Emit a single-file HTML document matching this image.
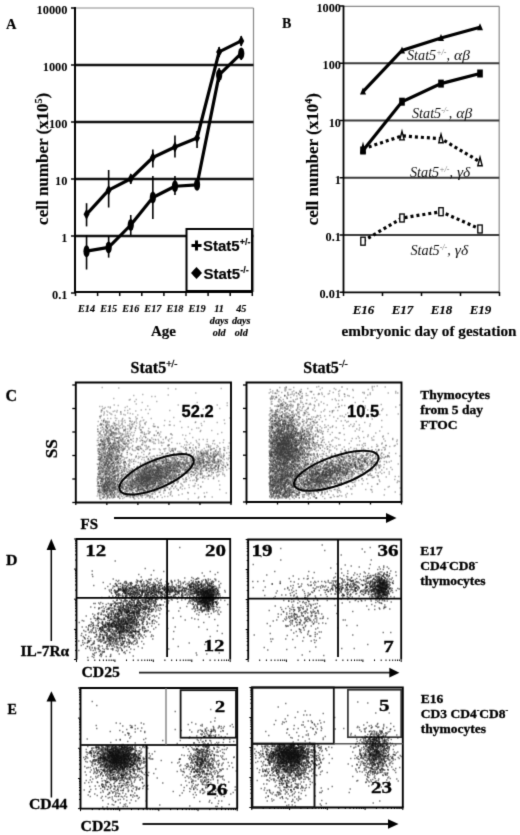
<!DOCTYPE html>
<html><head><meta charset="utf-8"><style>
html,body{margin:0;padding:0;background:#fff;width:520px;height:835px;overflow:hidden}
svg{display:block}
</style></head><body>
<svg width="520" height="835" viewBox="0 0 520 835">
<defs><filter id="soft" filterUnits="userSpaceOnUse" x="0" y="0" width="520" height="835" color-interpolation-filters="sRGB"><feConvolveMatrix order="3" kernelMatrix="1 6 1 6 36 6 1 6 1" divisor="64" edgeMode="duplicate"/></filter></defs>
<g filter="url(#soft)">
<rect width="520" height="835" fill="#fff"/>
<text x="6" y="29" font-family="Liberation Serif" font-size="14.5" font-weight="bold" font-style="normal" text-anchor="start" fill="#000" stroke="#000" stroke-width="0.15" >A</text>
<line x1="75" y1="8" x2="253.5" y2="8" stroke="#888" stroke-width="1.2" />
<line x1="253.5" y1="8" x2="253.5" y2="292" stroke="#888" stroke-width="1.2" />
<line x1="75" y1="65.0" x2="253.5" y2="65.0" stroke="#111" stroke-width="2.3" />
<line x1="75" y1="122.0" x2="253.5" y2="122.0" stroke="#111" stroke-width="2.3" />
<line x1="75" y1="179.0" x2="253.5" y2="179.0" stroke="#111" stroke-width="2.3" />
<line x1="75" y1="236.0" x2="253.5" y2="236.0" stroke="#111" stroke-width="2.3" />
<line x1="75" y1="7" x2="75" y2="293" stroke="#000" stroke-width="2" />
<line x1="71" y1="8.0" x2="75" y2="8.0" stroke="#000" stroke-width="1.5" />
<line x1="71" y1="65.0" x2="75" y2="65.0" stroke="#000" stroke-width="1.5" />
<line x1="71" y1="122.0" x2="75" y2="122.0" stroke="#000" stroke-width="1.5" />
<line x1="71" y1="179.0" x2="75" y2="179.0" stroke="#000" stroke-width="1.5" />
<line x1="71" y1="236.0" x2="75" y2="236.0" stroke="#000" stroke-width="1.5" />
<line x1="71" y1="293.0" x2="75" y2="293.0" stroke="#000" stroke-width="1.5" />
<text transform="translate(67.5,13.6) scale(1,1.05)" font-family="Liberation Serif" font-size="12.4" font-weight="bold" text-anchor="end">10000</text>
<text transform="translate(67.5,70.6) scale(1,1.05)" font-family="Liberation Serif" font-size="12.4" font-weight="bold" text-anchor="end">1000</text>
<text transform="translate(67.5,127.6) scale(1,1.05)" font-family="Liberation Serif" font-size="12.4" font-weight="bold" text-anchor="end">100</text>
<text transform="translate(67.5,184.6) scale(1,1.05)" font-family="Liberation Serif" font-size="12.4" font-weight="bold" text-anchor="end">10</text>
<text transform="translate(67.5,241.6) scale(1,1.05)" font-family="Liberation Serif" font-size="12.4" font-weight="bold" text-anchor="end">1</text>
<text transform="translate(67.5,298.6) scale(1,1.05)" font-family="Liberation Serif" font-size="12.4" font-weight="bold" text-anchor="end">0.1</text>
<line x1="74" y1="292" x2="253" y2="292" stroke="#000" stroke-width="2.2" />
<line x1="75.5" y1="292" x2="75.5" y2="296" stroke="#000" stroke-width="1.5" />
<line x1="97.6" y1="292" x2="97.6" y2="296" stroke="#000" stroke-width="1.5" />
<line x1="119.7" y1="292" x2="119.7" y2="296" stroke="#000" stroke-width="1.5" />
<line x1="141.8" y1="292" x2="141.8" y2="296" stroke="#000" stroke-width="1.5" />
<line x1="163.9" y1="292" x2="163.9" y2="296" stroke="#000" stroke-width="1.5" />
<line x1="186.0" y1="292" x2="186.0" y2="296" stroke="#000" stroke-width="1.5" />
<line x1="208.10000000000002" y1="292" x2="208.10000000000002" y2="296" stroke="#000" stroke-width="1.5" />
<line x1="230.20000000000002" y1="292" x2="230.20000000000002" y2="296" stroke="#000" stroke-width="1.5" />
<line x1="252.3" y1="292" x2="252.3" y2="296" stroke="#000" stroke-width="1.5" />
<text x="86.55" y="312" font-family="Liberation Serif" font-size="10.2" font-weight="bold" font-style="italic" text-anchor="middle" fill="#000" stroke="#000" stroke-width="0.15" >E14</text>
<text x="108.65" y="312" font-family="Liberation Serif" font-size="10.2" font-weight="bold" font-style="italic" text-anchor="middle" fill="#000" stroke="#000" stroke-width="0.15" >E15</text>
<text x="130.75" y="312" font-family="Liberation Serif" font-size="10.2" font-weight="bold" font-style="italic" text-anchor="middle" fill="#000" stroke="#000" stroke-width="0.15" >E16</text>
<text x="152.85000000000002" y="312" font-family="Liberation Serif" font-size="10.2" font-weight="bold" font-style="italic" text-anchor="middle" fill="#000" stroke="#000" stroke-width="0.15" >E17</text>
<text x="174.95" y="312" font-family="Liberation Serif" font-size="10.2" font-weight="bold" font-style="italic" text-anchor="middle" fill="#000" stroke="#000" stroke-width="0.15" >E18</text>
<text x="197.05" y="312" font-family="Liberation Serif" font-size="10.2" font-weight="bold" font-style="italic" text-anchor="middle" fill="#000" stroke="#000" stroke-width="0.15" >E19</text>
<text x="219.15" y="312" font-family="Liberation Serif" font-size="10.2" font-weight="bold" font-style="italic" text-anchor="middle" fill="#000" stroke="#000" stroke-width="0.15" >11</text>
<text x="219.15" y="323.5" font-family="Liberation Serif" font-size="10.2" font-weight="bold" font-style="italic" text-anchor="middle" fill="#000" stroke="#000" stroke-width="0.15" >days</text>
<text x="219.15" y="335.8" font-family="Liberation Serif" font-size="10.2" font-weight="bold" font-style="italic" text-anchor="middle" fill="#000" stroke="#000" stroke-width="0.15" >old</text>
<text x="241.25" y="312" font-family="Liberation Serif" font-size="10.2" font-weight="bold" font-style="italic" text-anchor="middle" fill="#000" stroke="#000" stroke-width="0.15" >45</text>
<text x="241.25" y="323.5" font-family="Liberation Serif" font-size="10.2" font-weight="bold" font-style="italic" text-anchor="middle" fill="#000" stroke="#000" stroke-width="0.15" >days</text>
<text x="241.25" y="335.8" font-family="Liberation Serif" font-size="10.2" font-weight="bold" font-style="italic" text-anchor="middle" fill="#000" stroke="#000" stroke-width="0.15" >old</text>
<text x="163.4" y="336" font-family="Liberation Serif" font-size="15" font-weight="bold" font-style="normal" text-anchor="middle" fill="#000" stroke="#000" stroke-width="0.15" >Age</text>
<text transform="translate(48.2,158.8) rotate(-90)" font-family="Liberation Serif" font-size="17" font-weight="bold" text-anchor="middle" stroke="#000" stroke-width="0.15">cell number (x10<tspan dy="-6" font-size="10">5</tspan><tspan dy="6">)</tspan></text>
<line x1="86.55" y1="203.2" x2="86.55" y2="226.4" stroke="#000" stroke-width="1.6" />
<line x1="108.65" y1="170" x2="108.65" y2="207.5" stroke="#000" stroke-width="1.6" />
<line x1="130.75" y1="174" x2="130.75" y2="184" stroke="#000" stroke-width="1.6" />
<line x1="152.85000000000002" y1="149.5" x2="152.85000000000002" y2="167.5" stroke="#000" stroke-width="1.6" />
<line x1="174.95" y1="135.5" x2="174.95" y2="157.5" stroke="#000" stroke-width="1.6" />
<line x1="197.05" y1="131" x2="197.05" y2="148" stroke="#000" stroke-width="1.6" />
<line x1="219.15" y1="47" x2="219.15" y2="57" stroke="#000" stroke-width="1.6" />
<line x1="241.25" y1="36" x2="241.25" y2="46" stroke="#000" stroke-width="1.6" />
<line x1="86.55" y1="235" x2="86.55" y2="269.5" stroke="#000" stroke-width="1.6" />
<line x1="108.65" y1="236" x2="108.65" y2="257.6" stroke="#000" stroke-width="1.6" />
<line x1="130.75" y1="215" x2="130.75" y2="235" stroke="#000" stroke-width="1.6" />
<line x1="152.85000000000002" y1="176" x2="152.85000000000002" y2="219" stroke="#000" stroke-width="1.6" />
<line x1="174.95" y1="176" x2="174.95" y2="195" stroke="#000" stroke-width="1.6" />
<line x1="197.05" y1="181" x2="197.05" y2="189" stroke="#000" stroke-width="1.6" />
<line x1="219.15" y1="68" x2="219.15" y2="82" stroke="#000" stroke-width="1.6" />
<line x1="241.25" y1="48" x2="241.25" y2="60" stroke="#000" stroke-width="1.6" />
<polyline points="86.55,214.3 108.65,190.2 130.75,178.75 152.85000000000002,157.5 174.95,147 197.05,138 219.15,51.9 241.25,40.9" fill="none" stroke="#000" stroke-width="3.2" stroke-linejoin="round"/>
<polyline points="86.55,251.2 108.65,247.4 130.75,225 152.85000000000002,197.5 174.95,186.25 197.05,184.8 219.15,74.9 241.25,53.4" fill="none" stroke="#000" stroke-width="3.2" stroke-linejoin="round"/>
<path d="M86.55 208.8 L89.55 214.3 L86.55 219.8 L83.55 214.3Z" fill="#000"/>
<path d="M108.65 184.7 L111.65 190.2 L108.65 195.7 L105.65 190.2Z" fill="#000"/>
<path d="M130.75 173.25 L133.75 178.75 L130.75 184.25 L127.75 178.75Z" fill="#000"/>
<path d="M152.85000000000002 152.0 L155.85000000000002 157.5 L152.85000000000002 163.0 L149.85000000000002 157.5Z" fill="#000"/>
<path d="M174.95 141.5 L177.95 147 L174.95 152.5 L171.95 147Z" fill="#000"/>
<path d="M197.05 132.5 L200.05 138 L197.05 143.5 L194.05 138Z" fill="#000"/>
<path d="M219.15 46.4 L222.15 51.9 L219.15 57.4 L216.15 51.9Z" fill="#000"/>
<path d="M241.25 35.4 L244.25 40.9 L241.25 46.4 L238.25 40.9Z" fill="#000"/>
<ellipse cx="86.55" cy="251.2" rx="3.1" ry="6" fill="#000"/>
<ellipse cx="108.65" cy="247.4" rx="3.1" ry="6" fill="#000"/>
<ellipse cx="130.75" cy="225" rx="3.1" ry="6" fill="#000"/>
<ellipse cx="152.85000000000002" cy="197.5" rx="3.1" ry="6" fill="#000"/>
<ellipse cx="174.95" cy="186.25" rx="3.1" ry="6" fill="#000"/>
<ellipse cx="197.05" cy="184.8" rx="3.1" ry="6" fill="#000"/>
<ellipse cx="219.15" cy="74.9" rx="3.1" ry="6" fill="#000"/>
<ellipse cx="241.25" cy="53.4" rx="3.1" ry="6" fill="#000"/>
<rect x="186.5" y="229" width="65.5" height="62" fill="#fff" stroke="#000" stroke-width="2"/>
<path d="M191.5 245.5H201.5M196.5 240.5V250.5" stroke="#000" stroke-width="3"/>
<path d="M196.5 267L202.0 273L196.5 279L191.0 273Z" fill="#000"/>
<ellipse cx="196.5" cy="273" rx="3.5" ry="4" fill="#000"/>
<text x="203" y="250.8" font-family="Liberation Sans" font-size="15" font-weight="bold" font-style="normal" text-anchor="start" fill="#000" stroke="#000" stroke-width="0.15" >Stat5<tspan dy="-6" font-size="9">+/-</tspan></text>
<text x="203.5" y="278.6" font-family="Liberation Sans" font-size="15" font-weight="bold" font-style="normal" text-anchor="start" fill="#000" stroke="#000" stroke-width="0.15" >Stat5<tspan dy="-6" font-size="9">-/-</tspan></text>
<text x="282" y="28" font-family="Liberation Serif" font-size="14" font-weight="bold" font-style="normal" text-anchor="start" fill="#000" stroke="#000" stroke-width="0.15" >B</text>
<line x1="343.5" y1="6.3" x2="499.2" y2="6.3" stroke="#888" stroke-width="1.2" />
<line x1="499.2" y1="6.3" x2="499.2" y2="292" stroke="#888" stroke-width="1.2" />
<line x1="343.5" y1="63.25" x2="499.2" y2="63.25" stroke="#3a3a3a" stroke-width="2" />
<line x1="343.5" y1="120.5" x2="499.2" y2="120.5" stroke="#3a3a3a" stroke-width="2" />
<line x1="343.5" y1="177.75" x2="499.2" y2="177.75" stroke="#3a3a3a" stroke-width="2" />
<line x1="343.5" y1="235.0" x2="499.2" y2="235.0" stroke="#3a3a3a" stroke-width="2" />
<line x1="343.5" y1="5.5" x2="343.5" y2="293" stroke="#000" stroke-width="1.8" />
<line x1="339.5" y1="6.0" x2="343.5" y2="6.0" stroke="#000" stroke-width="1.5" />
<text transform="translate(341,12.0) scale(1,1.05)" font-family="Liberation Serif" font-size="12.3" font-weight="bold" text-anchor="end">1000</text>
<line x1="339.5" y1="63.25" x2="343.5" y2="63.25" stroke="#000" stroke-width="1.5" />
<text transform="translate(341,69.2) scale(1,1.05)" font-family="Liberation Serif" font-size="12.3" font-weight="bold" text-anchor="end">100</text>
<line x1="339.5" y1="120.5" x2="343.5" y2="120.5" stroke="#000" stroke-width="1.5" />
<text transform="translate(341,126.5) scale(1,1.05)" font-family="Liberation Serif" font-size="12.3" font-weight="bold" text-anchor="end">10</text>
<line x1="339.5" y1="177.75" x2="343.5" y2="177.75" stroke="#000" stroke-width="1.5" />
<text transform="translate(341,183.8) scale(1,1.05)" font-family="Liberation Serif" font-size="12.3" font-weight="bold" text-anchor="end">1</text>
<line x1="339.5" y1="235.0" x2="343.5" y2="235.0" stroke="#000" stroke-width="1.5" />
<text transform="translate(341,241.0) scale(1,1.05)" font-family="Liberation Serif" font-size="12.3" font-weight="bold" text-anchor="end">0.1</text>
<line x1="339.5" y1="292.25" x2="343.5" y2="292.25" stroke="#000" stroke-width="1.5" />
<text transform="translate(341,298.2) scale(1,1.05)" font-family="Liberation Serif" font-size="12.3" font-weight="bold" text-anchor="end">0.01</text>
<line x1="342.5" y1="292.4" x2="499.2" y2="292.4" stroke="#000" stroke-width="1.8" />
<line x1="343.5" y1="292" x2="343.5" y2="296" stroke="#000" stroke-width="1.5" />
<line x1="382.5" y1="292" x2="382.5" y2="296" stroke="#000" stroke-width="1.5" />
<line x1="421.5" y1="292" x2="421.5" y2="296" stroke="#000" stroke-width="1.5" />
<line x1="460.5" y1="292" x2="460.5" y2="296" stroke="#000" stroke-width="1.5" />
<line x1="499.5" y1="292" x2="499.5" y2="296" stroke="#000" stroke-width="1.5" />
<text x="363.5" y="313.5" font-family="Liberation Serif" font-size="13" font-weight="bold" font-style="italic" text-anchor="middle" fill="#000" stroke="#000" stroke-width="0.15" >E16</text>
<text x="402.5" y="313.5" font-family="Liberation Serif" font-size="13" font-weight="bold" font-style="italic" text-anchor="middle" fill="#000" stroke="#000" stroke-width="0.15" >E17</text>
<text x="441.5" y="313.5" font-family="Liberation Serif" font-size="13" font-weight="bold" font-style="italic" text-anchor="middle" fill="#000" stroke="#000" stroke-width="0.15" >E18</text>
<text x="480.5" y="313.5" font-family="Liberation Serif" font-size="13" font-weight="bold" font-style="italic" text-anchor="middle" fill="#000" stroke="#000" stroke-width="0.15" >E19</text>
<text x="429" y="336.3" font-family="Liberation Serif" font-size="15.2" font-weight="bold" font-style="normal" text-anchor="middle" fill="#000" stroke="#000" stroke-width="0.15" textLength="175" lengthAdjust="spacingAndGlyphs">embryonic day of gestation</text>
<text transform="translate(318,159.2) rotate(-90)" font-family="Liberation Serif" font-size="17" font-weight="bold" text-anchor="middle" stroke="#000" stroke-width="0.15">cell number (x10<tspan dy="-6" font-size="10">4</tspan><tspan dy="6">)</tspan></text>
<polyline points="363.0,91.6 402.0,50.4 441.0,38 480.0,27.3" fill="none" stroke="#000" stroke-width="3.2"/>
<polyline points="363.0,150.5 402.0,101.7 441.0,83.6 480.0,73.5" fill="none" stroke="#000" stroke-width="3.2"/>
<polyline points="363.0,148.8 402.0,135.9 441.0,138.75 480.0,161.8" fill="none" stroke="#000" stroke-width="3.2" stroke-dasharray="3,3"/>
<polyline points="363.0,241.2 402.0,218 441.0,211.7 480.0,229" fill="none" stroke="#000" stroke-width="3.2" stroke-dasharray="3,3"/>
<path d="M363.0 144.3L365.2 152.8L360.8 152.8Z" fill="#fff" stroke="#000" stroke-width="1.4"/>
<path d="M402.0 131.4L404.2 139.9L399.8 139.9Z" fill="#fff" stroke="#000" stroke-width="1.4"/>
<path d="M441.0 134.25L443.2 142.75L438.8 142.75Z" fill="#fff" stroke="#000" stroke-width="1.4"/>
<path d="M480.0 157.3L482.2 165.8L477.8 165.8Z" fill="#fff" stroke="#000" stroke-width="1.4"/>
<path d="M363.0 87.6L366.0 94.6L360.0 94.6Z" fill="#000"/>
<path d="M402.0 46.4L405.0 53.4L399.0 53.4Z" fill="#000"/>
<path d="M441.0 34L444.0 41L438.0 41Z" fill="#000"/>
<path d="M480.0 23.3L483.0 30.3L477.0 30.3Z" fill="#000"/>
<rect x="360.2" y="146.5" width="5.6" height="8" fill="#000"/>
<rect x="399.2" y="97.7" width="5.6" height="8" fill="#000"/>
<rect x="438.2" y="79.6" width="5.6" height="8" fill="#000"/>
<rect x="477.2" y="69.5" width="5.6" height="8" fill="#000"/>
<rect x="360.8" y="237.2" width="4.4" height="8" fill="#fff" stroke="#000" stroke-width="1.3"/>
<rect x="399.8" y="214" width="4.4" height="8" fill="#fff" stroke="#000" stroke-width="1.3"/>
<rect x="438.8" y="207.7" width="4.4" height="8" fill="#fff" stroke="#000" stroke-width="1.3"/>
<rect x="477.8" y="225" width="4.4" height="8" fill="#fff" stroke="#000" stroke-width="1.3"/>
<text x="407" y="60" font-family="Liberation Serif" font-size="14.2" font-weight="normal" font-style="italic" text-anchor="start" fill="#111" >Stat5<tspan dy="-5" font-size="8" fill="#777">+/-</tspan><tspan dy="5">,</tspan><tspan dx="4" font-size="15.5">αβ</tspan></text>
<text x="412" y="117.5" font-family="Liberation Serif" font-size="14.2" font-weight="normal" font-style="italic" text-anchor="start" fill="#111" >Stat5<tspan dy="-5" font-size="8" fill="#777">-/-</tspan><tspan dy="5">,</tspan><tspan dx="4" font-size="15.5">αβ</tspan></text>
<text x="410" y="176.5" font-family="Liberation Serif" font-size="14.2" font-weight="normal" font-style="italic" text-anchor="start" fill="#111" >Stat5<tspan dy="-5" font-size="8" fill="#777">+/-</tspan><tspan dy="5">,</tspan><tspan dx="4" font-size="15.5">γδ</tspan></text>
<text x="410.5" y="255" font-family="Liberation Serif" font-size="14.2" font-weight="normal" font-style="italic" text-anchor="start" fill="#111" >Stat5<tspan dy="-5" font-size="8" fill="#777">-/-</tspan><tspan dy="5">,</tspan><tspan dx="4" font-size="15.5">γδ</tspan></text>
<text x="5.5" y="401.3" font-family="Liberation Serif" font-size="16" font-weight="bold" font-style="normal" text-anchor="start" fill="#000" stroke="#000" stroke-width="0.3" >C</text>
<text x="154" y="372.5" font-family="Liberation Serif" font-size="16" font-weight="bold" font-style="normal" text-anchor="middle" fill="#000" stroke="#000" stroke-width="0.3" >Stat5<tspan dy="-6" font-size="9.5">+/-</tspan></text>
<text x="325.5" y="372.5" font-family="Liberation Serif" font-size="16" font-weight="bold" font-style="normal" text-anchor="middle" fill="#000" stroke="#000" stroke-width="0.3" >Stat5<tspan dy="-6" font-size="9.5">-/-</tspan></text>
<path d="M75.8 502.5V382.5H231V502.5" fill="none" stroke="#000" stroke-width="1.9"/>
<line x1="75.0" y1="502.5" x2="231.8" y2="502.5" stroke="#000" stroke-width="1.9" />
<line x1="72.3" y1="385.0" x2="75.8" y2="385.0" stroke="#000" stroke-width="1.3" />
<line x1="72.3" y1="408.5" x2="75.8" y2="408.5" stroke="#000" stroke-width="1.3" />
<line x1="72.3" y1="432.0" x2="75.8" y2="432.0" stroke="#000" stroke-width="1.3" />
<line x1="72.3" y1="455.5" x2="75.8" y2="455.5" stroke="#000" stroke-width="1.3" />
<line x1="72.3" y1="479.0" x2="75.8" y2="479.0" stroke="#000" stroke-width="1.3" />
<line x1="72.3" y1="502.5" x2="75.8" y2="502.5" stroke="#000" stroke-width="1.3" />
<line x1="75.8" y1="502.5" x2="75.8" y2="505.0" stroke="#000" stroke-width="1.3" />
<line x1="106.84" y1="502.5" x2="106.84" y2="505.0" stroke="#000" stroke-width="1.3" />
<line x1="137.88" y1="502.5" x2="137.88" y2="505.0" stroke="#000" stroke-width="1.3" />
<line x1="168.92" y1="502.5" x2="168.92" y2="505.0" stroke="#000" stroke-width="1.3" />
<line x1="199.95999999999998" y1="502.5" x2="199.95999999999998" y2="505.0" stroke="#000" stroke-width="1.3" />
<line x1="231.0" y1="502.5" x2="231.0" y2="505.0" stroke="#000" stroke-width="1.3" />
<path d="M246.5 502V382.5H401.5V502" fill="none" stroke="#000" stroke-width="1.9"/>
<line x1="245.7" y1="502" x2="402.3" y2="502" stroke="#000" stroke-width="1.9" />
<line x1="243.0" y1="385.0" x2="246.5" y2="385.0" stroke="#000" stroke-width="1.3" />
<line x1="243.0" y1="408.4" x2="246.5" y2="408.4" stroke="#000" stroke-width="1.3" />
<line x1="243.0" y1="431.8" x2="246.5" y2="431.8" stroke="#000" stroke-width="1.3" />
<line x1="243.0" y1="455.2" x2="246.5" y2="455.2" stroke="#000" stroke-width="1.3" />
<line x1="243.0" y1="478.6" x2="246.5" y2="478.6" stroke="#000" stroke-width="1.3" />
<line x1="243.0" y1="502.0" x2="246.5" y2="502.0" stroke="#000" stroke-width="1.3" />
<line x1="246.5" y1="502" x2="246.5" y2="504.5" stroke="#000" stroke-width="1.3" />
<line x1="277.5" y1="502" x2="277.5" y2="504.5" stroke="#000" stroke-width="1.3" />
<line x1="308.5" y1="502" x2="308.5" y2="504.5" stroke="#000" stroke-width="1.3" />
<line x1="339.5" y1="502" x2="339.5" y2="504.5" stroke="#000" stroke-width="1.3" />
<line x1="370.5" y1="502" x2="370.5" y2="504.5" stroke="#000" stroke-width="1.3" />
<line x1="401.5" y1="502" x2="401.5" y2="504.5" stroke="#000" stroke-width="1.3" />
<text transform="translate(56.5,448.7) rotate(-90)" font-family="Liberation Serif" font-size="17" font-weight="bold" text-anchor="middle" stroke="#000" stroke-width="0.3">SS</text>
<text x="80.5" y="528.7" font-family="Liberation Serif" font-size="15" font-weight="bold" font-style="normal" text-anchor="start" fill="#000" stroke="#000" stroke-width="0.3" >FS</text>
<line x1="114" y1="518" x2="388" y2="518" stroke="#000" stroke-width="2" />
<path d="M386 513L396.5 518L386 523Z" fill="#000"/>
<text x="181.5" y="417" font-family="Liberation Sans" font-size="16.5" font-weight="bold" font-style="normal" text-anchor="start" fill="#000" stroke="#000" stroke-width="0.3" >52.2</text>
<text x="347" y="416.5" font-family="Liberation Sans" font-size="16.5" font-weight="bold" font-style="normal" text-anchor="start" fill="#000" stroke="#000" stroke-width="0.3" >10.5</text>
<text x="420.2" y="398.7" font-family="Liberation Serif" font-size="13.5" font-weight="bold" font-style="normal" text-anchor="start" fill="#000" stroke="#000" stroke-width="0.3" >Thymocytes</text>
<text x="420.2" y="413.9" font-family="Liberation Serif" font-size="13.5" font-weight="bold" font-style="normal" text-anchor="start" fill="#000" stroke="#000" stroke-width="0.3" >from 5 day</text>
<text x="420.2" y="429.09999999999997" font-family="Liberation Serif" font-size="13.5" font-weight="bold" font-style="normal" text-anchor="start" fill="#000" stroke="#000" stroke-width="0.3" >FTOC</text>
<text x="6" y="565" font-family="Liberation Serif" font-size="15.5" font-weight="bold" font-style="normal" text-anchor="start" fill="#000" stroke="#000" stroke-width="0.3" textLength="11.5" lengthAdjust="spacingAndGlyphs">D</text>
<line x1="51.3" y1="548" x2="51.3" y2="641" stroke="#000" stroke-width="1.5" />
<path d="M51.3 538.7L56 550L46.6 550Z" fill="#000"/>
<text x="20.5" y="655.6" font-family="Liberation Serif" font-size="15" font-weight="bold" font-style="normal" text-anchor="start" fill="#000" stroke="#000" stroke-width="0.3" textLength="48.7" lengthAdjust="spacingAndGlyphs">IL-7Rα</text>
<text x="81.5" y="676.8" font-family="Liberation Serif" font-size="15" font-weight="bold" font-style="normal" text-anchor="start" fill="#000" stroke="#000" stroke-width="0.3" textLength="38.5" lengthAdjust="spacingAndGlyphs">CD25</text>
<line x1="139" y1="672.7" x2="391" y2="672.7" stroke="#222" stroke-width="1.8" />
<path d="M389.3 667.8L399.4 672.7L389.3 677.6Z" fill="#000"/>
<path d="M76.5 659.5V539H230.2V659.5" fill="none" stroke="#000" stroke-width="1.8"/>
<path d="M74.0 539.0H76.5M76.5 659.5V662.0M75.0 560.1H76.5M88.1 659.5V661.0M75.0 554.8H76.5M94.8 659.5V661.0M75.0 551.0H76.5M99.6 659.5V661.0M75.0 548.1H76.5M103.4 659.5V661.0M75.0 545.7H76.5M106.4 659.5V661.0M75.0 543.7H76.5M109.0 659.5V661.0M75.0 541.9H76.5M111.2 659.5V661.0M75.0 540.4H76.5M113.2 659.5V661.0M74.0 569.1H76.5M114.9 659.5V662.0M75.0 590.2H76.5M126.5 659.5V661.0M75.0 584.9H76.5M133.3 659.5V661.0M75.0 581.1H76.5M138.1 659.5V661.0M75.0 578.2H76.5M141.8 659.5V661.0M75.0 575.8H76.5M144.8 659.5V661.0M75.0 573.8H76.5M147.4 659.5V661.0M75.0 572.0H76.5M149.6 659.5V661.0M75.0 570.5H76.5M151.6 659.5V661.0M74.0 599.2H76.5M153.3 659.5V662.0M75.0 620.3H76.5M164.9 659.5V661.0M75.0 615.0H76.5M171.7 659.5V661.0M75.0 611.2H76.5M176.5 659.5V661.0M75.0 608.3H76.5M180.2 659.5V661.0M75.0 605.9H76.5M183.3 659.5V661.0M75.0 603.9H76.5M185.8 659.5V661.0M75.0 602.2H76.5M188.1 659.5V661.0M75.0 600.6H76.5M190.0 659.5V661.0M74.0 629.4H76.5M191.8 659.5V662.0M75.0 650.4H76.5M203.3 659.5V661.0M75.0 645.1H76.5M210.1 659.5V661.0M75.0 641.4H76.5M214.9 659.5V661.0M75.0 638.4H76.5M218.6 659.5V661.0M75.0 636.1H76.5M221.7 659.5V661.0M75.0 634.0H76.5M224.2 659.5V661.0M75.0 632.3H76.5M226.5 659.5V661.0M75.0 630.8H76.5M228.4 659.5V661.0M74.0 659.5H76.5M230.2 659.5V662.0" stroke="#000" stroke-width="1" fill="none"/>
<path d="M248.2 659.5V539.5H401.2V659.5" fill="none" stroke="#000" stroke-width="1.8"/>
<path d="M245.7 539.5H248.2M248.2 659.5V662.0M246.7 560.5H248.2M259.7 659.5V661.0M246.7 555.2H248.2M266.4 659.5V661.0M246.7 551.4H248.2M271.2 659.5V661.0M246.7 548.5H248.2M274.9 659.5V661.0M246.7 546.2H248.2M278.0 659.5V661.0M246.7 544.1H248.2M280.5 659.5V661.0M246.7 542.4H248.2M282.7 659.5V661.0M246.7 540.9H248.2M284.7 659.5V661.0M245.7 569.5H248.2M286.4 659.5V662.0M246.7 590.5H248.2M298.0 659.5V661.0M246.7 585.2H248.2M304.7 659.5V661.0M246.7 581.4H248.2M309.5 659.5V661.0M246.7 578.5H248.2M313.2 659.5V661.0M246.7 576.2H248.2M316.2 659.5V661.0M246.7 574.1H248.2M318.8 659.5V661.0M246.7 572.4H248.2M321.0 659.5V661.0M246.7 570.9H248.2M322.9 659.5V661.0M245.7 599.5H248.2M324.7 659.5V662.0M246.7 620.5H248.2M336.2 659.5V661.0M246.7 615.2H248.2M342.9 659.5V661.0M246.7 611.4H248.2M347.7 659.5V661.0M246.7 608.5H248.2M351.4 659.5V661.0M246.7 606.2H248.2M354.5 659.5V661.0M246.7 604.1H248.2M357.0 659.5V661.0M246.7 602.4H248.2M359.2 659.5V661.0M246.7 600.9H248.2M361.2 659.5V661.0M245.7 629.5H248.2M362.9 659.5V662.0M246.7 650.5H248.2M374.5 659.5V661.0M246.7 645.2H248.2M381.2 659.5V661.0M246.7 641.4H248.2M386.0 659.5V661.0M246.7 638.5H248.2M389.7 659.5V661.0M246.7 636.2H248.2M392.7 659.5V661.0M246.7 634.1H248.2M395.3 659.5V661.0M246.7 632.4H248.2M397.5 659.5V661.0M246.7 630.9H248.2M399.4 659.5V661.0M245.7 659.5H248.2M401.2 659.5V662.0" stroke="#000" stroke-width="1" fill="none"/>
<line x1="167.1" y1="539" x2="167.1" y2="657" stroke="#000" stroke-width="1.8" />
<line x1="76.5" y1="597.8" x2="230.2" y2="597.8" stroke="#000" stroke-width="1.8" />
<line x1="338" y1="539.5" x2="338" y2="657" stroke="#000" stroke-width="1.8" />
<line x1="248.2" y1="598.6" x2="401.2" y2="598.6" stroke="#000" stroke-width="1.8" />
<text transform="translate(85.2,555.6) scale(1.2,1)" font-family="Liberation Serif" font-size="17.5" font-weight="bold" stroke="#000" stroke-width="0.3">12</text>
<text transform="translate(205.1,555.6) scale(1.2,1)" font-family="Liberation Serif" font-size="17.5" font-weight="bold" stroke="#000" stroke-width="0.3">20</text>
<text transform="translate(203.6,651.2) scale(1.2,1)" font-family="Liberation Serif" font-size="17.5" font-weight="bold" stroke="#000" stroke-width="0.3">12</text>
<text transform="translate(251.4,556) scale(1.2,1)" font-family="Liberation Serif" font-size="17.5" font-weight="bold" stroke="#000" stroke-width="0.3">19</text>
<text transform="translate(377.4,556) scale(1.2,1)" font-family="Liberation Serif" font-size="17.5" font-weight="bold" stroke="#000" stroke-width="0.3">36</text>
<text transform="translate(383.2,651.6) scale(1.2,1)" font-family="Liberation Serif" font-size="17.5" font-weight="bold" stroke="#000" stroke-width="0.3">7</text>
<text x="420.2" y="554.6" font-family="Liberation Serif" font-size="13.5" font-weight="bold" font-style="normal" text-anchor="start" fill="#000" stroke="#000" stroke-width="0.3" >E17</text>
<text x="420.2" y="570" font-family="Liberation Serif" font-size="13.5" font-weight="bold" font-style="normal" text-anchor="start" fill="#000" stroke="#000" stroke-width="0.3" >CD4<tspan dy="-5" font-size="8">-</tspan><tspan dy="5">CD8</tspan><tspan dy="-5" font-size="8">-</tspan></text>
<text x="420.2" y="585" font-family="Liberation Serif" font-size="13.5" font-weight="bold" font-style="normal" text-anchor="start" fill="#000" stroke="#000" stroke-width="0.3" >thymocytes</text>
<text x="7.5" y="713.7" font-family="Liberation Serif" font-size="14" font-weight="bold" font-style="normal" text-anchor="start" fill="#000" stroke="#000" stroke-width="0.3" >E</text>
<line x1="51.4" y1="700" x2="51.4" y2="797.5" stroke="#000" stroke-width="1.5" />
<path d="M51.4 691.2L56.3 701.6L46.5 701.6Z" fill="#000"/>
<text x="29" y="809.2" font-family="Liberation Serif" font-size="15" font-weight="bold" font-style="normal" text-anchor="start" fill="#000" stroke="#000" stroke-width="0.3" textLength="38.5" lengthAdjust="spacingAndGlyphs">CD44</text>
<text x="80.6" y="830.8" font-family="Liberation Serif" font-size="15" font-weight="bold" font-style="normal" text-anchor="start" fill="#000" stroke="#000" stroke-width="0.3" textLength="38.5" lengthAdjust="spacingAndGlyphs">CD25</text>
<line x1="142.5" y1="824" x2="390" y2="824" stroke="#1a1a1a" stroke-width="1.9" />
<path d="M388 819.2L398.5 824L388 828.8Z" fill="#000"/>
<path d="M80.5 808.6V688H237.2V808.6" fill="none" stroke="#000" stroke-width="1.9"/>
<line x1="79.7" y1="808.6" x2="238.0" y2="808.6" stroke="#000" stroke-width="1.9" />
<path d="M78.0 688.0H80.5M80.5 808.6V811.1M79.0 709.1H80.5M92.3 808.6V810.1M79.0 703.8H80.5M99.2 808.6V810.1M79.0 700.0H80.5M104.1 808.6V810.1M79.0 697.1H80.5M107.9 808.6V810.1M79.0 694.7H80.5M111.0 808.6V810.1M79.0 692.7H80.5M113.6 808.6V810.1M79.0 690.9H80.5M115.9 808.6V810.1M79.0 689.4H80.5M117.9 808.6V810.1M78.0 718.1H80.5M119.7 808.6V811.1M79.0 739.2H80.5M131.5 808.6V810.1M79.0 733.9H80.5M138.4 808.6V810.1M79.0 730.1H80.5M143.3 808.6V810.1M79.0 727.2H80.5M147.1 808.6V810.1M79.0 724.8H80.5M150.2 808.6V810.1M79.0 722.8H80.5M152.8 808.6V810.1M79.0 721.1H80.5M155.1 808.6V810.1M79.0 719.5H80.5M157.1 808.6V810.1M78.0 748.3H80.5M158.8 808.6V811.1M79.0 769.4H80.5M170.6 808.6V810.1M79.0 764.1H80.5M177.5 808.6V810.1M79.0 760.3H80.5M182.4 808.6V810.1M79.0 757.4H80.5M186.2 808.6V810.1M79.0 755.0H80.5M189.3 808.6V810.1M79.0 753.0H80.5M192.0 808.6V810.1M79.0 751.2H80.5M194.2 808.6V810.1M79.0 749.7H80.5M196.2 808.6V810.1M78.0 778.5H80.5M198.0 808.6V811.1M79.0 799.5H80.5M209.8 808.6V810.1M79.0 794.2H80.5M216.7 808.6V810.1M79.0 790.4H80.5M221.6 808.6V810.1M79.0 787.5H80.5M225.4 808.6V810.1M79.0 785.1H80.5M228.5 808.6V810.1M79.0 783.1H80.5M231.1 808.6V810.1M79.0 781.4H80.5M233.4 808.6V810.1M79.0 779.8H80.5M235.4 808.6V810.1M78.0 808.6H80.5M237.2 808.6V811.1" stroke="#000" stroke-width="1" fill="none"/>
<path d="M251.8 807.5V687.5H402.8V807.5" fill="none" stroke="#000" stroke-width="1.9"/>
<line x1="251.0" y1="807.5" x2="403.6" y2="807.5" stroke="#000" stroke-width="1.9" />
<path d="M249.3 687.5H251.8M251.8 807.5V810.0M250.3 708.5H251.8M263.2 807.5V809.0M250.3 703.2H251.8M269.8 807.5V809.0M250.3 699.4H251.8M274.5 807.5V809.0M250.3 696.5H251.8M278.2 807.5V809.0M250.3 694.2H251.8M281.2 807.5V809.0M250.3 692.1H251.8M283.7 807.5V809.0M250.3 690.4H251.8M285.9 807.5V809.0M250.3 688.9H251.8M287.8 807.5V809.0M249.3 717.5H251.8M289.6 807.5V810.0M250.3 738.5H251.8M300.9 807.5V809.0M250.3 733.2H251.8M307.6 807.5V809.0M250.3 729.4H251.8M312.3 807.5V809.0M250.3 726.5H251.8M315.9 807.5V809.0M250.3 724.2H251.8M318.9 807.5V809.0M250.3 722.1H251.8M321.5 807.5V809.0M250.3 720.4H251.8M323.6 807.5V809.0M250.3 718.9H251.8M325.6 807.5V809.0M249.3 747.5H251.8M327.3 807.5V810.0M250.3 768.5H251.8M338.7 807.5V809.0M250.3 763.2H251.8M345.3 807.5V809.0M250.3 759.4H251.8M350.0 807.5V809.0M250.3 756.5H251.8M353.7 807.5V809.0M250.3 754.2H251.8M356.7 807.5V809.0M250.3 752.1H251.8M359.2 807.5V809.0M250.3 750.4H251.8M361.4 807.5V809.0M250.3 748.9H251.8M363.3 807.5V809.0M249.3 777.5H251.8M365.1 807.5V810.0M250.3 798.5H251.8M376.4 807.5V809.0M250.3 793.2H251.8M383.1 807.5V809.0M250.3 789.4H251.8M387.8 807.5V809.0M250.3 786.5H251.8M391.4 807.5V809.0M250.3 784.2H251.8M394.4 807.5V809.0M250.3 782.1H251.8M397.0 807.5V809.0M250.3 780.4H251.8M399.1 807.5V809.0M250.3 778.9H251.8M401.1 807.5V809.0M249.3 807.5H251.8M402.8 807.5V810.0" stroke="#000" stroke-width="1" fill="none"/>
<line x1="81" y1="745" x2="237.2" y2="745" stroke="#222" stroke-width="1.8" />
<line x1="166" y1="688" x2="166" y2="745" stroke="#777" stroke-width="1.3" />
<rect x="180.6" y="690.2" width="55.4" height="47.5" fill="none" stroke="#111" stroke-width="1.8"/>
<line x1="146.6" y1="745" x2="146.6" y2="808.6" stroke="#000" stroke-width="1.9" />
<rect x="252.4" y="687.5" width="81.4" height="56.2" fill="none" stroke="#111" stroke-width="1.8"/>
<rect x="252.4" y="743.7" width="62.1" height="63.8" fill="none" stroke="#111" stroke-width="1.9"/>
<rect x="347.9" y="689.8" width="53.3" height="47.4" fill="none" stroke="#333" stroke-width="1.7"/>
<line x1="333.8" y1="743.7" x2="402.8" y2="743.7" stroke="#555" stroke-width="1.6" />
<text transform="translate(214.70000000000002,712) scale(1.2,1)" font-family="Liberation Serif" font-size="17.5" font-weight="bold" stroke="#000" stroke-width="0.3">2</text>
<text transform="translate(206.6,794.5) scale(1.2,1)" font-family="Liberation Serif" font-size="17.5" font-weight="bold" stroke="#000" stroke-width="0.3">26</text>
<text transform="translate(379.0,711) scale(1.2,1)" font-family="Liberation Serif" font-size="17.5" font-weight="bold" stroke="#000" stroke-width="0.3">5</text>
<text transform="translate(371.09999999999997,793) scale(1.2,1)" font-family="Liberation Serif" font-size="17.5" font-weight="bold" stroke="#000" stroke-width="0.3">23</text>
<text x="420.8" y="703" font-family="Liberation Serif" font-size="13.5" font-weight="bold" font-style="normal" text-anchor="start" fill="#000" stroke="#000" stroke-width="0.3" >E16</text>
<text x="420.8" y="718" font-family="Liberation Serif" font-size="13.5" font-weight="bold" font-style="normal" text-anchor="start" fill="#000" stroke="#000" stroke-width="0.3" >CD3 CD4<tspan dy="-5" font-size="8">-</tspan><tspan dy="5">CD8</tspan><tspan dy="-5" font-size="8">-</tspan></text>
<text x="420.8" y="733.3" font-family="Liberation Serif" font-size="13.5" font-weight="bold" font-style="normal" text-anchor="start" fill="#000" stroke="#000" stroke-width="0.3" >thymocytes</text>
<g><g transform="scale(0.5)">
<path d="M279 968h3M333 933h3M234 884h3M307 967h3M241 971h3M285 972h3M281 897h3M339 952h3M226 981h3M271 983h3M292 958h3M253 905h3M313 934h3M246 894h3M275 974h3M335 962h3M286 948h3M324 976h3M215 903h3M222 960h3M243 969h3M297 968h3M232 962h3M218 950h3M430 931h3M328 938h3M284 951h3M324 946h3M203 969h3M214 967h3M209 939h3M390 786h3M390 926h3M340 957h3M343 956h3M368 964h3M297 958h3M209 982h3M205 988h3M309 947h3M414 907h3M242 950h3M320 979h3M204 962h3M294 974h3M428 922h3M242 962h3M291 968h3M291 974h3M228 880h3M248 943h3M282 961h3M352 909h3M427 918h3M239 877h3M419 895h3M369 913h3M407 906h3M332 949h3M326 952h3M229 952h3M428 919h3M297 955h3M303 964h3M312 922h3M280 964h3M266 977h3M294 972h3M217 939h3M271 961h3M293 964h3M209 932h3M352 942h3M316 944h3M290 963h3M317 940h3M301 955h3M271 966h3M239 919h3M211 943h3M377 932h3M283 876h3M321 948h3M304 968h3M337 931h3M227 894h3M330 943h3M310 973h3M420 908h3M248 956h3M275 958h3M243 876h3M359 924h3M210 943h3M218 960h3M290 875h3M240 982h3M229 973h3M223 972h3M349 922h3M315 971h3M324 927h3M290 954h3M271 912h3M227 984h3M241 992h3M386 916h3M279 975h3M401 847h3M338 952h3M237 905h3M288 952h3M211 949h3M364 941h3M234 978h3M285 950h3M295 939h3M297 948h3M294 930h3M297 970h3M295 954h3M296 937h3M316 953h3M282 978h3M299 946h3M289 960h3M220 868h3M424 924h3M307 957h3M326 951h3M227 952h3M445 885h3M248 821h3M213 997h3M229 836h3M274 956h3M224 905h3M305 978h3M345 902h3M360 935h3M198 949h3M232 903h3M334 964h3M344 939h3M355 907h3M207 994h3M289 928h3M372 922h3M275 981h3M219 916h3M231 876h3M231 887h3M343 945h3M288 947h3M249 845h3M236 881h3M412 906h3M325 945h3M355 912h3M299 953h3M393 924h3M254 890h3M284 956h3M193 992h3M283 855h3M314 955h3M328 966h3M291 961h3M294 948h3M276 980h3M355 951h3M297 959h3M340 933h3M301 928h3M288 968h3M365 925h3M318 947h3M201 947h3M301 978h3M446 930h3M284 978h3M276 961h3M348 942h3M208 914h3M257 976h3M254 975h3M294 980h3M239 985h3M318 928h3M347 957h3M213 936h3M208 982h3M404 955h3M225 925h3M222 966h3M215 994h3M227 931h3M198 892h3M202 943h3M291 963h3M346 919h3M356 924h3M431 931h3M335 957h3M221 940h3M358 938h3M279 896h3M226 845h3M300 943h3M336 946h3M354 910h3M413 924h3M296 958h3M213 965h3M256 953h3M347 955h3M196 981h3M262 880h3M311 961h3M298 944h3M262 944h3M280 934h3M394 932h3M309 959h3M325 975h3M210 956h3M218 954h3M219 886h3M209 949h3M264 872h3M215 917h3M385 899h3M325 923h3M224 941h3M242 941h3M454 929h3M371 940h3M288 970h3M236 964h3M321 933h3M219 903h3M408 957h3M318 944h3M334 967h3M273 898h3M221 906h3M336 933h3M263 988h3M382 922h3M243 971h3M210 893h3M312 974h3M389 928h3M204 931h3M303 950h3M206 957h3M304 938h3M213 922h3M213 895h3M249 940h3M242 969h3M333 957h3M217 965h3M338 953h3M278 966h3M293 955h3M257 966h3M413 883h3M211 912h3M354 926h3M269 975h3M222 929h3M316 938h3M309 922h3M257 980h3M401 927h3M293 972h3M300 967h3M394 912h3M367 940h3M201 922h3M377 928h3M449 933h3M354 933h3M300 946h3M285 953h3M338 941h3M228 967h3M285 967h3M210 987h3M297 970h3M362 906h3M438 979h3M202 979h3M200 899h3M273 982h3M225 868h3M298 996h3M264 973h3M281 970h3M409 923h3M331 949h3M338 966h3M258 977h3M319 932h3M198 957h3M270 965h3M325 936h3M217 970h3M354 929h3M316 933h3M290 954h3M419 925h3M316 950h3M290 995h3M235 850h3M308 976h3M234 969h3M195 972h3M210 974h3M298 950h3M221 911h3M356 959h3M251 954h3M348 930h3M346 907h3M295 945h3M309 921h3M236 993h3M212 866h3M318 941h3M250 973h3M222 970h3M282 974h3M199 928h3M259 858h3M310 957h3M371 946h3M209 986h3M372 959h3M288 962h3M215 891h3M311 933h3M244 973h3M210 960h3M306 963h3M332 952h3M206 906h3M232 951h3M244 966h3M220 828h3M308 951h3M213 940h3M280 963h3M336 882h3M332 912h3M404 909h3M399 913h3M377 929h3M437 949h3M296 951h3M303 924h3M294 961h3M272 937h3M336 936h3M288 939h3M224 996h3M198 917h3M225 823h3M211 921h3M276 940h3M263 963h3M367 939h3M259 964h3M195 907h3M316 950h3M209 859h3M330 940h3M243 960h3M225 954h3M334 930h3M312 973h3M226 946h3M205 844h3M402 929h3M310 940h3M338 948h3M215 935h3M327 946h3M238 979h3M234 876h3M328 951h3M295 956h3M392 902h3M289 885h3M272 965h3M212 937h3M318 960h3M306 938h3M215 884h3M284 979h3M317 966h3M211 909h3M322 891h3M310 941h3M291 961h3M334 939h3M276 955h3M320 931h3M206 972h3M227 894h3M300 947h3M381 926h3M435 937h3M424 887h3M312 975h3M266 923h3M252 977h3M296 938h3M305 944h3M256 969h3M401 907h3M213 970h3M447 840h3M211 855h3M242 975h3M304 956h3M214 929h3M396 887h3M282 889h3M407 935h3M326 924h3M297 947h3M208 971h3M273 935h3M299 957h3M280 944h3M297 958h3M212 977h3M392 936h3M297 955h3M218 935h3M297 945h3M209 927h3M392 905h3M213 972h3M317 936h3M430 901h3M343 917h3M400 947h3M215 944h3M269 950h3M226 797h3M323 946h3M331 964h3M226 968h3M345 934h3M209 815h3M268 992h3M204 995h3M431 910h3M295 917h3M315 931h3M317 943h3M224 927h3M320 990h3M195 934h3M320 962h3M227 965h3M365 927h3M283 966h3M284 990h3M232 849h3M239 851h3M338 933h3M375 986h3M266 973h3M221 907h3M261 972h3M222 829h3M326 982h3M206 850h3M316 958h3M257 886h3M223 969h3M324 938h3M370 957h3M208 886h3M203 889h3M319 966h3M343 972h3M361 968h3M316 956h3M276 973h3M280 947h3M379 936h3M211 978h3M331 926h3M360 913h3M349 934h3M306 960h3M226 896h3M419 941h3M280 957h3M234 900h3M237 934h3M357 957h3M360 934h3M316 943h3M227 898h3M291 942h3M260 879h3M298 959h3M216 963h3M372 941h3M422 830h3M301 941h3M425 904h3M254 950h3M400 973h3M366 915h3M287 987h3M445 914h3M280 949h3M201 960h3M344 942h3M304 920h3M248 983h3M267 919h3M307 938h3M212 898h3M238 911h3M280 952h3M435 893h3M222 918h3M225 847h3M262 955h3M297 957h3M290 948h3M257 800h3M289 962h3M343 940h3M301 934h3M289 942h3M219 969h3M264 986h3M404 925h3M197 913h3M347 951h3M452 926h3M282 956h3M278 955h3M198 953h3M381 901h3M203 944h3M420 939h3M209 909h3M208 930h3M341 941h3M414 953h3M324 917h3M283 958h3M244 892h3M209 945h3M255 971h3M300 932h3M312 939h3M310 931h3M310 916h3M226 937h3M216 967h3M247 979h3M265 988h3M299 970h3M263 848h3M236 888h3M322 953h3M411 937h3M287 944h3M271 808h3M276 991h3M199 905h3M371 927h3M261 970h3M224 966h3M244 882h3M238 895h3M339 926h3M281 968h3M222 921h3M207 990h3M246 859h3M423 994h3M224 996h3M357 949h3M365 929h3M331 942h3M397 917h3M349 928h3M348 919h3M213 909h3M195 954h3M283 961h3M281 973h3M417 943h3M321 923h3M407 932h3M289 925h3M426 926h3M290 899h3M208 875h3M258 963h3M285 981h3M330 947h3M338 908h3M285 955h3M372 898h3M250 864h3M311 960h3M216 950h3M279 963h3M424 922h3M280 988h3M305 964h3M288 958h3M280 962h3M285 978h3M294 878h3M431 900h3M281 952h3M225 864h3M292 962h3M225 887h3M221 932h3M297 952h3M199 967h3M252 942h3M211 871h3M229 957h3M336 964h3M228 890h3M211 939h3M262 987h3M396 895h3M370 943h3M205 860h3M273 985h3M218 871h3M203 939h3M298 900h3M201 972h3M292 972h3M347 923h3M266 961h3M376 970h3M322 957h3M440 943h3M276 913h3M232 980h3M394 932h3M227 975h3M220 974h3M283 939h3M278 973h3M307 913h3M205 910h3M258 980h3M311 939h3M247 930h3M217 897h3M259 944h3M276 971h3M332 942h3M452 940h3M249 924h3M274 994h3M292 975h3M343 954h3M353 942h3M266 994h3M316 939h3M320 923h3M227 893h3M413 905h3M264 973h3M282 944h3M219 941h3M312 954h3M222 959h3M215 916h3M221 971h3M333 933h3M272 943h3M312 948h3M344 897h3M213 875h3M275 978h3M219 980h3M264 965h3M208 874h3M195 919h3M215 976h3M236 879h3M231 978h3M204 921h3M201 824h3M300 939h3M239 866h3M206 942h3M331 964h3M346 933h3M398 929h3M351 934h3M410 903h3M340 930h3M269 957h3M309 952h3M416 942h3M394 945h3M273 971h3M322 968h3M219 924h3M371 921h3M386 945h3M313 956h3M352 961h3M424 922h3M194 966h3M232 988h3M234 923h3M434 939h3M400 945h3M249 830h3M204 960h3M318 958h3M324 923h3M416 891h3M199 888h3M319 950h3M324 954h3M381 926h3M235 942h3M223 985h3M285 987h3M213 965h3M335 959h3M328 956h3M319 934h3M435 923h3M231 936h3M345 956h3M239 927h3M296 960h3M301 928h3M230 890h3M392 944h3M200 913h3M211 955h3M203 883h3M313 916h3M216 845h3M291 957h3M298 974h3M313 943h3M236 892h3M252 975h3M363 946h3M258 818h3M316 941h3M319 967h3M308 958h3M283 941h3M214 886h3M223 970h3M205 922h3M239 936h3M286 967h3M285 958h3M200 880h3M380 925h3M228 896h3M441 922h3M237 865h3M273 949h3M325 918h3M212 915h3M414 937h3M234 992h3M208 930h3M235 925h3M219 956h3M276 952h3M405 932h3M350 897h3M366 910h3M246 882h3M412 923h3M267 949h3M210 854h3M378 895h3M291 942h3M306 940h3M315 937h3M273 938h3M242 972h3M314 950h3M219 990h3M287 955h3M223 932h3M279 943h3M315 972h3M194 969h3M286 951h3M238 987h3M428 914h3M201 929h3M231 978h3M305 975h3M295 962h3M216 971h3M287 941h3M342 901h3M334 942h3M350 952h3M324 907h3M221 828h3M330 935h3M313 962h3M291 954h3M412 939h3M402 946h3M196 950h3M314 924h3M218 942h3M207 974h3M226 886h3M345 925h3M389 926h3M205 925h3M307 948h3M309 966h3M315 922h3M334 940h3M198 850h3M426 915h3M259 895h3M331 920h3M373 885h3M346 956h3M279 953h3M420 901h3M235 956h3M349 921h3M210 879h3M205 975h3M274 936h3M245 887h3M298 965h3M202 887h3M365 931h3M249 896h3M215 959h3M252 886h3M273 984h3M265 960h3M297 946h3M308 977h3M202 940h3M270 989h3M216 975h3M210 884h3M383 938h3M268 969h3M331 932h3M351 935h3M348 925h3M384 925h3M312 956h3M316 947h3M356 928h3M341 939h3M194 988h3M201 911h3M293 947h3M350 916h3M228 883h3M439 938h3M370 936h3M213 981h3M322 922h3M405 879h3M314 929h3M222 897h3M284 932h3M265 947h3M360 941h3M325 969h3M257 971h3M323 937h3M416 952h3M267 969h3M236 942h3M401 938h3M320 956h3M326 946h3M287 970h3M260 968h3M337 978h3M363 988h3M303 939h3M409 906h3M292 938h3M308 984h3M228 885h3M346 966h3M235 973h3M315 930h3M307 939h3M276 962h3M214 936h3M335 933h3M227 994h3M233 888h3M387 960h3M198 919h3M275 975h3M325 951h3M342 966h3M375 926h3M242 981h3M198 924h3M220 990h3M328 947h3M399 946h3M304 942h3M301 964h3M214 974h3M283 976h3M264 939h3M328 938h3M241 968h3M205 920h3M331 972h3M302 979h3M284 959h3M434 944h3M269 975h3M293 966h3M201 958h3M311 949h3M214 917h3M235 901h3M430 907h3M371 935h3M457 886h3M284 945h3M436 910h3M298 942h3M277 986h3M208 967h3M226 867h3M201 963h3M199 932h3M219 936h3M385 913h3M330 916h3M240 972h3M343 947h3M265 981h3M305 941h3M286 982h3M213 873h3M212 877h3M216 950h3M256 989h3M431 926h3M271 982h3M199 889h3M409 935h3M233 915h3M291 970h3M265 949h3M329 939h3M317 937h3M359 915h3M211 922h3M309 972h3M380 922h3M207 979h3M405 935h3M296 951h3M308 956h3M228 866h3M319 933h3M313 919h3M294 972h3M292 957h3M312 959h3M398 926h3M210 926h3M248 963h3M209 950h3M339 951h3M298 947h3M280 980h3M246 862h3M347 936h3M316 973h3M282 971h3M292 938h3M298 950h3M360 974h3M296 934h3M266 944h3M320 932h3M356 949h3M413 935h3M392 935h3M272 959h3M328 968h3M435 904h3M295 977h3M220 951h3M315 928h3M402 936h3M218 826h3M212 921h3M320 958h3M416 917h3M289 981h3M211 956h3M221 982h3M339 928h3M274 968h3M329 939h3M231 988h3M256 874h3M216 875h3M275 954h3M229 852h3M340 929h3M217 887h3M289 951h3M224 891h3M293 958h3M203 976h3M233 857h3M270 967h3M348 944h3M207 984h3M201 862h3M276 975h3M259 827h3M328 980h3M249 880h3M362 911h3M339 935h3M212 909h3M288 960h3M292 950h3M229 951h3M328 953h3M310 952h3M314 945h3M208 928h3M457 905h3M245 926h3M239 917h3M228 970h3M321 884h3M207 827h3M314 918h3M426 908h3M209 889h3M312 935h3M219 909h3M216 877h3M194 863h3M219 814h3M367 909h3M353 951h3M271 955h3M295 964h3M228 942h3M291 935h3M285 953h3M290 945h3M438 817h3M317 941h3M416 952h3M201 910h3M343 930h3M268 998h3M278 980h3M311 954h3M396 939h3M279 851h3M397 923h3M428 915h3M274 970h3M225 961h3M218 947h3M203 989h3M286 955h3M304 955h3M234 916h3M304 943h3M323 926h3M404 910h3M333 944h3M311 976h3M311 952h3M369 930h3M347 950h3M210 958h3M211 912h3M218 925h3M447 949h3M335 892h3M227 986h3M455 919h3M371 907h3M291 975h3M230 925h3M198 926h3M195 914h3M404 919h3M198 971h3M286 942h3M293 935h3M293 923h3M376 935h3M318 952h3M280 938h3M300 963h3M304 933h3M259 945h3M327 964h3M285 964h3M197 942h3M289 967h3M305 982h3M304 969h3M406 906h3M310 945h3M262 979h3M319 980h3M367 934h3M397 889h3M295 952h3M217 957h3M227 909h3M345 937h3M312 923h3M254 882h3M354 918h3M213 917h3M201 888h3M225 856h3M199 866h3M211 978h3M206 950h3M214 902h3M282 898h3M351 933h3M219 904h3M360 967h3M349 932h3M260 991h3M210 963h3M379 923h3M430 933h3M196 937h3M219 907h3M283 961h3M301 953h3M290 968h3M298 958h3M399 863h3M307 940h3M203 921h3M224 971h3M236 891h3M300 928h3M307 871h3M361 919h3M410 903h3M256 871h3M371 935h3M291 955h3M289 968h3M321 976h3M370 896h3M388 920h3M252 968h3M257 836h3M384 961h3M294 970h3M251 928h3M288 950h3M299 975h3M195 967h3M342 955h3M357 931h3M310 941h3M341 929h3M337 896h3M308 967h3M226 943h3M254 961h3M370 900h3M198 909h3M256 851h3M227 993h3M232 944h3M232 919h3M312 942h3M336 920h3M397 906h3M357 939h3M262 941h3M298 948h3M215 907h3M384 875h3M206 841h3M312 944h3M332 950h3M295 970h3M342 953h3M220 871h3M286 971h3M330 877h3M218 959h3M221 892h3M292 969h3M216 932h3M314 956h3M194 859h3M287 964h3M347 917h3M203 859h3M335 918h3M306 949h3M258 965h3M315 855h3M272 943h3M321 952h3M211 909h3M224 942h3M426 913h3M286 936h3M265 954h3M262 953h3M292 978h3M333 936h3M227 892h3M360 949h3M321 947h3M314 941h3M214 958h3M289 949h3M212 950h3M203 942h3M277 971h3M346 977h3M217 936h3M313 956h3M219 967h3M395 887h3M447 900h3M294 971h3M403 933h3M229 962h3M213 935h3M274 972h3M216 909h3M295 957h3M217 995h3M232 987h3M217 843h3M432 950h3M230 966h3M288 957h3M197 890h3M249 888h3M273 949h3M200 850h3M249 935h3M253 889h3M284 888h3M280 986h3M234 952h3M274 893h3M312 940h3M245 949h3M296 948h3M308 981h3M242 950h3M209 881h3M212 948h3M283 881h3M204 855h3M275 978h3M279 971h3M425 882h3M309 945h3M287 971h3M205 902h3M243 856h3M370 944h3M300 942h3M241 933h3M283 966h3M300 881h3M216 926h3M207 932h3M275 894h3M287 868h3M320 937h3M211 851h3M382 933h3M206 974h3M287 926h3M276 900h3M252 983h3M249 935h3M391 926h3M421 936h3M265 989h3M294 975h3M211 983h3M398 926h3M441 777h3M333 944h3M230 841h3M259 995h3M278 939h3M245 900h3M208 894h3M401 911h3M242 908h3M214 992h3M390 844h3M252 943h3M214 992h3M220 989h3M282 864h3M410 907h3M254 894h3M224 965h3M282 952h3M397 927h3M346 954h3M274 957h3M339 942h3M217 950h3M275 973h3M300 971h3M251 977h3M334 925h3M259 979h3M217 931h3M234 916h3M448 901h3M235 973h3M384 904h3M220 857h3M393 924h3M292 898h3M280 930h3M406 928h3M274 957h3M400 904h3M317 950h3M301 965h3M224 977h3M268 942h3M246 899h3M206 857h3M277 949h3M429 913h3M202 944h3M254 851h3M306 928h3M413 924h3M225 938h3M220 965h3M319 937h3M459 923h3M279 952h3M222 920h3M247 969h3M308 954h3M381 925h3M204 903h3M241 891h3M305 960h3M297 920h3M321 964h3M291 955h3M217 845h3M320 949h3M283 955h3M390 931h3M200 925h3M355 980h3M312 920h3M299 914h3M314 866h3M301 969h3M228 896h3M211 998h3M289 976h3M201 821h3M209 969h3M345 918h3M209 860h3M220 892h3M382 942h3M302 938h3M342 920h3M413 946h3M284 952h3M300 956h3M292 945h3M224 975h3M357 903h3M310 946h3M216 909h3M203 937h3M350 924h3M305 961h3M364 926h3M227 973h3M293 949h3M326 952h3M302 951h3M311 955h3M357 930h3M290 961h3M427 897h3M319 935h3M207 924h3M209 902h3M242 976h3M436 931h3M336 922h3M295 943h3M321 947h3M220 862h3M286 944h3M392 951h3M275 960h3M306 924h3M311 945h3M195 903h3M286 958h3M212 970h3M314 952h3M278 971h3M214 967h3M387 924h3M420 892h3M232 990h3M309 963h3M351 920h3M297 945h3M221 867h3M304 929h3M201 957h3M330 897h3M215 930h3M208 979h3M314 975h3M376 926h3M301 976h3M202 821h3M222 940h3M296 942h3M207 890h3M411 924h3M311 975h3M220 960h3M208 972h3M249 978h3M280 958h3M251 927h3M307 972h3M266 963h3M299 955h3M208 931h3M312 938h3M203 922h3M347 851h3M341 922h3M380 912h3M400 940h3M229 976h3M213 994h3M235 950h3M288 969h3M212 892h3M291 932h3M207 909h3M218 934h3M370 913h3M340 958h3M228 890h3M278 955h3M232 899h3M213 933h3M390 913h3M322 937h3M261 967h3M214 919h3M230 919h3M198 893h3M285 964h3M238 874h3M392 918h3M279 959h3M285 945h3M324 939h3M308 957h3M229 977h3M292 936h3M265 968h3M214 874h3M395 903h3" stroke="#000" stroke-opacity="0.28" stroke-width="3" fill="none"/>
<path d="M283 805h3M399 928h3M318 961h3M201 972h3M201 985h3M349 941h3M315 958h3M363 907h3M239 977h3M339 947h3M352 961h3M284 881h3M311 951h3M270 963h3M350 920h3M389 967h3M232 924h3M207 981h3M412 926h3M347 926h3M216 898h3M202 975h3M297 963h3M285 956h3M296 949h3M222 944h3M234 913h3M228 962h3M304 973h3M366 936h3M352 941h3M198 972h3M318 941h3M213 980h3M244 837h3M304 959h3M209 941h3M284 943h3M311 957h3M196 985h3M228 944h3M412 985h3M256 950h3M208 980h3M263 956h3M220 918h3M288 956h3M360 912h3M281 953h3M315 865h3M280 927h3M233 918h3M307 941h3M392 856h3M213 954h3M228 898h3M201 929h3M313 934h3M223 968h3M326 898h3M223 931h3M334 947h3M271 969h3M277 915h3M296 944h3M351 910h3M294 954h3M222 894h3M311 959h3M393 922h3M217 850h3M322 964h3M282 992h3M271 962h3M256 963h3M322 945h3M217 975h3M433 845h3M213 968h3M300 951h3M231 984h3M332 953h3M213 905h3M304 974h3M367 897h3M326 948h3M310 932h3M361 906h3M257 949h3M424 931h3M229 955h3M211 853h3M312 946h3M290 819h3M279 979h3M304 988h3M222 957h3M298 953h3M197 920h3M357 906h3M338 925h3M238 982h3M223 954h3M339 942h3M232 933h3M213 943h3M318 954h3M217 927h3M271 895h3M399 917h3M281 993h3M345 926h3M318 971h3M448 896h3M278 876h3M329 929h3M330 962h3M220 893h3M358 943h3M239 880h3M201 919h3M351 913h3M304 940h3M293 968h3M210 898h3M238 983h3M290 955h3M335 945h3M238 961h3M385 890h3M298 957h3M234 969h3M448 896h3M290 965h3M274 960h3M229 859h3M355 934h3M213 947h3M358 934h3M251 954h3M426 920h3M207 897h3M277 989h3M351 925h3M261 972h3M221 910h3M225 955h3M241 925h3M263 953h3M346 954h3M247 979h3M403 915h3M268 975h3M215 989h3M377 956h3M397 916h3M401 906h3M297 941h3M233 951h3M401 919h3M318 921h3M381 915h3M238 868h3M330 936h3M335 890h3M261 947h3M289 962h3M322 918h3M331 926h3M361 950h3M204 907h3M371 927h3M196 946h3M211 978h3M366 928h3M205 974h3M294 962h3M365 928h3M200 967h3M257 971h3M331 957h3M292 881h3M321 956h3M226 935h3M292 935h3M320 953h3M258 976h3M442 935h3M306 955h3M221 921h3M219 816h3M419 936h3M298 961h3M316 973h3M261 975h3M337 932h3M213 990h3M250 968h3M359 943h3M216 883h3M285 980h3M211 987h3M351 938h3M212 931h3M204 982h3M229 943h3M221 860h3M421 942h3M319 945h3M214 991h3M287 986h3M284 936h3M255 956h3M399 934h3M271 947h3M395 970h3M412 924h3M280 978h3M322 949h3M290 936h3M278 989h3M214 893h3M236 949h3M217 964h3M254 970h3M400 974h3M400 926h3M331 932h3M208 966h3M272 967h3M237 901h3M235 974h3M330 918h3M291 883h3M206 935h3M268 975h3M224 944h3M400 904h3M397 925h3M197 972h3M240 917h3M258 923h3M267 977h3M338 958h3M282 976h3M301 974h3M276 975h3M242 954h3M332 944h3M217 982h3M229 902h3M218 900h3M263 843h3M200 955h3M218 853h3M250 858h3M308 961h3M248 888h3M221 878h3M400 904h3M253 963h3M217 963h3M322 971h3M361 936h3M276 955h3M388 917h3M433 908h3M335 925h3M303 965h3M318 969h3M378 933h3M271 838h3M237 917h3M282 951h3M319 942h3M252 993h3M390 928h3M314 954h3M295 958h3M206 864h3M302 949h3M254 944h3M352 927h3M266 963h3M373 934h3M296 936h3M313 933h3M287 939h3M332 959h3M236 858h3M250 988h3M287 967h3M207 838h3M292 953h3M197 929h3M306 950h3M390 895h3M332 933h3M310 952h3M204 817h3M284 954h3M221 913h3M373 942h3M339 933h3M411 924h3M309 918h3M338 934h3M282 944h3M381 924h3M425 923h3M314 937h3M333 924h3M276 959h3M321 886h3M213 830h3M313 940h3M196 938h3M316 964h3M336 939h3M309 963h3M282 992h3M236 990h3M209 982h3M377 946h3M251 868h3M215 866h3M300 942h3M227 927h3M278 844h3M439 924h3M409 912h3M343 870h3M216 956h3M252 937h3M294 950h3M236 885h3M226 916h3M206 974h3M208 956h3M219 889h3M249 984h3M403 919h3M334 936h3M356 926h3M285 959h3M270 982h3M263 939h3M214 878h3M276 941h3M303 947h3M198 891h3M237 990h3M292 968h3M214 975h3M351 915h3M314 938h3M346 953h3M294 961h3M346 942h3M322 937h3M223 945h3M337 890h3M234 913h3M210 925h3M292 931h3M252 978h3M269 946h3M282 960h3M433 927h3M266 961h3M211 868h3M387 949h3M222 927h3M274 977h3M200 848h3M285 855h3M373 927h3M269 944h3M283 987h3M318 955h3M230 857h3M390 937h3M359 934h3M240 932h3M311 963h3M345 957h3M281 987h3M195 919h3M285 956h3M219 967h3M391 881h3M217 917h3M208 890h3M342 941h3M375 998h3M287 944h3M390 947h3M360 913h3M330 951h3M268 968h3M289 947h3M301 940h3M277 963h3M285 963h3M233 938h3M372 945h3M316 967h3M306 955h3M266 870h3M300 934h3M434 924h3M207 914h3M237 876h3M331 921h3M347 917h3M274 991h3M406 904h3M297 933h3M427 935h3M323 957h3M342 942h3M389 935h3M293 967h3M303 944h3M398 922h3M245 975h3M293 975h3M263 945h3M349 920h3M294 971h3M297 949h3M309 879h3M263 990h3M292 962h3M254 982h3M202 915h3M227 912h3M249 884h3M317 967h3M385 920h3M276 958h3M304 954h3M353 937h3M327 956h3M245 897h3M203 870h3M371 926h3M348 897h3M345 932h3M212 954h3M228 960h3M267 965h3M338 925h3M326 945h3M246 925h3M240 972h3M306 941h3M336 986h3M277 969h3M259 799h3M422 932h3M306 947h3M326 986h3M252 872h3M305 950h3M341 913h3M334 940h3M289 987h3M378 867h3M289 948h3M268 950h3M302 947h3M198 942h3M298 975h3M259 907h3M274 947h3M319 961h3M250 965h3M242 950h3M307 932h3M212 981h3M315 943h3M303 937h3M225 874h3M239 970h3M234 948h3M365 959h3M371 919h3M244 968h3M286 979h3M311 958h3M295 934h3M287 946h3M307 971h3M216 901h3M319 945h3M291 966h3M253 966h3M424 937h3M310 946h3M349 931h3M415 919h3M320 930h3M304 956h3M294 950h3M205 953h3M407 931h3M236 994h3M401 938h3M394 938h3M404 920h3M254 954h3M425 908h3M316 934h3M250 950h3M208 907h3M311 931h3M335 950h3M347 941h3M288 962h3M290 952h3M288 955h3M393 915h3M264 952h3M220 944h3M277 948h3M246 965h3M447 900h3M217 922h3M297 982h3M309 968h3M193 962h3M428 925h3M227 934h3M314 969h3M401 942h3M240 963h3M220 929h3M278 957h3M347 911h3M349 900h3M220 887h3M296 961h3M321 946h3M375 937h3M283 958h3M302 944h3M337 946h3M285 940h3M341 931h3M230 867h3M218 859h3M284 915h3M309 969h3M290 963h3M312 953h3M323 933h3M295 990h3M372 890h3M308 948h3M197 926h3M376 926h3M282 958h3M371 906h3M280 953h3M364 937h3M238 946h3M240 957h3M309 793h3M340 936h3M233 927h3M199 938h3M455 893h3M249 870h3M224 915h3M373 947h3M316 936h3M230 974h3M432 904h3M412 917h3M408 994h3M202 921h3M327 977h3M405 921h3M299 925h3M343 992h3M291 973h3M268 946h3M238 996h3M195 881h3M362 927h3M245 988h3M334 948h3M239 963h3M412 941h3M348 923h3M206 925h3M274 963h3M212 969h3M455 897h3M308 917h3M294 982h3M340 958h3M355 924h3M282 954h3M223 985h3M201 998h3M350 928h3M299 949h3M419 934h3M201 957h3M442 865h3M202 931h3M202 883h3M208 899h3M297 955h3M224 989h3M232 824h3M439 927h3M401 909h3M423 929h3M222 949h3M207 985h3M342 963h3M218 933h3M458 836h3M265 994h3M269 861h3M251 962h3M335 880h3M342 941h3M219 984h3M367 920h3M294 945h3M428 913h3M334 993h3M331 923h3M415 919h3M350 932h3M223 951h3M305 939h3M198 813h3M275 974h3M260 854h3M194 955h3M320 943h3M308 948h3M301 960h3M341 960h3M204 957h3M316 957h3M416 931h3M204 945h3M222 986h3M235 975h3M318 964h3M198 996h3M362 947h3M225 981h3M216 971h3M227 946h3M302 793h3M406 935h3M321 965h3M228 952h3M254 978h3M327 935h3M211 943h3M342 885h3M370 939h3M218 883h3M351 961h3M315 963h3M202 904h3M291 970h3M246 940h3M297 978h3M232 895h3M210 942h3M226 990h3M333 907h3M223 980h3M306 853h3M207 984h3M263 974h3M426 897h3M241 867h3M225 891h3M296 963h3M222 865h3M330 941h3M205 918h3M199 921h3M236 846h3M196 890h3M302 962h3M263 960h3M260 971h3M270 971h3M203 963h3M207 923h3M300 961h3M268 990h3M344 945h3M214 960h3M242 880h3M357 933h3M215 949h3M324 971h3M439 914h3M203 922h3M213 921h3M235 982h3M198 933h3M291 947h3M216 936h3M323 970h3M240 912h3M328 902h3M356 990h3M197 947h3M395 918h3M206 842h3M232 962h3M244 962h3M200 916h3M405 903h3M302 918h3M413 908h3M305 959h3M297 939h3M307 997h3M268 966h3M304 949h3M287 971h3M296 956h3M259 954h3M243 971h3M333 939h3M264 900h3M326 923h3M279 974h3M368 947h3M227 916h3M287 962h3M381 928h3M205 927h3M356 945h3M230 911h3M329 920h3M214 984h3M262 967h3M245 958h3M196 936h3M366 964h3M402 911h3M311 933h3M350 910h3M221 990h3M216 970h3M261 937h3M257 931h3M332 955h3M253 901h3M197 930h3M209 902h3M312 975h3M283 835h3M225 978h3M448 847h3M235 898h3M204 897h3M273 940h3M302 936h3M230 917h3M430 910h3M353 936h3M363 928h3M268 963h3M244 997h3M271 972h3M196 982h3M207 978h3M384 944h3M257 898h3M195 863h3M248 955h3M338 956h3M239 957h3M295 954h3M211 876h3M222 965h3M383 913h3M306 924h3M235 925h3M219 862h3M199 888h3M349 953h3M243 846h3M256 899h3M324 944h3M362 927h3M297 967h3M203 892h3M261 844h3M293 987h3M219 933h3M296 928h3M284 885h3M430 932h3M223 939h3M290 953h3M297 971h3M310 921h3M229 887h3M330 946h3M352 935h3M290 934h3M301 958h3M341 983h3M271 799h3M400 925h3M347 950h3M318 955h3M296 972h3M278 848h3M356 932h3M269 973h3M317 946h3M274 952h3M355 963h3M320 969h3M284 789h3M272 954h3M388 928h3M444 949h3M225 865h3M334 891h3M422 921h3M263 893h3M367 921h3M330 908h3M439 904h3M324 954h3M305 948h3M293 958h3M305 941h3M410 931h3M226 916h3M214 955h3M229 956h3M225 967h3M243 850h3M349 912h3M234 960h3M319 943h3M226 954h3M207 907h3M321 951h3M206 938h3M244 951h3M241 989h3M322 947h3M199 937h3M206 889h3M198 955h3M417 943h3M364 870h3M296 945h3M430 924h3M213 972h3M343 934h3M220 870h3M288 891h3M270 956h3M314 911h3M292 955h3M223 984h3M228 919h3M265 961h3M320 949h3M219 987h3M351 941h3M325 927h3M197 935h3M204 949h3M208 973h3M272 958h3M391 897h3M283 960h3M391 956h3M400 904h3M325 879h3M284 945h3M299 991h3M361 927h3M214 837h3M212 924h3M217 977h3M339 933h3M214 988h3M219 944h3M214 932h3M328 841h3M260 965h3M244 842h3M282 967h3M400 861h3M239 982h3M239 968h3M339 922h3M243 976h3M428 908h3M239 968h3M218 877h3M413 930h3M217 963h3M344 928h3M221 929h3M220 968h3M315 967h3M409 932h3M198 948h3M291 938h3M199 833h3M348 943h3M320 953h3M298 951h3M286 965h3M308 984h3M246 979h3M397 891h3M197 889h3M393 932h3M286 967h3M441 921h3M249 979h3M446 880h3M223 946h3M287 981h3M308 949h3M264 991h3M283 970h3M222 905h3M236 970h3M220 989h3M204 899h3M295 919h3M417 922h3M244 879h3M265 877h3M268 957h3M227 976h3M411 936h3M307 929h3M337 955h3M262 975h3M236 883h3M306 954h3M236 864h3M277 945h3M373 914h3M311 961h3M339 942h3M382 932h3M212 977h3M407 920h3M236 952h3M396 903h3M381 943h3M320 937h3M235 882h3M315 879h3M344 924h3M331 918h3M277 967h3M208 918h3M259 948h3M296 956h3M348 949h3M196 908h3M291 931h3M244 920h3M198 983h3M290 982h3M219 887h3M254 991h3M301 950h3M224 951h3M367 937h3M199 882h3M324 939h3M248 989h3M284 944h3M226 936h3M221 986h3M249 861h3M264 950h3M207 868h3M299 954h3M229 921h3M223 911h3M251 916h3M296 966h3M235 964h3M216 935h3M319 916h3M201 944h3M254 978h3M384 920h3M216 941h3M252 975h3M196 985h3M404 918h3M435 951h3M223 993h3M296 952h3M393 959h3M223 968h3M278 854h3M388 920h3M225 964h3M297 943h3M224 992h3M298 935h3M250 993h3M213 880h3M365 949h3M434 943h3M223 964h3M287 956h3M370 924h3M273 982h3M326 914h3M339 850h3M233 950h3M392 962h3M197 897h3M347 913h3M240 966h3M304 967h3M327 964h3M314 945h3M350 959h3M347 967h3M343 928h3M380 886h3M224 943h3M300 944h3M258 848h3M403 948h3M427 881h3M199 978h3M235 916h3M217 960h3M266 901h3M283 963h3M312 934h3M276 979h3M208 969h3M325 950h3M206 969h3M228 985h3M233 979h3M360 910h3M303 936h3M232 905h3M292 952h3M235 891h3M299 931h3M247 861h3M228 940h3M281 980h3M378 939h3M201 936h3M324 886h3M330 950h3M421 937h3M313 980h3M198 985h3M314 956h3M304 945h3M386 929h3M346 911h3M319 900h3M244 843h3M326 932h3M312 945h3M256 944h3M261 974h3M249 965h3M287 973h3M286 985h3M342 972h3M306 884h3M320 949h3M420 906h3M243 938h3M324 962h3M219 923h3M263 963h3M320 950h3M295 961h3M275 941h3M218 971h3M406 904h3M262 951h3M446 907h3M259 975h3M209 965h3M396 994h3M229 989h3M277 856h3M251 974h3M290 956h3M209 967h3M452 906h3M224 933h3M223 977h3M252 980h3M303 967h3M419 913h3M351 952h3M209 948h3M278 960h3M415 924h3M223 898h3M302 976h3M272 949h3M259 969h3M276 990h3M345 910h3M240 951h3M293 985h3M275 937h3M301 956h3M258 852h3M311 958h3M198 867h3M332 951h3M362 927h3M290 955h3M328 947h3M370 871h3M234 994h3M339 964h3M306 947h3M441 915h3M350 933h3M301 955h3M260 967h3M259 989h3M195 897h3M381 935h3M305 852h3M406 932h3M269 856h3M208 931h3M330 957h3M293 959h3M225 994h3M385 936h3M224 939h3M216 982h3M218 976h3M363 952h3M312 918h3M261 910h3M375 901h3M328 949h3M365 928h3M194 947h3M242 907h3M206 900h3M296 971h3M197 954h3M350 923h3M280 958h3M297 962h3M283 979h3M265 976h3M282 941h3M203 883h3M340 932h3M291 868h3M275 960h3M325 932h3M381 902h3M298 880h3M198 982h3M375 948h3M249 889h3M253 984h3M412 928h3M387 917h3M302 876h3M268 951h3M225 907h3M434 868h3M205 979h3M281 950h3M343 915h3M369 926h3M313 929h3M275 972h3M353 966h3M236 929h3M317 968h3M359 919h3M428 932h3M224 976h3M215 929h3M293 937h3M226 895h3M223 922h3M286 980h3M433 953h3M282 955h3M412 894h3M274 989h3M316 965h3M260 975h3M421 899h3M284 953h3M201 879h3M426 936h3M220 854h3M208 976h3M365 914h3M306 983h3M208 929h3M201 850h3M432 923h3M217 923h3M271 993h3M360 913h3M265 951h3M215 940h3M312 946h3M302 951h3M220 970h3M405 917h3M297 950h3M435 935h3M284 885h3M294 967h3M336 945h3M286 933h3M297 953h3M205 927h3M353 943h3M197 904h3M300 981h3M298 942h3M231 891h3M200 891h3M315 948h3M216 912h3M347 923h3M217 953h3M215 849h3M322 948h3M212 987h3M302 959h3M217 879h3M429 924h3M213 856h3M262 977h3M238 933h3M329 936h3M205 890h3M264 969h3M318 929h3M313 952h3M294 958h3M273 981h3M207 981h3M238 882h3M218 917h3M288 938h3M440 926h3M306 934h3M238 932h3M317 939h3M430 939h3M280 946h3M243 944h3M207 946h3M334 929h3M314 954h3M272 958h3M317 952h3M220 936h3M202 841h3M435 932h3M234 934h3M243 869h3M296 945h3M274 953h3M377 931h3M247 919h3M372 946h3M258 991h3M310 941h3M195 964h3M229 968h3M272 846h3M312 961h3M207 892h3M337 936h3M294 958h3M431 928h3M289 956h3M285 948h3M272 937h3M252 963h3M211 962h3M224 890h3M273 894h3M217 908h3M219 945h3M299 976h3M233 953h3M383 928h3M401 921h3M335 777h3M228 874h3M261 969h3M319 920h3M309 950h3M380 949h3M318 951h3M235 957h3M269 949h3M378 941h3M410 923h3M325 945h3M334 945h3M323 940h3M261 965h3M213 943h3M358 943h3M305 934h3M295 939h3M337 900h3M227 810h3M297 956h3M353 932h3M296 936h3M210 971h3M266 922h3M318 868h3M424 929h3M405 914h3M314 945h3M244 900h3M290 949h3M310 982h3M453 811h3M249 957h3M350 929h3M301 958h3M310 962h3M351 923h3M338 932h3M257 958h3M250 948h3M244 977h3M279 893h3M376 946h3M291 958h3M307 922h3M303 951h3M221 968h3M211 927h3M237 970h3M195 983h3M278 946h3M389 941h3M217 899h3M394 927h3M327 955h3M271 913h3M244 975h3M225 965h3M225 926h3M292 976h3M255 965h3M438 912h3M315 942h3M211 843h3M209 905h3M214 920h3M298 941h3M219 867h3M436 923h3M306 949h3M331 950h3M251 976h3M330 920h3M354 945h3M205 970h3M249 868h3M269 974h3M315 958h3M205 899h3M414 908h3M336 935h3M274 963h3M227 934h3M247 938h3M291 926h3M298 944h3M274 989h3M212 918h3M306 967h3M226 914h3M322 944h3M369 834h3M400 932h3M217 866h3M298 958h3M282 919h3M326 885h3M276 893h3M270 957h3M285 967h3M237 876h3M351 931h3M231 941h3M264 974h3M412 902h3M295 926h3M417 926h3M337 934h3M382 859h3M341 925h3M331 941h3M288 869h3M215 965h3M424 923h3M330 949h3M248 841h3M350 954h3M269 949h3M306 954h3M217 973h3M310 924h3M233 883h3M259 837h3M311 961h3M230 900h3M280 967h3M223 871h3M328 927h3M321 968h3M265 970h3M363 935h3M256 955h3M205 994h3M372 922h3M296 893h3M210 965h3M382 949h3M323 923h3M202 884h3M263 948h3M253 905h3M299 955h3M284 928h3M340 910h3M396 931h3M314 963h3M225 890h3M218 878h3M319 955h3M447 911h3M343 901h3M227 887h3M350 778h3M195 870h3M228 847h3M210 922h3M254 963h3M406 924h3M213 950h3M392 925h3M197 938h3M344 958h3M264 985h3M229 978h3M309 965h3M206 944h3M216 854h3M346 936h3M403 907h3M355 925h3M213 911h3M263 956h3M218 878h3M209 979h3M364 924h3M457 937h3M289 883h3M205 934h3M329 955h3M235 950h3M194 977h3M293 973h3M226 890h3M256 963h3M325 967h3M343 923h3M248 898h3M269 945h3M311 961h3M343 936h3M418 918h3M306 963h3M270 834h3M329 981h3M364 957h3M329 954h3M281 964h3M199 954h3M294 976h3M292 963h3M267 934h3" stroke="#000" stroke-opacity="0.28" stroke-width="3" fill="none"/>
<path d="M299 969h3M361 925h3M211 849h3M428 924h3M296 944h3M383 935h3M212 925h3M382 934h3M267 991h3M301 969h3M286 964h3M246 943h3M201 832h3M196 899h3M303 943h3M420 929h3M253 988h3M321 956h3M356 929h3M296 931h3M340 951h3M252 992h3M309 966h3M339 968h3M378 933h3M319 969h3M222 975h3M392 884h3M210 979h3M210 954h3M304 978h3M242 882h3M355 810h3M209 980h3M285 961h3M334 975h3M290 954h3M358 942h3M200 923h3M218 964h3M255 972h3M323 952h3M425 957h3M313 951h3M315 950h3M406 908h3M255 930h3M261 975h3M312 950h3M292 960h3M208 919h3M309 930h3M308 950h3M286 959h3M235 911h3M399 942h3M309 961h3M233 917h3M393 805h3M420 934h3M232 969h3M195 900h3M247 950h3M321 937h3M203 883h3M294 970h3M216 925h3M298 960h3M271 842h3M257 945h3M345 915h3M279 882h3M290 958h3M205 982h3M351 955h3M425 925h3M193 972h3M229 949h3M323 966h3M248 923h3M333 919h3M241 895h3M373 942h3M414 925h3M323 929h3M198 945h3M324 968h3M306 929h3M245 914h3M337 929h3M193 891h3M292 944h3M333 957h3M288 990h3M422 914h3M308 968h3M232 912h3M290 972h3M258 842h3M339 965h3M302 947h3M409 914h3M248 934h3M277 959h3M213 946h3M399 955h3M219 978h3M242 975h3M286 954h3M298 965h3M304 959h3M280 931h3M215 973h3M201 916h3M201 933h3M231 896h3M385 921h3M215 871h3M214 979h3M202 924h3M216 926h3M229 831h3M292 967h3M368 932h3M224 942h3M203 936h3M204 957h3M211 966h3M228 878h3M352 955h3M256 952h3M208 927h3M336 968h3M291 961h3M400 947h3M338 821h3M194 858h3M319 941h3M407 932h3M336 890h3M216 979h3M198 991h3M222 864h3M275 978h3M256 974h3M327 935h3M211 927h3M215 935h3M300 961h3M294 970h3M285 946h3M262 972h3M207 930h3M339 945h3M274 968h3M196 979h3M255 949h3M419 899h3M346 908h3M427 935h3M385 944h3M213 961h3M218 905h3M315 941h3M380 918h3M216 969h3M292 950h3M235 950h3M281 880h3M405 923h3M442 929h3M262 855h3M269 980h3M205 930h3M429 935h3M325 951h3M431 945h3M254 881h3M200 934h3M400 925h3M285 981h3M304 971h3M275 954h3M269 964h3M415 914h3M363 915h3M446 926h3M322 937h3M383 920h3M331 923h3M363 950h3M272 956h3M314 934h3M236 862h3M205 966h3M335 941h3M299 899h3M206 983h3M287 940h3M416 893h3M313 951h3M266 848h3M329 938h3M297 942h3M217 936h3M280 953h3M313 930h3M409 901h3M232 894h3M263 959h3M340 903h3M345 903h3M294 943h3M342 963h3M202 960h3M249 873h3M315 955h3M330 932h3M204 898h3M324 947h3M232 928h3M232 921h3M319 944h3M285 958h3M314 951h3M306 952h3M340 942h3M291 891h3M205 888h3M309 928h3M425 919h3M319 965h3M300 965h3M411 940h3M219 981h3M373 925h3M324 947h3M282 950h3M209 935h3M306 912h3M459 916h3M312 934h3M323 967h3M336 941h3M225 943h3M337 952h3M396 910h3M279 941h3M317 871h3M315 948h3M301 950h3M300 931h3M340 868h3M222 852h3M290 939h3M389 919h3M196 966h3M233 942h3M202 899h3M322 947h3M291 952h3M379 944h3M368 935h3M249 948h3M315 954h3M236 902h3M302 961h3M249 948h3M227 970h3M357 942h3M292 976h3M320 955h3M362 915h3M294 993h3M260 965h3M365 938h3M275 964h3M344 916h3M219 886h3M351 942h3M356 957h3M205 911h3M287 865h3M353 964h3M204 970h3M299 994h3M206 986h3M293 963h3M220 983h3M247 943h3M353 955h3M307 971h3M439 921h3M447 919h3M211 852h3M312 924h3M223 987h3M240 923h3M293 937h3M356 924h3M212 960h3M429 903h3M195 982h3M217 959h3M250 981h3M259 950h3M291 966h3M354 939h3M283 966h3M371 959h3M225 948h3M295 959h3M213 855h3M418 912h3M279 936h3M354 917h3M263 979h3M307 941h3M282 905h3M314 938h3M276 972h3M340 985h3M210 926h3M305 932h3M219 988h3M400 928h3M305 940h3M349 920h3M295 956h3M269 959h3M427 920h3M325 925h3M213 915h3M220 927h3M294 941h3M242 956h3M215 872h3M234 968h3M317 932h3M270 964h3M275 972h3M252 976h3M345 941h3M425 918h3M305 944h3M222 894h3M433 910h3M242 958h3M361 936h3M229 897h3M303 964h3M365 918h3M401 913h3M347 963h3M397 909h3M234 927h3M217 982h3M389 936h3M216 875h3M392 936h3M325 921h3M323 941h3M402 851h3M229 946h3M404 952h3M200 990h3M255 953h3M296 960h3M415 910h3M217 975h3M216 914h3M324 934h3M296 945h3M217 908h3M280 948h3M288 958h3M220 920h3M334 943h3M423 939h3M272 950h3M219 895h3M229 980h3M337 850h3M208 914h3M204 974h3M228 977h3M288 962h3M315 936h3M320 864h3M263 994h3M302 962h3M232 971h3M383 944h3M210 967h3M211 937h3M268 946h3M230 870h3M287 883h3M350 958h3M356 950h3M387 927h3M316 961h3M216 879h3M289 964h3M259 973h3M222 957h3M299 864h3M382 906h3M251 982h3M325 949h3M257 946h3M217 916h3M289 938h3M293 978h3M315 964h3M233 957h3M303 964h3M229 969h3M336 953h3M295 952h3M213 878h3M235 943h3M227 882h3M200 873h3M246 988h3M283 966h3M232 934h3M357 909h3M432 910h3M369 960h3M311 957h3M236 982h3M226 988h3M204 965h3M206 977h3M229 936h3M315 958h3M282 956h3M238 971h3M330 933h3M221 917h3M216 976h3M250 893h3M235 945h3M424 919h3M454 930h3M392 922h3M288 982h3M285 952h3M290 972h3M209 958h3M252 873h3M232 907h3M275 946h3M364 925h3M208 942h3M323 937h3M287 963h3M347 929h3M301 954h3M318 911h3M437 943h3M199 899h3M218 970h3M438 897h3M304 967h3M260 971h3M305 933h3M326 931h3M318 926h3M218 935h3M413 913h3M273 957h3M203 854h3M207 976h3M347 946h3M400 933h3M347 944h3M214 858h3M315 938h3M338 957h3M296 944h3M243 913h3M274 951h3M199 899h3M292 914h3M424 940h3M217 903h3M407 911h3M356 945h3M244 934h3M315 928h3M212 896h3M196 949h3M240 911h3M400 921h3M282 967h3M281 951h3M196 972h3M311 950h3M292 967h3M240 973h3M318 969h3M298 906h3M317 922h3M403 922h3M221 904h3M375 952h3M277 949h3M221 992h3M344 909h3M436 932h3M267 958h3M375 939h3M251 956h3M372 917h3M195 984h3M327 937h3M401 907h3M446 910h3M298 957h3M298 819h3M230 919h3M357 949h3M309 939h3M413 923h3M288 958h3M441 912h3M236 920h3M235 861h3M209 914h3M198 909h3M324 928h3M331 874h3M255 922h3M280 965h3M320 938h3M207 976h3M315 930h3M249 973h3M203 910h3M263 958h3M279 968h3M339 956h3M272 964h3M200 963h3M212 978h3M339 925h3M331 919h3M328 943h3M205 934h3M435 923h3M277 945h3M356 932h3M278 978h3M198 993h3M330 937h3M337 934h3M425 912h3M346 940h3M203 981h3M219 973h3M357 913h3M326 920h3M348 958h3M263 960h3M229 950h3M231 865h3M323 943h3M289 954h3M436 922h3M331 938h3M315 971h3M392 959h3M379 961h3M313 994h3M283 970h3M331 931h3M381 930h3M381 949h3M207 952h3M205 989h3M327 941h3M220 899h3M274 976h3M213 960h3M228 947h3M303 913h3M216 979h3M205 879h3M275 936h3M294 954h3M415 921h3M298 935h3M294 960h3M254 863h3M303 965h3M417 917h3M309 928h3M279 987h3M211 860h3M289 933h3M203 958h3M203 911h3M234 911h3M257 950h3M430 932h3M230 876h3M209 963h3M346 835h3M338 938h3M267 965h3M293 961h3M211 979h3M271 949h3M418 919h3M313 961h3M207 896h3M287 951h3M209 916h3M291 914h3M301 837h3M334 965h3M222 981h3M236 971h3M199 916h3M299 934h3M341 959h3M212 956h3M282 950h3M339 956h3M299 964h3M310 952h3M299 924h3M414 904h3M197 949h3M331 947h3M199 985h3M297 981h3M230 973h3M212 979h3M286 976h3M322 921h3M292 933h3M304 973h3M379 938h3M240 871h3M202 895h3M304 965h3M345 902h3M208 989h3M312 937h3M230 967h3M226 936h3M212 930h3M279 971h3M220 961h3M310 920h3M334 945h3M301 959h3M260 858h3M233 913h3M207 926h3M362 950h3M314 944h3M262 865h3M217 896h3M422 945h3M339 940h3M310 956h3M288 944h3M328 993h3M210 950h3M278 979h3M370 895h3M225 902h3M292 937h3M206 830h3M281 979h3M305 948h3M309 965h3M272 959h3M231 936h3M406 932h3M247 954h3M199 950h3M299 941h3M218 906h3M264 967h3M227 930h3M257 942h3M312 956h3M270 915h3M194 929h3M224 942h3M201 950h3M305 940h3M342 966h3M288 937h3M279 967h3M394 949h3M204 945h3M220 930h3M236 886h3M289 957h3M320 937h3M249 965h3M298 944h3M311 956h3M298 955h3M253 945h3M214 906h3M258 855h3M220 910h3M263 950h3M329 947h3M396 921h3M275 958h3M226 959h3M229 957h3M275 953h3M250 986h3M224 909h3M414 889h3M325 945h3M332 930h3M227 964h3M229 926h3M417 925h3M232 910h3M225 897h3M254 990h3M216 882h3M194 901h3M317 967h3M298 983h3M353 944h3M261 971h3M216 948h3M224 898h3M263 973h3M328 920h3M316 953h3M211 964h3M329 947h3M303 884h3M200 900h3M297 968h3M268 803h3M349 899h3M224 970h3M234 898h3M213 929h3M309 957h3M342 939h3M262 924h3M221 960h3M331 950h3M328 898h3M227 871h3M314 963h3M221 978h3M411 889h3M270 923h3M316 882h3M317 960h3M280 913h3M206 995h3M341 916h3M318 948h3M339 915h3M286 956h3M366 920h3M388 931h3M361 928h3M232 907h3M291 940h3M307 926h3M434 907h3M236 954h3M240 959h3M272 936h3M287 974h3M435 940h3M204 956h3M249 925h3M357 932h3M308 941h3M235 868h3M212 971h3M274 975h3M293 974h3M299 951h3M320 945h3M285 901h3M371 963h3M284 973h3M267 990h3M408 907h3M280 842h3M435 920h3M283 995h3M318 949h3M240 966h3M333 951h3M327 961h3M254 957h3M211 988h3M410 929h3M444 924h3M355 926h3M283 947h3M200 856h3M303 959h3M221 951h3M298 964h3M209 889h3M406 910h3M340 953h3M297 983h3M290 941h3M217 899h3M288 971h3M206 882h3M320 944h3M257 978h3M276 965h3M271 974h3M299 966h3M280 949h3M272 962h3M419 916h3M344 898h3M203 928h3M263 898h3M277 983h3M284 967h3M214 932h3M258 966h3M387 935h3M231 929h3M279 955h3M234 977h3M355 980h3M282 948h3M327 962h3M285 966h3M259 962h3M428 888h3M215 964h3M223 901h3M386 927h3M349 939h3M388 930h3M238 997h3M210 955h3M352 924h3M258 993h3M287 946h3M218 989h3M375 930h3M298 943h3M228 913h3M220 967h3M331 939h3M288 966h3M280 968h3M404 925h3M314 951h3M349 941h3M304 945h3M227 931h3M331 945h3M317 898h3M329 942h3M308 959h3M281 963h3M293 957h3M381 953h3M387 933h3M218 894h3M419 916h3M413 879h3M223 879h3M245 953h3M211 863h3M261 981h3M403 900h3M304 970h3M351 943h3M211 961h3M265 970h3M295 952h3M217 887h3M341 950h3M207 892h3M400 932h3M423 941h3M215 956h3M298 947h3M292 961h3M231 858h3M220 980h3M207 889h3M194 959h3M282 962h3M236 914h3M206 880h3M227 980h3M216 969h3M217 890h3M431 932h3M307 961h3M299 883h3M202 821h3M314 957h3M198 988h3M409 907h3M387 950h3M330 931h3M365 894h3M289 940h3M389 924h3M320 936h3M286 873h3M405 922h3M325 960h3M248 916h3M260 941h3M278 960h3M332 944h3M272 963h3M295 943h3M335 790h3M238 980h3M320 933h3M414 927h3M338 878h3M383 921h3M322 952h3M344 950h3M205 986h3M208 883h3M269 961h3M298 949h3M223 914h3M236 926h3M220 909h3M249 859h3M207 934h3M215 923h3M243 878h3M321 957h3M210 948h3M290 949h3M341 939h3M331 956h3M306 944h3M208 930h3M227 991h3M302 966h3M258 931h3M214 912h3M281 953h3M243 974h3M255 882h3M225 904h3M328 974h3M356 955h3M321 972h3M299 958h3M201 831h3M396 917h3M306 948h3M199 863h3M302 958h3M273 899h3M225 918h3M398 918h3M267 963h3M200 923h3M330 917h3M412 909h3M299 962h3M227 968h3M427 914h3M300 957h3M260 979h3M319 956h3M285 971h3M222 922h3M205 988h3M221 914h3M366 925h3M214 862h3M218 909h3M416 937h3M321 951h3M235 886h3M320 954h3M244 973h3M347 932h3M416 930h3M332 933h3M282 984h3M289 961h3M350 948h3M329 953h3M258 862h3M390 954h3M368 890h3M345 928h3M203 912h3M246 829h3M407 986h3M222 868h3M201 962h3M207 824h3M218 881h3M275 925h3M252 950h3M200 847h3M221 963h3M442 911h3M317 951h3M360 937h3M371 955h3M290 977h3M262 949h3M279 949h3M235 985h3M300 956h3M293 951h3M269 964h3M233 917h3M206 941h3M303 950h3M242 985h3M262 975h3M248 860h3M300 936h3M337 944h3M213 981h3M371 883h3M326 956h3M318 953h3M312 941h3M234 884h3M199 836h3M281 950h3M327 973h3M443 935h3M218 972h3M222 896h3M290 976h3M401 925h3M230 949h3M425 946h3M353 923h3M392 952h3M328 955h3M219 900h3M212 865h3M214 947h3M197 973h3M314 954h3M301 967h3M214 993h3M408 909h3M238 978h3M287 961h3M457 911h3M405 926h3M212 947h3M311 920h3M389 915h3M306 848h3M276 964h3M225 921h3M207 920h3M281 948h3M214 959h3M299 975h3M433 810h3M353 887h3M223 920h3M407 925h3M327 950h3M253 909h3M205 960h3M282 974h3M347 907h3M438 919h3M289 948h3M224 927h3M239 947h3M305 954h3M214 880h3M210 973h3M220 958h3M219 982h3M246 852h3M228 968h3M292 928h3M318 918h3M195 967h3M244 958h3M307 971h3M206 986h3M202 820h3M321 960h3M233 958h3M203 882h3M349 960h3M307 971h3M212 984h3M420 913h3M212 968h3M235 896h3M315 972h3M212 979h3M212 855h3M395 919h3M412 923h3M235 972h3M197 980h3M332 933h3M407 927h3M396 924h3M307 955h3M208 870h3M355 964h3M335 951h3M228 822h3M242 941h3M325 952h3M369 939h3M374 934h3M254 868h3M225 854h3M212 982h3M226 886h3M227 869h3M342 956h3M274 980h3M297 922h3M289 846h3M206 895h3M329 963h3M254 893h3M199 919h3M309 959h3M295 969h3M235 994h3M237 984h3M302 947h3M264 985h3M205 939h3M230 882h3M216 943h3M333 933h3M258 987h3M282 960h3M234 978h3M313 944h3M209 979h3M324 942h3M295 959h3M202 901h3M321 942h3M332 951h3M386 925h3M338 953h3M330 938h3M305 971h3M324 943h3M310 944h3M341 924h3M293 971h3M349 936h3M301 987h3M333 907h3M279 963h3M269 901h3M217 985h3M280 860h3M260 921h3M286 969h3M255 933h3M221 967h3M204 873h3M316 953h3M314 867h3M207 973h3M302 959h3M295 981h3M206 965h3M339 937h3M212 971h3M287 915h3M310 946h3M249 974h3M330 965h3M404 964h3M320 936h3M339 990h3M341 898h3M346 936h3M377 889h3M250 990h3M441 914h3M323 944h3M366 950h3M310 945h3M259 993h3M326 972h3M345 969h3M232 941h3M448 952h3M336 921h3M321 952h3M370 932h3M214 978h3M283 973h3M302 957h3M203 914h3M207 970h3M354 929h3M257 977h3M209 944h3M226 924h3M199 918h3M354 922h3M201 899h3M290 970h3M307 980h3M350 972h3M208 976h3M238 906h3M225 885h3M212 972h3M272 877h3M205 983h3M273 933h3M219 917h3M205 895h3M287 956h3M240 824h3M311 862h3M304 969h3M277 944h3M205 931h3M345 935h3M292 944h3M293 957h3M267 963h3M195 980h3M206 882h3M368 878h3M201 875h3M226 974h3M444 917h3M298 955h3M307 957h3M231 961h3M264 853h3M328 980h3M350 948h3M309 853h3M267 845h3M405 910h3M295 867h3M201 849h3M286 950h3M271 884h3M206 912h3M432 895h3M306 958h3M273 952h3M284 978h3M277 963h3M236 973h3M345 900h3M286 963h3M204 979h3M366 926h3M290 968h3M202 972h3M200 992h3M334 920h3M196 935h3M205 884h3M217 912h3M332 931h3M228 860h3M238 978h3M287 954h3M220 982h3M209 908h3M287 980h3M229 943h3M247 936h3M234 938h3M400 949h3M291 967h3M298 956h3M253 915h3M317 960h3M388 987h3M225 887h3M275 948h3M342 959h3M435 936h3M304 968h3M201 973h3M352 931h3M206 989h3M280 946h3M415 902h3M423 898h3M229 952h3M314 945h3M393 936h3M316 951h3M264 959h3M395 977h3M220 918h3M291 955h3M235 903h3M272 983h3M203 978h3M244 885h3M324 967h3M308 943h3M213 882h3M209 845h3M290 942h3M210 945h3M338 938h3M204 937h3M197 901h3M229 918h3M382 921h3M207 885h3M197 904h3M437 930h3M283 974h3M249 936h3M278 934h3M262 919h3M276 936h3M256 882h3M306 970h3M320 911h3M220 944h3M198 833h3M245 977h3M346 927h3M311 871h3M316 886h3M254 868h3M240 880h3M241 842h3M226 933h3M390 915h3M202 908h3M290 968h3M323 995h3M367 915h3M289 959h3M238 927h3M259 956h3M217 963h3M303 995h3M403 906h3M233 884h3M238 894h3M210 930h3M270 952h3M205 996h3M321 946h3M368 942h3M336 935h3M325 953h3M275 953h3M316 939h3M318 935h3M235 901h3M241 941h3M229 914h3M201 941h3M196 981h3M346 929h3M345 927h3M337 948h3M332 950h3M228 942h3M248 932h3M296 969h3M199 947h3M241 945h3M283 938h3M311 948h3M195 877h3M233 876h3M231 920h3M303 957h3M206 982h3M249 854h3M302 989h3M356 940h3M323 947h3M279 930h3M336 926h3M204 987h3M276 950h3M387 901h3M210 898h3M317 985h3M368 935h3M315 962h3M388 941h3M416 950h3M383 929h3M233 867h3M211 888h3M316 948h3M242 966h3M333 925h3M307 931h3M246 940h3M223 938h3M329 935h3M255 974h3M347 945h3M204 944h3M456 916h3M286 947h3M368 929h3M219 932h3M258 962h3M295 929h3M228 954h3M213 965h3M285 943h3M217 978h3M241 959h3M310 954h3M294 960h3M318 961h3M296 956h3M367 931h3M359 976h3M305 940h3M210 937h3M234 893h3M209 981h3M293 954h3M295 941h3M338 927h3M322 951h3M212 917h3M208 980h3M378 896h3M345 965h3M355 939h3M362 919h3M284 970h3M343 952h3M216 942h3M374 915h3M224 962h3M310 880h3M260 965h3M293 936h3M363 927h3M335 915h3M232 977h3M422 949h3M288 975h3M305 965h3M305 981h3M224 857h3M227 975h3M405 818h3M240 971h3M303 950h3M398 930h3M353 941h3M375 854h3M335 946h3M281 820h3M326 953h3M231 978h3M334 961h3M230 894h3M199 875h3M263 946h3M247 888h3M213 845h3M214 957h3M353 909h3M407 952h3M300 961h3M403 937h3M321 941h3M332 943h3M283 954h3M322 908h3M420 898h3M367 917h3M336 955h3M204 914h3M276 899h3M395 914h3M231 915h3M341 940h3M218 953h3M258 920h3M373 938h3M247 970h3M297 986h3M401 901h3M199 917h3M196 973h3M280 991h3M252 939h3M345 945h3" stroke="#000" stroke-opacity="0.28" stroke-width="3" fill="none"/>
<path d="M301 918h3M329 912h3M357 940h3M229 901h3M280 932h3M405 942h3M207 895h3M314 854h3M219 945h3M389 946h3M225 977h3M236 776h3M335 949h3M339 903h3M330 938h3M228 975h3M382 936h3M225 981h3M331 974h3M308 938h3M385 951h3M217 889h3M371 915h3M287 957h3M212 991h3M321 945h3M280 931h3M322 945h3M229 994h3M392 908h3M331 929h3M453 806h3M219 956h3M283 960h3M290 962h3M296 955h3M308 959h3M247 884h3M233 899h3M266 791h3M223 977h3M255 988h3M210 948h3M211 941h3M225 965h3M261 982h3M228 929h3M226 959h3M267 967h3M289 953h3M333 935h3M318 941h3M240 983h3M295 979h3M301 964h3M216 923h3M283 969h3M298 927h3M317 971h3M230 850h3M387 908h3M264 961h3M256 970h3M359 843h3M218 915h3M195 949h3M226 902h3M357 949h3M203 959h3M255 872h3M211 920h3M283 890h3M292 960h3M212 918h3M327 934h3M219 919h3M297 907h3M211 965h3M231 868h3M270 822h3M374 921h3M210 861h3M243 839h3M216 913h3M293 982h3M407 843h3M328 943h3M274 933h3M279 948h3M234 931h3M307 941h3M217 902h3M278 957h3M305 962h3M396 920h3M332 929h3M315 972h3M296 894h3M289 989h3M317 944h3M224 957h3M315 947h3M407 919h3M249 989h3M419 930h3M319 952h3M291 941h3M257 954h3M335 966h3M345 941h3M289 873h3M285 953h3M245 976h3M404 941h3M225 989h3M242 914h3M219 949h3M260 962h3M337 929h3M320 941h3M449 933h3M201 907h3M206 841h3M416 894h3M291 973h3M288 958h3M287 939h3M405 925h3M211 924h3M205 890h3M213 878h3M386 910h3M361 953h3M307 962h3M322 952h3M295 862h3M349 937h3M215 977h3M235 948h3M354 961h3M260 958h3M193 928h3M292 957h3M315 958h3M286 954h3M422 915h3M339 953h3M393 927h3M280 979h3M198 985h3M315 935h3M280 865h3M308 960h3M261 857h3M298 880h3M243 897h3M283 951h3M280 872h3M281 960h3M202 970h3M310 956h3M330 924h3M307 953h3M246 972h3M246 948h3M359 925h3M276 981h3M244 968h3M195 964h3M371 939h3M310 923h3M426 957h3M204 942h3M338 930h3M242 848h3M283 864h3M241 874h3M390 894h3M438 901h3M418 921h3M318 961h3M201 896h3M280 978h3M214 913h3M209 871h3M298 958h3M282 948h3M208 948h3M281 962h3M327 926h3M247 929h3M258 979h3M225 866h3M347 942h3M332 920h3M329 960h3M386 925h3M283 952h3M387 937h3M352 940h3M232 974h3M319 932h3M210 913h3M294 958h3M357 931h3M327 921h3M374 938h3M357 924h3M250 978h3M215 923h3M321 959h3M320 937h3M307 967h3M317 984h3M337 935h3M258 950h3M369 943h3M214 974h3M221 909h3M280 897h3M303 968h3M292 913h3M434 929h3M374 985h3M317 973h3M312 974h3M302 944h3M199 946h3M355 952h3M224 891h3M313 943h3M197 957h3M410 932h3M400 949h3M237 903h3M380 937h3M312 981h3M307 853h3M292 894h3M214 985h3M214 964h3M357 933h3M334 962h3M429 902h3M242 951h3M240 972h3M260 879h3M195 938h3M364 939h3M430 939h3M272 881h3M218 951h3M305 973h3M247 926h3M214 910h3M281 952h3M230 913h3M314 967h3M313 977h3M278 951h3M220 987h3M317 942h3M394 926h3M329 956h3M284 957h3M329 970h3M219 886h3M252 964h3M233 918h3M387 926h3M276 966h3M201 914h3M284 965h3M397 928h3M210 975h3M212 940h3M327 953h3M224 953h3M340 963h3M270 961h3M270 975h3M195 958h3M286 952h3M329 927h3M278 984h3M319 972h3M224 935h3M236 904h3M298 960h3M216 927h3M280 972h3M296 909h3M361 893h3M263 958h3M194 852h3M301 967h3M208 915h3M307 950h3M398 924h3M322 934h3M263 963h3M287 981h3M203 918h3M262 943h3M310 946h3M394 929h3M396 936h3M223 949h3M223 902h3M315 949h3M223 867h3M393 917h3M283 866h3M256 882h3M214 928h3M338 979h3M234 982h3M207 991h3M343 951h3M280 948h3M368 921h3M273 837h3M253 961h3M295 959h3M332 975h3M222 871h3M328 916h3M299 951h3M420 922h3M291 977h3M294 962h3M341 941h3M308 967h3M337 957h3M224 879h3M369 941h3M301 942h3M347 952h3M288 945h3M220 963h3M212 863h3M344 920h3M225 937h3M348 930h3M197 973h3M234 963h3M222 981h3M227 867h3M434 918h3M258 926h3M330 938h3M298 943h3M359 931h3M298 954h3M310 950h3M303 955h3M321 963h3M366 908h3M294 965h3M220 894h3M307 953h3M411 930h3M203 848h3M315 944h3M311 924h3M210 953h3M196 918h3M206 882h3M402 917h3M231 894h3M202 982h3M322 951h3M292 943h3M325 935h3M214 824h3M212 822h3M267 986h3M232 934h3M385 920h3M428 914h3M195 843h3M291 965h3M297 960h3M298 943h3M209 894h3M235 964h3M347 952h3M411 940h3M304 926h3M195 885h3M452 917h3M328 955h3M305 949h3M338 952h3M397 936h3M221 995h3M303 924h3M405 955h3M236 885h3M330 875h3M218 969h3M315 949h3M281 985h3M309 978h3M283 958h3M285 950h3M390 938h3M286 963h3M258 958h3M318 955h3M393 910h3M339 937h3M225 976h3M427 911h3M333 945h3M294 974h3M331 923h3M338 926h3M305 961h3M214 882h3M237 963h3M305 955h3M201 880h3M308 898h3M219 872h3M213 955h3M297 950h3M196 889h3M431 912h3M231 893h3M316 937h3M364 912h3M234 961h3M386 912h3M290 953h3M329 939h3M329 939h3M287 903h3M437 908h3M438 970h3M311 950h3M208 981h3M256 896h3M199 998h3M290 941h3M211 943h3M321 937h3M204 963h3M308 977h3M232 876h3M232 894h3M217 915h3M203 955h3M197 914h3M230 906h3M331 959h3M362 855h3M288 948h3M275 975h3M242 900h3M350 950h3M337 941h3M277 963h3M285 984h3M298 962h3M297 882h3M193 881h3M318 957h3M243 980h3M310 947h3M429 912h3M318 951h3M415 915h3M201 935h3M351 954h3M223 964h3M280 984h3M371 915h3M330 926h3M328 958h3M229 960h3M416 930h3M312 932h3M373 946h3M304 933h3M284 977h3M303 932h3M304 951h3M323 963h3M291 986h3M206 978h3M323 950h3M361 932h3M331 947h3M219 860h3M279 859h3M338 843h3M224 982h3M224 907h3M312 947h3M280 956h3M249 815h3M230 918h3M221 914h3M216 897h3M379 895h3M202 959h3M297 864h3M273 878h3M215 814h3M262 946h3M380 931h3M307 957h3M225 874h3M229 908h3M292 955h3M420 952h3M213 905h3M381 935h3M252 972h3M301 940h3M317 940h3M205 977h3M205 885h3M214 963h3M435 935h3M256 939h3M199 918h3M207 974h3M216 891h3M204 959h3M271 976h3M325 966h3M227 923h3M264 973h3M290 875h3M284 966h3M352 931h3M273 940h3M221 994h3M396 926h3M383 921h3M332 938h3M428 926h3M255 993h3M304 986h3M309 943h3M369 919h3M341 928h3M332 969h3M226 888h3M353 938h3M392 933h3M310 965h3M335 925h3M358 910h3M294 972h3M208 935h3M426 954h3M222 935h3M263 966h3M319 984h3M323 927h3M300 936h3M199 955h3M213 995h3M307 962h3M275 898h3M254 969h3M244 867h3M342 937h3M297 951h3M252 956h3M446 895h3M252 992h3M384 896h3M286 936h3M284 958h3M293 953h3M275 948h3M313 967h3M315 961h3M230 934h3M203 775h3M332 952h3M265 883h3M210 973h3M339 945h3M337 954h3M303 993h3M225 926h3M247 972h3M330 938h3M307 923h3M391 939h3M242 975h3M278 971h3M226 971h3M342 950h3M210 868h3M245 878h3M233 913h3M237 875h3M206 899h3M225 948h3M206 905h3M354 937h3M257 875h3M292 930h3M278 957h3M257 956h3M394 918h3M211 928h3M217 956h3M256 928h3M282 959h3M207 983h3M267 963h3M307 926h3M298 978h3M310 943h3M239 856h3M316 967h3M298 939h3M357 952h3M208 880h3M323 962h3M268 844h3M266 986h3M241 828h3M286 909h3M404 910h3M295 827h3M294 950h3M301 938h3M265 961h3M313 966h3M299 942h3M334 938h3M335 906h3M259 842h3M371 905h3M294 936h3M217 980h3M300 959h3M220 870h3M212 936h3M294 897h3M222 918h3M338 929h3M403 956h3M333 929h3M360 954h3M261 886h3M207 817h3M377 975h3M346 960h3M207 978h3M209 993h3M360 934h3M295 969h3M363 970h3M202 882h3M366 946h3M324 959h3M419 930h3M397 922h3M225 895h3M272 969h3M252 965h3M335 964h3M337 930h3M206 978h3M234 958h3M356 944h3M221 945h3M197 977h3M260 870h3M242 896h3M327 941h3M217 910h3M362 929h3M313 934h3M313 934h3M311 923h3M226 894h3M198 904h3M207 878h3M210 965h3M329 939h3M201 966h3M297 961h3M282 947h3M349 974h3M198 890h3M277 943h3M204 937h3M226 953h3M200 881h3M290 934h3M236 842h3M226 960h3M254 866h3M368 977h3M266 990h3M302 917h3M296 969h3M253 981h3M285 951h3M348 939h3M226 856h3M367 931h3M284 991h3M229 886h3M285 950h3M241 901h3M283 949h3M227 973h3M209 982h3M239 985h3M355 927h3M356 909h3M305 879h3M382 928h3M299 939h3M258 984h3M408 993h3M347 938h3M201 881h3M204 918h3M301 932h3M222 957h3M208 879h3M214 980h3M234 981h3M439 898h3M340 988h3M296 857h3M286 840h3M273 956h3M412 905h3M240 937h3M232 939h3M218 911h3M230 914h3M324 923h3M450 935h3M289 969h3M363 939h3M436 904h3M269 970h3M444 931h3M396 856h3M291 937h3M289 849h3M318 942h3M351 926h3M360 903h3M294 991h3M374 927h3M294 812h3M405 915h3M253 813h3M209 960h3M221 912h3M229 898h3M332 945h3M215 886h3M287 931h3M270 857h3M218 911h3M255 880h3M305 945h3M369 932h3M290 945h3M214 850h3M295 945h3M264 938h3M266 997h3M364 972h3M246 923h3M401 907h3M287 953h3M291 964h3M205 953h3M264 891h3M236 912h3M406 908h3M222 974h3M377 925h3M331 973h3M296 964h3M270 966h3M385 972h3M353 938h3M316 935h3M207 971h3M241 974h3M304 928h3M233 932h3M198 979h3M300 956h3M349 959h3M310 938h3M228 893h3M298 953h3M296 958h3M416 951h3M344 937h3M380 917h3M289 984h3M262 960h3M225 975h3M228 970h3M372 924h3M213 944h3M288 963h3M292 961h3M214 851h3M361 931h3M245 869h3M322 954h3M255 959h3M284 954h3M325 938h3M323 966h3M205 896h3M207 899h3M216 881h3M209 930h3M225 981h3M259 953h3M234 924h3M347 915h3M296 991h3M196 943h3M389 932h3M331 953h3M288 847h3M363 933h3M246 875h3M435 920h3M422 923h3M212 923h3M351 950h3M263 982h3M451 986h3M296 979h3M216 861h3M312 803h3M222 933h3M421 931h3M218 983h3M238 958h3M233 965h3M370 940h3M273 950h3M209 958h3M321 953h3M407 897h3M305 933h3M364 933h3M358 887h3M394 924h3M199 942h3M226 966h3M328 959h3M292 992h3M287 960h3M254 826h3M220 989h3M236 921h3M206 980h3M338 942h3M373 918h3M338 954h3M228 986h3M240 899h3M405 923h3M341 955h3M294 948h3M445 936h3M271 852h3M353 917h3M212 942h3M312 955h3M246 887h3M423 929h3M379 931h3M315 961h3M228 893h3M305 955h3M309 939h3M352 928h3M343 931h3M323 941h3M213 971h3M363 978h3M240 973h3M317 962h3M301 954h3M352 945h3M336 967h3M276 940h3M411 931h3M330 965h3M206 970h3M242 974h3M309 887h3M306 887h3M281 967h3M235 858h3M302 946h3M367 929h3M277 955h3M306 937h3M248 988h3M388 971h3M373 928h3M233 903h3M259 941h3M276 954h3M337 944h3M220 892h3M320 969h3M314 961h3M423 937h3M389 845h3M392 956h3M227 876h3M213 957h3M446 913h3M327 851h3M296 960h3M397 879h3M337 952h3M247 995h3M243 953h3M327 938h3M232 876h3M280 991h3M217 896h3M246 899h3M194 953h3M227 850h3M217 924h3M226 906h3M216 991h3M219 983h3M193 958h3M340 976h3M292 945h3M272 960h3M435 908h3M214 843h3M216 940h3M238 889h3M395 958h3M378 930h3M293 942h3M198 920h3M222 959h3M220 897h3M334 941h3M238 961h3M251 892h3M235 910h3M320 874h3M345 964h3M285 960h3M322 942h3M214 937h3M261 973h3M229 940h3M209 967h3M360 930h3M353 933h3M233 910h3M332 913h3M254 821h3M346 947h3M351 910h3M313 959h3M208 969h3M310 946h3M420 923h3M222 918h3M412 908h3M308 936h3M276 970h3M303 942h3M436 927h3M425 945h3M291 966h3M214 955h3M317 944h3M375 944h3M216 968h3M298 950h3M333 975h3M322 955h3M298 962h3M392 942h3M346 929h3M257 935h3M222 863h3M309 933h3M233 940h3M285 953h3M264 828h3M322 940h3M316 953h3M216 956h3M289 971h3M366 929h3M306 968h3M201 870h3M213 857h3M295 971h3M282 965h3M206 959h3M311 976h3M222 899h3M200 956h3M218 978h3M243 944h3M199 869h3M210 913h3M334 958h3M311 943h3M380 908h3M426 917h3M228 847h3M337 957h3M321 962h3M198 918h3M195 898h3M275 964h3M307 949h3M195 966h3M255 968h3M319 933h3M227 953h3M316 919h3M415 926h3M316 940h3M272 991h3M288 948h3M314 993h3M244 903h3M197 874h3M310 970h3M279 957h3M275 979h3M215 964h3M348 938h3M275 965h3M323 907h3M332 924h3M315 980h3M199 937h3M303 978h3M253 963h3M203 957h3M264 973h3M275 961h3M331 945h3M212 966h3M233 971h3M321 964h3M283 951h3M433 891h3M213 847h3M415 900h3M443 939h3M263 850h3M242 946h3M236 938h3M268 965h3M297 938h3M306 946h3M197 866h3M400 943h3M267 865h3M270 969h3M195 983h3M386 936h3M214 976h3M354 903h3M310 979h3M223 946h3M284 966h3M285 841h3M221 919h3M226 995h3M262 979h3M227 956h3M260 978h3M208 880h3M234 936h3M247 897h3M292 928h3M297 949h3M280 967h3M266 928h3M223 965h3M254 858h3M320 945h3M202 915h3M237 893h3M375 927h3M341 868h3M298 979h3M428 941h3M325 954h3M244 854h3M237 897h3M246 960h3M422 861h3M327 961h3M387 938h3M241 910h3M369 930h3M298 936h3M295 961h3M357 955h3M453 930h3M228 979h3M237 940h3M281 964h3M351 945h3M412 915h3M223 896h3M288 955h3M359 927h3M216 964h3M311 957h3M235 876h3M304 950h3M204 973h3M274 957h3M262 909h3M411 939h3M247 968h3M199 962h3M205 876h3M350 944h3M440 908h3M206 864h3M395 927h3M231 855h3M298 993h3M211 968h3M411 953h3M319 945h3M356 940h3M290 934h3M304 946h3M224 897h3M421 923h3M271 957h3M287 949h3M241 883h3M293 895h3M219 980h3M324 935h3M285 941h3M289 930h3M312 941h3M208 948h3M217 947h3M314 938h3M274 907h3M198 974h3M262 971h3M369 927h3M329 976h3M201 956h3M271 967h3M272 972h3M249 931h3M302 946h3M405 920h3M252 877h3M234 941h3M211 969h3M274 830h3M211 984h3M370 922h3M358 927h3M196 914h3M397 914h3M326 934h3M243 893h3M309 948h3M344 932h3M272 955h3M310 967h3M226 947h3M215 939h3M240 824h3M211 947h3M248 874h3M396 934h3M244 902h3M222 959h3M217 861h3M283 934h3M268 971h3M225 912h3M311 975h3M308 936h3M427 921h3M223 973h3M287 920h3M264 991h3M291 894h3M212 989h3M228 992h3M322 959h3M268 976h3M339 934h3M281 860h3M444 939h3M302 939h3M306 945h3M283 942h3M302 955h3M342 948h3M291 949h3M237 853h3M391 962h3M249 988h3M261 952h3M275 959h3M309 988h3M204 967h3M350 948h3M289 958h3M387 973h3M233 821h3M435 925h3M275 917h3M399 949h3M325 911h3M344 930h3M232 856h3M303 963h3M314 941h3M336 930h3M271 896h3M341 963h3M388 921h3M342 876h3M409 941h3M255 982h3M396 947h3M262 849h3M204 849h3M231 952h3M290 944h3M236 924h3M227 942h3M251 967h3M223 914h3M309 922h3M379 916h3M297 867h3M229 967h3M321 931h3M210 920h3M230 975h3M258 957h3M272 971h3M217 861h3M210 845h3M362 908h3M272 975h3M311 954h3M274 968h3M387 925h3M343 973h3M235 811h3M295 973h3M311 962h3M240 828h3M316 960h3M301 946h3M357 953h3M289 936h3M274 944h3M305 968h3M338 913h3M295 945h3M350 928h3M324 962h3M307 870h3M292 945h3M358 921h3M282 955h3M371 900h3M289 923h3M312 950h3M445 931h3M212 964h3M239 977h3M436 962h3M282 969h3M218 906h3M216 965h3M267 942h3M405 926h3M247 935h3M210 986h3M322 952h3M295 918h3M444 946h3M227 880h3M224 973h3M303 935h3M325 941h3M222 888h3M312 911h3M390 941h3M223 953h3M352 977h3M219 981h3M218 996h3M292 951h3M279 926h3M313 943h3M299 969h3M445 941h3M331 934h3M246 991h3M395 996h3M226 982h3M314 946h3M328 931h3M303 968h3M232 837h3M276 997h3M288 942h3M304 961h3M273 959h3M313 946h3M359 945h3M351 929h3M332 948h3M270 966h3M215 965h3M427 937h3M241 921h3M216 948h3M293 947h3M346 957h3M293 955h3M240 889h3M438 900h3M231 860h3M310 950h3M362 915h3M418 911h3M242 871h3M222 890h3M344 932h3M303 963h3M404 912h3M209 906h3M224 953h3M262 945h3M210 986h3M203 813h3M320 956h3M217 869h3M317 936h3M255 888h3M241 962h3M300 938h3M280 959h3M359 905h3M249 924h3M307 938h3M375 925h3M280 961h3M306 972h3M319 905h3M424 911h3M263 974h3M259 867h3M221 983h3M378 917h3M220 963h3M425 909h3M413 912h3M326 940h3M210 842h3M202 963h3M420 906h3M305 964h3M220 837h3M270 971h3M427 905h3M241 898h3M223 852h3M274 974h3M286 953h3M199 909h3M339 931h3M213 986h3M194 939h3M226 944h3M309 949h3M401 917h3M346 948h3M292 989h3M213 933h3M297 925h3M331 949h3M425 916h3M265 977h3M239 933h3M197 928h3M234 985h3M285 972h3M212 911h3M257 919h3M393 938h3M210 913h3M294 970h3M222 927h3M300 917h3M272 978h3M356 928h3M306 946h3M214 919h3M377 908h3M323 967h3M287 954h3M222 984h3M350 955h3M199 888h3M320 945h3M216 876h3M269 953h3M304 974h3M202 911h3M210 981h3M291 844h3M293 955h3M303 974h3M239 988h3M242 913h3M241 956h3M305 898h3M416 937h3M343 949h3M313 952h3M229 979h3M375 945h3M291 944h3M203 888h3M438 886h3M208 912h3M263 958h3M298 946h3M309 949h3M223 875h3M314 935h3M219 899h3M314 947h3M352 926h3M243 993h3M347 931h3M212 906h3M264 970h3M357 954h3M237 890h3M341 932h3M288 956h3M233 924h3M218 938h3M327 959h3M266 944h3M313 943h3M259 978h3M260 970h3M294 959h3M202 953h3M202 986h3M306 930h3M213 967h3M333 927h3M269 967h3M315 940h3M289 958h3M291 940h3M376 912h3M288 962h3M271 957h3M317 943h3M308 954h3M266 995h3M251 887h3M207 887h3M273 942h3M297 932h3M415 958h3M421 912h3M200 967h3M297 953h3M379 920h3M322 954h3M199 982h3M383 918h3M436 933h3M215 864h3M214 980h3M282 940h3M312 972h3M225 976h3M228 865h3M372 935h3M220 897h3M388 929h3M197 991h3M418 951h3M217 963h3" stroke="#000" stroke-opacity="0.28" stroke-width="3" fill="none"/>
</g></g>
<g><g transform="scale(0.5)">
<path d="M657 943h3M537 786h3M592 890h3M601 877h3M625 843h3M554 965h3M671 929h3M561 905h3M637 970h3M593 988h3M555 890h3M616 964h3M561 817h3M670 960h3M567 886h3M611 939h3M584 915h3M555 889h3M599 785h3M575 881h3M594 910h3M699 941h3M725 825h3M701 933h3M722 896h3M711 911h3M750 913h3M629 971h3M610 923h3M635 962h3M540 989h3M645 874h3M556 869h3M564 996h3M569 867h3M563 940h3M590 882h3M566 911h3M559 934h3M537 945h3M669 930h3M596 881h3M584 814h3M719 939h3M654 898h3M668 943h3M569 854h3M543 875h3M717 952h3M598 917h3M681 956h3M594 910h3M568 939h3M587 874h3M599 977h3M676 814h3M673 993h3M591 892h3M718 933h3M568 885h3M545 905h3M561 868h3M647 966h3M539 838h3M539 797h3M624 891h3M619 971h3M563 939h3M597 929h3M569 870h3M578 919h3M671 940h3M712 908h3M600 805h3M613 958h3M620 986h3M552 874h3M691 948h3M539 858h3M585 840h3M617 855h3M668 953h3M599 976h3M559 973h3M563 958h3M584 984h3M563 830h3M597 914h3M562 833h3M597 884h3M541 968h3M566 936h3M608 982h3M663 921h3M576 965h3M551 927h3M632 983h3M624 949h3M603 863h3M727 919h3M587 915h3M544 924h3M600 869h3M566 951h3M569 934h3M569 966h3M574 859h3M655 966h3M621 950h3M757 918h3M679 934h3M714 936h3M728 925h3M568 822h3M566 985h3M625 963h3M550 969h3M597 986h3M603 843h3M572 919h3M563 870h3M545 857h3M612 833h3M585 924h3M611 897h3M563 961h3M627 956h3M567 889h3M617 987h3M567 986h3M560 889h3M554 892h3M552 903h3M611 846h3M613 961h3M733 926h3M552 958h3M555 852h3M622 932h3M551 882h3M742 951h3M677 938h3M577 885h3M591 994h3M584 861h3M576 856h3M646 943h3M586 967h3M583 875h3M689 932h3M724 863h3M594 901h3M636 961h3M719 937h3M598 953h3M553 955h3M669 957h3M606 978h3M571 892h3M564 949h3M581 893h3M687 788h3M542 848h3M572 960h3M556 959h3M610 914h3M607 861h3M560 970h3M620 928h3M544 943h3M550 953h3M543 855h3M600 908h3M659 952h3M586 775h3M559 961h3M685 952h3M669 953h3M556 871h3M549 859h3M624 962h3M556 825h3M793 888h3M557 941h3M587 832h3M575 904h3M646 946h3M629 972h3M556 953h3M581 913h3M559 811h3M538 855h3M556 949h3M612 842h3M555 973h3M588 953h3M554 900h3M659 960h3M618 934h3M562 944h3M553 976h3M707 924h3M566 852h3M604 878h3M549 955h3M678 917h3M625 918h3M569 877h3M613 865h3M565 897h3M613 970h3M717 906h3M701 957h3M560 881h3M612 939h3M676 981h3M554 912h3M719 918h3M654 922h3M677 928h3M611 823h3M612 964h3M607 978h3M561 920h3M582 986h3M576 861h3M601 980h3M672 941h3M614 964h3M700 977h3M607 916h3M538 894h3M614 943h3M555 974h3M546 868h3M639 896h3M557 979h3M614 910h3M619 958h3M561 924h3M590 971h3M580 875h3M641 981h3M582 824h3M567 858h3M541 919h3M674 952h3M622 948h3M562 906h3M557 925h3M603 916h3M568 910h3M546 988h3M556 895h3M564 918h3M588 933h3M580 947h3M609 931h3M757 936h3M649 970h3M571 900h3M709 933h3M618 940h3M653 964h3M559 923h3M683 929h3M561 952h3M592 982h3M553 905h3M615 867h3M640 981h3M557 875h3M607 826h3M573 951h3M564 898h3M616 943h3M612 800h3M586 966h3M556 895h3M560 881h3M683 929h3M762 947h3M552 906h3M731 910h3M539 976h3M574 969h3M572 912h3M663 912h3M635 972h3M596 901h3M585 935h3M672 966h3M557 873h3M577 975h3M645 923h3M605 965h3M590 872h3M588 900h3M552 887h3M580 970h3M585 933h3M560 896h3M796 953h3M592 920h3M571 923h3M662 926h3M610 949h3M731 924h3M662 955h3M676 946h3M569 847h3M543 871h3M709 907h3M693 987h3M564 912h3M567 896h3M646 968h3M635 985h3M655 935h3M609 941h3M669 875h3M578 885h3M578 909h3M622 962h3M563 888h3M742 911h3M583 890h3M652 948h3M542 897h3M578 888h3M677 927h3M544 782h3M681 842h3M580 871h3M681 924h3M584 842h3M596 905h3M569 850h3M683 953h3M731 910h3M547 971h3M615 883h3M558 963h3M576 976h3M570 876h3M564 898h3M743 939h3M697 943h3M602 885h3M638 909h3M621 949h3M634 934h3M663 954h3M621 959h3M650 964h3M568 931h3M674 837h3M611 931h3M552 847h3M624 960h3M627 971h3M659 949h3M573 907h3M646 955h3M618 959h3M573 926h3M538 969h3M720 937h3M559 891h3M601 858h3M618 976h3M552 973h3M713 954h3M584 950h3M571 826h3M541 908h3M672 937h3M574 901h3M599 938h3M727 917h3M579 848h3M728 916h3M546 968h3M556 812h3M559 925h3M548 996h3M591 892h3M673 928h3M616 970h3M648 953h3M679 925h3M695 937h3M654 951h3M596 907h3M586 911h3M613 971h3M709 930h3M563 929h3M587 897h3M621 981h3M698 917h3M548 963h3M706 913h3M549 962h3M568 814h3M676 947h3M586 846h3M577 955h3M548 867h3M620 809h3M572 896h3M710 910h3M556 899h3M550 862h3M546 862h3M647 903h3M601 909h3M734 941h3M629 974h3M671 892h3M562 870h3M547 901h3M572 882h3M539 910h3M557 873h3M612 863h3M618 875h3M634 945h3M545 937h3M573 869h3M553 858h3M652 931h3M627 954h3M567 934h3M686 946h3M549 908h3M637 964h3M602 793h3M546 930h3M580 906h3M644 868h3M622 944h3M561 876h3M565 985h3M543 843h3M624 876h3M564 904h3M582 810h3M571 891h3M570 921h3M614 825h3M583 824h3M573 949h3M556 852h3M601 855h3M543 910h3M550 895h3M585 884h3M579 916h3M600 821h3M542 792h3M580 936h3M586 879h3M602 982h3M553 895h3M541 851h3M550 877h3M568 887h3M671 971h3M709 925h3M569 989h3M659 943h3M572 869h3M557 961h3M618 965h3M575 911h3M722 827h3M663 927h3M576 992h3M735 897h3M616 908h3M554 924h3M641 965h3M608 916h3M563 910h3M569 898h3M549 876h3M741 903h3M625 879h3M549 872h3M539 958h3M591 897h3M547 939h3M569 930h3M547 987h3M655 965h3M565 889h3M614 946h3M644 936h3M540 854h3M670 923h3M565 912h3M658 968h3M743 880h3M623 962h3M592 921h3M607 956h3M695 948h3M597 916h3M588 945h3M764 915h3M587 894h3M650 965h3M586 889h3M583 951h3M707 930h3M571 891h3M726 887h3M699 930h3M696 938h3M591 886h3M556 900h3M568 993h3M551 864h3M583 904h3M576 851h3M649 948h3M616 967h3M611 987h3M680 943h3M553 880h3M578 837h3M543 904h3M701 919h3M670 779h3M647 931h3M561 870h3M567 982h3M568 946h3M579 879h3M659 952h3M576 897h3M568 814h3M559 928h3M568 988h3M552 906h3M613 956h3M552 977h3M596 911h3M562 978h3M598 910h3M686 935h3M652 923h3M583 896h3M547 916h3M629 976h3M619 966h3M544 974h3M601 879h3M573 872h3M562 949h3M564 899h3M554 962h3M576 860h3M578 991h3M634 881h3M644 944h3M567 915h3M577 967h3M619 973h3M566 906h3M631 978h3M654 962h3M576 929h3M571 843h3M691 907h3M671 948h3M589 901h3M562 808h3M661 962h3M665 935h3M571 933h3M598 877h3M564 854h3M555 897h3M652 948h3M593 980h3M555 862h3M653 962h3M566 916h3M593 932h3M563 948h3M595 987h3M561 810h3M564 885h3M581 839h3M618 957h3M567 972h3M584 947h3M642 950h3M762 900h3M606 895h3M571 929h3M543 973h3M660 930h3M627 937h3M673 937h3M573 833h3M629 991h3M565 875h3M642 972h3M672 914h3M567 947h3M625 928h3M736 940h3M604 983h3M542 886h3M560 982h3M558 889h3M615 862h3M543 965h3M577 886h3M566 890h3M554 863h3M551 964h3M602 950h3M587 950h3M621 973h3M544 847h3M539 884h3M559 958h3M600 965h3M627 957h3M551 929h3M565 852h3M584 914h3M673 943h3M699 921h3M601 871h3M548 880h3M549 984h3M551 903h3M669 954h3M550 975h3M551 847h3M553 890h3M584 857h3M566 940h3M590 951h3M584 896h3M569 970h3M598 937h3M676 932h3M573 992h3M550 862h3M568 918h3M570 914h3M619 939h3M659 945h3M565 930h3M591 886h3M549 864h3M568 871h3M677 968h3M564 848h3M555 993h3M711 918h3M545 933h3M563 892h3M794 786h3M647 948h3M629 965h3M627 974h3M556 972h3M682 944h3M643 950h3M588 985h3M723 945h3M607 868h3M608 969h3M743 922h3M694 945h3M616 838h3M653 930h3M715 918h3M590 899h3M597 976h3M572 959h3M577 913h3M564 846h3M583 813h3M595 881h3M611 858h3M612 980h3M584 967h3M545 906h3M676 939h3M652 953h3M568 967h3M550 987h3M572 992h3M641 948h3M598 883h3M663 865h3M594 900h3M569 926h3M578 989h3M547 944h3M556 994h3M548 892h3M598 985h3M664 893h3M558 897h3M597 879h3M689 951h3M597 910h3M568 836h3M624 934h3M590 902h3M592 956h3M683 953h3M594 911h3M554 861h3M639 954h3M651 950h3M603 966h3M615 957h3M584 893h3M636 941h3M640 890h3M603 896h3M625 884h3M569 914h3M751 917h3M586 853h3M674 944h3M543 830h3M541 912h3M677 792h3M567 883h3M590 927h3M707 922h3M617 856h3M546 922h3M742 927h3M665 944h3M591 820h3M568 984h3M549 900h3M569 993h3M594 917h3M557 871h3M546 985h3M641 861h3M660 964h3M616 878h3M619 947h3M719 933h3M567 847h3M663 937h3M561 935h3M553 957h3M558 984h3M542 878h3M798 912h3M611 969h3M662 908h3M575 841h3M542 821h3M574 960h3M568 872h3M544 980h3M701 953h3M739 920h3M577 978h3M595 907h3M598 927h3M548 798h3M543 956h3M565 908h3M643 947h3M559 904h3M557 969h3M562 874h3M571 892h3M553 947h3M579 867h3M734 949h3M548 988h3M638 962h3M696 898h3M542 897h3M572 872h3M580 789h3M570 906h3M573 955h3M750 899h3M610 921h3M642 973h3M551 957h3M574 920h3M622 897h3M589 948h3M573 874h3M671 936h3M569 881h3M547 890h3M574 907h3M549 961h3M764 818h3M646 807h3M723 915h3M606 948h3M568 935h3M568 918h3M552 846h3M631 933h3M580 897h3M674 939h3M664 822h3M629 948h3M624 924h3M578 919h3M588 970h3M549 836h3M562 873h3M647 952h3M553 925h3M574 950h3M554 924h3M578 932h3M556 873h3M596 950h3M574 917h3M561 965h3M619 971h3M554 859h3M690 917h3M606 926h3M577 967h3M721 950h3M599 979h3M543 887h3M573 857h3M568 906h3M617 829h3M629 945h3M543 857h3M707 918h3M593 975h3M586 981h3M562 927h3M729 901h3M558 984h3M708 923h3M581 803h3M575 877h3M553 914h3M649 951h3M559 880h3M577 845h3M578 937h3M585 847h3M560 927h3M725 893h3M586 913h3M690 941h3M623 963h3M564 841h3M561 941h3M571 882h3M565 881h3M618 895h3M599 835h3M583 894h3M575 931h3M568 792h3M641 940h3M602 902h3M577 975h3M576 895h3M539 995h3M633 859h3M570 833h3M569 969h3M716 943h3M571 913h3M560 920h3M617 850h3M659 940h3M679 940h3M556 892h3M603 902h3M685 920h3M539 961h3M558 911h3M658 927h3M566 913h3M639 953h3M637 957h3M669 956h3M567 890h3M539 837h3M580 852h3M549 828h3M658 980h3M606 979h3M600 946h3M598 946h3M555 866h3M676 926h3M653 963h3M538 948h3M668 960h3M563 922h3M652 954h3M570 906h3M563 893h3M705 926h3M572 892h3M569 947h3M574 867h3M604 839h3M642 970h3M695 961h3M538 853h3M549 962h3M557 836h3M646 935h3M554 841h3M542 872h3M608 874h3M584 941h3M589 878h3M572 818h3M563 887h3M622 974h3M557 798h3M619 854h3M541 903h3M616 968h3M579 904h3M539 980h3M569 910h3M548 947h3M595 975h3M594 918h3M568 876h3M739 942h3M539 961h3M570 889h3M540 891h3M545 923h3M633 885h3M700 929h3M607 877h3M692 948h3M537 894h3M576 866h3M553 890h3M640 939h3M579 840h3M575 827h3M590 952h3M630 855h3M676 971h3M681 905h3M576 861h3M574 961h3M651 953h3M572 936h3M557 848h3M580 895h3M693 936h3M554 952h3M559 966h3M545 937h3M648 937h3M567 878h3M578 967h3M598 790h3M567 850h3M577 898h3M561 974h3M599 848h3M664 957h3M568 954h3M619 873h3M662 943h3M619 945h3M576 884h3M575 893h3M580 880h3M564 845h3M634 872h3M575 845h3M569 952h3M633 964h3M565 972h3M567 929h3M670 953h3M568 898h3M644 875h3M573 899h3M582 911h3M649 969h3M648 850h3M658 952h3M549 909h3M552 829h3M710 936h3M567 904h3M559 862h3M575 889h3M679 832h3M625 951h3M571 775h3M549 889h3M580 899h3M726 912h3M625 958h3M538 936h3M582 864h3M558 985h3M581 927h3M581 901h3M545 934h3M568 979h3M548 866h3M587 871h3M790 786h3M650 961h3M636 962h3M622 783h3M593 952h3M602 958h3M597 946h3M561 849h3M621 953h3M616 977h3M559 910h3M545 959h3M570 989h3M682 945h3M583 836h3M585 935h3M618 941h3M588 937h3M574 947h3M568 969h3M661 930h3M643 959h3M669 912h3M537 954h3M580 979h3M583 939h3M571 971h3M615 873h3M565 957h3M695 932h3M557 987h3M613 843h3M568 965h3M566 937h3M634 948h3M670 912h3M547 945h3M585 932h3M571 870h3M580 933h3M576 995h3M561 886h3M674 931h3M594 899h3M673 945h3M549 900h3M553 905h3M622 953h3M762 913h3M587 847h3M575 930h3M589 850h3M571 921h3M660 890h3M611 955h3M570 977h3M597 959h3M582 955h3M578 886h3M621 967h3M650 945h3M559 852h3M562 883h3M560 943h3M602 947h3M564 954h3M640 920h3M542 904h3M578 915h3M545 876h3M703 811h3M691 906h3M553 925h3M541 996h3M669 933h3M552 915h3M653 984h3M562 785h3M540 971h3M574 952h3M571 918h3M649 968h3M690 939h3M629 978h3M656 941h3M565 862h3M554 959h3M568 884h3M553 895h3M544 965h3M662 949h3M553 937h3M658 975h3M546 942h3M573 918h3M642 971h3M558 893h3M597 887h3M560 905h3M606 914h3M578 928h3M550 967h3M715 952h3M546 972h3M581 967h3M713 890h3M747 929h3M563 968h3M618 876h3M684 939h3M590 921h3M755 930h3M561 865h3M676 915h3M583 943h3M567 958h3M640 933h3M668 896h3M686 962h3M666 933h3M592 892h3M733 904h3M613 962h3M619 939h3M703 946h3M559 931h3M552 843h3M568 842h3M605 906h3M567 888h3M612 931h3M599 868h3M558 848h3M558 926h3M656 933h3M587 918h3M562 861h3M588 927h3M588 954h3M650 948h3M569 916h3M602 961h3M616 889h3M556 886h3M565 846h3M623 796h3M626 960h3M644 937h3M581 891h3M723 968h3M617 893h3M647 954h3M558 886h3M574 912h3M587 885h3M643 937h3M602 864h3M560 939h3M670 815h3M604 865h3M595 924h3M566 877h3M552 863h3M627 951h3M590 959h3M635 955h3M696 925h3M750 945h3M672 876h3M669 936h3M598 936h3M567 913h3M540 875h3M685 941h3M659 954h3M550 970h3M539 857h3M584 858h3M689 926h3M616 934h3M775 786h3M585 800h3M602 910h3M724 943h3M554 915h3M680 960h3M582 970h3M567 814h3M581 891h3M605 869h3M615 817h3M562 910h3M589 895h3M609 888h3M574 880h3M633 956h3M549 885h3M625 946h3M550 993h3M560 943h3M630 965h3M650 928h3M594 845h3M702 978h3M601 957h3M611 955h3M569 904h3M558 961h3M589 957h3M570 891h3M671 966h3M548 969h3M637 973h3M592 975h3M628 926h3M581 851h3M617 965h3M561 947h3M700 978h3M559 875h3M666 923h3M592 906h3M706 941h3M637 951h3M582 885h3M645 960h3M685 919h3M572 954h3M663 799h3M573 935h3M559 941h3M615 975h3M568 975h3M552 831h3M647 950h3M546 793h3M695 938h3M587 939h3M680 930h3M572 884h3M560 901h3M567 874h3M584 900h3M562 953h3M568 881h3M789 953h3M580 845h3M556 888h3M675 936h3M577 908h3M638 928h3M545 882h3M592 927h3M586 898h3M564 959h3M633 958h3M579 891h3M567 886h3M676 938h3M573 797h3M588 945h3M581 867h3M570 952h3M595 979h3M569 943h3M595 991h3M683 929h3M612 819h3M630 942h3M599 796h3M735 870h3M572 871h3M592 951h3M577 894h3M602 873h3M586 896h3M558 910h3M777 914h3M684 926h3M564 963h3M637 947h3M589 953h3M590 958h3M585 803h3M538 873h3M658 782h3M552 927h3M571 934h3M608 942h3M584 972h3M581 869h3M574 989h3M572 898h3M544 960h3M704 951h3M579 853h3M573 876h3M725 933h3M545 866h3M633 831h3M677 950h3M549 877h3M564 956h3M752 889h3M750 909h3M635 934h3M773 914h3M566 897h3M739 907h3M571 961h3M569 921h3M548 895h3M667 940h3M564 991h3M562 858h3M664 955h3M550 919h3M595 921h3M577 981h3M727 922h3M577 862h3M548 909h3M576 856h3M623 959h3M646 947h3M554 970h3M730 916h3M540 974h3M577 982h3M595 868h3M656 989h3M584 879h3M591 988h3M651 943h3M622 962h3M741 833h3M566 960h3M561 899h3M575 874h3M570 864h3M540 965h3M560 900h3M611 982h3M580 950h3M640 945h3M582 990h3M565 988h3M762 821h3M688 925h3M621 927h3M548 985h3M574 925h3M548 919h3M545 991h3M583 925h3M564 881h3M743 776h3M557 910h3M603 796h3M672 954h3M579 984h3M557 907h3M613 900h3M646 966h3M729 891h3M552 928h3M633 909h3M665 958h3M574 818h3M544 837h3M550 878h3M625 867h3M564 870h3M579 890h3M645 926h3M680 929h3M545 876h3M556 949h3M559 818h3M628 943h3M565 852h3M600 980h3M601 893h3M580 927h3M548 856h3M695 925h3M579 836h3M724 785h3M635 940h3M554 917h3M625 939h3M585 974h3M549 907h3M562 902h3M557 911h3M636 890h3M665 947h3M623 876h3M573 949h3M559 879h3M664 962h3M543 971h3M547 832h3M565 927h3M613 928h3M575 933h3M631 964h3M620 970h3M697 924h3M671 962h3M579 870h3M551 927h3M624 978h3M551 964h3M552 936h3M631 949h3M579 879h3M579 912h3M589 915h3M545 961h3M552 912h3M739 920h3M583 925h3M550 864h3M557 917h3M652 894h3M682 950h3M584 958h3M583 930h3M563 909h3M631 955h3M561 996h3M770 913h3M560 868h3M696 912h3M696 925h3M564 912h3M543 981h3M552 864h3M557 804h3M584 954h3M568 899h3M629 946h3M602 981h3M552 866h3M595 880h3M612 909h3M632 967h3M600 966h3M676 957h3M565 945h3M634 965h3M597 972h3M644 950h3M560 874h3M678 781h3M647 793h3M613 852h3M693 947h3M552 982h3M562 889h3M577 954h3M554 900h3M799 989h3M592 926h3M580 905h3M568 935h3M628 917h3M554 892h3M585 847h3M553 973h3M541 863h3M621 953h3M563 961h3M570 844h3M657 905h3M566 924h3M589 893h3M594 930h3M646 879h3M590 857h3M562 863h3M570 826h3M580 851h3M552 860h3M619 950h3M554 829h3M589 891h3M547 969h3M544 884h3M680 936h3M565 899h3M560 977h3M563 849h3M577 947h3M550 915h3M585 869h3M647 947h3M645 946h3M589 902h3M547 842h3M704 920h3M564 886h3M569 992h3M577 948h3M570 881h3M569 972h3M576 855h3M575 887h3M667 945h3M554 941h3M561 979h3M548 986h3M687 948h3M572 879h3M565 893h3M690 924h3M596 915h3M692 927h3M652 943h3M555 972h3M788 959h3M682 958h3M550 875h3M774 911h3M561 862h3M734 931h3M588 886h3M692 944h3M670 956h3M554 978h3M566 903h3M688 955h3M692 928h3M692 947h3M550 910h3M600 864h3M565 895h3M555 861h3M613 840h3M734 820h3M682 911h3M582 823h3M554 819h3M557 902h3M543 992h3M568 855h3M582 838h3M538 913h3M594 919h3M554 952h3M682 943h3M579 952h3M567 828h3M626 961h3M570 778h3M570 934h3M734 916h3M571 913h3M742 894h3M605 982h3M567 928h3M675 921h3M572 883h3M647 946h3M566 958h3M673 945h3M565 842h3M580 929h3M600 974h3M620 936h3M616 984h3M580 968h3M581 945h3M552 945h3M610 963h3M569 854h3M547 832h3M634 961h3M570 920h3M597 878h3M541 944h3M575 906h3M725 933h3M571 889h3M594 881h3M626 964h3M620 936h3M563 899h3M583 929h3M578 877h3M631 978h3M750 915h3M551 932h3M661 942h3M617 943h3M566 905h3M629 840h3M707 930h3M657 787h3M576 868h3M566 943h3M618 879h3M538 841h3M557 937h3M588 912h3M544 896h3M688 930h3M542 852h3M538 951h3M648 966h3M540 944h3M566 965h3M585 857h3M585 940h3M553 897h3M567 852h3M581 856h3M565 971h3M615 946h3M561 956h3M542 803h3M588 885h3M572 830h3M557 877h3M560 962h3M590 911h3M556 963h3M550 821h3M583 948h3M770 891h3M585 940h3M596 852h3M713 926h3M595 866h3M560 904h3M544 903h3M573 870h3M681 920h3M595 919h3M558 851h3M593 964h3M644 993h3M542 980h3M618 908h3M602 876h3M543 912h3M653 926h3M547 850h3M559 889h3M551 886h3M607 842h3M645 975h3M664 957h3M553 986h3M557 966h3M631 996h3M547 841h3M753 927h3M567 914h3M572 931h3M603 938h3M690 923h3M581 914h3M556 874h3M593 923h3M563 894h3M593 948h3M590 906h3M576 859h3M583 913h3M664 852h3M602 915h3M769 898h3M645 954h3M587 920h3M741 923h3M571 812h3M738 852h3M686 942h3M582 891h3M566 908h3M658 933h3M597 948h3M584 949h3M595 902h3M704 924h3M577 987h3M545 922h3M597 828h3M661 966h3M583 892h3M549 925h3M548 880h3M577 908h3M595 787h3M562 960h3M625 941h3M657 931h3M586 916h3M733 931h3M539 960h3M736 904h3M607 918h3M648 956h3M567 988h3M580 966h3M722 931h3M546 874h3M564 928h3M651 937h3M565 893h3M573 880h3M646 942h3M669 933h3M578 886h3M582 895h3M575 870h3M641 968h3M568 950h3M551 938h3M680 943h3M548 913h3M621 911h3M600 867h3M688 916h3M748 905h3M574 790h3M541 804h3M610 924h3M575 965h3M654 946h3M787 892h3M584 963h3M631 902h3M581 895h3M666 821h3M638 968h3M558 979h3M567 905h3M571 912h3M557 877h3M577 872h3M597 908h3M602 821h3M543 931h3M570 983h3M722 898h3M722 939h3M663 956h3M663 825h3M545 934h3M604 862h3M560 949h3M563 815h3M587 959h3M637 970h3M642 984h3M600 894h3M570 914h3M649 957h3M607 933h3M630 945h3M580 905h3M636 959h3M592 876h3M569 887h3M571 894h3M614 928h3M554 972h3M641 920h3M588 842h3M582 860h3M571 870h3M592 929h3M590 968h3M646 954h3M592 918h3M585 929h3M610 976h3M591 785h3M566 849h3M592 909h3M548 864h3M752 905h3M669 908h3M583 929h3M739 911h3M540 911h3M689 902h3M588 912h3M633 957h3M617 886h3M579 908h3M671 951h3M699 942h3M621 968h3M552 849h3M665 931h3M662 882h3M545 856h3M654 974h3M629 958h3M556 823h3M583 937h3M568 871h3M658 949h3M560 985h3M581 889h3M560 881h3M746 832h3M586 903h3M700 895h3M701 931h3M562 966h3M559 904h3M647 932h3M718 856h3M552 971h3M550 863h3M632 959h3M629 973h3M545 922h3M578 942h3M611 938h3M559 913h3M654 958h3M577 902h3M634 943h3M576 813h3M672 913h3M669 950h3M621 940h3M682 914h3M567 978h3M542 991h3M549 978h3M561 931h3M605 895h3M563 915h3M552 885h3M595 889h3M598 937h3M702 949h3M575 899h3M567 978h3M592 926h3M593 900h3M695 843h3M629 803h3M595 914h3M561 907h3M582 844h3M574 884h3M665 929h3M664 880h3M559 808h3M655 788h3M576 895h3M612 968h3M609 874h3M722 930h3M644 965h3M541 905h3M715 918h3M643 985h3M640 990h3M574 886h3M689 931h3M554 868h3M576 951h3M576 974h3M615 873h3M639 928h3M649 918h3M569 969h3M636 894h3M668 950h3M590 887h3M539 902h3M561 904h3M663 946h3M748 925h3M632 845h3M580 896h3M592 958h3M538 955h3M585 914h3M583 910h3M555 928h3M542 871h3M681 921h3M634 948h3M625 942h3M630 962h3M567 888h3M550 847h3M543 901h3M611 878h3M635 864h3M651 949h3M570 806h3M577 886h3M679 912h3M547 897h3M693 941h3M596 982h3M684 946h3M619 996h3M618 979h3M592 973h3M668 967h3M552 914h3M629 956h3M574 887h3M594 901h3M673 938h3M749 918h3M584 856h3M732 907h3M657 947h3M563 895h3M601 977h3M549 902h3M560 892h3M663 940h3M558 837h3M575 910h3M574 837h3M575 915h3M555 893h3M714 924h3M568 907h3M644 917h3M593 963h3M585 921h3M714 921h3M559 886h3M709 972h3M572 963h3M568 896h3M602 959h3M644 880h3M589 867h3M613 885h3M570 867h3M676 783h3M566 878h3M553 960h3M543 993h3M597 960h3M585 949h3M664 931h3M571 886h3M593 865h3M650 934h3M542 851h3M553 948h3M565 909h3M718 907h3M540 975h3M585 984h3M658 949h3M543 936h3M571 996h3" stroke="#000" stroke-opacity="0.3" stroke-width="3" fill="none"/>
<path d="M566 965h3M629 822h3M627 932h3M537 966h3M585 882h3M583 784h3M561 832h3M539 967h3M572 932h3M577 986h3M682 939h3M556 860h3M757 960h3M582 969h3M554 928h3M568 911h3M622 909h3M654 945h3M653 963h3M556 982h3M540 887h3M597 896h3M564 835h3M626 981h3M549 921h3M708 964h3M627 958h3M575 858h3M693 945h3M572 950h3M551 871h3M711 843h3M567 895h3M728 930h3M543 854h3M684 935h3M547 938h3M739 947h3M614 977h3M725 938h3M606 847h3M569 938h3M691 945h3M568 976h3M571 961h3M575 907h3M597 903h3M597 809h3M559 919h3M566 885h3M580 900h3M591 941h3M571 897h3M571 883h3M631 932h3M595 897h3M549 944h3M591 865h3M655 926h3M574 875h3M541 868h3M548 929h3M542 913h3M561 950h3M691 948h3M623 971h3M767 929h3M636 964h3M551 985h3M683 934h3M593 933h3M584 908h3M561 897h3M561 920h3M590 902h3M587 958h3M602 870h3M666 958h3M671 801h3M584 959h3M567 870h3M567 902h3M657 942h3M673 957h3M582 961h3M548 946h3M574 852h3M657 941h3M607 929h3M555 939h3M713 903h3M563 906h3M555 913h3M587 935h3M619 838h3M592 903h3M573 956h3M662 928h3M566 846h3M630 963h3M573 906h3M628 796h3M650 949h3M620 979h3M670 943h3M558 940h3M556 885h3M587 839h3M631 941h3M606 960h3M586 902h3M565 969h3M559 879h3M557 939h3M569 874h3M573 927h3M573 964h3M579 868h3M576 852h3M669 798h3M563 920h3M704 973h3M589 981h3M559 890h3M546 982h3M571 873h3M562 911h3M552 956h3M541 985h3M578 892h3M706 920h3M562 880h3M627 910h3M628 873h3M546 953h3M651 934h3M547 960h3M663 946h3M641 970h3M551 935h3M550 985h3M653 961h3M585 865h3M701 964h3M565 870h3M716 961h3M581 914h3M545 959h3M611 896h3M560 988h3M610 914h3M710 923h3M585 895h3M552 862h3M620 960h3M621 957h3M674 919h3M681 965h3M548 881h3M589 930h3M575 866h3M648 936h3M758 916h3M622 986h3M648 920h3M685 915h3M612 903h3M691 912h3M555 974h3M588 914h3M592 961h3M715 938h3M539 911h3M544 944h3M571 913h3M556 837h3M547 887h3M630 952h3M580 938h3M710 956h3M588 863h3M643 923h3M762 888h3M554 974h3M670 915h3M583 829h3M565 887h3M654 963h3M683 943h3M612 907h3M632 774h3M560 881h3M570 894h3M585 959h3M653 936h3M588 853h3M635 932h3M586 932h3M581 892h3M601 925h3M557 890h3M575 884h3M573 921h3M550 978h3M617 968h3M537 902h3M588 961h3M573 916h3M600 868h3M571 886h3M565 869h3M570 848h3M580 905h3M575 895h3M569 896h3M729 903h3M560 915h3M550 910h3M648 967h3M573 981h3M538 920h3M601 909h3M626 985h3M664 946h3M571 903h3M683 944h3M599 882h3M553 933h3M622 974h3M574 959h3M549 964h3M680 939h3M637 940h3M568 842h3M566 977h3M697 887h3M651 953h3M609 887h3M566 911h3M554 919h3M556 845h3M537 830h3M592 881h3M728 940h3M542 824h3M552 854h3M661 967h3M554 905h3M655 962h3M563 938h3M574 882h3M563 810h3M580 937h3M702 944h3M552 960h3M695 933h3M632 972h3M570 896h3M614 954h3M557 926h3M551 893h3M566 884h3M586 873h3M628 948h3M630 915h3M735 951h3M768 979h3M554 918h3M585 896h3M589 938h3M593 969h3M634 850h3M582 926h3M549 832h3M690 938h3M581 911h3M553 884h3M633 963h3M669 933h3M592 949h3M623 934h3M698 916h3M742 973h3M566 809h3M623 879h3M551 827h3M574 876h3M539 928h3M639 956h3M620 849h3M645 959h3M724 944h3M559 905h3M557 858h3M710 958h3M622 987h3M565 926h3M567 916h3M695 943h3M658 945h3M554 997h3M613 882h3M637 956h3M552 969h3M578 820h3M720 951h3M564 895h3M668 940h3M575 893h3M538 907h3M558 846h3M559 826h3M613 981h3M588 918h3M565 848h3M551 917h3M564 902h3M615 866h3M576 893h3M589 884h3M603 896h3M676 977h3M686 935h3M540 895h3M564 896h3M586 984h3M562 883h3M570 845h3M607 968h3M559 911h3M594 811h3M550 966h3M543 969h3M543 832h3M557 935h3M590 961h3M561 950h3M559 910h3M750 924h3M584 924h3M651 938h3M668 935h3M543 891h3M558 915h3M654 950h3M550 909h3M587 914h3M590 930h3M565 913h3M538 936h3M556 927h3M603 817h3M592 831h3M602 904h3M539 930h3M589 869h3M661 966h3M568 791h3M630 935h3M764 874h3M632 933h3M624 981h3M608 908h3M546 903h3M578 875h3M573 825h3M562 922h3M639 962h3M614 975h3M685 948h3M553 886h3M704 945h3M665 926h3M543 879h3M552 985h3M569 949h3M558 870h3M581 914h3M554 942h3M678 938h3M668 928h3M557 906h3M546 884h3M598 914h3M565 869h3M563 902h3M645 907h3M641 956h3M673 967h3M566 928h3M586 833h3M562 893h3M629 887h3M537 905h3M615 829h3M703 928h3M676 976h3M669 934h3M578 932h3M624 970h3M574 903h3M635 947h3M625 968h3M573 898h3M685 932h3M567 842h3M557 924h3M555 887h3M667 777h3M587 872h3M614 915h3M622 971h3M562 807h3M560 953h3M565 948h3M593 901h3M547 829h3M651 854h3M587 933h3M584 994h3M558 953h3M591 882h3M549 933h3M645 944h3M789 984h3M630 965h3M614 978h3M550 967h3M557 856h3M558 972h3M710 929h3M542 885h3M618 968h3M583 875h3M548 887h3M568 941h3M728 920h3M629 891h3M710 936h3M573 934h3M648 928h3M588 953h3M562 897h3M572 938h3M572 897h3M638 860h3M553 891h3M594 917h3M549 949h3M603 971h3M687 894h3M705 929h3M554 909h3M594 988h3M551 965h3M576 898h3M559 884h3M560 902h3M635 954h3M688 880h3M636 890h3M560 916h3M543 930h3M548 981h3M595 865h3M540 837h3M633 977h3M583 834h3M557 872h3M565 873h3M567 976h3M659 952h3M567 874h3M594 890h3M645 941h3M573 864h3M696 957h3M563 896h3M677 968h3M691 932h3M642 936h3M571 912h3M700 849h3M566 883h3M578 837h3M640 953h3M579 927h3M574 913h3M567 941h3M540 916h3M686 918h3M564 875h3M561 836h3M723 913h3M605 980h3M597 934h3M550 946h3M583 971h3M556 889h3M598 846h3M554 901h3M647 969h3M570 923h3M724 932h3M542 923h3M546 864h3M586 940h3M601 877h3M566 893h3M626 885h3M722 929h3M592 899h3M564 910h3M548 953h3M633 912h3M566 969h3M632 944h3M653 962h3M634 956h3M574 945h3M750 925h3M573 809h3M652 949h3M583 993h3M632 958h3M647 952h3M549 903h3M547 871h3M735 907h3M579 902h3M760 910h3M624 875h3M628 939h3M681 912h3M662 912h3M594 880h3M563 921h3M578 946h3M569 963h3M562 965h3M578 914h3M685 956h3M658 937h3M652 961h3M549 905h3M650 839h3M556 896h3M677 924h3M607 934h3M568 933h3M556 937h3M643 881h3M727 785h3M551 986h3M549 936h3M673 982h3M568 993h3M692 926h3M575 896h3M642 921h3M586 935h3M566 914h3M617 946h3M606 851h3M634 977h3M674 914h3M558 948h3M581 896h3M590 866h3M654 955h3M620 920h3M616 903h3M602 882h3M661 982h3M561 957h3M553 830h3M552 932h3M565 879h3M567 885h3M586 854h3M569 883h3M569 928h3M646 939h3M628 937h3M541 884h3M626 957h3M578 872h3M561 887h3M709 956h3M586 992h3M746 928h3M710 902h3M558 967h3M547 848h3M559 866h3M631 949h3M550 885h3M572 878h3M666 834h3M596 985h3M568 988h3M543 798h3M554 983h3M711 897h3M606 938h3M588 957h3M642 964h3M633 943h3M696 927h3M576 940h3M614 927h3M582 916h3M610 882h3M571 950h3M600 896h3M603 893h3M564 943h3M602 938h3M645 967h3M572 875h3M743 984h3M555 993h3M633 934h3M631 949h3M635 873h3M549 994h3M573 833h3M575 965h3M564 828h3M626 977h3M582 833h3M556 854h3M580 901h3M627 949h3M578 929h3M601 878h3M590 946h3M612 943h3M559 904h3M617 988h3M587 933h3M551 835h3M551 958h3M622 945h3M572 899h3M605 901h3M612 886h3M570 987h3M539 956h3M601 876h3M569 926h3M684 946h3M611 960h3M738 927h3M573 960h3M759 944h3M581 947h3M562 906h3M629 952h3M572 834h3M715 873h3M634 969h3M717 915h3M593 891h3M607 920h3M594 868h3M633 947h3M559 900h3M591 884h3M714 955h3M561 860h3M631 970h3M543 857h3M567 890h3M564 875h3M629 951h3M574 898h3M545 942h3M586 791h3M558 899h3M570 982h3M544 920h3M585 926h3M579 976h3M657 934h3M655 932h3M570 962h3M545 893h3M664 937h3M652 929h3M700 930h3M649 953h3M563 824h3M569 905h3M628 969h3M538 969h3M545 916h3M548 869h3M777 973h3M622 936h3M658 894h3M614 950h3M580 908h3M561 879h3M577 917h3M559 947h3M585 835h3M588 867h3M578 906h3M608 906h3M626 846h3M591 892h3M579 963h3M560 875h3M661 947h3M579 863h3M556 800h3M624 874h3M708 969h3M565 924h3M626 950h3M745 926h3M573 864h3M658 823h3M678 926h3M576 903h3M664 936h3M701 928h3M548 934h3M579 881h3M574 931h3M617 956h3M598 873h3M636 811h3M544 980h3M570 939h3M566 941h3M613 950h3M575 865h3M570 915h3M548 893h3M573 880h3M566 898h3M718 926h3M585 919h3M685 929h3M607 963h3M627 810h3M543 988h3M673 934h3M619 978h3M587 955h3M636 972h3M643 901h3M792 883h3M662 968h3M537 862h3M582 955h3M601 934h3M591 862h3M545 942h3M552 915h3M550 841h3M552 903h3M567 883h3M575 863h3M731 910h3M651 951h3M552 847h3M662 923h3M566 911h3M694 941h3M550 950h3M668 928h3M683 920h3M574 898h3M735 916h3M581 835h3M582 923h3M552 970h3M671 962h3M622 971h3M538 928h3M702 943h3M603 895h3M614 950h3M564 893h3M626 964h3M571 867h3M731 919h3M628 960h3M624 937h3M559 960h3M545 871h3M557 925h3M539 840h3M611 791h3M578 875h3M566 849h3M578 911h3M640 937h3M552 898h3M590 969h3M578 893h3M651 947h3M580 877h3M560 964h3M549 852h3M556 910h3M585 917h3M644 936h3M576 909h3M553 886h3M580 938h3M571 950h3M677 940h3M555 972h3M703 932h3M615 964h3M550 946h3M657 942h3M693 943h3M540 940h3M751 931h3M570 950h3M585 925h3M561 971h3M571 908h3M560 888h3M613 908h3M568 900h3M757 931h3M574 886h3M559 910h3M558 903h3M558 985h3M554 928h3M639 959h3M590 858h3M590 878h3M555 894h3M552 795h3M566 895h3M583 852h3M572 920h3M644 972h3M573 857h3M659 917h3M639 963h3M604 870h3M589 954h3M560 959h3M572 794h3M565 870h3M552 874h3M590 936h3M766 935h3M677 956h3M583 860h3M549 825h3M578 841h3M618 949h3M550 945h3M548 982h3M625 952h3M666 936h3M586 956h3M616 877h3M677 955h3M562 953h3M570 914h3M699 916h3M590 884h3M642 945h3M587 854h3M619 869h3M678 924h3M560 948h3M564 877h3M552 894h3M561 824h3M620 878h3M583 990h3M556 992h3M648 832h3M565 882h3M560 902h3M623 934h3M672 965h3M565 931h3M561 920h3M625 915h3M582 889h3M577 839h3M654 940h3M599 976h3M559 841h3M547 865h3M549 958h3M720 911h3M620 898h3M760 916h3M653 924h3M594 850h3M594 889h3M540 962h3M648 973h3M566 992h3M608 970h3M609 961h3M568 891h3M641 961h3M597 968h3M547 959h3M551 882h3M547 897h3M620 847h3M560 901h3M671 842h3M636 941h3M542 907h3M580 894h3M588 981h3M642 864h3M618 956h3M604 923h3M559 888h3M578 877h3M575 850h3M676 801h3M632 894h3M651 943h3M551 876h3M581 848h3M582 956h3M546 848h3M574 866h3M685 851h3M546 923h3M598 979h3M761 907h3M659 951h3M581 898h3M729 922h3M557 886h3M718 926h3M567 881h3M559 893h3M564 959h3M701 946h3M573 941h3M619 951h3M558 865h3M577 779h3M552 895h3M611 845h3M551 874h3M596 934h3M616 883h3M578 851h3M542 952h3M543 947h3M571 926h3M771 954h3M539 942h3M563 894h3M576 883h3M562 979h3M601 872h3M541 963h3M637 944h3M566 950h3M553 993h3M640 963h3M555 924h3M574 956h3M553 881h3M656 962h3M634 982h3M683 940h3M546 974h3M659 927h3M590 935h3M556 926h3M548 963h3M612 873h3M651 965h3M561 921h3M565 887h3M593 818h3M588 959h3M573 938h3M594 890h3M739 910h3M613 979h3M590 929h3M568 916h3M681 926h3M570 977h3M555 981h3M568 954h3M600 911h3M659 943h3M741 931h3M640 936h3M538 909h3M572 865h3M670 940h3M565 929h3M564 908h3M674 942h3M587 923h3M579 906h3M542 993h3M540 988h3M559 932h3M694 942h3M576 919h3M555 957h3M673 957h3M634 874h3M647 976h3M726 918h3M545 917h3M604 917h3M566 877h3M558 900h3M570 845h3M589 907h3M727 931h3M547 921h3M546 946h3M598 929h3M676 958h3M548 992h3M587 960h3M627 929h3M600 961h3M558 976h3M551 948h3M570 913h3M608 952h3M752 893h3M616 906h3M540 953h3M587 880h3M586 897h3M548 938h3M643 917h3M610 936h3M543 948h3M584 952h3M665 927h3M678 939h3M601 891h3M604 914h3M554 907h3M552 955h3M549 786h3M585 868h3M592 904h3M586 882h3M544 861h3M722 940h3M616 955h3M775 974h3M564 906h3M768 900h3M603 952h3M657 956h3M561 897h3M555 973h3M660 901h3M584 879h3M653 944h3M559 921h3M648 958h3M574 785h3M581 884h3M566 949h3M557 833h3M573 943h3M623 927h3M607 911h3M610 928h3M552 908h3M537 884h3M567 864h3M568 957h3M584 929h3M563 903h3M611 985h3M542 841h3M593 923h3M583 975h3M604 977h3M554 963h3M553 957h3M566 951h3M579 980h3M591 944h3M541 822h3M564 928h3M549 883h3M781 922h3M584 973h3M743 922h3M551 962h3M568 840h3M572 994h3M573 892h3M569 859h3M629 948h3M634 889h3M734 922h3M661 952h3M617 956h3M575 892h3M626 834h3M590 886h3M626 954h3M564 870h3M594 932h3M559 844h3M635 947h3M566 827h3M537 880h3M632 834h3M614 952h3M550 944h3M568 941h3M618 976h3M625 923h3M578 904h3M562 857h3M603 805h3M588 890h3M628 895h3M554 903h3M547 948h3M561 915h3M723 938h3M677 957h3M703 965h3M542 911h3M541 795h3M682 811h3M608 904h3M565 881h3M676 933h3M571 973h3M569 871h3M600 900h3M595 888h3M550 795h3M582 891h3M575 912h3M564 818h3M567 929h3M594 885h3M589 897h3M553 907h3M679 866h3M617 937h3M559 969h3M638 972h3M570 963h3M632 886h3M583 895h3M604 870h3M617 878h3M569 928h3M643 948h3M561 863h3M627 911h3M539 876h3M632 958h3M545 905h3M656 884h3M544 840h3M583 911h3M755 954h3M564 843h3M777 944h3M638 952h3M548 930h3M710 927h3M620 858h3M562 977h3M570 983h3M563 962h3M578 901h3M553 858h3M564 876h3M598 953h3M766 909h3M622 955h3M728 845h3M629 970h3M570 890h3M539 907h3M563 908h3M659 951h3M567 913h3M641 955h3M755 946h3M539 963h3M574 844h3M709 862h3M584 952h3M588 868h3M560 813h3M549 898h3M688 913h3M553 933h3M619 976h3M569 903h3M654 893h3M587 901h3M651 911h3M603 989h3M566 890h3M571 939h3M538 828h3M597 899h3M540 844h3M638 931h3M569 876h3M553 903h3M641 920h3M697 852h3M680 984h3M642 953h3M639 973h3M561 898h3M553 929h3M581 867h3M609 962h3M609 874h3M587 972h3M540 882h3M595 811h3M594 884h3M561 960h3M558 994h3M549 866h3M545 927h3M566 891h3M574 985h3M622 961h3M587 942h3M557 966h3M650 936h3M544 897h3M565 897h3M619 916h3M565 868h3M573 982h3M638 965h3M542 904h3M615 858h3M597 922h3M556 884h3M558 928h3M673 941h3M583 870h3M574 949h3M557 966h3M572 912h3M554 985h3M589 911h3M630 968h3M550 904h3M652 926h3M677 955h3M599 919h3M559 908h3M676 929h3M664 945h3M677 922h3M635 940h3M632 960h3M725 930h3M545 879h3M546 893h3M685 916h3M642 786h3M649 922h3M583 897h3M657 902h3M567 921h3M571 985h3M588 907h3M571 960h3M582 970h3M629 963h3M576 887h3M596 980h3M583 850h3M584 837h3M539 779h3M708 930h3M658 889h3M641 959h3M747 906h3M543 970h3M646 932h3M647 963h3M602 897h3M575 889h3M571 945h3M633 924h3M719 911h3M727 787h3M575 856h3M578 919h3M547 907h3M556 919h3M642 955h3M555 962h3M769 882h3M566 839h3M572 852h3M573 833h3M653 982h3M658 955h3M569 986h3M549 976h3M558 890h3M637 976h3M555 863h3M604 943h3M649 938h3M612 873h3M566 956h3M602 887h3M565 895h3M579 939h3M578 918h3M555 957h3M600 892h3M565 989h3M555 938h3M582 876h3M696 973h3M579 821h3M604 893h3M589 925h3M558 965h3M718 931h3M579 811h3M565 922h3M586 852h3M560 975h3M769 914h3M622 878h3M573 860h3M670 941h3M689 944h3M666 959h3M543 929h3M610 894h3M675 969h3M565 976h3M574 936h3M602 873h3M563 902h3M630 958h3M559 901h3M580 908h3M572 855h3M537 840h3M562 918h3M559 972h3M732 908h3M722 958h3M668 932h3M582 899h3M721 934h3M567 924h3M678 939h3M540 984h3M604 942h3M565 970h3M552 872h3M635 954h3M574 917h3M570 895h3M660 941h3M547 880h3M560 895h3M589 923h3M564 953h3M678 942h3M557 860h3M619 858h3M654 955h3M612 920h3M585 930h3M636 773h3M620 981h3M565 940h3M597 937h3M595 808h3M567 859h3M597 824h3M563 889h3M608 829h3M718 919h3M577 977h3M587 831h3M666 962h3M593 948h3M576 961h3M604 908h3M624 851h3M685 948h3M689 930h3M718 936h3M567 887h3M564 870h3M650 971h3M550 901h3M557 937h3M564 915h3M626 943h3M567 898h3M664 957h3M595 871h3M580 945h3M559 976h3M574 874h3M746 929h3M683 933h3M697 933h3M614 887h3M572 859h3M547 898h3M563 916h3M620 910h3M593 885h3M715 947h3M613 929h3M554 890h3M565 907h3M659 970h3M553 834h3M553 844h3M673 947h3M575 953h3M568 905h3M568 874h3M744 918h3M560 948h3M659 938h3M703 912h3M561 834h3M597 833h3M607 990h3M637 945h3M594 905h3M574 879h3M601 944h3M561 902h3M551 949h3M680 943h3M552 926h3M579 955h3M633 944h3M563 908h3M548 869h3M543 888h3M562 905h3M578 853h3M672 899h3M605 947h3M564 898h3M623 965h3M618 953h3M577 907h3M678 916h3M574 902h3M682 774h3M615 975h3M608 827h3M582 895h3M577 933h3M638 964h3M537 939h3M559 909h3M733 928h3M716 939h3M572 931h3M626 873h3M578 898h3M550 958h3M626 789h3M580 949h3M692 945h3M614 791h3M554 952h3M612 860h3M585 822h3M566 895h3M574 897h3M675 993h3M607 903h3M676 936h3M682 992h3M616 973h3M626 942h3M550 923h3M643 908h3M637 947h3M555 892h3M544 914h3M689 947h3M653 959h3M631 957h3M690 930h3M752 903h3M555 943h3M633 929h3M539 931h3M606 964h3M588 932h3M622 943h3M596 870h3M576 892h3M632 964h3M688 928h3M543 977h3M553 850h3M702 936h3M544 825h3M540 923h3M579 920h3M586 920h3M547 964h3M604 863h3M584 881h3M602 893h3M545 927h3M539 822h3M560 852h3M578 961h3M547 905h3M645 964h3M680 920h3M606 973h3M554 852h3M549 994h3M646 960h3M554 903h3M564 939h3M598 898h3M660 974h3M573 977h3M562 812h3M572 917h3M633 963h3M560 900h3M625 951h3M574 832h3M648 997h3M564 889h3M699 938h3M564 885h3M642 856h3M548 921h3M583 937h3M567 899h3M643 956h3M659 945h3M614 953h3M596 970h3M541 860h3M581 863h3M756 900h3M553 942h3M589 937h3M593 860h3M567 926h3M548 894h3M679 949h3M659 946h3M561 917h3M665 935h3M575 968h3M666 968h3M577 986h3M698 913h3M581 928h3M541 905h3M569 979h3M561 911h3M570 975h3M638 957h3M552 944h3M593 878h3M639 967h3M623 955h3M591 929h3M651 948h3M561 888h3M607 978h3M676 930h3M683 832h3M654 945h3M590 883h3M552 924h3M554 879h3M630 979h3M541 893h3M575 965h3M565 876h3M582 887h3M681 961h3M734 873h3M596 952h3M550 823h3M564 901h3M617 895h3M566 895h3M707 917h3M617 809h3M580 980h3M543 983h3M587 914h3M565 838h3M554 886h3M559 869h3M627 993h3M549 848h3M586 957h3M590 892h3M585 961h3M668 944h3M654 966h3M659 956h3M574 906h3M602 969h3M709 932h3M575 896h3M562 898h3M735 779h3M576 955h3M570 889h3M568 896h3M600 913h3M547 992h3M644 951h3M560 816h3M549 911h3M546 986h3M575 870h3M684 958h3M573 796h3M594 899h3M652 943h3M568 866h3M601 898h3M570 887h3M559 898h3M566 972h3M658 930h3M559 920h3M553 928h3M754 968h3M622 976h3M715 923h3M685 951h3M554 958h3M575 898h3M556 843h3M624 951h3M636 808h3M572 954h3M641 972h3M635 901h3M680 935h3M582 993h3M739 848h3M602 977h3M684 932h3M537 954h3M586 905h3M547 972h3M676 878h3M554 992h3M546 879h3M577 921h3M643 951h3M553 924h3M583 985h3M580 901h3M600 907h3M541 870h3M598 963h3M539 868h3M585 876h3M570 928h3M585 858h3M543 943h3M563 888h3M680 934h3M622 908h3M573 889h3M668 956h3M632 946h3M609 962h3M577 881h3M562 963h3M594 932h3M574 938h3M651 971h3M565 897h3M560 953h3M727 919h3M578 938h3M629 971h3M548 901h3M556 866h3M590 951h3M592 988h3M652 934h3M547 887h3M562 853h3M579 892h3M542 941h3M647 950h3M591 865h3M689 950h3M577 904h3M558 879h3M561 885h3M665 990h3M559 856h3M613 962h3M564 876h3M622 864h3M637 963h3M620 949h3M543 808h3M552 956h3M545 961h3M685 933h3M612 920h3M609 880h3M565 920h3M537 853h3M571 877h3M556 791h3M564 964h3M612 959h3M548 967h3M593 871h3M562 899h3M655 964h3M591 990h3M557 926h3M537 891h3M674 946h3M673 948h3M665 933h3M544 881h3M657 963h3M567 888h3M548 957h3M567 969h3M578 883h3M585 899h3M574 882h3M548 900h3M578 991h3M568 830h3M644 894h3M688 901h3M583 883h3M585 903h3M671 963h3M584 875h3M575 952h3M582 914h3M603 792h3M750 912h3M646 957h3M675 933h3M672 898h3M757 900h3M550 964h3M613 965h3M594 939h3M575 887h3M564 903h3M565 846h3M667 913h3M547 911h3M562 869h3M679 932h3M775 867h3M562 901h3M647 938h3M601 783h3M673 973h3M582 933h3M562 980h3M553 952h3M636 977h3M654 955h3M544 822h3M581 839h3M594 943h3M568 896h3M611 958h3M671 946h3M563 956h3M548 841h3M605 850h3M610 906h3M568 867h3M566 971h3M642 971h3M547 889h3M657 940h3M569 951h3M588 880h3M580 974h3M578 904h3M543 955h3M582 942h3M622 965h3M581 958h3M541 873h3M561 891h3M615 998h3M572 851h3M710 934h3M678 951h3M646 966h3M552 870h3M596 904h3M565 902h3M567 895h3M649 944h3M552 878h3M686 947h3M629 870h3M552 924h3M560 972h3M721 916h3M628 965h3M681 967h3M586 906h3M608 973h3M623 972h3M638 963h3M736 923h3M583 964h3M662 942h3M625 968h3M552 934h3M585 940h3M632 996h3M611 889h3M551 967h3M610 968h3M552 884h3M592 952h3M698 939h3M573 859h3M540 875h3M589 899h3M569 935h3M568 912h3M601 779h3M691 937h3M542 961h3M582 873h3M567 885h3M555 813h3M623 941h3M610 955h3M608 862h3M613 898h3M639 958h3M644 962h3M562 840h3M701 926h3M551 883h3M622 948h3M543 960h3M569 880h3M602 895h3M571 962h3M671 965h3M569 964h3M578 916h3M685 936h3M594 885h3M595 913h3M549 959h3M588 933h3M566 865h3M598 948h3M609 935h3M717 927h3M702 908h3M581 849h3M599 937h3M579 906h3M677 914h3M615 977h3M561 936h3M591 915h3M649 962h3M634 921h3M565 827h3M622 935h3M544 891h3M568 962h3M593 880h3M659 944h3M538 936h3M552 875h3M564 894h3M682 921h3M628 895h3M604 992h3M589 885h3M681 957h3M570 966h3M725 939h3M599 904h3M612 899h3M557 978h3M586 864h3M557 895h3M567 889h3M606 946h3M683 774h3M580 907h3M563 882h3M784 879h3M676 943h3M609 821h3M548 949h3M552 961h3M670 944h3M567 852h3M717 937h3M547 961h3M551 848h3M716 918h3M579 952h3M658 900h3M578 965h3M582 902h3M623 959h3M657 950h3M659 924h3M548 956h3M578 956h3M564 951h3M613 951h3M557 877h3M570 907h3M570 869h3M606 878h3M584 917h3M545 970h3M701 882h3M742 980h3M558 970h3M550 933h3M704 911h3M668 968h3M594 888h3M625 947h3M552 983h3M639 966h3M553 780h3M565 874h3M566 927h3M556 903h3M707 948h3M708 928h3M570 907h3M709 943h3M600 891h3M574 878h3M632 947h3M560 909h3M543 962h3M561 951h3" stroke="#000" stroke-opacity="0.3" stroke-width="3" fill="none"/>
<path d="M700 916h3M737 930h3M583 904h3M700 935h3M554 887h3M693 927h3M578 858h3M618 878h3M574 835h3M561 957h3M565 935h3M545 899h3M573 919h3M551 795h3M641 951h3M555 914h3M653 972h3M612 868h3M576 904h3M579 883h3M736 913h3M561 943h3M633 861h3M539 909h3M598 909h3M678 954h3M652 965h3M559 962h3M581 939h3M605 843h3M561 967h3M558 867h3M567 894h3M602 952h3M576 888h3M586 891h3M658 939h3M579 882h3M561 957h3M621 958h3M678 944h3M590 944h3M547 936h3M659 944h3M661 915h3M590 799h3M588 862h3M580 943h3M590 944h3M552 864h3M567 986h3M584 902h3M567 897h3M620 942h3M724 922h3M614 967h3M579 876h3M597 870h3M551 897h3M542 940h3M678 941h3M572 983h3M543 885h3M659 956h3M546 884h3M586 972h3M550 902h3M606 964h3M688 944h3M623 952h3M651 907h3M569 955h3M571 916h3M639 865h3M549 973h3M730 979h3M609 907h3M583 935h3M698 944h3M585 962h3M590 968h3M634 945h3M565 992h3M594 809h3M710 936h3M734 967h3M619 962h3M616 989h3M643 960h3M550 923h3M552 875h3M548 983h3M585 872h3M587 968h3M650 936h3M702 813h3M561 936h3M575 993h3M553 917h3M574 881h3M586 875h3M573 903h3M583 874h3M589 951h3M577 909h3M578 966h3M637 788h3M582 945h3M556 855h3M553 834h3M561 959h3M551 900h3M572 859h3M565 935h3M590 861h3M545 918h3M643 960h3M565 983h3M577 991h3M712 933h3M610 941h3M575 848h3M590 963h3M679 936h3M571 879h3M582 972h3M574 873h3M573 926h3M557 886h3M552 904h3M580 868h3M557 886h3M695 917h3M626 935h3M594 867h3M680 944h3M622 977h3M584 916h3M596 881h3M600 946h3M604 898h3M558 961h3M644 954h3M542 886h3M676 959h3M604 860h3M565 983h3M568 882h3M557 876h3M768 895h3M628 892h3M693 928h3M610 826h3M550 973h3M541 924h3M598 782h3M710 915h3M730 925h3M577 973h3M588 885h3M540 969h3M544 848h3M729 947h3M734 934h3M597 996h3M573 945h3M646 909h3M692 925h3M761 809h3M546 879h3M640 979h3M746 880h3M641 824h3M614 978h3M655 940h3M618 939h3M577 890h3M612 932h3M557 877h3M577 880h3M538 847h3M552 908h3M611 970h3M573 966h3M607 971h3M562 831h3M588 953h3M567 855h3M655 962h3M555 899h3M726 875h3M546 876h3M603 906h3M567 857h3M666 943h3M540 885h3M577 851h3M626 960h3M567 966h3M561 985h3M582 969h3M627 935h3M567 878h3M560 870h3M628 886h3M588 848h3M554 890h3M668 967h3M598 893h3M573 870h3M606 878h3M632 944h3M544 971h3M704 779h3M555 851h3M572 876h3M690 923h3M583 880h3M599 910h3M686 948h3M584 995h3M763 906h3M556 960h3M569 938h3M581 917h3M571 899h3M565 888h3M570 947h3M626 955h3M554 874h3M571 919h3M590 910h3M567 873h3M610 914h3M610 886h3M544 832h3M710 929h3M653 951h3M570 954h3M574 876h3M582 923h3M553 936h3M575 894h3M745 955h3M584 919h3M575 960h3M551 939h3M564 892h3M784 877h3M722 933h3M638 935h3M714 917h3M576 969h3M570 882h3M565 799h3M630 943h3M572 893h3M557 937h3M587 892h3M559 800h3M663 936h3M542 931h3M591 856h3M555 975h3M574 887h3M667 993h3M731 936h3M586 904h3M590 912h3M695 952h3M624 959h3M669 936h3M659 925h3M681 951h3M553 983h3M666 918h3M545 889h3M634 936h3M737 902h3M593 941h3M588 965h3M576 895h3M563 862h3M727 922h3M597 953h3M592 965h3M570 873h3M617 966h3M667 942h3M578 982h3M538 966h3M711 915h3M612 986h3M606 969h3M555 836h3M602 977h3M598 923h3M647 951h3M658 917h3M620 920h3M673 949h3M629 940h3M558 918h3M592 858h3M538 965h3M540 975h3M569 983h3M626 936h3M663 941h3M598 949h3M541 808h3M553 948h3M588 958h3M560 886h3M564 974h3M767 916h3M636 947h3M556 891h3M556 964h3M573 902h3M642 929h3M548 960h3M583 788h3M598 907h3M654 863h3M687 959h3M582 945h3M689 930h3M575 985h3M650 952h3M572 923h3M615 957h3M545 914h3M617 871h3M554 850h3M558 925h3M623 890h3M674 940h3M610 984h3M594 827h3M582 873h3M642 988h3M721 933h3M645 933h3M585 840h3M691 957h3M607 867h3M541 928h3M634 961h3M724 938h3M585 855h3M604 931h3M576 832h3M636 953h3M659 916h3M555 898h3M604 916h3M606 894h3M541 985h3M575 895h3M583 920h3M591 858h3M611 921h3M615 919h3M559 900h3M563 854h3M654 938h3M585 974h3M568 898h3M584 896h3M568 780h3M689 841h3M648 961h3M569 901h3M697 927h3M580 890h3M621 784h3M639 779h3M553 967h3M655 951h3M607 949h3M763 886h3M586 974h3M588 903h3M555 903h3M541 961h3M582 974h3M576 907h3M722 938h3M709 943h3M609 881h3M553 874h3M576 916h3M619 942h3M609 944h3M638 973h3M591 786h3M559 960h3M599 898h3M630 845h3M613 946h3M653 916h3M546 893h3M550 934h3M550 945h3M797 963h3M581 946h3M664 948h3M538 907h3M580 953h3M584 983h3M597 922h3M590 979h3M624 935h3M563 939h3M565 959h3M573 942h3M589 898h3M547 935h3M551 927h3M546 949h3M560 957h3M666 964h3M538 847h3M657 948h3M581 897h3M545 975h3M762 906h3M628 899h3M609 897h3M633 964h3M662 955h3M589 918h3M544 942h3M624 953h3M585 826h3M656 951h3M574 915h3M541 921h3M549 950h3M729 923h3M569 912h3M589 877h3M629 921h3M663 942h3M659 952h3M596 935h3M670 945h3M608 861h3M656 940h3M587 857h3M571 879h3M704 922h3M721 926h3M560 917h3M552 879h3M743 900h3M543 931h3M558 821h3M561 802h3M609 945h3M596 788h3M664 949h3M543 979h3M569 981h3M576 852h3M565 918h3M564 869h3M644 964h3M543 970h3M581 932h3M599 947h3M577 850h3M603 944h3M590 860h3M606 989h3M657 957h3M636 961h3M659 995h3M662 920h3M577 880h3M584 861h3M577 925h3M553 871h3M640 949h3M588 929h3M584 889h3M556 970h3M545 876h3M614 908h3M586 887h3M543 886h3M572 983h3M638 952h3M668 939h3M651 948h3M669 937h3M741 923h3M594 901h3M541 908h3M566 989h3M725 961h3M560 988h3M554 921h3M550 880h3M572 892h3M578 894h3M631 868h3M684 943h3M609 906h3M565 864h3M538 869h3M580 887h3M565 886h3M539 922h3M566 917h3M552 877h3M569 894h3M598 887h3M573 980h3M660 947h3M665 959h3M581 897h3M556 982h3M556 812h3M540 905h3M665 935h3M632 974h3M618 949h3M621 962h3M586 897h3M577 821h3M739 786h3M646 948h3M663 941h3M552 973h3M738 949h3M709 932h3M577 884h3M632 923h3M541 973h3M691 915h3M574 855h3M553 909h3M537 928h3M616 928h3M550 980h3M694 911h3M599 873h3M575 980h3M558 854h3M652 957h3M577 890h3M551 812h3M598 867h3M584 867h3M567 866h3M607 910h3M599 874h3M559 916h3M538 866h3M648 949h3M562 907h3M575 952h3M753 968h3M583 938h3M624 963h3M650 973h3M538 857h3M550 947h3M663 822h3M557 842h3M612 863h3M564 895h3M589 946h3M641 971h3M582 909h3M641 951h3M565 870h3M541 854h3M635 950h3M610 945h3M687 919h3M571 985h3M636 951h3M575 883h3M567 960h3M580 830h3M679 939h3M614 882h3M565 843h3M572 813h3M582 945h3M603 882h3M559 958h3M560 862h3M636 967h3M570 900h3M603 856h3M591 904h3M729 919h3M570 884h3M543 969h3M755 901h3M594 913h3M711 877h3M632 800h3M754 917h3M576 875h3M621 960h3M573 934h3M556 941h3M550 907h3M682 966h3M578 888h3M581 937h3M594 814h3M752 930h3M610 928h3M602 936h3M556 944h3M752 926h3M604 886h3M653 945h3M720 942h3M550 905h3M602 963h3M584 835h3M565 941h3M640 960h3M574 941h3M540 907h3M737 950h3M564 867h3M568 907h3M611 881h3M603 938h3M576 976h3M559 853h3M540 899h3M601 908h3M692 844h3M546 935h3M576 918h3M606 899h3M593 939h3M548 873h3M624 870h3M559 879h3M613 863h3M586 883h3M539 833h3M706 960h3M592 851h3M561 863h3M658 963h3M570 974h3M661 924h3M559 884h3M580 812h3M674 985h3M637 969h3M567 870h3M710 905h3M569 879h3M573 926h3M546 987h3M563 887h3M691 904h3M646 822h3M625 876h3M565 859h3M574 959h3M762 841h3M591 910h3M767 945h3M657 947h3M570 903h3M579 803h3M557 941h3M566 937h3M554 907h3M582 871h3M664 932h3M562 889h3M605 935h3M689 942h3M551 990h3M616 838h3M630 996h3M547 972h3M599 880h3M545 951h3M556 890h3M581 870h3M626 981h3M608 989h3M541 872h3M577 803h3M579 896h3M591 889h3M584 861h3M562 938h3M614 919h3M725 905h3M549 953h3M553 870h3M543 918h3M540 977h3M715 903h3M542 898h3M687 937h3M560 911h3M643 964h3M601 965h3M596 968h3M556 889h3M570 915h3M743 913h3M680 951h3M581 917h3M618 868h3M555 897h3M639 897h3M702 943h3M710 919h3M627 964h3M549 963h3M559 945h3M615 911h3M549 927h3M569 894h3M645 957h3M695 938h3M562 927h3M543 961h3M587 944h3M605 883h3M553 877h3M591 893h3M546 983h3M551 927h3M632 930h3M544 920h3M656 976h3M539 899h3M619 807h3M615 977h3M575 921h3M538 984h3M564 888h3M582 969h3M592 917h3M714 935h3M643 946h3M576 962h3M572 853h3M550 837h3M705 781h3M580 981h3M722 917h3M687 834h3M574 817h3M567 973h3M554 862h3M540 887h3M615 971h3M636 962h3M612 891h3M680 919h3M560 980h3M671 947h3M649 945h3M598 835h3M561 930h3M596 950h3M581 903h3M585 860h3M549 901h3M588 885h3M627 949h3M604 947h3M582 892h3M594 945h3M686 935h3M604 898h3M579 869h3M590 994h3M549 853h3M591 938h3M628 976h3M685 945h3M545 877h3M572 890h3M608 873h3M627 850h3M567 955h3M582 865h3M634 939h3M538 976h3M588 881h3M568 874h3M579 908h3M588 891h3M597 939h3M575 881h3M600 953h3M604 859h3M545 968h3M560 863h3M630 936h3M555 976h3M657 938h3M557 991h3M558 979h3M691 974h3M574 870h3M593 929h3M696 957h3M609 968h3M699 930h3M570 904h3M564 848h3M568 857h3M633 966h3M555 984h3M724 911h3M542 971h3M582 847h3M574 953h3M581 881h3M538 881h3M645 942h3M548 829h3M568 995h3M672 960h3M552 897h3M583 907h3M539 952h3M553 932h3M548 981h3M623 978h3M583 888h3M730 901h3M560 954h3M543 954h3M694 945h3M636 969h3M577 865h3M645 949h3M594 920h3M674 942h3M573 918h3M610 926h3M624 966h3M638 982h3M674 956h3M592 867h3M569 968h3M702 927h3M701 949h3M578 903h3M575 977h3M586 869h3M553 781h3M575 945h3M569 848h3M650 949h3M576 960h3M634 946h3M543 875h3M580 940h3M568 852h3M583 887h3M685 930h3M539 965h3M544 898h3M626 879h3M576 832h3M545 995h3M550 831h3M549 970h3M589 899h3M640 877h3M572 910h3M625 893h3M683 928h3M562 904h3M636 952h3M539 816h3M610 921h3M547 871h3M545 898h3M571 938h3M572 862h3M549 965h3M565 969h3M597 924h3M564 897h3M548 900h3M551 895h3M556 841h3M620 932h3M573 868h3M603 959h3M541 952h3M574 925h3M704 949h3M561 976h3M655 945h3M572 962h3M629 953h3M554 886h3M670 944h3M649 936h3M557 839h3M552 887h3M591 958h3M569 901h3M590 881h3M546 940h3M563 976h3M603 922h3M552 919h3M607 902h3M574 871h3M661 931h3M613 961h3M566 868h3M573 884h3M548 915h3M555 997h3M553 823h3M585 841h3M625 945h3M600 907h3M613 907h3M579 883h3M563 870h3M688 951h3M596 929h3M605 933h3M585 980h3M569 970h3M604 864h3M568 914h3M578 850h3M634 980h3M541 954h3M566 928h3M589 921h3M547 905h3M587 950h3M571 947h3M554 892h3M543 974h3M595 868h3M648 930h3M550 841h3M559 841h3M549 922h3M618 975h3M564 894h3M660 946h3M647 945h3M561 921h3M565 878h3M602 967h3M630 869h3M552 987h3M609 897h3M666 945h3M626 907h3M668 938h3M547 915h3M670 910h3M729 939h3M601 879h3M570 912h3M601 965h3M605 995h3M585 851h3M618 967h3M582 936h3M638 975h3M585 909h3M669 960h3M557 988h3M577 899h3M568 966h3M555 897h3M658 972h3M637 934h3M701 941h3M597 900h3M688 811h3M568 791h3M564 898h3M596 945h3M619 960h3M577 919h3M697 912h3M661 911h3M565 909h3M693 778h3M549 904h3M643 941h3M540 981h3M561 913h3M666 933h3M564 835h3M590 904h3M565 864h3M567 956h3M609 949h3M545 969h3M575 923h3M582 894h3M591 962h3M592 965h3M566 922h3M563 944h3M629 971h3M573 946h3M609 975h3M604 844h3M559 930h3M754 916h3M593 898h3M594 990h3M684 914h3M593 896h3M747 773h3M697 792h3M600 894h3M671 923h3M563 972h3M567 882h3M585 975h3M547 899h3M571 919h3M580 842h3M559 889h3M540 936h3M551 932h3M636 954h3M604 863h3M634 959h3M608 944h3M621 972h3M579 983h3M732 942h3M583 870h3M573 899h3M553 963h3M678 941h3M754 892h3M562 950h3M629 949h3M560 944h3M558 927h3M707 928h3M546 910h3M688 793h3M583 852h3M711 932h3M676 788h3M562 943h3M579 963h3M645 941h3M560 850h3M634 948h3M720 921h3M749 938h3M630 962h3M637 939h3M655 929h3M567 913h3M697 950h3M570 927h3M578 950h3M677 866h3M587 897h3M693 911h3M567 886h3M734 908h3M710 934h3M564 811h3M662 950h3M765 872h3M556 956h3M556 906h3M617 942h3M558 865h3M638 940h3M640 926h3M588 968h3M586 923h3M648 942h3M695 932h3M625 974h3M555 857h3M617 865h3M733 927h3M694 931h3M672 940h3M553 939h3M576 983h3M717 860h3M597 958h3M559 864h3M790 814h3M555 940h3M543 793h3M651 954h3M715 919h3M543 972h3M559 944h3M556 929h3M550 956h3M570 966h3M638 932h3M543 958h3M604 890h3M584 898h3M566 897h3M680 950h3M554 942h3M617 949h3M563 929h3M706 852h3M574 894h3M739 789h3M646 976h3M642 951h3M565 930h3M577 987h3M549 923h3M570 911h3M661 955h3M561 865h3M711 939h3M571 884h3M592 891h3M550 910h3M667 946h3M570 943h3M557 907h3M578 912h3M658 932h3M540 957h3M544 909h3M590 882h3M753 929h3M576 881h3M557 899h3M553 819h3M586 867h3M584 908h3M650 948h3M683 800h3M728 940h3M593 872h3M552 932h3M560 908h3M607 971h3M639 939h3M633 964h3M618 881h3M695 918h3M629 938h3M630 958h3M723 890h3M577 876h3M640 959h3M656 956h3M559 963h3M556 892h3M651 973h3M752 905h3M579 887h3M565 990h3M570 901h3M559 917h3M556 990h3M641 885h3M549 843h3M571 902h3M554 910h3M625 961h3M557 994h3M574 908h3M581 912h3M703 935h3M562 839h3M604 814h3M678 925h3M578 872h3M592 860h3M543 842h3M695 972h3M556 965h3M624 936h3M558 982h3M614 880h3M553 783h3M562 856h3M565 941h3M629 928h3M608 866h3M539 865h3M632 950h3M702 951h3M662 967h3M581 877h3M578 936h3M595 967h3M562 912h3M635 958h3M644 944h3M591 863h3M566 879h3M559 908h3M599 934h3M542 836h3M633 863h3M576 878h3M560 889h3M720 913h3M661 931h3M542 979h3M628 845h3M743 838h3M679 940h3M589 867h3M732 958h3M587 909h3M705 932h3M539 987h3M734 790h3M564 909h3M551 985h3M630 846h3M698 949h3M585 913h3M565 900h3M717 948h3M671 855h3M556 783h3M549 954h3M542 905h3M568 843h3M598 924h3M702 988h3M599 878h3M596 834h3M607 869h3M570 781h3M660 914h3M560 859h3M557 859h3M654 971h3M712 858h3M660 947h3M725 833h3M650 941h3M579 969h3M716 923h3M594 858h3M587 934h3M539 942h3M547 881h3M707 848h3M580 907h3M576 900h3M541 986h3M574 920h3M749 823h3M563 888h3M633 962h3M641 950h3M564 994h3M545 969h3M600 942h3M751 932h3M546 933h3M686 943h3M681 939h3M649 939h3M568 878h3M597 957h3M570 873h3M641 804h3M747 907h3M558 868h3M607 982h3M562 882h3M722 933h3M567 926h3M579 876h3M600 885h3M541 903h3M577 953h3M573 971h3M571 897h3M542 994h3M616 992h3M541 936h3M776 912h3M602 888h3M619 845h3M551 877h3M569 963h3M562 937h3M542 953h3M647 885h3M581 930h3M627 994h3M565 902h3M553 970h3M542 954h3M551 895h3M623 950h3M587 857h3M651 937h3M546 919h3M584 912h3M558 892h3M566 940h3M627 977h3M639 950h3M723 957h3M546 927h3M592 899h3M554 847h3M550 830h3M567 907h3M661 963h3M563 898h3M714 934h3M572 986h3M587 876h3M648 855h3M677 931h3M576 958h3M565 891h3M595 932h3M723 931h3M734 930h3M616 913h3M794 962h3M673 937h3M575 890h3M547 921h3M565 906h3M729 812h3M575 946h3M598 985h3M565 854h3M542 981h3M572 992h3M717 901h3M538 931h3M564 950h3M632 965h3M582 952h3M567 979h3M570 880h3M614 953h3M604 903h3M580 896h3M590 939h3M590 891h3M560 896h3M564 953h3M588 869h3M554 873h3M581 898h3M668 939h3M634 961h3M556 860h3M671 936h3M662 949h3M600 950h3M552 966h3M609 886h3M723 923h3M559 885h3M564 988h3M688 927h3M584 919h3M543 930h3M582 892h3M573 850h3M652 967h3M621 954h3M701 942h3M602 943h3M550 838h3M559 910h3M570 894h3M573 887h3M657 958h3M662 926h3M582 864h3M697 950h3M555 966h3M614 968h3M637 966h3M618 897h3M569 920h3M558 925h3M590 860h3M552 787h3M741 941h3M639 938h3M633 972h3M610 980h3M704 853h3M560 985h3M544 971h3M619 983h3M607 972h3M560 906h3M590 863h3M620 942h3M570 873h3M560 886h3M611 960h3M559 904h3M569 964h3M634 955h3M565 891h3M553 915h3M705 965h3M552 900h3M630 873h3M562 860h3M634 956h3M567 875h3M563 958h3M563 875h3M599 881h3M587 952h3M795 828h3M670 946h3M548 928h3M565 926h3M562 991h3M556 911h3M549 870h3M606 876h3M625 993h3M583 851h3M625 959h3M593 844h3M597 903h3M551 849h3M647 965h3M581 899h3M568 976h3M650 930h3M667 979h3M691 994h3M582 845h3M643 951h3M550 943h3M545 830h3M692 947h3M597 941h3M563 977h3M566 961h3M569 926h3M546 959h3M587 959h3M561 875h3M633 909h3M604 909h3M723 924h3M725 928h3M680 968h3M583 885h3M584 877h3M567 860h3M537 947h3M599 971h3M546 877h3M547 901h3M569 816h3M568 969h3M561 867h3M619 958h3M544 957h3M552 951h3M660 920h3M568 919h3M545 964h3M717 926h3M654 959h3M561 981h3M560 926h3M598 947h3M569 892h3M721 939h3M599 931h3M588 919h3M560 895h3M564 942h3M578 895h3M569 986h3M619 987h3M544 875h3M569 899h3M585 868h3M680 960h3M668 907h3M643 776h3M573 944h3M717 850h3M597 956h3M657 928h3M605 888h3M556 973h3M626 987h3M576 938h3M623 950h3M581 908h3M705 918h3M701 930h3M673 949h3M629 941h3M601 874h3M558 874h3M570 887h3M704 914h3M692 948h3M667 943h3M614 926h3M544 958h3M562 977h3M601 874h3M590 901h3M704 832h3M561 885h3M607 894h3M581 886h3M610 928h3M582 947h3M755 952h3M542 924h3M694 826h3M598 905h3M595 825h3M568 946h3M612 915h3M612 838h3M554 867h3M546 942h3M575 911h3M611 975h3M708 926h3M702 915h3M638 941h3M559 908h3M584 882h3M554 877h3M708 931h3M629 946h3M632 949h3M552 877h3M574 900h3M614 965h3M700 915h3M576 881h3M606 939h3M551 917h3M576 987h3M734 929h3M651 943h3M563 966h3M771 923h3M564 861h3M565 930h3M681 961h3M605 949h3M578 882h3M561 911h3M565 949h3M654 971h3M578 960h3M556 910h3M572 907h3M652 952h3M597 934h3M561 901h3M593 914h3M613 857h3M558 885h3M746 873h3M630 835h3M539 917h3M643 975h3M550 980h3M601 898h3M685 949h3M637 948h3M614 896h3M563 943h3M633 964h3M571 966h3M550 863h3M596 921h3M637 959h3M661 951h3M672 963h3M591 881h3M633 856h3M543 865h3M692 914h3M594 849h3M573 950h3M585 911h3M562 939h3M558 919h3M607 941h3M673 951h3M578 892h3M655 935h3M662 951h3M543 894h3M612 926h3M577 887h3M574 888h3M695 921h3M576 937h3M671 934h3M543 854h3M594 839h3M575 900h3M569 949h3M553 986h3M670 928h3M675 947h3M660 948h3M569 782h3M558 911h3M542 938h3M593 872h3M604 871h3M570 951h3M541 913h3M635 980h3M706 940h3M557 919h3M553 856h3M571 993h3M584 886h3M576 880h3M635 961h3M643 963h3M548 847h3M540 922h3M558 875h3M571 878h3M552 881h3M551 981h3M576 893h3M596 936h3M633 955h3M538 974h3M705 795h3M568 845h3M571 991h3M604 994h3M570 888h3M551 991h3M622 952h3M633 964h3M634 979h3M593 914h3M604 887h3M578 998h3M576 835h3M601 942h3M564 941h3M666 942h3M585 931h3M620 965h3M717 932h3M599 940h3M595 922h3M544 925h3M577 895h3M632 966h3M562 941h3M539 940h3M569 889h3M544 936h3M544 893h3M653 912h3M615 929h3M568 901h3M703 954h3M590 953h3M592 897h3M590 882h3M573 988h3M608 918h3M569 957h3M540 954h3M642 954h3M569 831h3M557 863h3M588 911h3M560 883h3M689 900h3M597 915h3M550 929h3M634 951h3M711 934h3M608 872h3M628 913h3M548 882h3M650 956h3M584 830h3M568 905h3M671 947h3M577 884h3M544 979h3M551 976h3M591 884h3M635 963h3M613 981h3M551 962h3M589 987h3M725 911h3M618 949h3M589 949h3M608 884h3M566 887h3M555 846h3M562 853h3M633 962h3M537 970h3M562 916h3M644 949h3M577 909h3M617 891h3M564 874h3M608 934h3M574 876h3M603 787h3M563 882h3M553 857h3M568 832h3M556 856h3M607 900h3M559 915h3M632 948h3M580 919h3M549 967h3M574 922h3M538 977h3M564 882h3M718 937h3M685 922h3M576 965h3M717 919h3M557 914h3M652 938h3M559 881h3M664 937h3M569 932h3M568 932h3M581 987h3M613 915h3M538 894h3M742 876h3M538 943h3M635 985h3M680 953h3M574 918h3M579 874h3M631 947h3M585 860h3M574 905h3M577 857h3M553 872h3M553 981h3M585 882h3M673 913h3M582 984h3M627 974h3M546 905h3M552 907h3M558 979h3M592 855h3M576 935h3M701 949h3M542 852h3M572 897h3M740 926h3M593 947h3M641 970h3M559 959h3M605 884h3M698 951h3M563 970h3M676 931h3M585 977h3M623 855h3M548 865h3M578 884h3M611 888h3M557 963h3M606 968h3M565 907h3M607 975h3M582 875h3M566 909h3M540 862h3M706 901h3M558 863h3M561 912h3M566 859h3M571 896h3M554 810h3M572 852h3M569 905h3M598 887h3M552 904h3M633 970h3M638 948h3M596 948h3M609 931h3M601 941h3M565 880h3M595 905h3M537 917h3M618 983h3M769 774h3M574 944h3M629 974h3M626 886h3M698 962h3M594 921h3M611 959h3M543 856h3M578 984h3M570 807h3M549 889h3M555 880h3M569 916h3M567 972h3M616 898h3M707 957h3M584 851h3M696 934h3M675 942h3M635 959h3M626 898h3M714 929h3M606 981h3M663 962h3M583 924h3M626 931h3M665 945h3M551 972h3M550 906h3M559 921h3M693 944h3M566 890h3M575 863h3M592 868h3M577 889h3M673 951h3M744 910h3M562 834h3M733 911h3M592 896h3M611 877h3M584 861h3M558 932h3M617 963h3M630 897h3M597 886h3M571 889h3M554 850h3M541 910h3M603 912h3M540 962h3M567 886h3M562 899h3M598 865h3M544 863h3M677 924h3M645 863h3M539 935h3M567 934h3M572 981h3M582 877h3M720 932h3M561 968h3M610 807h3M543 831h3M700 916h3M681 921h3M561 989h3M630 940h3M632 960h3M555 905h3M573 941h3M639 963h3M630 958h3M659 956h3M632 968h3M538 992h3M577 880h3M606 880h3M662 967h3M591 880h3M552 892h3M595 928h3M650 962h3M617 974h3M693 927h3M574 873h3M571 883h3M544 980h3M553 983h3M587 905h3M696 921h3M598 896h3M617 924h3M557 948h3M543 885h3M730 922h3M563 868h3M620 917h3M565 948h3M583 946h3M565 856h3M622 887h3M639 966h3M558 989h3M674 947h3M624 956h3M577 828h3M636 937h3M605 934h3M573 869h3M573 942h3M561 939h3M595 972h3M571 864h3M572 891h3M564 876h3M580 988h3M682 947h3M593 969h3M741 932h3M559 896h3M577 990h3M584 951h3M685 937h3M619 953h3M584 896h3M575 959h3M678 950h3M633 959h3M651 949h3M584 975h3M642 950h3M600 908h3M556 891h3M581 865h3M555 917h3M692 940h3M658 831h3M567 841h3M759 922h3M563 912h3M631 889h3M722 939h3M555 964h3M651 955h3M690 829h3M656 958h3M592 938h3M581 887h3M554 912h3M577 904h3M545 956h3M538 982h3M602 877h3" stroke="#000" stroke-opacity="0.3" stroke-width="3" fill="none"/>
<path d="M554 904h3M589 968h3M563 953h3M552 906h3M622 834h3M580 990h3M539 936h3M560 953h3M552 990h3M622 966h3M644 923h3M618 896h3M547 932h3M713 939h3M594 891h3M543 960h3M607 928h3M550 888h3M562 876h3M562 979h3M554 888h3M605 830h3M681 970h3M583 979h3M659 942h3M554 907h3M576 861h3M659 950h3M649 949h3M648 937h3M550 921h3M545 833h3M558 864h3M554 983h3M544 964h3M657 963h3M598 962h3M602 921h3M567 913h3M571 961h3M615 949h3M633 927h3M576 918h3M559 889h3M664 941h3M605 957h3M563 914h3M718 927h3M604 858h3M662 936h3M549 898h3M573 903h3M581 869h3M612 887h3M560 904h3M573 928h3M664 922h3M595 974h3M623 857h3M577 868h3M554 893h3M580 952h3M573 889h3M592 974h3M587 985h3M578 916h3M757 934h3M750 936h3M560 928h3M780 935h3M568 904h3M679 936h3M571 902h3M548 981h3M612 807h3M648 955h3M538 879h3M643 957h3M715 920h3M579 884h3M608 924h3M583 932h3M553 974h3M579 989h3M555 929h3M612 949h3M571 892h3M621 938h3M564 848h3M557 890h3M593 888h3M688 789h3M571 967h3M542 911h3M569 980h3M561 934h3M573 959h3M565 878h3M575 936h3M632 963h3M681 965h3M589 864h3M562 913h3M554 894h3M634 861h3M556 908h3M697 928h3M544 933h3M542 860h3M618 884h3M557 958h3M576 926h3M712 900h3M793 880h3M742 928h3M713 956h3M540 937h3M579 863h3M674 936h3M547 851h3M575 897h3M567 957h3M604 976h3M654 952h3M590 946h3M574 925h3M587 902h3M573 978h3M655 974h3M554 991h3M606 884h3M591 885h3M621 971h3M587 926h3M571 847h3M625 943h3M565 902h3M541 970h3M614 959h3M556 918h3M593 983h3M668 945h3M570 828h3M574 920h3M553 813h3M623 843h3M558 876h3M593 886h3M568 927h3M592 933h3M644 891h3M583 888h3M648 984h3M587 933h3M573 877h3M646 960h3M793 965h3M603 884h3M573 908h3M556 914h3M730 796h3M566 921h3M559 860h3M584 973h3M640 962h3M558 983h3M599 958h3M790 907h3M669 957h3M576 933h3M583 852h3M568 992h3M591 894h3M635 948h3M555 959h3M668 938h3M574 908h3M627 889h3M742 901h3M578 891h3M677 813h3M652 963h3M576 893h3M552 824h3M651 942h3M623 942h3M636 946h3M597 866h3M556 861h3M540 942h3M559 880h3M545 966h3M630 939h3M626 947h3M599 896h3M590 976h3M615 909h3M595 885h3M550 829h3M569 914h3M556 907h3M573 947h3M586 879h3M677 934h3M553 979h3M589 960h3M663 854h3M559 940h3M560 907h3M559 880h3M578 831h3M561 939h3M576 886h3M621 966h3M555 849h3M568 902h3M678 935h3M584 864h3M691 938h3M566 967h3M595 873h3M577 887h3M679 947h3M651 956h3M581 888h3M574 920h3M547 874h3M558 909h3M678 939h3M539 945h3M539 888h3M567 892h3M575 920h3M652 937h3M572 913h3M696 913h3M561 939h3M590 966h3M626 909h3M587 894h3M642 884h3M752 926h3M673 924h3M662 942h3M542 927h3M538 979h3M538 907h3M647 953h3M726 898h3M588 890h3M564 877h3M565 943h3M582 913h3M630 933h3M598 875h3M591 898h3M724 924h3M695 954h3M695 955h3M707 913h3M595 918h3M541 835h3M567 944h3M569 820h3M591 829h3M798 810h3M557 898h3M551 910h3M573 869h3M559 901h3M541 979h3M538 921h3M669 956h3M795 928h3M591 952h3M555 881h3M634 953h3M627 816h3M635 832h3M563 959h3M572 904h3M622 990h3M542 895h3M607 915h3M655 930h3M643 984h3M563 901h3M649 956h3M572 934h3M604 877h3M568 776h3M565 914h3M557 877h3M594 816h3M607 825h3M542 949h3M563 875h3M638 967h3M562 934h3M704 907h3M574 990h3M586 877h3M644 980h3M559 950h3M672 924h3M676 956h3M639 975h3M656 945h3M601 866h3M550 853h3M625 910h3M549 971h3M640 967h3M548 932h3M590 866h3M579 910h3M555 931h3M548 970h3M618 871h3M539 960h3M540 784h3M581 904h3M643 979h3M554 914h3M758 924h3M694 791h3M568 922h3M578 950h3M606 971h3M552 910h3M674 821h3M633 940h3M588 804h3M570 874h3M570 905h3M656 964h3M647 949h3M584 922h3M639 962h3M587 975h3M639 956h3M670 937h3M569 873h3M565 893h3M552 982h3M698 934h3M574 859h3M578 873h3M645 943h3M556 895h3M603 853h3M543 854h3M582 914h3M625 975h3M690 954h3M636 967h3M673 979h3M653 935h3M694 940h3M573 870h3M580 887h3M541 990h3M628 979h3M693 957h3M593 912h3M687 869h3M545 976h3M610 961h3M582 874h3M556 877h3M549 850h3M606 880h3M541 882h3M573 872h3M573 931h3M631 954h3M611 787h3M594 824h3M620 863h3M640 964h3M622 853h3M566 850h3M548 841h3M646 963h3M585 811h3M656 958h3M551 958h3M557 981h3M624 977h3M583 939h3M689 939h3M540 952h3M665 913h3M718 928h3M550 922h3M546 963h3M550 903h3M650 920h3M745 924h3M581 953h3M543 938h3M644 946h3M697 921h3M691 946h3M550 938h3M622 947h3M568 883h3M602 901h3M597 910h3M580 862h3M567 914h3M590 942h3M660 925h3M583 877h3M597 995h3M622 955h3M580 912h3M585 970h3M606 886h3M540 871h3M733 918h3M678 956h3M671 930h3M580 985h3M581 897h3M680 923h3M630 949h3M662 928h3M665 785h3M606 961h3M713 945h3M580 795h3M633 907h3M570 842h3M563 857h3M740 979h3M595 943h3M583 870h3M569 972h3M655 851h3M593 951h3M668 935h3M577 912h3M684 945h3M649 949h3M623 951h3M555 882h3M604 962h3M571 964h3M571 836h3M568 968h3M575 912h3M616 909h3M663 941h3M605 970h3M551 943h3M573 888h3M607 938h3M619 966h3M548 891h3M549 946h3M552 882h3M604 967h3M547 904h3M582 895h3M709 931h3M568 896h3M676 890h3M597 987h3M570 966h3M648 962h3M581 867h3M672 937h3M580 955h3M554 895h3M572 907h3M579 920h3M642 986h3M630 970h3M549 787h3M574 814h3M579 914h3M544 910h3M669 956h3M562 901h3M660 946h3M649 986h3M687 915h3M640 933h3M591 898h3M548 997h3M708 925h3M662 952h3M619 909h3M573 876h3M602 974h3M561 905h3M570 921h3M692 929h3M619 965h3M567 858h3M548 920h3M542 972h3M637 971h3M658 956h3M583 956h3M633 960h3M758 963h3M575 944h3M570 889h3M589 893h3M577 979h3M565 886h3M544 796h3M597 963h3M659 950h3M543 904h3M620 885h3M600 797h3M553 906h3M687 921h3M658 917h3M571 866h3M587 829h3M626 843h3M564 935h3M558 775h3M593 798h3M608 867h3M572 888h3M635 915h3M599 864h3M600 877h3M611 968h3M748 917h3M610 945h3M581 858h3M579 912h3M544 975h3M633 958h3M723 935h3M664 932h3M567 918h3M583 835h3M541 871h3M579 971h3M576 790h3M589 928h3M572 887h3M799 976h3M549 882h3M658 958h3M580 883h3M686 931h3M606 963h3M643 843h3M600 974h3M572 958h3M551 952h3M743 929h3M699 934h3M573 834h3M563 985h3M572 983h3M562 946h3M560 879h3M568 875h3M563 948h3M579 980h3M570 925h3M593 916h3M566 924h3M584 924h3M546 957h3M589 873h3M570 866h3M753 951h3M553 899h3M731 915h3M718 920h3M583 890h3M610 942h3M540 951h3M589 857h3M564 878h3M542 926h3M598 876h3M631 950h3M587 913h3M544 893h3M560 865h3M615 986h3M565 910h3M592 914h3M562 877h3M556 921h3M605 809h3M588 922h3M539 910h3M546 868h3M641 962h3M650 889h3M655 951h3M544 931h3M629 949h3M547 967h3M590 992h3M567 897h3M542 989h3M561 960h3M556 885h3M595 975h3M540 914h3M553 903h3M545 951h3M589 895h3M559 986h3M710 932h3M554 964h3M582 911h3M594 891h3M594 930h3M580 779h3M591 984h3M568 920h3M558 904h3M647 954h3M585 908h3M556 893h3M745 920h3M589 890h3M597 851h3M696 936h3M572 938h3M581 978h3M561 941h3M551 880h3M568 848h3M692 931h3M724 915h3M614 873h3M599 784h3M591 884h3M671 952h3M564 945h3M540 820h3M670 940h3M595 904h3M561 994h3M710 933h3M688 947h3M729 887h3M655 859h3M576 872h3M578 884h3M591 901h3M570 876h3M641 958h3M545 854h3M592 950h3M636 787h3M565 970h3M554 950h3M758 935h3M555 967h3M571 932h3M560 949h3M741 935h3M578 904h3M777 948h3M592 885h3M590 923h3M570 945h3M551 976h3M683 935h3M617 969h3M645 944h3M581 910h3M642 928h3M540 799h3M563 862h3M680 928h3M624 947h3M553 891h3M666 956h3M585 958h3M677 933h3M591 904h3M760 932h3M600 966h3M560 909h3M543 977h3M573 946h3M719 933h3M707 897h3M676 941h3M618 963h3M590 976h3M566 937h3M590 868h3M627 989h3M547 966h3M554 851h3M558 891h3M614 777h3M591 840h3M767 923h3M582 888h3M772 830h3M560 892h3M576 862h3M604 926h3M728 925h3M577 907h3M550 871h3M560 976h3M574 950h3M620 970h3M593 934h3M563 915h3M713 945h3M555 972h3M678 964h3M581 855h3M610 929h3M653 973h3M582 850h3M587 872h3M691 907h3M571 957h3M573 912h3M567 882h3M635 964h3M578 903h3M623 900h3M744 780h3M614 817h3M608 895h3M579 985h3M705 908h3M548 909h3M567 988h3M643 984h3M739 915h3M549 946h3M584 925h3M556 923h3M567 899h3M576 903h3M571 951h3M590 839h3M592 990h3M591 871h3M566 913h3M566 953h3M561 968h3M554 864h3M545 796h3M577 983h3M609 966h3M730 944h3M570 943h3M574 950h3M581 976h3M616 886h3M573 893h3M586 906h3M561 840h3M766 878h3M597 984h3M569 980h3M548 972h3M616 963h3M662 958h3M568 905h3M599 885h3M745 910h3M537 883h3M546 905h3M574 980h3M726 946h3M587 916h3M679 890h3M577 875h3M568 888h3M590 885h3M623 854h3M675 808h3M551 932h3M676 941h3M572 960h3M552 954h3M574 976h3M580 910h3M563 948h3M555 951h3M675 920h3M706 934h3M567 885h3M620 960h3M574 882h3M559 935h3M573 872h3M575 941h3M558 996h3M600 896h3M549 842h3M564 992h3M576 834h3M580 946h3M570 841h3M576 933h3M541 899h3M654 951h3M561 891h3M544 971h3M693 940h3M554 984h3M641 962h3M582 870h3M611 872h3M601 933h3M571 899h3M601 889h3M601 943h3M652 929h3M600 881h3M624 934h3M708 913h3M538 906h3M552 910h3M558 851h3M727 923h3M594 866h3M624 981h3M576 936h3M591 921h3M551 992h3M616 889h3M611 879h3M688 945h3M589 900h3M584 904h3M666 940h3M614 850h3M576 869h3M666 954h3M562 959h3M569 841h3M563 904h3M566 897h3M583 913h3M579 885h3M570 880h3M564 883h3M573 889h3M672 917h3M668 935h3M555 934h3M562 957h3M627 970h3M592 942h3M555 919h3M622 990h3M585 900h3M578 908h3M581 964h3M570 902h3M710 904h3M761 917h3M709 955h3M592 821h3M661 951h3M620 861h3M609 974h3M546 866h3M560 795h3M655 940h3M615 966h3M560 969h3M587 966h3M576 941h3M645 972h3M553 890h3M592 948h3M750 908h3M651 942h3M546 868h3M567 990h3M615 896h3M561 890h3M577 875h3M547 929h3M593 797h3M584 872h3M576 883h3M589 948h3M694 942h3M613 972h3M636 863h3M548 882h3M591 908h3M559 958h3M604 908h3M607 956h3M568 835h3M587 862h3M729 916h3M592 842h3M559 954h3M550 937h3M582 825h3M581 948h3M579 831h3M643 913h3M588 919h3M592 897h3M621 958h3M557 861h3M604 975h3M596 916h3M772 938h3M686 942h3M590 919h3M557 872h3M656 960h3M591 845h3M665 941h3M584 905h3M674 958h3M553 870h3M684 913h3M588 928h3M563 899h3M575 880h3M572 995h3M541 844h3M583 876h3M675 917h3M626 908h3M696 902h3M557 867h3M758 829h3M587 915h3M544 865h3M678 946h3M551 898h3M604 890h3M662 951h3M566 933h3M541 930h3M675 960h3M574 902h3M562 876h3M553 884h3M588 917h3M563 909h3M620 952h3M552 944h3M729 923h3M545 895h3M678 981h3M616 864h3M602 969h3M578 906h3M564 889h3M583 908h3M592 864h3M588 991h3M573 918h3M664 922h3M580 860h3M665 942h3M543 885h3M648 939h3M645 963h3M711 914h3M621 929h3M595 915h3M597 819h3M712 944h3M552 860h3M572 856h3M723 922h3M553 885h3M548 964h3M646 918h3M560 919h3M643 957h3M648 962h3M555 962h3M564 926h3M659 869h3M562 903h3M565 937h3M669 960h3M560 966h3M541 941h3M568 872h3M721 835h3M564 898h3M569 817h3M562 924h3M566 894h3M565 876h3M572 899h3M540 955h3M664 943h3M564 976h3M590 908h3M661 939h3M633 844h3M634 967h3M582 918h3M586 886h3M617 903h3M609 884h3M758 862h3M750 866h3M556 838h3M552 981h3M660 965h3M699 928h3M620 901h3M554 980h3M606 923h3M562 909h3M544 955h3M559 850h3M704 935h3M563 961h3M604 922h3M628 899h3M545 992h3M586 859h3M553 873h3M604 955h3M588 855h3M676 931h3M617 909h3M623 970h3M577 849h3M572 906h3M574 888h3M616 851h3M590 930h3M562 950h3M576 952h3M583 951h3M589 914h3M738 919h3M554 904h3M625 820h3M577 920h3M576 899h3M543 990h3M564 875h3M674 960h3M587 997h3M678 923h3M583 893h3M606 813h3M555 874h3M578 912h3M712 934h3M777 906h3M627 908h3M557 906h3M578 897h3M742 925h3M554 928h3M583 961h3M575 923h3M581 977h3M700 930h3M658 967h3M563 852h3M556 867h3M563 824h3M571 867h3M643 789h3M671 921h3M552 899h3M568 805h3M547 905h3M695 909h3M577 899h3M556 885h3M545 928h3M756 899h3M566 933h3M576 949h3M749 907h3M644 918h3M565 888h3M695 937h3M559 966h3M620 951h3M584 842h3M594 913h3M580 929h3M573 892h3M571 960h3M581 898h3M548 834h3M540 911h3M561 928h3M557 952h3M639 955h3M567 855h3M553 879h3M591 908h3M570 836h3M622 957h3M596 963h3M653 924h3M722 909h3M666 952h3M571 945h3M581 840h3M580 935h3M631 945h3M548 953h3M650 963h3M545 923h3M553 995h3M641 890h3M547 914h3M606 899h3M614 939h3M635 953h3M562 935h3M614 952h3M602 896h3M631 951h3M584 863h3M648 966h3M645 943h3M656 949h3M581 929h3M713 938h3M578 941h3M623 931h3M674 930h3M624 923h3M553 906h3M648 897h3M558 841h3M637 839h3M783 939h3M569 951h3M582 893h3M586 908h3M559 975h3M598 953h3M634 913h3M568 972h3M564 868h3M582 857h3M543 971h3M556 926h3M636 892h3M604 906h3M664 951h3M744 937h3M585 932h3M548 929h3M558 888h3M620 839h3M537 871h3M564 978h3M569 929h3M539 980h3M559 832h3M595 833h3M662 957h3M564 976h3M638 963h3M605 960h3M699 930h3M661 995h3M546 882h3M694 937h3M581 945h3M714 944h3M561 882h3M559 848h3M663 929h3M557 868h3M555 893h3M594 910h3M581 866h3M607 994h3M570 856h3M596 969h3M614 986h3M756 914h3M558 863h3M653 942h3M575 851h3M543 889h3M718 882h3M660 962h3M584 985h3M607 967h3M580 921h3M560 954h3M570 924h3M622 942h3M580 816h3M568 898h3M650 948h3M545 845h3M561 867h3M599 814h3M664 949h3M554 922h3M589 891h3M582 876h3M574 959h3M621 860h3M616 890h3M589 900h3M598 953h3M566 879h3M569 897h3M624 948h3M575 949h3M609 925h3M619 938h3M647 954h3M548 812h3M585 861h3M661 932h3M556 980h3M557 919h3M551 986h3M557 867h3M634 956h3M568 822h3M543 882h3M567 816h3M584 852h3M596 881h3M580 869h3M643 867h3M672 948h3M675 967h3M640 835h3M555 940h3M547 984h3M693 941h3M562 940h3M599 891h3M598 960h3M562 889h3M566 868h3M669 942h3M563 895h3M552 889h3M608 968h3M618 910h3M570 957h3M568 913h3M563 873h3M690 990h3M569 961h3M560 878h3M543 936h3M549 981h3M586 782h3M544 943h3M554 845h3M564 931h3M631 917h3M585 914h3M581 948h3M562 880h3M609 869h3M588 945h3M572 913h3M678 966h3M660 952h3M642 963h3M573 907h3M709 805h3M570 966h3M651 929h3M653 930h3M557 947h3M625 920h3M557 907h3M607 950h3M600 918h3M555 838h3M589 888h3M576 980h3M592 881h3M629 965h3M538 912h3M631 944h3M710 915h3M635 977h3M596 957h3M543 891h3M595 908h3M635 912h3M607 947h3M635 964h3M747 924h3M594 889h3M622 951h3M628 960h3M640 913h3M540 963h3M576 898h3M574 856h3M618 941h3M549 883h3M548 959h3M551 821h3M553 980h3M602 877h3M555 907h3M543 857h3M570 996h3M586 974h3M644 952h3M595 955h3M557 890h3M591 906h3M619 783h3M554 896h3M606 962h3M606 870h3M640 963h3M560 920h3M588 900h3M674 941h3M554 897h3M649 930h3M632 968h3M580 871h3M571 957h3M550 895h3M684 930h3M562 933h3M547 986h3M582 951h3M661 956h3M569 896h3M541 854h3M710 961h3M555 947h3M545 989h3M577 937h3M587 938h3M588 885h3M537 861h3M638 958h3M629 862h3M728 922h3M772 925h3M616 888h3M563 941h3M573 810h3M613 971h3M680 903h3M658 939h3M635 955h3M551 936h3M567 912h3M630 937h3M643 951h3M747 916h3M565 913h3M571 916h3M580 889h3M558 953h3M565 989h3M650 969h3M577 904h3M599 907h3M596 921h3M571 985h3M691 903h3M756 918h3M697 928h3M551 931h3M615 968h3M569 902h3M682 913h3M651 945h3M579 880h3M544 850h3M581 971h3M554 944h3M614 922h3M704 811h3M550 925h3M561 894h3M570 925h3M582 979h3M692 949h3M653 939h3M652 969h3M564 915h3M555 857h3M729 816h3M591 829h3M543 940h3M582 844h3M560 973h3M633 926h3M578 883h3M575 883h3M555 898h3M633 953h3M567 974h3M675 946h3M560 912h3M570 887h3M657 969h3M542 836h3M586 907h3M690 934h3M590 838h3M565 880h3M600 948h3M556 890h3M627 961h3M608 931h3M548 890h3M587 927h3M587 848h3M540 971h3M550 933h3M565 990h3M575 835h3M640 962h3M556 913h3M707 947h3M572 949h3M548 942h3M663 914h3M602 927h3M604 907h3M555 898h3M741 928h3M643 927h3M612 968h3M591 909h3M651 929h3M648 819h3M563 903h3M585 949h3M651 955h3M722 911h3M575 853h3M555 941h3M559 906h3M578 904h3M672 950h3M687 936h3M571 865h3M555 803h3M653 898h3M570 897h3M618 891h3M569 840h3M577 934h3M553 974h3M548 905h3M637 940h3M617 869h3M575 940h3M566 862h3M577 883h3M777 924h3M615 970h3M578 863h3M572 894h3M583 871h3M559 916h3M774 912h3M607 903h3M563 959h3M566 897h3M580 864h3M699 912h3M605 966h3M561 902h3M548 914h3M658 975h3M555 920h3M602 897h3M579 875h3M767 990h3M617 948h3M597 890h3M648 951h3M704 918h3M646 958h3M635 976h3M662 936h3M601 952h3M635 932h3M571 962h3M612 953h3M586 875h3M555 941h3M619 930h3M560 962h3M570 891h3M574 879h3M584 966h3M559 900h3M633 946h3M565 944h3M559 847h3M571 953h3M614 893h3M578 872h3M751 940h3M601 872h3M569 904h3M551 793h3M690 951h3M655 943h3M560 960h3M561 952h3M762 854h3M631 960h3M659 855h3M564 934h3M545 914h3M551 837h3M573 944h3M574 787h3M565 974h3M592 988h3M581 915h3M588 880h3M556 987h3M778 893h3M543 880h3M547 886h3M652 944h3M658 947h3M569 955h3M555 905h3M553 981h3M580 854h3M559 887h3M584 916h3M662 950h3M652 952h3M637 953h3M623 882h3M541 848h3M732 919h3M639 831h3M583 902h3M551 870h3M644 948h3M575 870h3M684 924h3M618 950h3M656 913h3M544 967h3M569 985h3M540 901h3M565 927h3M609 945h3M560 894h3M547 938h3M572 940h3M577 810h3M703 911h3M743 928h3M548 929h3M658 937h3M583 848h3M662 936h3M557 891h3M667 939h3M566 973h3M653 954h3M720 948h3M567 910h3M613 947h3M612 947h3M689 936h3M599 861h3M601 871h3M691 962h3M563 887h3M580 808h3M639 940h3M556 848h3M556 881h3M596 839h3M624 887h3M574 969h3M549 825h3M620 863h3M584 944h3M544 843h3M544 988h3M562 970h3M574 905h3M550 937h3M574 912h3M573 850h3M565 957h3M599 900h3M614 987h3M564 899h3M625 960h3M741 923h3M593 942h3M547 966h3M679 955h3M566 803h3M574 889h3M589 934h3M636 961h3M565 909h3M606 878h3M740 951h3M705 946h3M568 880h3M566 923h3M667 964h3M548 843h3M558 863h3M550 947h3M557 955h3M586 885h3M611 870h3M619 968h3M582 877h3M556 866h3M599 922h3M561 940h3M651 941h3M576 924h3M642 967h3M598 916h3M558 918h3M558 895h3M582 982h3M570 908h3M647 977h3M577 907h3M552 878h3M556 917h3M698 938h3M634 945h3M586 972h3M542 819h3M578 884h3M575 903h3M569 983h3M552 909h3M582 872h3M560 988h3M615 929h3M574 888h3M674 942h3M553 912h3M556 886h3M622 857h3M618 902h3M624 950h3M709 930h3M609 855h3M580 844h3M575 845h3M688 921h3M591 941h3M578 889h3M555 901h3M581 891h3M651 977h3M549 866h3M734 925h3M585 853h3M576 847h3M572 986h3M548 954h3M654 953h3M540 827h3M666 922h3M556 945h3M574 963h3M625 962h3M570 939h3M607 971h3M601 959h3M538 866h3M545 942h3M551 884h3M561 942h3M569 887h3M565 898h3M625 884h3M648 988h3M673 973h3M621 896h3M765 895h3M677 943h3M630 969h3M568 926h3M621 936h3M724 813h3M669 967h3M564 861h3M542 888h3M560 926h3M541 955h3M608 910h3M711 954h3M556 950h3M618 966h3M624 819h3M607 901h3M542 909h3M597 838h3M566 921h3M586 925h3M572 871h3M631 960h3M614 870h3M570 884h3M649 979h3M575 870h3M538 957h3M610 962h3M663 947h3M572 923h3M575 892h3M561 897h3M551 979h3M558 937h3M567 911h3M554 979h3M590 930h3M653 950h3M625 947h3M553 924h3M704 943h3M678 947h3M560 809h3M641 949h3M579 886h3M568 930h3M623 838h3M545 880h3M578 948h3M578 844h3M601 935h3M555 946h3M747 954h3M634 958h3M553 966h3M659 943h3M590 908h3M567 906h3M627 932h3M743 941h3M537 967h3M699 923h3M602 874h3M551 872h3M576 982h3M578 981h3M756 933h3M571 774h3M632 946h3M538 993h3M745 918h3M549 847h3M553 940h3M613 981h3M563 882h3M789 891h3M605 906h3M547 875h3M552 918h3M540 934h3M692 936h3M544 786h3M587 788h3M571 840h3M569 902h3M539 935h3M612 955h3M610 885h3M686 857h3M614 896h3M615 815h3M644 956h3M598 910h3M568 942h3M683 898h3M726 936h3M713 907h3M558 930h3M552 874h3M607 972h3M575 877h3M581 874h3M631 996h3M584 940h3M571 849h3M571 874h3M564 861h3M545 933h3M686 909h3M597 990h3M715 907h3M570 992h3M716 925h3M613 990h3M639 950h3M546 916h3M578 849h3M641 953h3M538 873h3M639 956h3M743 955h3M556 843h3M538 973h3M639 853h3M630 951h3M554 917h3M759 930h3M564 954h3M543 952h3M635 975h3M593 872h3M541 895h3M572 819h3M557 887h3M575 902h3M587 907h3M564 806h3M613 912h3M540 938h3M668 935h3M570 817h3M551 846h3M743 773h3M577 992h3M590 828h3M573 853h3M571 913h3M557 924h3M717 890h3M541 876h3M546 971h3M646 963h3M545 970h3M602 860h3M558 939h3M561 832h3M549 877h3M703 877h3M790 783h3M563 952h3M564 811h3M615 963h3M717 876h3M560 908h3M753 772h3M575 943h3M578 841h3M566 967h3M537 912h3M658 943h3M575 907h3M545 888h3M633 959h3M678 991h3M691 930h3M544 912h3M595 990h3M555 875h3M569 947h3M575 897h3M558 985h3M687 915h3M653 950h3M771 891h3M542 989h3M548 963h3M580 967h3M558 831h3M595 903h3M606 831h3M552 924h3M698 954h3M590 957h3M564 945h3M543 888h3M538 981h3M554 869h3M651 939h3M592 891h3M574 910h3M663 950h3M638 949h3M586 888h3M634 940h3M593 899h3M669 979h3M554 900h3M552 902h3M721 930h3M587 803h3M554 875h3M630 946h3M570 962h3M599 901h3M692 967h3M653 810h3M693 906h3M566 888h3M560 933h3M597 887h3M577 935h3M595 915h3M622 944h3M583 924h3M596 937h3M574 995h3M573 875h3M565 848h3M613 970h3M645 937h3M551 901h3M572 865h3M552 981h3M600 802h3M583 917h3M640 959h3M575 881h3M621 869h3M561 968h3M570 966h3M592 792h3M572 908h3M673 951h3M538 903h3M569 900h3M556 991h3M561 964h3M628 812h3M574 981h3M612 960h3M540 925h3M571 908h3M720 922h3M542 797h3M576 967h3M553 884h3M568 880h3M629 932h3M568 918h3M567 897h3M606 871h3M540 922h3M725 803h3M649 950h3M762 940h3M732 927h3M553 822h3M548 963h3M644 972h3M615 928h3M680 934h3M562 884h3M621 977h3M584 973h3M568 918h3M622 951h3M689 962h3M560 988h3M552 850h3M596 848h3M635 789h3M544 983h3M589 965h3M595 949h3" stroke="#000" stroke-opacity="0.3" stroke-width="3" fill="none"/>
</g></g>
<g><g transform="scale(0.5)">
<path d="M430 1188h3M206 1255h3M382 1199h3M263 1210h3M185 1249h3M246 1216h3M413 1223h3M362 1200h3M410 1195h3M207 1304h3M217 1261h3M420 1189h3M390 1186h3M248 1257h3M261 1237h3M352 1182h3M342 1173h3M255 1183h3M206 1263h3M230 1254h3M224 1252h3M356 1180h3M309 1202h3M189 1237h3M395 1208h3M225 1264h3M292 1169h3M306 1141h3M292 1243h3M291 1170h3M418 1174h3M218 1241h3M412 1195h3M265 1242h3M308 1174h3M220 1259h3M434 1184h3M271 1193h3M258 1257h3M432 1193h3M217 1180h3M225 1195h3M385 1174h3M297 1209h3M241 1223h3M303 1244h3M386 1170h3M246 1222h3M273 1186h3M300 1219h3M168 1276h3M258 1227h3M410 1183h3M246 1229h3M240 1254h3M405 1208h3M312 1212h3M410 1179h3M265 1232h3M356 1186h3M395 1188h3M290 1195h3M273 1166h3M249 1249h3M238 1220h3M404 1200h3M411 1182h3M274 1246h3M215 1283h3M245 1243h3M221 1248h3M221 1256h3M237 1222h3M413 1186h3M425 1173h3M419 1177h3M254 1218h3M426 1179h3M420 1185h3M427 1189h3M265 1223h3M265 1244h3M209 1286h3M263 1286h3M391 1187h3M260 1220h3M381 1187h3M260 1263h3M401 1175h3M421 1194h3M247 1243h3M175 1259h3M300 1208h3M267 1186h3M407 1193h3M292 1216h3M270 1171h3M417 1200h3M288 1238h3M296 1179h3M436 1220h3M417 1188h3M195 1291h3M409 1203h3M352 1180h3M411 1195h3M400 1212h3M221 1196h3M271 1225h3M396 1157h3M236 1228h3M427 1183h3M194 1237h3M259 1226h3M220 1274h3M426 1187h3M239 1274h3M247 1185h3M342 1183h3M271 1210h3M268 1175h3M243 1276h3M223 1260h3M268 1217h3M284 1213h3M250 1243h3M420 1207h3M390 1197h3M322 1172h3M245 1269h3M238 1206h3M421 1199h3M391 1175h3M409 1182h3M294 1186h3M246 1236h3M408 1200h3M292 1174h3M352 1184h3M396 1163h3M261 1199h3M420 1186h3M211 1261h3M412 1204h3M407 1202h3M406 1189h3M292 1249h3M306 1240h3M405 1187h3M276 1217h3M416 1198h3M321 1183h3M414 1169h3M204 1269h3M298 1235h3M219 1279h3M304 1197h3M266 1239h3M262 1192h3M295 1178h3M333 1193h3M300 1193h3M385 1157h3M414 1184h3M248 1184h3M295 1181h3M396 1191h3M375 1171h3M224 1192h3M217 1286h3M401 1215h3M394 1221h3M229 1249h3M411 1181h3M351 1181h3M233 1240h3M409 1159h3M278 1163h3M426 1191h3M291 1204h3M398 1208h3M197 1245h3M268 1272h3M420 1181h3M186 1265h3M273 1208h3M234 1238h3M242 1247h3M393 1216h3M359 1216h3M183 1246h3M409 1179h3M219 1168h3M283 1183h3M409 1187h3M421 1173h3M223 1269h3M196 1218h3M247 1266h3M267 1188h3M405 1195h3M397 1225h3M401 1194h3M252 1209h3M240 1261h3M278 1202h3M198 1238h3M205 1261h3M260 1166h3M292 1212h3M276 1264h3M273 1247h3M420 1173h3M408 1196h3M425 1197h3M399 1192h3M306 1207h3M252 1286h3M238 1254h3M283 1200h3M288 1224h3M378 1199h3M283 1169h3M403 1201h3M258 1192h3M226 1239h3M286 1184h3M295 1173h3M176 1284h3M233 1185h3M412 1199h3M372 1186h3M229 1277h3M304 1241h3M303 1181h3M419 1182h3M398 1203h3M409 1187h3M284 1204h3M331 1184h3M233 1237h3M423 1204h3M308 1207h3M345 1236h3M235 1237h3M245 1182h3M226 1282h3M415 1201h3M170 1297h3M239 1252h3M217 1277h3M235 1193h3M425 1169h3M318 1183h3M247 1182h3M424 1186h3M389 1169h3M243 1277h3M247 1255h3M236 1177h3M432 1209h3M371 1177h3M425 1200h3M411 1193h3M404 1178h3M419 1193h3M405 1183h3M372 1178h3M241 1269h3M286 1215h3M368 1178h3M295 1176h3M302 1222h3M273 1165h3M285 1225h3M426 1224h3M341 1199h3M230 1183h3M307 1184h3M424 1198h3M416 1187h3M372 1179h3M207 1238h3M275 1207h3M285 1179h3M428 1196h3M183 1149h3M405 1212h3M412 1191h3M210 1250h3M359 1172h3M215 1230h3M246 1184h3M256 1180h3M322 1177h3M316 1211h3M297 1191h3M408 1289h3M427 1178h3M304 1191h3M257 1286h3M404 1189h3M220 1221h3M306 1173h3M318 1171h3M244 1261h3M221 1252h3M304 1194h3M252 1253h3M259 1190h3M388 1167h3M279 1195h3M203 1261h3M423 1199h3M264 1173h3M419 1197h3M195 1252h3M419 1143h3M387 1185h3M241 1202h3M434 1181h3M245 1220h3M285 1218h3M221 1228h3M241 1270h3M420 1180h3M340 1182h3M301 1189h3M208 1262h3M394 1184h3M214 1234h3M287 1264h3M223 1246h3M249 1241h3M278 1189h3M218 1276h3M206 1272h3M366 1176h3M397 1219h3M413 1189h3M322 1183h3M417 1197h3M419 1190h3M249 1293h3M213 1276h3M410 1190h3M408 1213h3M410 1185h3M415 1202h3M304 1193h3M424 1197h3M405 1186h3M238 1276h3M429 1187h3M319 1216h3M266 1289h3M246 1305h3M256 1282h3M221 1208h3M308 1172h3M202 1215h3M338 1181h3M245 1192h3M414 1180h3M424 1213h3M391 1182h3M213 1246h3M281 1154h3M249 1187h3M405 1205h3M394 1183h3M294 1163h3M426 1190h3M223 1238h3M415 1197h3M255 1230h3M183 1142h3M390 1179h3M171 1232h3M227 1277h3M349 1254h3M298 1199h3M244 1169h3M235 1181h3M252 1225h3M407 1200h3M405 1180h3M410 1198h3M394 1189h3M430 1173h3M261 1187h3M306 1258h3M406 1191h3M347 1180h3M265 1257h3M408 1210h3M230 1282h3M259 1184h3M259 1209h3M382 1169h3M401 1188h3M273 1209h3M308 1234h3M243 1224h3M394 1220h3M243 1224h3M396 1169h3M206 1286h3M299 1182h3M421 1207h3M402 1190h3M283 1221h3M402 1206h3M241 1202h3M214 1280h3M415 1218h3M205 1274h3M334 1195h3M323 1177h3M250 1185h3M414 1189h3M324 1188h3M410 1213h3M289 1181h3M392 1193h3M316 1249h3M317 1188h3M403 1223h3M414 1211h3M282 1217h3M379 1202h3M416 1195h3M414 1180h3M258 1177h3M341 1161h3M406 1196h3M268 1281h3M185 1256h3M319 1161h3M275 1199h3M257 1233h3M269 1264h3M303 1193h3M411 1201h3M411 1206h3M229 1229h3M424 1191h3M428 1192h3M425 1221h3M301 1183h3M408 1213h3M279 1232h3M253 1189h3M412 1218h3M373 1174h3M244 1180h3M204 1244h3M224 1176h3M256 1175h3M274 1209h3M422 1176h3M411 1163h3M399 1196h3M291 1190h3M402 1182h3M276 1196h3M222 1292h3M404 1195h3M260 1219h3M332 1185h3M308 1233h3M355 1172h3M267 1183h3M180 1300h3M236 1272h3M434 1215h3M248 1260h3M259 1203h3M198 1256h3M331 1163h3M244 1254h3M267 1232h3M174 1315h3M311 1220h3M406 1186h3M245 1180h3M423 1192h3M407 1195h3M339 1185h3M244 1187h3M329 1176h3M236 1229h3M396 1177h3M412 1204h3M189 1207h3M400 1204h3M213 1298h3M268 1211h3M260 1217h3M266 1224h3M255 1243h3M321 1191h3M225 1158h3M376 1190h3M433 1206h3M410 1194h3M211 1297h3M202 1195h3M336 1194h3M232 1278h3M285 1182h3M423 1201h3M252 1293h3M233 1267h3M248 1242h3M415 1170h3M264 1276h3M397 1199h3M234 1209h3M378 1185h3M251 1224h3M404 1195h3M383 1166h3M396 1254h3M206 1230h3M298 1247h3M268 1230h3M259 1232h3M251 1176h3M428 1185h3M402 1191h3M438 1175h3M424 1175h3M414 1173h3M284 1261h3M226 1243h3M358 1095h3M391 1166h3M266 1196h3M257 1261h3M296 1195h3M448 1201h3M331 1213h3M314 1192h3M419 1196h3M380 1196h3M422 1185h3M207 1261h3M404 1203h3M260 1253h3M246 1204h3M270 1225h3M250 1193h3M330 1184h3M233 1288h3M396 1171h3M289 1181h3M406 1186h3M260 1215h3M246 1211h3M251 1237h3M411 1173h3M288 1219h3M278 1180h3M227 1237h3M311 1204h3M213 1249h3M413 1166h3M405 1194h3M269 1224h3M279 1212h3M389 1218h3M297 1179h3M237 1265h3M249 1183h3M379 1175h3M258 1265h3M249 1260h3M389 1203h3M409 1206h3M213 1249h3M243 1288h3M420 1201h3M298 1207h3M423 1199h3M412 1198h3M315 1183h3M258 1202h3M246 1287h3M380 1168h3M418 1190h3M393 1168h3M261 1265h3M423 1208h3M286 1224h3M422 1206h3M231 1249h3M395 1183h3M335 1181h3M245 1259h3M355 1184h3M232 1247h3M195 1229h3M209 1283h3M310 1183h3M318 1172h3M259 1220h3M374 1178h3M316 1180h3M402 1201h3M284 1185h3M234 1163h3M348 1185h3M419 1189h3M394 1208h3M212 1293h3M413 1206h3M265 1284h3M234 1229h3M395 1195h3M334 1257h3M346 1173h3M274 1236h3M377 1172h3M310 1182h3M321 1187h3M430 1206h3M242 1228h3M425 1218h3M268 1200h3M409 1207h3M194 1250h3M231 1161h3M252 1251h3M286 1213h3M402 1193h3M424 1194h3M332 1173h3M224 1300h3M218 1272h3M245 1288h3M204 1254h3M368 1163h3M420 1194h3M403 1189h3M272 1241h3M319 1172h3M414 1196h3M240 1208h3M416 1222h3M250 1185h3M238 1265h3M266 1213h3M392 1200h3M219 1208h3M400 1168h3M414 1216h3M243 1222h3M392 1185h3M268 1232h3M222 1231h3M362 1189h3M332 1163h3M406 1179h3M292 1210h3M274 1184h3M311 1189h3M251 1236h3M431 1178h3M260 1174h3M417 1191h3M243 1231h3M232 1190h3M195 1246h3M300 1189h3M349 1189h3M417 1190h3M423 1185h3M405 1200h3M257 1294h3M412 1200h3M326 1143h3M247 1223h3M282 1186h3M430 1191h3M298 1185h3M296 1217h3M253 1255h3M426 1177h3M237 1250h3M277 1213h3M238 1188h3M232 1257h3M255 1214h3M302 1252h3M240 1167h3M268 1234h3M401 1193h3M275 1177h3M414 1199h3M356 1175h3M392 1158h3M238 1223h3M244 1248h3M235 1238h3M270 1288h3M306 1205h3M435 1187h3M408 1205h3M274 1249h3M412 1193h3M272 1247h3M406 1189h3M318 1175h3M224 1216h3M269 1182h3M247 1283h3M402 1191h3M270 1185h3M421 1187h3M387 1199h3M208 1270h3M435 1206h3M226 1224h3M287 1205h3M209 1177h3M413 1196h3M207 1277h3M288 1205h3M431 1204h3M239 1248h3M411 1181h3M440 1224h3M281 1168h3M209 1266h3M314 1179h3M207 1251h3M203 1280h3M221 1217h3M247 1196h3M272 1207h3M306 1179h3M301 1178h3M277 1220h3M408 1194h3M229 1236h3M419 1186h3M415 1201h3M242 1255h3M428 1178h3M212 1224h3M407 1191h3M268 1234h3M408 1208h3M265 1226h3M204 1221h3M431 1182h3M417 1199h3M419 1172h3M332 1164h3M394 1171h3M318 1221h3M221 1239h3M252 1252h3M275 1202h3M406 1205h3M317 1194h3M239 1268h3M242 1277h3M306 1182h3M260 1246h3M419 1201h3M228 1232h3M254 1209h3M255 1187h3M169 1263h3M257 1288h3M417 1190h3M228 1181h3M228 1286h3M367 1182h3M230 1194h3M418 1197h3M283 1246h3M288 1216h3M234 1255h3M259 1267h3M259 1209h3M241 1277h3M417 1175h3M269 1197h3M301 1194h3M291 1227h3M173 1286h3M256 1237h3M241 1242h3M373 1191h3M353 1184h3M261 1251h3M224 1275h3M230 1233h3M261 1239h3M243 1254h3M265 1273h3M244 1178h3M231 1259h3M403 1204h3M214 1258h3M418 1185h3M404 1205h3M262 1254h3M381 1175h3M278 1193h3M338 1182h3M244 1207h3M289 1186h3M250 1171h3M250 1178h3M253 1248h3M185 1256h3M196 1226h3M232 1261h3M364 1192h3M207 1277h3M218 1254h3M296 1197h3M273 1178h3M402 1191h3M251 1242h3M273 1210h3M235 1241h3M425 1184h3M254 1237h3M395 1182h3M448 1181h3M235 1187h3M428 1172h3M328 1197h3M243 1192h3M412 1182h3M414 1207h3M287 1270h3M247 1250h3M361 1182h3M404 1199h3M246 1264h3M268 1213h3M236 1223h3M176 1273h3M230 1252h3M329 1170h3M256 1279h3M277 1174h3M232 1233h3M236 1254h3M407 1183h3M416 1187h3M199 1269h3M401 1221h3M351 1176h3M277 1222h3M261 1246h3M289 1234h3M264 1251h3M224 1292h3M272 1182h3M404 1190h3M347 1189h3M218 1183h3M241 1244h3M264 1177h3M384 1168h3M394 1172h3M406 1187h3M417 1202h3M213 1289h3M318 1211h3M296 1159h3M241 1226h3M229 1268h3M258 1231h3M386 1214h3M406 1196h3M235 1244h3M252 1211h3M383 1208h3M355 1166h3M409 1191h3M253 1249h3M425 1183h3M265 1262h3M248 1174h3M239 1214h3M364 1182h3M199 1273h3M163 1241h3M253 1262h3M384 1187h3M230 1227h3M231 1301h3M295 1204h3M416 1193h3M205 1254h3M285 1179h3M385 1168h3M384 1173h3M289 1190h3M400 1185h3M246 1258h3M258 1208h3M237 1179h3M403 1184h3M404 1192h3M401 1180h3M239 1282h3M254 1257h3M306 1171h3M264 1177h3M425 1183h3M420 1171h3M426 1185h3M255 1224h3M161 1271h3M190 1256h3M412 1190h3M251 1242h3M389 1183h3M207 1251h3M231 1171h3M333 1187h3M420 1191h3M247 1235h3M410 1182h3M383 1218h3M249 1237h3M188 1215h3M331 1196h3M233 1236h3M290 1183h3M395 1185h3M294 1229h3M275 1224h3M418 1176h3M404 1200h3M430 1192h3M170 1263h3M394 1205h3M415 1214h3M316 1176h3M368 1164h3M246 1248h3M421 1181h3M431 1189h3M253 1262h3M409 1189h3M256 1222h3M433 1215h3M416 1179h3M419 1192h3M386 1188h3M251 1212h3M415 1214h3M265 1227h3M353 1184h3M236 1247h3M423 1185h3M252 1223h3M260 1174h3M280 1216h3M428 1185h3M258 1251h3M229 1230h3M267 1299h3M292 1185h3M423 1193h3M306 1165h3M290 1218h3M308 1183h3M227 1242h3M203 1222h3M251 1226h3M263 1224h3M403 1189h3M425 1183h3M180 1214h3M429 1198h3M253 1216h3M271 1247h3M388 1194h3M236 1277h3M253 1202h3M256 1210h3M184 1308h3M228 1180h3M259 1212h3M411 1218h3M303 1232h3M385 1209h3M432 1177h3M229 1243h3M411 1161h3M402 1204h3M398 1169h3M216 1247h3M265 1201h3M205 1251h3M225 1202h3M245 1258h3M216 1232h3M276 1149h3M410 1173h3M268 1224h3M407 1152h3M295 1220h3M185 1250h3M210 1270h3M411 1194h3M423 1188h3M217 1273h3M387 1182h3M410 1182h3M203 1281h3M278 1220h3M425 1206h3M269 1188h3M291 1203h3M328 1180h3M398 1170h3M415 1188h3M301 1176h3M276 1254h3M322 1199h3M228 1248h3M268 1192h3M370 1184h3M414 1181h3M414 1220h3M255 1206h3M407 1184h3M413 1177h3M221 1211h3M424 1181h3M232 1256h3M246 1271h3M344 1180h3M314 1199h3M226 1229h3M265 1246h3M387 1186h3M436 1192h3M273 1187h3M270 1175h3M367 1182h3M245 1214h3M223 1286h3M411 1177h3M282 1283h3M279 1206h3M411 1218h3" stroke="#000" stroke-opacity="0.5" stroke-width="3" fill="none"/>
<path d="M296 1205h3M230 1188h3M220 1239h3M418 1171h3M425 1198h3M198 1270h3M259 1271h3M392 1158h3M290 1187h3M274 1235h3M419 1212h3M264 1235h3M344 1194h3M412 1196h3M273 1190h3M302 1201h3M284 1257h3M330 1184h3M297 1214h3M222 1187h3M288 1199h3M181 1290h3M416 1180h3M262 1288h3M267 1205h3M238 1221h3M370 1181h3M270 1212h3M292 1263h3M404 1210h3M253 1192h3M301 1199h3M229 1230h3M287 1257h3M409 1214h3M210 1253h3M396 1189h3M341 1180h3M408 1199h3M269 1260h3M195 1237h3M249 1263h3M273 1225h3M391 1195h3M401 1186h3M204 1249h3M415 1195h3M168 1286h3M414 1170h3M183 1295h3M384 1202h3M417 1187h3M234 1245h3M215 1263h3M253 1238h3M416 1216h3M286 1200h3M284 1176h3M252 1220h3M245 1241h3M236 1212h3M252 1192h3M405 1194h3M185 1246h3M261 1256h3M318 1179h3M310 1170h3M434 1180h3M204 1297h3M295 1195h3M232 1278h3M238 1278h3M430 1194h3M261 1238h3M235 1257h3M275 1188h3M423 1190h3M401 1179h3M234 1303h3M300 1204h3M254 1230h3M398 1165h3M295 1229h3M196 1274h3M250 1243h3M274 1263h3M188 1295h3M434 1186h3M236 1220h3M382 1236h3M414 1192h3M386 1193h3M239 1262h3M245 1176h3M414 1188h3M399 1196h3M198 1280h3M351 1182h3M300 1210h3M223 1267h3M393 1180h3M241 1264h3M272 1196h3M257 1228h3M247 1248h3M413 1193h3M235 1255h3M312 1177h3M264 1241h3M391 1197h3M391 1192h3M267 1263h3M415 1216h3M199 1281h3M355 1293h3M295 1207h3M254 1247h3M247 1226h3M239 1167h3M333 1189h3M273 1214h3M209 1285h3M215 1298h3M173 1293h3M233 1189h3M417 1207h3M258 1226h3M393 1172h3M395 1170h3M206 1279h3M323 1171h3M252 1246h3M274 1189h3M210 1247h3M274 1221h3M281 1238h3M426 1192h3M385 1194h3M293 1164h3M215 1233h3M232 1184h3M261 1165h3M395 1164h3M257 1294h3M396 1178h3M280 1206h3M398 1190h3M413 1182h3M418 1201h3M209 1230h3M287 1254h3M194 1239h3M417 1234h3M327 1182h3M307 1178h3M287 1233h3M419 1197h3M233 1249h3M401 1202h3M316 1185h3M215 1277h3M252 1173h3M392 1204h3M398 1196h3M293 1179h3M289 1192h3M431 1198h3M291 1193h3M370 1176h3M264 1217h3M193 1279h3M279 1268h3M243 1176h3M255 1178h3M272 1212h3M422 1202h3M288 1193h3M221 1264h3M355 1160h3M328 1204h3M414 1170h3M262 1239h3M405 1199h3M322 1187h3M228 1220h3M251 1235h3M230 1194h3M291 1207h3M402 1162h3M244 1234h3M220 1288h3M265 1187h3M410 1183h3M233 1225h3M409 1194h3M286 1199h3M241 1178h3M399 1202h3M388 1201h3M306 1179h3M421 1167h3M420 1187h3M412 1196h3M236 1196h3M313 1193h3M419 1195h3M353 1189h3M430 1204h3M408 1170h3M296 1166h3M243 1196h3M411 1205h3M225 1172h3M183 1313h3M420 1196h3M251 1215h3M419 1212h3M380 1181h3M254 1239h3M242 1243h3M440 1167h3M393 1168h3M376 1167h3M419 1200h3M416 1192h3M258 1237h3M416 1191h3M410 1192h3M269 1198h3M276 1184h3M356 1163h3M288 1172h3M336 1298h3M203 1306h3M420 1208h3M251 1224h3M414 1204h3M403 1191h3M309 1171h3M237 1239h3M275 1222h3M382 1181h3M414 1167h3M400 1201h3M177 1108h3M261 1222h3M235 1234h3M231 1263h3M410 1186h3M266 1227h3M269 1186h3M274 1205h3M415 1199h3M336 1173h3M244 1250h3M293 1189h3M242 1246h3M190 1241h3M229 1252h3M266 1195h3M385 1179h3M236 1232h3M407 1189h3M230 1227h3M195 1298h3M237 1266h3M385 1209h3M296 1202h3M237 1243h3M253 1272h3M411 1199h3M249 1187h3M293 1197h3M224 1251h3M421 1202h3M287 1174h3M380 1173h3M404 1198h3M281 1200h3M396 1204h3M268 1233h3M283 1216h3M418 1191h3M240 1262h3M417 1186h3M213 1260h3M283 1232h3M214 1262h3M271 1252h3M332 1180h3M302 1169h3M184 1153h3M302 1220h3M183 1296h3M231 1234h3M250 1167h3M256 1270h3M407 1191h3M362 1185h3M403 1195h3M264 1221h3M289 1189h3M422 1191h3M295 1254h3M223 1242h3M245 1243h3M263 1270h3M256 1238h3M233 1277h3M199 1301h3M277 1249h3M203 1256h3M181 1244h3M234 1265h3M262 1177h3M271 1210h3M245 1216h3M233 1244h3M273 1184h3M217 1218h3M240 1180h3M411 1197h3M203 1248h3M308 1212h3M415 1182h3M257 1197h3M414 1191h3M392 1178h3M312 1232h3M234 1275h3M228 1243h3M233 1266h3M434 1198h3M419 1184h3M360 1169h3M280 1162h3M229 1212h3M280 1213h3M294 1217h3M308 1178h3M309 1242h3M291 1189h3M422 1200h3M241 1258h3M269 1195h3M425 1201h3M414 1192h3M228 1252h3M258 1216h3M416 1197h3M244 1249h3M405 1185h3M266 1253h3M225 1284h3M239 1177h3M236 1188h3M320 1210h3M280 1190h3M402 1172h3M240 1260h3M410 1194h3M303 1206h3M256 1182h3M409 1192h3M218 1258h3M250 1201h3M243 1253h3M304 1205h3M411 1197h3M238 1263h3M410 1208h3M412 1200h3M265 1312h3M435 1198h3M417 1194h3M290 1195h3M293 1245h3M349 1193h3M325 1210h3M250 1240h3M387 1177h3M233 1237h3M283 1172h3M275 1195h3M258 1246h3M402 1166h3M279 1240h3M412 1203h3M263 1265h3M243 1279h3M227 1249h3M335 1179h3M303 1184h3M397 1189h3M405 1206h3M317 1180h3M230 1245h3M219 1276h3M397 1194h3M413 1197h3M259 1247h3M411 1186h3M259 1241h3M242 1265h3M200 1263h3M216 1252h3M418 1189h3M231 1274h3M402 1197h3M414 1184h3M341 1163h3M408 1218h3M308 1193h3M411 1182h3M310 1176h3M257 1223h3M268 1244h3M418 1208h3M268 1220h3M410 1160h3M303 1201h3M406 1188h3M415 1191h3M240 1217h3M226 1278h3M259 1283h3M307 1247h3M281 1225h3M270 1218h3M423 1176h3M335 1195h3M403 1195h3M233 1251h3M248 1181h3M221 1252h3M221 1273h3M414 1187h3M395 1205h3M408 1185h3M200 1309h3M258 1266h3M264 1263h3M252 1186h3M265 1181h3M222 1229h3M426 1163h3M409 1210h3M234 1228h3M271 1243h3M226 1173h3M251 1217h3M267 1203h3M419 1188h3M298 1176h3M398 1184h3M326 1178h3M236 1161h3M296 1238h3M394 1185h3M236 1296h3M284 1256h3M281 1172h3M263 1243h3M262 1176h3M262 1272h3M215 1236h3M249 1191h3M279 1212h3M428 1189h3M235 1237h3M375 1179h3M305 1201h3M272 1229h3M272 1176h3M289 1192h3M399 1187h3M209 1248h3M335 1176h3M394 1185h3M409 1214h3M211 1265h3M285 1168h3M426 1204h3M306 1174h3M393 1212h3M258 1226h3M280 1180h3M202 1283h3M405 1176h3M248 1195h3M301 1158h3M415 1219h3M392 1182h3M411 1203h3M177 1283h3M242 1274h3M217 1193h3M301 1207h3M387 1187h3M295 1190h3M424 1205h3M298 1159h3M413 1174h3M273 1186h3M229 1261h3M263 1222h3M241 1227h3M395 1178h3M225 1288h3M243 1251h3M349 1175h3M273 1220h3M363 1186h3M390 1184h3M261 1182h3M244 1284h3M165 1273h3M321 1186h3M409 1170h3M396 1177h3M297 1199h3M410 1200h3M246 1257h3M250 1191h3M207 1221h3M272 1222h3M416 1208h3M305 1192h3M407 1221h3M403 1187h3M205 1304h3M243 1190h3M424 1205h3M277 1181h3M417 1184h3M258 1240h3M252 1222h3M301 1150h3M413 1202h3M275 1234h3M255 1222h3M220 1224h3M232 1293h3M249 1163h3M383 1178h3M247 1292h3M229 1234h3M262 1252h3M428 1158h3M279 1219h3M415 1183h3M249 1221h3M350 1187h3M284 1176h3M257 1281h3M218 1281h3M274 1222h3M421 1194h3M281 1240h3M431 1213h3M257 1203h3M405 1199h3M274 1254h3M224 1253h3M289 1204h3M378 1188h3M410 1191h3M286 1201h3M277 1264h3M418 1185h3M181 1249h3M242 1227h3M272 1250h3M393 1186h3M217 1252h3M338 1175h3M385 1173h3M406 1169h3M277 1230h3M274 1216h3M228 1185h3M360 1175h3M241 1251h3M397 1201h3M258 1242h3M416 1211h3M256 1187h3M417 1202h3M229 1274h3M403 1186h3M248 1195h3M416 1185h3M328 1174h3M189 1300h3M339 1180h3M235 1238h3M410 1190h3M265 1194h3M287 1224h3M396 1185h3M444 1195h3M334 1170h3M310 1255h3M217 1263h3M289 1196h3M234 1189h3M286 1164h3M268 1213h3M414 1193h3M309 1185h3M284 1184h3M426 1189h3M328 1192h3M422 1212h3M408 1212h3M186 1315h3M403 1172h3M355 1186h3M259 1254h3M313 1170h3M424 1194h3M411 1201h3M294 1164h3M418 1214h3M215 1257h3M417 1166h3M421 1186h3M398 1209h3M200 1229h3M294 1223h3M409 1203h3M423 1194h3M309 1159h3M248 1164h3M422 1195h3M267 1201h3M305 1195h3M222 1277h3M305 1179h3M284 1237h3M406 1203h3M418 1178h3M420 1192h3M200 1282h3M244 1276h3M404 1187h3M308 1167h3M391 1306h3M409 1205h3M301 1187h3M329 1189h3M281 1215h3M297 1216h3M289 1220h3M277 1193h3M410 1183h3M251 1254h3M292 1216h3M403 1192h3M274 1234h3M406 1194h3M418 1188h3M240 1206h3M229 1250h3M378 1170h3M408 1205h3M233 1197h3M308 1189h3M403 1187h3M409 1182h3M234 1257h3M301 1195h3M208 1254h3M248 1202h3M397 1206h3M311 1181h3M261 1193h3M261 1233h3M243 1270h3M410 1196h3M242 1215h3M180 1253h3M260 1231h3M254 1208h3M220 1239h3M275 1227h3M338 1187h3M417 1183h3M421 1227h3M404 1190h3M286 1218h3M262 1206h3M255 1219h3M407 1195h3M278 1195h3M267 1177h3M283 1200h3M231 1207h3M411 1218h3M443 1267h3M205 1277h3M273 1230h3M350 1188h3M422 1188h3M420 1173h3M369 1199h3M288 1177h3M234 1258h3M416 1190h3M386 1183h3M396 1170h3M221 1233h3M378 1173h3M410 1216h3M409 1197h3M250 1185h3M433 1196h3M272 1175h3M408 1193h3M312 1192h3M246 1253h3M315 1216h3M308 1179h3M262 1239h3M247 1270h3M249 1225h3M205 1213h3M238 1217h3M288 1179h3M244 1195h3M239 1249h3M305 1176h3M416 1197h3M251 1258h3M303 1203h3M231 1256h3M334 1206h3M292 1182h3M404 1182h3M404 1206h3M208 1264h3M290 1206h3M337 1196h3M292 1177h3M272 1239h3M298 1239h3M211 1209h3M306 1182h3M394 1216h3M318 1209h3M293 1186h3M396 1183h3M369 1240h3M258 1187h3M404 1190h3M267 1174h3M191 1269h3M255 1170h3M254 1242h3M262 1234h3M253 1192h3M251 1188h3M225 1270h3M410 1202h3M405 1203h3M211 1255h3M400 1183h3M403 1163h3M225 1247h3M242 1240h3M431 1185h3M411 1191h3M227 1206h3M434 1251h3M235 1174h3M281 1163h3M403 1175h3M297 1175h3M252 1262h3M424 1202h3M426 1209h3M223 1272h3M324 1176h3M273 1232h3M296 1197h3M248 1218h3M235 1182h3M248 1304h3M236 1290h3M296 1184h3M302 1213h3M257 1231h3M395 1192h3M417 1182h3M317 1166h3M264 1175h3M345 1174h3M206 1275h3M423 1194h3M388 1185h3M418 1183h3M227 1254h3M253 1225h3M424 1207h3M237 1263h3M310 1189h3M415 1210h3M378 1193h3M366 1175h3M304 1278h3M295 1201h3M383 1167h3M269 1233h3M239 1191h3M396 1189h3M272 1255h3M235 1300h3M348 1177h3M261 1239h3M198 1258h3M255 1221h3M412 1201h3M347 1183h3M260 1263h3M402 1164h3M166 1242h3M275 1272h3M285 1235h3M287 1234h3M252 1182h3M261 1221h3M414 1211h3M249 1186h3M386 1176h3M265 1185h3M415 1207h3M276 1218h3M438 1188h3M406 1188h3M290 1273h3M402 1196h3M236 1191h3M242 1290h3M261 1256h3M431 1176h3M252 1284h3M305 1186h3M335 1167h3M266 1189h3M413 1185h3M290 1213h3M258 1239h3M279 1231h3M319 1179h3M294 1246h3M273 1180h3M407 1184h3M411 1215h3M239 1266h3M403 1188h3M397 1197h3M405 1175h3M307 1167h3M263 1261h3M279 1259h3M251 1167h3M282 1241h3M239 1252h3M412 1211h3M300 1160h3M239 1262h3M422 1191h3M414 1169h3M256 1264h3M413 1198h3M415 1198h3M195 1247h3M377 1286h3M421 1183h3M249 1220h3M263 1185h3M416 1199h3M410 1161h3M261 1226h3M293 1163h3M408 1194h3M268 1175h3M244 1194h3M345 1183h3M245 1259h3M176 1281h3M262 1268h3M260 1241h3M409 1194h3M288 1264h3M262 1231h3M360 1166h3M424 1206h3M399 1204h3M440 1200h3M418 1192h3M302 1223h3M221 1250h3M392 1199h3M237 1265h3M203 1254h3M412 1187h3M185 1288h3M408 1198h3M294 1204h3M245 1241h3M237 1268h3M426 1204h3M234 1248h3M250 1246h3M321 1199h3M429 1177h3M409 1192h3M270 1262h3M413 1206h3M426 1184h3M269 1212h3M304 1186h3M331 1178h3M258 1170h3M429 1196h3M417 1206h3M322 1185h3M337 1177h3M241 1249h3M243 1276h3M414 1197h3M403 1201h3M406 1186h3M406 1200h3M190 1265h3M346 1174h3M212 1273h3M392 1191h3M391 1200h3M399 1201h3M409 1187h3M238 1252h3M315 1164h3M213 1258h3M240 1248h3M406 1197h3M239 1272h3M226 1246h3M327 1181h3M268 1239h3M324 1178h3M233 1172h3M250 1225h3M259 1255h3M425 1173h3M256 1241h3M396 1175h3M164 1281h3M258 1176h3M215 1263h3M419 1171h3M399 1220h3M237 1243h3M248 1183h3M400 1216h3M411 1207h3M284 1243h3M236 1180h3M239 1256h3M228 1294h3M197 1273h3M277 1226h3M411 1221h3M398 1202h3M414 1209h3M244 1195h3M293 1202h3M420 1181h3M221 1250h3M221 1211h3M163 1254h3M278 1176h3M251 1166h3M242 1217h3M310 1200h3M281 1209h3M391 1164h3M310 1223h3M220 1233h3M244 1264h3M291 1217h3M267 1192h3M405 1177h3M420 1192h3M268 1221h3M262 1178h3M264 1193h3M424 1301h3M191 1251h3M304 1186h3M405 1189h3M303 1169h3M187 1284h3M405 1190h3M425 1181h3M258 1251h3M203 1292h3M212 1223h3M412 1198h3M255 1246h3M273 1200h3M411 1195h3M315 1220h3M413 1208h3M219 1211h3M425 1210h3M414 1184h3M379 1206h3M235 1289h3M304 1220h3M200 1282h3M244 1214h3M410 1207h3M321 1168h3M417 1208h3M215 1249h3M256 1255h3M415 1180h3M269 1256h3M275 1171h3M284 1253h3M417 1170h3M304 1222h3M273 1171h3M245 1180h3M222 1229h3M282 1173h3M396 1197h3M218 1276h3M235 1233h3M338 1188h3M417 1195h3M246 1184h3M420 1194h3M411 1193h3M395 1198h3M292 1213h3M412 1188h3M402 1192h3M241 1200h3M252 1248h3M269 1236h3M217 1271h3M224 1208h3M343 1179h3M337 1188h3M381 1188h3" stroke="#000" stroke-opacity="0.5" stroke-width="3" fill="none"/>
<path d="M310 1216h3M246 1181h3M396 1172h3M202 1264h3M222 1226h3M252 1255h3M434 1145h3M277 1223h3M212 1219h3M434 1185h3M237 1233h3M241 1252h3M271 1216h3M300 1188h3M272 1230h3M236 1167h3M218 1249h3M409 1202h3M219 1270h3M357 1181h3M310 1203h3M216 1253h3M277 1185h3M421 1179h3M277 1261h3M424 1197h3M238 1228h3M219 1281h3M414 1203h3M221 1298h3M407 1190h3M263 1236h3M401 1204h3M232 1222h3M371 1188h3M232 1286h3M413 1184h3M422 1201h3M423 1176h3M411 1197h3M400 1216h3M270 1264h3M423 1209h3M409 1196h3M350 1184h3M431 1189h3M252 1247h3M242 1289h3M307 1186h3M295 1185h3M406 1188h3M407 1184h3M390 1171h3M346 1192h3M401 1185h3M289 1230h3M393 1187h3M264 1194h3M228 1232h3M229 1182h3M316 1236h3M268 1223h3M433 1209h3M406 1190h3M224 1297h3M429 1196h3M206 1281h3M397 1195h3M251 1191h3M320 1190h3M317 1183h3M236 1224h3M375 1184h3M238 1263h3M410 1193h3M329 1186h3M429 1195h3M397 1185h3M414 1185h3M271 1198h3M335 1174h3M279 1219h3M291 1190h3M431 1191h3M419 1191h3M218 1245h3M259 1185h3M312 1162h3M198 1275h3M236 1239h3M264 1225h3M271 1177h3M340 1179h3M415 1188h3M258 1166h3M412 1184h3M252 1166h3M418 1216h3M299 1264h3M294 1203h3M274 1191h3M437 1170h3M271 1279h3M217 1217h3M421 1191h3M437 1172h3M192 1238h3M407 1184h3M373 1167h3M404 1189h3M252 1230h3M228 1214h3M406 1172h3M274 1206h3M302 1199h3M425 1193h3M242 1241h3M333 1184h3M414 1188h3M203 1270h3M277 1175h3M415 1209h3M214 1173h3M405 1205h3M405 1182h3M405 1160h3M292 1182h3M300 1224h3M273 1233h3M251 1266h3M246 1248h3M240 1244h3M289 1203h3M339 1194h3M283 1181h3M225 1221h3M393 1200h3M388 1178h3M237 1249h3M262 1260h3M395 1183h3M396 1183h3M200 1279h3M242 1224h3M419 1189h3M336 1222h3M258 1272h3M278 1251h3M399 1202h3M282 1183h3M276 1222h3M277 1277h3M185 1301h3M298 1219h3M262 1253h3M171 1254h3M418 1195h3M364 1179h3M412 1176h3M186 1207h3M274 1162h3M410 1194h3M262 1230h3M329 1198h3M416 1199h3M208 1254h3M420 1190h3M253 1220h3M276 1211h3M211 1284h3M265 1244h3M261 1256h3M407 1194h3M266 1184h3M272 1278h3M416 1207h3M204 1260h3M255 1270h3M236 1179h3M391 1181h3M268 1282h3M249 1282h3M263 1188h3M278 1249h3M422 1213h3M288 1181h3M269 1179h3M250 1234h3M390 1209h3M242 1258h3M235 1252h3M377 1202h3M415 1190h3M356 1171h3M227 1268h3M342 1178h3M259 1256h3M211 1266h3M256 1245h3M398 1202h3M265 1212h3M273 1282h3M332 1181h3M332 1186h3M261 1177h3M414 1186h3M222 1279h3M213 1274h3M253 1246h3M186 1233h3M237 1247h3M420 1190h3M409 1213h3M419 1180h3M395 1163h3M336 1202h3M215 1236h3M270 1177h3M261 1216h3M423 1210h3M395 1189h3M405 1197h3M243 1256h3M234 1251h3M289 1228h3M340 1183h3M328 1191h3M312 1212h3M305 1272h3M264 1237h3M420 1199h3M404 1200h3M214 1241h3M416 1208h3M403 1201h3M422 1192h3M233 1251h3M233 1258h3M425 1205h3M417 1193h3M234 1285h3M400 1203h3M254 1172h3M275 1233h3M417 1213h3M243 1236h3M263 1232h3M272 1211h3M256 1220h3M277 1233h3M422 1180h3M296 1172h3M258 1220h3M265 1204h3M288 1184h3M394 1156h3M407 1186h3M243 1182h3M341 1176h3M287 1168h3M277 1249h3M425 1200h3M186 1309h3M265 1215h3M359 1163h3M424 1196h3M394 1203h3M251 1246h3M292 1261h3M188 1274h3M301 1184h3M367 1185h3M255 1262h3M373 1194h3M407 1200h3M275 1226h3M396 1184h3M265 1274h3M275 1245h3M245 1287h3M250 1265h3M300 1180h3M407 1194h3M202 1310h3M410 1187h3M221 1185h3M234 1182h3M260 1298h3M251 1259h3M414 1188h3M303 1186h3M281 1192h3M247 1239h3M357 1172h3M439 1192h3M268 1237h3M240 1211h3M400 1181h3M401 1168h3M187 1311h3M297 1213h3M412 1193h3M405 1196h3M227 1251h3M205 1224h3M268 1217h3M213 1253h3M421 1197h3M409 1197h3M262 1243h3M262 1246h3M382 1184h3M263 1200h3M406 1194h3M407 1213h3M413 1214h3M418 1200h3M270 1265h3M413 1186h3M398 1188h3M411 1164h3M423 1199h3M413 1182h3M268 1172h3M274 1203h3M230 1241h3M245 1250h3M261 1171h3M335 1184h3M425 1181h3M416 1204h3M295 1187h3M250 1270h3M412 1206h3M419 1195h3M261 1214h3M400 1188h3M295 1231h3M243 1249h3M274 1233h3M300 1198h3M174 1277h3M310 1189h3M421 1193h3M378 1175h3M255 1264h3M429 1181h3M239 1173h3M405 1199h3M355 1176h3M311 1186h3M275 1263h3M231 1258h3M237 1249h3M379 1182h3M239 1248h3M227 1182h3M237 1261h3M224 1247h3M233 1296h3M340 1176h3M297 1222h3M287 1215h3M300 1192h3M229 1122h3M404 1199h3M429 1222h3M385 1200h3M419 1192h3M240 1291h3M406 1245h3M406 1197h3M351 1169h3M242 1261h3M395 1177h3M404 1201h3M259 1252h3M310 1190h3M409 1186h3M424 1192h3M236 1264h3M340 1173h3M388 1223h3M246 1180h3M398 1183h3M277 1239h3M221 1251h3M356 1193h3M424 1199h3M210 1233h3M293 1214h3M395 1200h3M409 1214h3M238 1214h3M271 1263h3M202 1254h3M283 1273h3M370 1189h3M418 1202h3M196 1216h3M207 1303h3M243 1219h3M293 1232h3M246 1240h3M256 1188h3M410 1187h3M243 1291h3M394 1166h3M408 1194h3M204 1246h3M232 1236h3M207 1299h3M414 1209h3M252 1261h3M200 1279h3M388 1187h3M334 1178h3M418 1200h3M248 1200h3M380 1185h3M293 1248h3M220 1275h3M256 1240h3M346 1191h3M240 1255h3M186 1255h3M244 1256h3M420 1216h3M341 1193h3M344 1175h3M320 1193h3M287 1182h3M311 1198h3M407 1201h3M253 1211h3M416 1223h3M410 1208h3M188 1230h3M418 1208h3M174 1293h3M414 1193h3M336 1167h3M264 1272h3M249 1278h3M212 1270h3M354 1183h3M401 1208h3M298 1181h3M206 1251h3M237 1267h3M225 1225h3M208 1255h3M269 1212h3M412 1181h3M401 1173h3M282 1191h3M408 1193h3M231 1279h3M278 1210h3M414 1212h3M382 1181h3M329 1195h3M236 1283h3M361 1192h3M380 1189h3M260 1204h3M202 1261h3M161 1291h3M214 1272h3M309 1198h3M329 1181h3M427 1181h3M237 1237h3M420 1202h3M225 1249h3M283 1160h3M301 1187h3M226 1280h3M424 1184h3M312 1190h3M275 1269h3M425 1165h3M218 1236h3M306 1219h3M276 1224h3M290 1216h3M408 1206h3M275 1293h3M414 1204h3M258 1190h3M418 1296h3M417 1179h3M232 1285h3M231 1236h3M249 1182h3M415 1190h3M405 1213h3M261 1275h3M432 1221h3M261 1210h3M398 1194h3M302 1175h3M253 1187h3M411 1195h3M249 1181h3M314 1195h3M231 1282h3M231 1263h3M336 1180h3M253 1227h3M224 1234h3M239 1222h3M240 1286h3M243 1301h3M414 1164h3M236 1263h3M320 1191h3M215 1251h3M270 1276h3M424 1175h3M422 1189h3M414 1197h3M306 1231h3M280 1183h3M393 1200h3M397 1197h3M290 1218h3M409 1183h3M249 1244h3M205 1257h3M424 1179h3M254 1234h3M223 1253h3M410 1199h3M253 1187h3M285 1239h3M407 1186h3M270 1267h3M273 1213h3M289 1188h3M262 1232h3M401 1170h3M264 1213h3M213 1271h3M298 1176h3M239 1295h3M236 1250h3M258 1285h3M248 1171h3M321 1187h3M232 1251h3M360 1233h3M329 1179h3M327 1192h3M273 1192h3M224 1254h3M272 1204h3M230 1250h3M187 1282h3M334 1205h3M210 1254h3M264 1179h3M237 1242h3M194 1234h3M210 1245h3M438 1215h3M422 1195h3M175 1256h3M217 1279h3M381 1168h3M308 1193h3M271 1194h3M357 1175h3M379 1171h3M408 1206h3M279 1197h3M336 1178h3M415 1191h3M198 1303h3M254 1245h3M261 1168h3M221 1181h3M401 1219h3M376 1204h3M344 1182h3M279 1206h3M246 1241h3M214 1228h3M381 1161h3M308 1209h3M268 1190h3M308 1173h3M200 1284h3M263 1248h3M423 1162h3M270 1189h3M276 1224h3M414 1186h3M272 1285h3M416 1193h3M419 1217h3M277 1267h3M396 1190h3M409 1207h3M344 1177h3M207 1264h3M235 1244h3M299 1212h3M277 1224h3M345 1278h3M340 1184h3M257 1261h3M424 1199h3M251 1224h3M199 1257h3M212 1233h3M239 1258h3M217 1262h3M195 1282h3M354 1204h3M296 1225h3M375 1188h3M240 1287h3M246 1252h3M239 1241h3M322 1194h3M241 1180h3M245 1243h3M260 1257h3M430 1204h3M365 1167h3M278 1195h3M288 1210h3M203 1303h3M416 1192h3M286 1239h3M388 1203h3M183 1289h3M250 1182h3M420 1181h3M251 1163h3M410 1207h3M426 1199h3M278 1180h3M323 1193h3M408 1220h3M200 1205h3M229 1168h3M408 1176h3M386 1195h3M424 1193h3M237 1246h3M221 1267h3M280 1165h3M222 1248h3M282 1186h3M258 1177h3M228 1268h3M246 1171h3M217 1292h3M303 1181h3M217 1215h3M233 1230h3M252 1244h3M230 1185h3M402 1188h3M200 1269h3M398 1185h3M236 1226h3M245 1239h3M401 1200h3M278 1226h3M246 1212h3M247 1257h3M385 1206h3M369 1182h3M268 1251h3M292 1179h3M270 1250h3M250 1214h3M265 1270h3M205 1239h3M220 1312h3M257 1190h3M236 1216h3M357 1183h3M275 1221h3M244 1215h3M284 1218h3M425 1191h3M271 1247h3M257 1234h3M277 1204h3M337 1173h3M263 1218h3M407 1197h3M275 1243h3M292 1170h3M427 1180h3M263 1167h3M432 1188h3M244 1174h3M426 1213h3M235 1260h3M177 1282h3M413 1189h3M259 1255h3M380 1196h3M396 1230h3M322 1186h3M200 1262h3M174 1282h3M316 1183h3M415 1194h3M190 1260h3M292 1178h3M301 1273h3M398 1176h3M248 1247h3M295 1261h3M232 1169h3M230 1271h3M248 1223h3M397 1203h3M212 1266h3M204 1249h3M216 1237h3M411 1196h3M234 1242h3M408 1204h3M374 1188h3M302 1197h3M191 1263h3M328 1174h3M187 1287h3M188 1306h3M407 1204h3M259 1204h3M389 1175h3M416 1200h3M245 1172h3M252 1180h3M313 1157h3M419 1209h3M247 1276h3M194 1227h3M285 1172h3M250 1231h3M390 1173h3M215 1219h3M305 1177h3M235 1219h3M393 1190h3M240 1231h3M233 1282h3M252 1201h3M227 1233h3M425 1195h3M243 1282h3M245 1254h3M229 1219h3M238 1276h3M347 1191h3M253 1179h3M400 1194h3M210 1214h3M236 1216h3M228 1272h3M410 1193h3M348 1161h3M242 1251h3M312 1191h3M200 1256h3M345 1191h3M260 1214h3M236 1245h3M249 1187h3M249 1179h3M221 1238h3M267 1243h3M381 1174h3M236 1227h3M314 1170h3M313 1183h3M302 1178h3M293 1194h3M404 1197h3M361 1182h3M300 1212h3M255 1229h3M420 1191h3M262 1259h3M338 1184h3M263 1255h3M417 1196h3M340 1193h3M241 1297h3M419 1218h3M275 1180h3M232 1207h3M417 1182h3M200 1255h3M229 1242h3M398 1198h3M413 1192h3M260 1245h3M401 1186h3M228 1204h3M285 1276h3M254 1224h3M336 1201h3M202 1260h3M244 1261h3M312 1184h3M253 1184h3M271 1181h3M280 1220h3M228 1212h3M181 1260h3M421 1169h3M330 1185h3M385 1166h3M417 1172h3M241 1286h3M196 1278h3M283 1210h3M399 1203h3M416 1178h3M419 1273h3M218 1261h3M292 1190h3M374 1207h3M367 1182h3M215 1249h3M404 1179h3M257 1223h3M253 1213h3M333 1172h3M348 1162h3M346 1263h3M416 1191h3M309 1178h3M407 1197h3M256 1216h3M316 1185h3M252 1174h3M234 1226h3M284 1185h3M377 1197h3M396 1188h3M416 1184h3M243 1238h3M385 1164h3M324 1189h3M183 1261h3M231 1254h3M238 1259h3M387 1182h3M286 1242h3M342 1185h3M243 1263h3M391 1185h3M218 1290h3M297 1218h3M423 1174h3M252 1250h3M285 1249h3M262 1182h3M394 1208h3M414 1205h3M250 1195h3M229 1264h3M247 1262h3M254 1249h3M253 1228h3M272 1226h3M327 1188h3M412 1205h3M162 1267h3M318 1228h3M304 1172h3M213 1267h3M348 1178h3M297 1194h3M290 1204h3M405 1220h3M298 1179h3M393 1182h3M405 1187h3M281 1270h3M231 1235h3M194 1236h3M176 1251h3M390 1221h3M236 1206h3M394 1203h3M291 1161h3M232 1201h3M419 1189h3M408 1197h3M405 1201h3M404 1200h3M411 1201h3M337 1183h3M248 1219h3M407 1195h3M268 1228h3M304 1196h3M326 1180h3M249 1178h3M391 1187h3M281 1234h3M235 1234h3M411 1198h3M263 1188h3M289 1261h3M259 1238h3M282 1172h3M232 1258h3M350 1182h3M210 1254h3M413 1191h3M372 1213h3M348 1179h3M420 1202h3M216 1259h3M418 1181h3M261 1216h3M308 1208h3M424 1188h3M256 1189h3M425 1188h3M205 1258h3M231 1258h3M418 1192h3M407 1211h3M206 1275h3M239 1226h3M265 1262h3M230 1209h3M412 1198h3M245 1250h3M238 1198h3M287 1192h3M274 1224h3M373 1197h3M227 1181h3M283 1188h3M385 1179h3M424 1192h3M416 1201h3M416 1203h3M269 1259h3M210 1244h3M413 1259h3M319 1185h3M266 1216h3M267 1277h3M416 1215h3M310 1198h3M415 1207h3M238 1226h3M272 1160h3M403 1224h3M434 1189h3M415 1189h3M218 1262h3M290 1225h3M266 1230h3M297 1198h3M267 1209h3M277 1188h3M402 1205h3M405 1204h3M277 1259h3M215 1254h3M229 1284h3M262 1212h3M331 1192h3M216 1274h3M237 1232h3M393 1185h3M267 1225h3M410 1229h3M414 1197h3M298 1177h3M423 1210h3M415 1186h3M244 1260h3M404 1199h3M345 1181h3M416 1172h3M200 1257h3M292 1194h3M256 1260h3M314 1183h3M236 1194h3M245 1249h3M268 1263h3M414 1175h3M273 1264h3M238 1270h3M426 1181h3M317 1175h3M215 1217h3M268 1185h3M216 1232h3M229 1238h3M385 1162h3M283 1255h3M435 1196h3M253 1249h3M258 1211h3M290 1200h3M274 1192h3M342 1165h3M343 1200h3M260 1265h3M383 1183h3M236 1256h3M233 1214h3M258 1191h3M254 1264h3M197 1303h3M417 1204h3M409 1192h3M251 1259h3M261 1197h3M383 1165h3M267 1282h3M435 1176h3M247 1211h3M388 1238h3M209 1250h3M292 1197h3M403 1182h3M212 1253h3M267 1248h3M262 1226h3M327 1178h3M406 1191h3M423 1167h3M286 1219h3M277 1225h3M238 1220h3M379 1180h3M409 1209h3M272 1190h3M201 1259h3M223 1223h3M225 1245h3M421 1164h3M399 1178h3M186 1171h3M205 1165h3M261 1258h3M260 1188h3M231 1270h3" stroke="#000" stroke-opacity="0.5" stroke-width="3" fill="none"/>
<path d="M407 1192h3M420 1192h3M265 1275h3M398 1183h3M407 1192h3M284 1202h3M283 1187h3M404 1184h3M402 1180h3M182 1264h3M227 1247h3M187 1266h3M242 1228h3M277 1209h3M380 1177h3M379 1176h3M201 1246h3M410 1181h3M412 1194h3M393 1175h3M184 1258h3M425 1196h3M263 1225h3M276 1211h3M408 1180h3M260 1167h3M408 1204h3M409 1196h3M307 1202h3M335 1189h3M226 1261h3M426 1213h3M252 1177h3M327 1173h3M416 1181h3M232 1171h3M413 1192h3M243 1220h3M412 1187h3M282 1241h3M215 1217h3M197 1291h3M232 1219h3M257 1243h3M316 1196h3M219 1235h3M392 1310h3M255 1256h3M267 1245h3M258 1259h3M208 1239h3M228 1218h3M258 1239h3M227 1243h3M401 1198h3M381 1180h3M265 1240h3M283 1181h3M363 1181h3M365 1165h3M418 1200h3M324 1177h3M407 1189h3M368 1156h3M414 1186h3M266 1224h3M241 1255h3M250 1211h3M419 1181h3M415 1208h3M404 1184h3M252 1226h3M232 1249h3M407 1181h3M291 1181h3M261 1286h3M175 1260h3M333 1187h3M298 1229h3M410 1203h3M261 1235h3M414 1193h3M381 1202h3M395 1176h3M266 1270h3M232 1243h3M290 1199h3M332 1226h3M282 1210h3M410 1201h3M249 1260h3M414 1186h3M204 1260h3M409 1204h3M217 1280h3M413 1177h3M377 1180h3M423 1183h3M410 1186h3M401 1179h3M250 1176h3M401 1202h3M202 1259h3M248 1218h3M270 1172h3M391 1202h3M213 1294h3M407 1201h3M293 1235h3M251 1261h3M324 1184h3M424 1184h3M417 1202h3M236 1219h3M252 1301h3M425 1174h3M303 1199h3M323 1193h3M259 1177h3M242 1275h3M363 1173h3M384 1196h3M267 1227h3M247 1179h3M320 1210h3M420 1179h3M408 1169h3M243 1263h3M223 1283h3M213 1268h3M219 1313h3M414 1198h3M301 1187h3M225 1241h3M403 1190h3M254 1239h3M417 1187h3M395 1209h3M212 1282h3M221 1248h3M391 1171h3M226 1262h3M259 1210h3M436 1183h3M419 1159h3M411 1194h3M238 1263h3M409 1206h3M198 1208h3M279 1210h3M256 1223h3M272 1215h3M295 1185h3M312 1199h3M410 1184h3M222 1250h3M395 1174h3M244 1276h3M265 1258h3M245 1283h3M246 1240h3M371 1177h3M412 1185h3M262 1265h3M247 1295h3M276 1195h3M257 1207h3M220 1215h3M417 1188h3M219 1228h3M358 1176h3M400 1201h3M422 1192h3M405 1183h3M203 1256h3M389 1170h3M419 1184h3M416 1196h3M257 1274h3M404 1178h3M343 1168h3M237 1253h3M283 1190h3M238 1181h3M249 1199h3M407 1184h3M417 1181h3M414 1210h3M317 1178h3M245 1237h3M165 1289h3M244 1276h3M296 1207h3M357 1184h3M389 1172h3M235 1214h3M275 1200h3M227 1253h3M414 1213h3M423 1172h3M406 1221h3M422 1205h3M243 1301h3M267 1242h3M277 1228h3M238 1265h3M237 1276h3M262 1212h3M221 1250h3M416 1197h3M225 1262h3M308 1214h3M403 1221h3M296 1202h3M406 1180h3M418 1190h3M251 1226h3M418 1167h3M304 1191h3M386 1200h3M410 1177h3M244 1210h3M220 1289h3M307 1182h3M418 1191h3M247 1166h3M270 1219h3M254 1258h3M265 1189h3M320 1185h3M304 1187h3M397 1177h3M273 1180h3M256 1251h3M244 1245h3M386 1217h3M258 1181h3M306 1182h3M203 1245h3M241 1212h3M415 1180h3M250 1247h3M234 1259h3M318 1171h3M411 1197h3M250 1211h3M234 1206h3M201 1239h3M417 1206h3M423 1195h3M416 1217h3M415 1228h3M423 1184h3M235 1259h3M284 1245h3M281 1208h3M415 1180h3M398 1203h3M221 1275h3M246 1254h3M226 1246h3M220 1283h3M253 1236h3M240 1239h3M252 1265h3M289 1137h3M259 1189h3M198 1293h3M197 1299h3M359 1182h3M241 1263h3M406 1222h3M275 1215h3M305 1169h3M250 1219h3M364 1195h3M283 1258h3M383 1190h3M240 1245h3M196 1261h3M406 1212h3M431 1178h3M238 1231h3M245 1264h3M215 1246h3M211 1232h3M229 1272h3M309 1176h3M313 1210h3M228 1173h3M238 1220h3M281 1194h3M415 1210h3M245 1211h3M362 1192h3M364 1187h3M216 1255h3M343 1169h3M307 1180h3M296 1196h3M264 1227h3M247 1245h3M299 1165h3M232 1191h3M338 1189h3M250 1247h3M343 1164h3M370 1169h3M404 1182h3M250 1194h3M310 1173h3M390 1198h3M416 1198h3M385 1197h3M409 1175h3M414 1199h3M408 1209h3M269 1235h3M393 1216h3M414 1204h3M361 1180h3M237 1308h3M308 1214h3M247 1177h3M246 1284h3M272 1241h3M280 1191h3M255 1222h3M249 1307h3M412 1209h3M232 1262h3M271 1185h3M259 1178h3M397 1204h3M304 1186h3M307 1190h3M298 1183h3M261 1271h3M420 1210h3M271 1245h3M341 1194h3M419 1196h3M292 1171h3M263 1192h3M180 1238h3M157 1245h3M302 1270h3M283 1296h3M405 1198h3M413 1186h3M245 1202h3M222 1239h3M403 1210h3M433 1202h3M211 1271h3M276 1202h3M227 1270h3M286 1238h3M403 1169h3M413 1183h3M309 1169h3M305 1174h3M401 1198h3M257 1232h3M236 1214h3M321 1185h3M272 1250h3M184 1252h3M428 1203h3M268 1175h3M332 1167h3M421 1201h3M329 1177h3M215 1207h3M237 1263h3M294 1190h3M364 1192h3M245 1258h3M362 1189h3M230 1281h3M408 1202h3M253 1252h3M271 1238h3M219 1284h3M230 1167h3M404 1206h3M389 1177h3M224 1259h3M399 1183h3M262 1266h3M178 1297h3M405 1212h3M267 1247h3M217 1256h3M176 1252h3M177 1265h3M255 1217h3M252 1208h3M427 1218h3M399 1189h3M437 1306h3M400 1202h3M261 1206h3M235 1259h3M386 1169h3M245 1208h3M307 1174h3M408 1181h3M427 1199h3M309 1200h3M308 1173h3M314 1182h3M235 1229h3M424 1199h3M357 1188h3M246 1218h3M298 1201h3M225 1242h3M417 1171h3M417 1188h3M249 1186h3M190 1297h3M253 1248h3M430 1161h3M290 1200h3M259 1178h3M397 1180h3M418 1187h3M210 1253h3M281 1163h3M413 1203h3M348 1176h3M417 1186h3M427 1180h3M375 1170h3M233 1255h3M267 1207h3M413 1208h3M408 1175h3M415 1220h3M418 1196h3M245 1220h3M403 1206h3M230 1186h3M212 1278h3M277 1218h3M421 1177h3M293 1201h3M253 1262h3M271 1214h3M267 1217h3M201 1226h3M238 1240h3M411 1179h3M401 1208h3M194 1257h3M405 1181h3M196 1206h3M184 1228h3M247 1261h3M349 1182h3M233 1229h3M418 1219h3M403 1146h3M414 1191h3M396 1196h3M412 1193h3M213 1290h3M305 1218h3M230 1207h3M254 1260h3M246 1263h3M430 1159h3M277 1269h3M200 1308h3M409 1207h3M343 1182h3M196 1295h3M406 1183h3M388 1211h3M190 1274h3M399 1195h3M294 1167h3M227 1217h3M242 1220h3M179 1263h3M392 1179h3M227 1236h3M420 1167h3M334 1207h3M392 1200h3M203 1243h3M405 1185h3M416 1191h3M390 1178h3M398 1198h3M254 1290h3M186 1251h3M342 1181h3M267 1230h3M238 1272h3M230 1251h3M315 1187h3M231 1289h3M412 1195h3M390 1181h3M425 1195h3M284 1227h3M198 1311h3M256 1248h3M315 1173h3M393 1213h3M423 1164h3M387 1177h3M268 1239h3M180 1281h3M316 1167h3M437 1188h3M306 1204h3M422 1176h3M355 1184h3M164 1285h3M310 1196h3M403 1206h3M310 1206h3M215 1248h3M262 1205h3M414 1203h3M250 1203h3M434 1180h3M382 1155h3M426 1205h3M227 1269h3M237 1248h3M223 1255h3M257 1208h3M199 1256h3M312 1182h3M251 1206h3M377 1178h3M196 1236h3M265 1174h3M296 1218h3M271 1209h3M265 1248h3M422 1188h3M220 1309h3M254 1238h3M378 1192h3M259 1227h3M236 1258h3M214 1235h3M406 1213h3M417 1170h3M406 1182h3M412 1308h3M264 1188h3M263 1183h3M424 1179h3M321 1218h3M225 1276h3M244 1176h3M400 1207h3M303 1242h3M395 1239h3M216 1229h3M402 1214h3M285 1209h3M401 1174h3M412 1184h3M217 1260h3M258 1248h3M246 1219h3M404 1185h3M331 1193h3M275 1227h3M402 1172h3M333 1165h3M400 1208h3M233 1272h3M417 1196h3M333 1228h3M413 1211h3M250 1179h3M362 1196h3M425 1189h3M364 1190h3M419 1195h3M271 1225h3M283 1248h3M405 1172h3M195 1296h3M353 1198h3M421 1185h3M252 1180h3M255 1214h3M378 1179h3M413 1191h3M410 1207h3M269 1240h3M283 1203h3M454 1209h3M229 1288h3M211 1313h3M239 1178h3M229 1205h3M419 1206h3M391 1182h3M292 1193h3M431 1183h3M426 1183h3M253 1253h3M353 1196h3M240 1237h3M407 1169h3M329 1178h3M416 1193h3M431 1205h3M255 1253h3M406 1210h3M255 1231h3M256 1205h3M243 1174h3M266 1223h3M230 1253h3M248 1230h3M349 1179h3M400 1200h3M381 1171h3M320 1165h3M417 1215h3M308 1188h3M384 1187h3M319 1178h3M221 1234h3M411 1188h3M217 1251h3M188 1297h3M391 1172h3M418 1185h3M254 1234h3M328 1179h3M238 1280h3M285 1245h3M242 1299h3M416 1197h3M220 1264h3M415 1187h3M415 1197h3M240 1216h3M368 1190h3M343 1171h3M263 1188h3M265 1235h3M407 1183h3M428 1185h3M370 1197h3M247 1273h3M242 1230h3M261 1188h3M403 1201h3M275 1245h3M217 1226h3M245 1219h3M272 1211h3M309 1173h3M289 1173h3M262 1197h3M265 1222h3M180 1277h3M197 1282h3M400 1180h3M281 1182h3M429 1149h3M428 1239h3M258 1305h3M279 1214h3M285 1209h3M385 1173h3M299 1170h3M408 1182h3M217 1283h3M418 1183h3M427 1174h3M224 1278h3M410 1194h3M269 1212h3M419 1205h3M280 1272h3M246 1183h3M236 1258h3M389 1159h3M255 1285h3M262 1245h3M365 1177h3M412 1190h3M298 1167h3M242 1266h3M392 1203h3M260 1236h3M306 1212h3M409 1195h3M199 1259h3M409 1198h3M432 1209h3M289 1214h3M286 1236h3M215 1277h3M245 1196h3M169 1278h3M181 1265h3M421 1192h3M410 1184h3M241 1267h3M434 1224h3M294 1192h3M187 1236h3M283 1188h3M422 1200h3M228 1253h3M258 1244h3M410 1166h3M297 1238h3M425 1197h3M403 1186h3M236 1190h3M212 1270h3M217 1241h3M420 1203h3M424 1181h3M290 1211h3M214 1249h3M247 1181h3M224 1298h3M271 1169h3M415 1158h3M272 1222h3M185 1286h3M399 1203h3M232 1228h3M336 1194h3M276 1230h3M391 1171h3M239 1238h3M367 1177h3M411 1199h3M242 1205h3M436 1163h3M207 1217h3M337 1184h3M227 1266h3M340 1177h3M255 1225h3M245 1238h3M383 1191h3M270 1268h3M400 1174h3M418 1207h3M314 1184h3M350 1189h3M192 1269h3M408 1181h3M272 1251h3M403 1184h3M392 1212h3M297 1185h3M271 1186h3M309 1208h3M417 1189h3M156 1301h3M235 1251h3M346 1192h3M406 1204h3M396 1164h3M299 1196h3M404 1198h3M421 1167h3M286 1228h3M204 1274h3M274 1162h3M414 1203h3M420 1200h3M262 1226h3M276 1171h3M415 1161h3M254 1239h3M198 1266h3M368 1180h3M420 1182h3M156 1282h3M289 1215h3M385 1191h3M408 1177h3M260 1169h3M237 1240h3M420 1189h3M227 1212h3M288 1206h3M233 1200h3M335 1183h3M264 1209h3M222 1222h3M259 1242h3M428 1186h3M417 1180h3M300 1202h3M401 1201h3M449 1184h3M245 1180h3M226 1291h3M412 1205h3M417 1189h3M308 1210h3M414 1181h3M434 1181h3M407 1192h3M268 1248h3M406 1186h3M191 1305h3M205 1277h3M178 1294h3M279 1210h3M396 1184h3M408 1208h3M311 1184h3M222 1250h3M271 1221h3M321 1166h3M354 1186h3M174 1285h3M221 1179h3M408 1180h3M424 1208h3M404 1179h3M379 1174h3M255 1241h3M289 1201h3M352 1172h3M376 1183h3M349 1182h3M251 1181h3M414 1179h3M435 1228h3M255 1268h3M251 1255h3M275 1263h3M227 1272h3M202 1229h3M233 1295h3M413 1203h3M264 1200h3M251 1221h3M240 1222h3M391 1180h3M403 1195h3M419 1182h3M289 1201h3M296 1189h3M303 1247h3M334 1177h3M246 1232h3M218 1248h3M199 1256h3M428 1180h3M249 1248h3M167 1275h3M239 1238h3M261 1211h3M278 1222h3M262 1200h3M400 1206h3M406 1200h3M425 1179h3M248 1276h3M222 1247h3M249 1180h3M223 1221h3M207 1223h3M240 1220h3M267 1183h3M283 1178h3M384 1199h3M416 1214h3M241 1225h3M321 1159h3M401 1189h3M303 1174h3M297 1208h3M416 1206h3M409 1205h3M408 1201h3M232 1182h3M302 1218h3M286 1205h3M245 1182h3M224 1267h3M178 1250h3M418 1201h3M283 1183h3M405 1177h3M279 1193h3M414 1196h3M385 1175h3M296 1201h3M406 1192h3M424 1216h3M417 1197h3M410 1183h3M402 1180h3M325 1175h3M246 1232h3M390 1181h3M254 1248h3M216 1288h3M241 1253h3M273 1227h3M220 1253h3M243 1170h3M400 1183h3M389 1170h3M393 1190h3M416 1189h3M271 1227h3M273 1286h3M319 1195h3M422 1185h3M413 1193h3M277 1275h3M249 1253h3M414 1215h3M192 1272h3M387 1173h3M166 1261h3M204 1207h3M240 1244h3M392 1228h3M267 1206h3M408 1206h3M198 1216h3M250 1197h3M247 1238h3M259 1286h3M221 1239h3M334 1197h3M239 1252h3M201 1313h3M229 1280h3M286 1213h3M394 1189h3M283 1178h3M255 1168h3M226 1227h3M229 1255h3M219 1286h3M394 1179h3M218 1251h3M363 1178h3M335 1169h3M387 1214h3M424 1202h3M288 1172h3M221 1210h3M296 1223h3M336 1180h3M263 1247h3M289 1262h3M402 1193h3M195 1252h3M411 1183h3M271 1249h3M365 1177h3M419 1192h3M407 1168h3M411 1167h3M299 1215h3M256 1187h3M286 1288h3M417 1185h3M266 1256h3M315 1175h3M213 1246h3M390 1163h3M402 1202h3M377 1170h3M420 1198h3M207 1236h3M426 1183h3M369 1190h3M235 1178h3M418 1202h3M256 1215h3M412 1201h3M423 1218h3M401 1217h3M209 1251h3M286 1182h3M270 1262h3M254 1278h3M402 1203h3M242 1256h3M433 1262h3M289 1257h3M267 1263h3M252 1261h3M248 1220h3M311 1180h3M170 1270h3M414 1195h3M249 1239h3M237 1233h3M400 1169h3M356 1222h3M247 1283h3M270 1214h3M243 1237h3M250 1244h3M351 1195h3M396 1204h3M281 1194h3M411 1180h3M411 1209h3M402 1196h3M198 1258h3M410 1188h3M433 1187h3M231 1246h3M437 1229h3M274 1206h3M435 1190h3M221 1281h3M312 1244h3M195 1242h3M252 1247h3M231 1254h3M271 1164h3M294 1174h3M412 1197h3M363 1174h3M420 1193h3M218 1282h3M400 1184h3M334 1184h3M223 1246h3M228 1262h3M262 1239h3M409 1199h3M416 1213h3M278 1205h3M377 1164h3M381 1173h3M264 1235h3M395 1176h3M264 1273h3M217 1245h3M276 1188h3M239 1206h3M419 1190h3M331 1176h3" stroke="#000" stroke-opacity="0.5" stroke-width="3" fill="none"/>
</g></g>
<g><g transform="scale(0.5)">
<path d="M761 1175h3M606 1275h3M763 1164h3M746 1178h3M759 1194h3M773 1167h3M750 1176h3M768 1190h3M655 1164h3M741 1185h3M621 1212h3M754 1177h3M768 1215h3M692 1175h3M707 1174h3M681 1178h3M762 1183h3M764 1170h3M766 1166h3M618 1238h3M702 1163h3M628 1170h3M599 1220h3M707 1169h3M732 1175h3M746 1157h3M768 1160h3M570 1190h3M684 1188h3M594 1215h3M772 1190h3M726 1161h3M756 1165h3M620 1164h3M723 1098h3M761 1180h3M608 1239h3M770 1171h3M764 1189h3M750 1205h3M757 1184h3M580 1172h3M648 1174h3M666 1156h3M753 1195h3M744 1188h3M605 1218h3M772 1163h3M754 1174h3M599 1239h3M773 1202h3M751 1183h3M684 1164h3M670 1163h3M580 1241h3M761 1167h3M645 1172h3M667 1198h3M755 1195h3M596 1223h3M609 1191h3M670 1180h3M526 1162h3M756 1164h3M764 1184h3M614 1268h3M767 1180h3M772 1165h3M682 1176h3M759 1161h3M756 1183h3M620 1241h3M748 1167h3M761 1162h3M626 1240h3M766 1160h3M687 1160h3M700 1188h3M790 1144h3M767 1188h3M759 1169h3M736 1186h3M742 1182h3M674 1222h3M616 1171h3M591 1263h3M748 1171h3M628 1223h3M529 1174h3M756 1186h3M754 1203h3M534 1300h3M762 1158h3M764 1152h3M614 1269h3M753 1185h3M716 1197h3M773 1151h3M521 1113h3M586 1230h3M755 1170h3M647 1180h3M756 1184h3M600 1211h3M706 1172h3M754 1153h3M614 1191h3M756 1170h3M754 1176h3M781 1204h3M769 1181h3M652 1180h3M752 1180h3M762 1169h3M749 1164h3M750 1190h3M702 1172h3M758 1166h3M769 1165h3M769 1165h3M616 1190h3M729 1201h3M608 1236h3M766 1186h3M624 1185h3M771 1178h3M769 1172h3M738 1173h3M559 1166h3M765 1265h3M645 1233h3M767 1155h3M694 1169h3M766 1194h3M681 1138h3M761 1184h3M603 1250h3M772 1188h3M773 1186h3M769 1178h3M601 1265h3M717 1166h3M741 1191h3M762 1157h3M677 1177h3M763 1178h3M757 1163h3M669 1211h3M752 1154h3M561 1229h3M543 1168h3M775 1174h3M768 1170h3M614 1169h3M764 1175h3M623 1244h3M735 1183h3M762 1169h3M770 1175h3M749 1192h3M775 1154h3M634 1201h3M610 1239h3M760 1175h3M616 1143h3M756 1171h3M756 1162h3M756 1188h3M764 1167h3M748 1167h3M682 1172h3M754 1165h3M585 1152h3M595 1168h3M764 1175h3M625 1176h3M762 1171h3M769 1197h3M593 1249h3M732 1167h3M754 1183h3M555 1234h3M785 1162h3M756 1154h3M772 1176h3M729 1169h3M722 1181h3M755 1188h3M605 1214h3M568 1238h3M764 1183h3M708 1146h3M710 1176h3M750 1187h3M758 1171h3M768 1177h3M777 1170h3M686 1191h3M754 1185h3M744 1179h3M763 1172h3M683 1158h3M763 1163h3M752 1161h3M765 1165h3M616 1238h3M674 1180h3M689 1164h3M739 1155h3M747 1173h3M765 1170h3M779 1165h3M748 1172h3M614 1152h3M765 1185h3M770 1180h3M621 1233h3M743 1168h3M757 1168h3M745 1177h3M743 1181h3M572 1299h3M693 1189h3M721 1169h3M777 1167h3M639 1173h3M773 1195h3M757 1173h3M754 1177h3M611 1241h3M764 1167h3M753 1182h3M762 1176h3M670 1183h3M736 1219h3M775 1169h3M755 1179h3M769 1166h3M750 1200h3M768 1159h3M766 1193h3M686 1151h3M620 1223h3M681 1179h3M601 1225h3M709 1181h3M584 1241h3M755 1173h3M608 1223h3M794 1177h3M705 1180h3M761 1193h3M586 1215h3M586 1266h3M742 1174h3M717 1192h3M648 1101h3M763 1197h3M635 1226h3M756 1181h3M759 1180h3M560 1120h3M719 1159h3M762 1207h3M757 1192h3M582 1227h3M611 1224h3M730 1176h3M777 1173h3M765 1178h3M514 1163h3M689 1130h3M743 1193h3M763 1192h3M741 1174h3M570 1251h3M763 1170h3M594 1249h3M777 1151h3M551 1186h3M770 1157h3M766 1183h3M759 1166h3M740 1162h3M757 1155h3M709 1201h3M695 1186h3M670 1165h3M776 1137h3M752 1200h3M759 1177h3M636 1227h3M765 1186h3M772 1162h3M576 1202h3M553 1182h3M596 1158h3M715 1203h3M715 1174h3M740 1173h3M628 1285h3M772 1150h3M761 1168h3M640 1176h3M624 1224h3M780 1142h3M774 1192h3M626 1201h3M745 1181h3M692 1251h3M774 1169h3M775 1182h3M604 1205h3M603 1310h3M622 1227h3M753 1171h3M634 1221h3M763 1165h3M774 1187h3M632 1236h3M752 1187h3M582 1199h3M532 1096h3M766 1177h3M629 1231h3M698 1174h3M751 1163h3M734 1157h3M669 1154h3M572 1237h3M774 1182h3M614 1193h3M741 1202h3M749 1183h3M589 1239h3M757 1173h3M757 1171h3M596 1218h3M587 1237h3M735 1188h3M769 1178h3M602 1228h3M650 1172h3M719 1198h3M749 1165h3M727 1144h3M784 1166h3M681 1110h3M629 1233h3M771 1170h3M742 1209h3M771 1171h3M769 1165h3M748 1191h3M653 1193h3M763 1176h3M629 1269h3M677 1168h3M533 1247h3M578 1243h3M599 1263h3M692 1175h3M601 1172h3" stroke="#000" stroke-opacity="0.5" stroke-width="3" fill="none"/>
<path d="M758 1169h3M573 1252h3M699 1159h3M767 1191h3M620 1216h3M775 1174h3M777 1177h3M700 1189h3M711 1182h3M592 1245h3M731 1172h3M746 1167h3M757 1181h3M601 1215h3M767 1173h3M725 1189h3M755 1173h3M694 1199h3M683 1168h3M692 1186h3M613 1158h3M709 1176h3M598 1233h3M587 1252h3M771 1177h3M642 1163h3M758 1218h3M763 1167h3M628 1163h3M770 1172h3M749 1154h3M769 1182h3M764 1179h3M749 1179h3M645 1236h3M756 1170h3M633 1200h3M632 1240h3M609 1195h3M770 1173h3M744 1164h3M758 1169h3M769 1173h3M763 1185h3M768 1174h3M762 1181h3M754 1149h3M752 1185h3M761 1179h3M598 1249h3M667 1170h3M779 1170h3M570 1217h3M745 1178h3M766 1163h3M650 1165h3M766 1217h3M773 1176h3M757 1177h3M689 1240h3M732 1182h3M605 1232h3M692 1174h3M574 1175h3M762 1170h3M687 1191h3M504 1163h3M778 1176h3M625 1220h3M764 1176h3M689 1180h3M763 1198h3M610 1251h3M758 1185h3M655 1183h3M597 1245h3M729 1163h3M753 1185h3M747 1180h3M759 1164h3M755 1146h3M756 1188h3M767 1214h3M753 1173h3M767 1169h3M769 1189h3M697 1196h3M583 1241h3M762 1175h3M753 1159h3M728 1179h3M603 1226h3M627 1181h3M748 1168h3M747 1165h3M627 1280h3M578 1222h3M758 1166h3M765 1166h3M751 1185h3M763 1167h3M767 1172h3M781 1159h3M759 1165h3M696 1179h3M774 1182h3M761 1181h3M759 1173h3M766 1135h3M580 1191h3M701 1162h3M769 1186h3M756 1174h3M750 1148h3M710 1170h3M774 1179h3M739 1129h3M747 1189h3M757 1134h3M759 1175h3M767 1178h3M759 1181h3M684 1189h3M748 1219h3M698 1170h3M740 1180h3M665 1169h3M768 1210h3M616 1262h3M772 1179h3M722 1161h3M667 1162h3M755 1171h3M631 1226h3M763 1193h3M743 1179h3M745 1170h3M756 1175h3M757 1205h3M713 1149h3M766 1160h3M505 1175h3M634 1256h3M596 1174h3M682 1179h3M767 1189h3M584 1279h3M780 1193h3M783 1165h3M762 1158h3M769 1181h3M604 1180h3M576 1235h3M638 1276h3M757 1192h3M762 1176h3M755 1179h3M589 1229h3M649 1185h3M766 1149h3M768 1169h3M650 1247h3M755 1195h3M692 1181h3M610 1236h3M748 1168h3M591 1187h3M694 1160h3M700 1167h3M731 1160h3M764 1166h3M626 1166h3M691 1180h3M606 1157h3M773 1134h3M731 1171h3M769 1162h3M738 1180h3M736 1189h3M566 1224h3M683 1176h3M766 1132h3M761 1191h3M740 1172h3M607 1260h3M577 1157h3M731 1174h3M706 1183h3M753 1166h3M605 1255h3M704 1168h3M764 1175h3M769 1180h3M773 1144h3M598 1259h3M734 1180h3M673 1161h3M759 1186h3M560 1097h3M765 1160h3M629 1273h3M749 1177h3M767 1184h3M583 1185h3M671 1176h3M631 1281h3M566 1201h3M757 1171h3M715 1164h3M751 1170h3M629 1265h3M765 1166h3M773 1176h3M756 1169h3M740 1151h3M677 1179h3M671 1170h3M757 1149h3M731 1157h3M638 1212h3M760 1170h3M724 1171h3M763 1198h3M776 1162h3M757 1170h3M700 1180h3M752 1162h3M583 1248h3M596 1234h3M572 1226h3M587 1220h3M707 1297h3M717 1177h3M746 1172h3M614 1243h3M750 1186h3M756 1172h3M745 1189h3M759 1177h3M763 1161h3M765 1167h3M722 1188h3M740 1165h3M778 1218h3M578 1237h3M577 1180h3M708 1178h3M712 1172h3M750 1165h3M766 1160h3M704 1185h3M770 1174h3M629 1208h3M755 1183h3M757 1160h3M770 1191h3M581 1234h3M669 1173h3M755 1149h3M755 1182h3M763 1198h3M732 1163h3M620 1272h3M738 1183h3M595 1200h3M756 1187h3M758 1169h3M626 1224h3M659 1182h3M783 1181h3M754 1193h3M704 1270h3M695 1169h3M770 1164h3M591 1195h3M758 1168h3M767 1164h3M783 1156h3M761 1166h3M632 1174h3M772 1166h3M587 1164h3M704 1161h3M757 1181h3M771 1170h3M621 1225h3M713 1251h3M767 1175h3M579 1187h3M752 1170h3M616 1203h3M757 1185h3M767 1178h3M586 1183h3M746 1164h3M570 1278h3M710 1188h3M764 1181h3M773 1172h3M579 1233h3M761 1194h3M766 1166h3M659 1180h3M755 1180h3M607 1247h3M757 1183h3M725 1180h3M747 1177h3M791 1151h3M765 1174h3M632 1214h3M764 1179h3M698 1173h3M774 1163h3M571 1234h3M732 1164h3M726 1181h3M768 1184h3M759 1169h3M772 1184h3M686 1164h3M751 1173h3M576 1233h3M769 1177h3M752 1179h3M721 1201h3M613 1218h3M635 1223h3M770 1149h3M765 1192h3M684 1194h3M734 1157h3M776 1198h3M689 1178h3M740 1175h3M575 1213h3M717 1134h3M732 1183h3M755 1191h3M766 1189h3M746 1151h3M706 1150h3M760 1172h3M765 1185h3M738 1168h3M787 1194h3M760 1165h3M770 1188h3M761 1156h3M762 1183h3M755 1175h3M763 1170h3M702 1175h3M587 1234h3M634 1222h3M746 1177h3M664 1180h3M745 1183h3M730 1153h3M548 1143h3M666 1162h3M612 1196h3M642 1171h3" stroke="#000" stroke-opacity="0.5" stroke-width="3" fill="none"/>
<path d="M731 1173h3M758 1178h3M771 1170h3M742 1171h3M759 1165h3M759 1144h3M769 1179h3M711 1163h3M760 1175h3M740 1181h3M770 1192h3M763 1176h3M653 1201h3M761 1152h3M608 1187h3M747 1168h3M764 1180h3M758 1196h3M759 1184h3M539 1267h3M709 1178h3M762 1175h3M710 1183h3M776 1187h3M630 1195h3M733 1180h3M609 1198h3M747 1184h3M650 1181h3M761 1181h3M580 1246h3M738 1194h3M756 1163h3M764 1152h3M602 1168h3M748 1187h3M598 1216h3M752 1194h3M755 1158h3M755 1153h3M760 1182h3M760 1149h3M757 1147h3M750 1174h3M693 1169h3M742 1194h3M754 1171h3M590 1236h3M757 1157h3M549 1212h3M761 1173h3M661 1188h3M762 1169h3M630 1258h3M715 1174h3M719 1148h3M769 1168h3M714 1180h3M753 1173h3M620 1171h3M769 1188h3M747 1177h3M781 1180h3M746 1157h3M757 1216h3M663 1173h3M770 1177h3M626 1247h3M614 1226h3M584 1210h3M769 1168h3M668 1188h3M620 1209h3M555 1228h3M672 1227h3M578 1217h3M740 1199h3M711 1176h3M682 1191h3M717 1153h3M758 1173h3M751 1172h3M562 1219h3M735 1166h3M693 1179h3M757 1201h3M766 1149h3M765 1169h3M689 1170h3M765 1179h3M615 1264h3M680 1184h3M613 1199h3M732 1174h3M729 1146h3M771 1173h3M639 1237h3M630 1294h3M565 1242h3M762 1167h3M749 1161h3M559 1167h3M768 1177h3M749 1166h3M670 1147h3M771 1185h3M580 1163h3M744 1174h3M760 1185h3M637 1264h3M780 1265h3M740 1173h3M763 1179h3M720 1182h3M597 1221h3M765 1186h3M764 1177h3M717 1175h3M765 1172h3M778 1158h3M755 1180h3M739 1164h3M767 1173h3M751 1178h3M708 1180h3M774 1170h3M758 1187h3M620 1211h3M757 1183h3M741 1189h3M773 1188h3M767 1183h3M765 1173h3M571 1253h3M613 1220h3M587 1232h3M585 1171h3M682 1166h3M726 1153h3M739 1176h3M766 1173h3M767 1163h3M712 1157h3M767 1171h3M778 1177h3M764 1181h3M625 1209h3M791 1181h3M771 1190h3M765 1173h3M761 1181h3M746 1180h3M747 1187h3M670 1175h3M581 1219h3M593 1232h3M739 1176h3M653 1179h3M760 1159h3M643 1237h3M774 1174h3M773 1149h3M532 1150h3M764 1165h3M743 1182h3M709 1165h3M757 1174h3M608 1195h3M730 1186h3M761 1206h3M765 1180h3M709 1159h3M710 1175h3M605 1232h3M706 1171h3M771 1184h3M646 1311h3M768 1165h3M754 1155h3M767 1200h3M588 1220h3M765 1139h3M618 1189h3M677 1186h3M774 1175h3M759 1206h3M760 1162h3M768 1179h3M766 1187h3M678 1168h3M770 1214h3M775 1184h3M764 1189h3M762 1160h3M705 1167h3M736 1177h3M748 1170h3M755 1158h3M757 1160h3M743 1190h3M648 1163h3M761 1168h3M773 1198h3M701 1156h3M757 1190h3M734 1289h3M761 1195h3M568 1178h3M601 1241h3M762 1169h3M584 1176h3M719 1185h3M757 1162h3M747 1173h3M682 1179h3M778 1147h3M681 1185h3M651 1189h3M683 1206h3M655 1175h3M692 1153h3M742 1180h3M763 1183h3M671 1175h3M768 1184h3M753 1182h3M754 1187h3M660 1136h3M765 1163h3M771 1168h3M663 1171h3M755 1172h3M600 1242h3M757 1183h3M629 1237h3M663 1162h3M662 1177h3M630 1216h3M769 1170h3M679 1156h3M560 1215h3M771 1179h3M757 1156h3M766 1184h3M672 1184h3M549 1193h3M729 1176h3M759 1190h3M684 1191h3M587 1190h3M749 1194h3M673 1175h3M757 1181h3M757 1153h3M585 1219h3M773 1145h3M763 1172h3M507 1270h3M631 1232h3M759 1138h3M765 1166h3M661 1178h3M760 1184h3M606 1256h3M780 1183h3M694 1184h3M722 1202h3M627 1182h3M723 1183h3M767 1147h3M750 1175h3M762 1178h3M703 1179h3M761 1174h3M607 1183h3M589 1295h3M754 1161h3M771 1195h3M724 1170h3M797 1178h3M693 1167h3M734 1151h3M621 1252h3M665 1166h3M749 1160h3M703 1179h3M693 1158h3M607 1245h3M760 1191h3M767 1168h3M615 1212h3M544 1278h3M685 1176h3M766 1188h3M736 1163h3M714 1172h3M705 1161h3M682 1297h3M762 1144h3M674 1256h3M769 1172h3M611 1242h3M676 1171h3M742 1171h3M599 1246h3M694 1142h3M608 1206h3M736 1184h3M746 1181h3M743 1161h3M644 1174h3M757 1184h3M769 1177h3M598 1203h3M582 1204h3M764 1170h3M664 1176h3M641 1264h3M610 1222h3M593 1240h3M767 1176h3M769 1189h3M582 1231h3M767 1171h3M590 1229h3M597 1258h3M741 1154h3M636 1247h3M756 1174h3M609 1244h3M541 1283h3M696 1159h3M759 1175h3M753 1165h3M754 1169h3M624 1156h3M768 1162h3M763 1169h3M748 1212h3M632 1244h3M762 1176h3M773 1171h3M763 1165h3M765 1173h3M698 1204h3M565 1223h3M774 1158h3M768 1167h3M528 1191h3M761 1155h3M758 1199h3M757 1192h3M759 1181h3M670 1162h3M729 1182h3M698 1161h3M738 1168h3M711 1199h3M704 1223h3M588 1228h3M537 1221h3M586 1223h3" stroke="#000" stroke-opacity="0.5" stroke-width="3" fill="none"/>
<path d="M674 1152h3M709 1182h3M728 1104h3M606 1224h3M590 1244h3M684 1161h3M600 1260h3M543 1168h3M759 1168h3M637 1181h3M681 1198h3M761 1180h3M777 1164h3M618 1240h3M593 1193h3M545 1242h3M669 1172h3M673 1168h3M766 1175h3M752 1173h3M770 1184h3M630 1177h3M760 1166h3M618 1272h3M690 1171h3M749 1178h3M744 1159h3M644 1246h3M731 1180h3M594 1196h3M765 1181h3M612 1213h3M777 1188h3M766 1190h3M771 1176h3M729 1184h3M714 1178h3M678 1177h3M749 1159h3M758 1171h3M769 1189h3M763 1176h3M658 1166h3M673 1175h3M767 1167h3M770 1178h3M766 1153h3M693 1177h3M759 1173h3M739 1095h3M694 1147h3M712 1164h3M750 1187h3M757 1167h3M760 1179h3M654 1237h3M766 1188h3M753 1180h3M776 1182h3M763 1189h3M756 1188h3M754 1190h3M618 1241h3M623 1231h3M572 1229h3M750 1178h3M766 1168h3M747 1183h3M732 1212h3M670 1177h3M546 1196h3M768 1182h3M738 1170h3M772 1164h3M700 1170h3M755 1187h3M760 1159h3M763 1175h3M757 1177h3M778 1178h3M613 1239h3M748 1180h3M763 1201h3M594 1206h3M729 1186h3M628 1244h3M773 1192h3M702 1155h3M525 1181h3M762 1157h3M741 1163h3M757 1181h3M764 1181h3M677 1173h3M635 1174h3M772 1159h3M586 1203h3M785 1167h3M593 1234h3M694 1171h3M737 1137h3M680 1173h3M757 1167h3M771 1177h3M698 1183h3M559 1163h3M759 1179h3M763 1169h3M640 1190h3M755 1180h3M570 1240h3M758 1161h3M701 1132h3M592 1251h3M758 1181h3M720 1183h3M759 1171h3M749 1175h3M732 1175h3M679 1175h3M591 1181h3M759 1165h3M764 1181h3M712 1187h3M662 1177h3M752 1180h3M675 1166h3M759 1185h3M685 1240h3M772 1170h3M605 1203h3M591 1237h3M643 1090h3M734 1166h3M621 1231h3M767 1196h3M762 1181h3M777 1152h3M621 1282h3M760 1184h3M629 1192h3M749 1150h3M759 1179h3M698 1190h3M686 1190h3M766 1166h3M753 1183h3M611 1205h3M773 1190h3M711 1176h3M562 1190h3M616 1236h3M750 1186h3M602 1231h3M749 1181h3M747 1159h3M589 1238h3M757 1177h3M783 1177h3M752 1157h3M743 1171h3M587 1227h3M703 1194h3M743 1164h3M760 1176h3M768 1155h3M758 1158h3M759 1157h3M765 1186h3M771 1175h3M741 1120h3M598 1245h3M579 1250h3M757 1186h3M763 1166h3M767 1202h3M614 1201h3M734 1155h3M682 1158h3M758 1175h3M766 1182h3M763 1176h3M744 1168h3M583 1234h3M598 1174h3M728 1187h3M750 1152h3M754 1163h3M755 1183h3M678 1181h3M756 1164h3M581 1260h3M630 1165h3M749 1187h3M682 1146h3M586 1202h3M661 1166h3M673 1128h3M574 1177h3M694 1180h3M680 1182h3M767 1162h3M707 1167h3M766 1169h3M767 1185h3M742 1183h3M760 1185h3M744 1175h3M770 1183h3M750 1190h3M751 1153h3M708 1169h3M704 1174h3M753 1192h3M771 1197h3M635 1163h3M772 1152h3M604 1282h3M625 1248h3M622 1184h3M760 1191h3M726 1160h3M539 1252h3M772 1173h3M759 1174h3M613 1235h3M763 1157h3M764 1175h3M609 1253h3M724 1170h3M700 1162h3M729 1168h3M694 1189h3M505 1129h3M758 1198h3M765 1171h3M730 1182h3M583 1214h3M776 1185h3M764 1165h3M764 1169h3M684 1175h3M758 1174h3M767 1160h3M679 1182h3M767 1176h3M695 1195h3M771 1173h3M627 1145h3M705 1164h3M576 1202h3M777 1178h3M693 1193h3M592 1229h3M596 1215h3M762 1195h3M684 1171h3M734 1172h3M754 1171h3M766 1177h3M765 1185h3M764 1169h3M736 1147h3M755 1164h3M742 1173h3M765 1151h3M616 1203h3M618 1303h3M655 1161h3M628 1178h3M710 1169h3M737 1156h3M756 1158h3M758 1177h3M642 1228h3M752 1179h3M725 1184h3M765 1162h3M751 1194h3M756 1185h3M764 1183h3M666 1171h3M765 1163h3M749 1177h3M769 1156h3M628 1216h3M681 1182h3M583 1244h3M583 1234h3M760 1181h3M609 1227h3M759 1189h3M755 1172h3M764 1182h3M615 1157h3M770 1166h3M761 1187h3M768 1202h3M689 1183h3M655 1183h3M617 1208h3M747 1165h3M629 1227h3M772 1161h3M702 1162h3M691 1175h3M755 1193h3M765 1198h3M760 1174h3M756 1176h3M633 1268h3M586 1192h3M578 1227h3M757 1161h3M670 1188h3M603 1197h3M771 1178h3M573 1271h3M751 1173h3M692 1169h3M754 1194h3M738 1152h3M699 1174h3M673 1174h3M614 1233h3M527 1295h3M760 1160h3M773 1186h3M621 1170h3M784 1185h3M694 1154h3M540 1278h3M726 1190h3M757 1181h3M763 1185h3M774 1169h3M713 1165h3M619 1188h3M780 1176h3M754 1139h3M674 1170h3M744 1151h3M664 1179h3M582 1180h3M604 1217h3M767 1146h3M757 1161h3M610 1209h3M575 1252h3M701 1178h3M739 1166h3M713 1164h3M754 1197h3M552 1240h3M766 1175h3M633 1207h3M694 1165h3M593 1272h3M745 1194h3M615 1186h3M763 1182h3M699 1192h3" stroke="#000" stroke-opacity="0.5" stroke-width="3" fill="none"/>
</g></g>
<g><g transform="scale(0.5)">
<path d="M234 1498h3M429 1596h3M196 1535h3M208 1517h3M221 1509h3M402 1530h3M239 1550h3M239 1510h3M188 1529h3M273 1531h3M224 1586h3M197 1496h3M236 1558h3M246 1511h3M279 1517h3M252 1528h3M245 1508h3M418 1547h3M234 1524h3M198 1519h3M251 1546h3M290 1524h3M225 1492h3M205 1514h3M240 1514h3M222 1498h3M231 1503h3M229 1511h3M262 1566h3M223 1529h3M224 1507h3M237 1513h3M430 1583h3M258 1520h3M235 1507h3M232 1501h3M255 1531h3M218 1540h3M248 1504h3M253 1531h3M249 1508h3M445 1526h3M254 1513h3M400 1527h3M426 1460h3M423 1538h3M403 1524h3M286 1535h3M224 1511h3M399 1582h3M233 1535h3M215 1532h3M200 1518h3M214 1544h3M273 1538h3M389 1539h3M258 1510h3M243 1494h3M246 1598h3M261 1520h3M236 1504h3M231 1511h3M241 1502h3M447 1593h3M252 1496h3M220 1515h3M186 1502h3M420 1471h3M242 1520h3M245 1538h3M260 1503h3M217 1522h3M209 1506h3M208 1530h3M441 1457h3M229 1519h3M266 1508h3M223 1511h3M232 1526h3M234 1514h3M216 1509h3M215 1504h3M439 1554h3M386 1562h3M251 1575h3M408 1563h3M387 1545h3M281 1498h3M424 1585h3M220 1559h3M233 1525h3M244 1515h3M240 1508h3M397 1485h3M208 1515h3M250 1504h3M224 1520h3M387 1519h3M247 1536h3M216 1543h3M471 1542h3M374 1528h3M251 1510h3M228 1538h3M225 1535h3M244 1517h3M223 1537h3M208 1535h3M245 1551h3M234 1521h3M237 1527h3M231 1513h3M233 1514h3M245 1535h3M393 1545h3M457 1532h3M213 1513h3M230 1501h3M245 1543h3M227 1505h3M221 1513h3M207 1538h3M246 1519h3M199 1498h3M215 1608h3M244 1586h3M272 1533h3M212 1501h3M254 1466h3M229 1529h3M272 1574h3M395 1481h3M220 1510h3M212 1558h3M441 1453h3M178 1583h3M227 1518h3M219 1536h3M386 1538h3M238 1517h3M405 1535h3M221 1541h3M226 1522h3M259 1513h3M237 1527h3M235 1527h3M233 1498h3M207 1507h3M229 1522h3M231 1581h3M405 1488h3M202 1522h3M420 1585h3M263 1495h3M236 1511h3M226 1525h3M402 1519h3M434 1566h3M251 1565h3M260 1473h3M223 1510h3M222 1505h3M237 1513h3M214 1516h3M223 1509h3M269 1509h3M268 1512h3M228 1535h3M204 1574h3M234 1513h3M242 1561h3M228 1564h3M237 1511h3M252 1459h3M413 1537h3M284 1566h3M251 1532h3M410 1529h3M418 1530h3M400 1560h3M402 1521h3M242 1526h3M421 1545h3M186 1511h3M257 1494h3M249 1509h3M246 1497h3M239 1515h3M409 1514h3M401 1512h3M226 1540h3M389 1517h3M410 1563h3M222 1529h3M231 1515h3M227 1567h3M432 1485h3M214 1495h3M437 1452h3M409 1488h3M220 1509h3M211 1542h3M222 1510h3M242 1523h3M209 1533h3M390 1489h3M261 1539h3M422 1502h3M171 1504h3M252 1558h3M238 1519h3M250 1504h3M270 1501h3M381 1544h3M230 1521h3M222 1529h3M421 1527h3M233 1508h3M235 1550h3M224 1517h3M225 1508h3M241 1533h3M219 1507h3M227 1521h3M229 1530h3M248 1494h3M232 1526h3M226 1495h3M264 1539h3M421 1539h3M205 1518h3M261 1524h3M231 1558h3M236 1514h3M429 1471h3M225 1535h3M247 1533h3M209 1542h3M220 1545h3M408 1528h3M442 1531h3M235 1540h3M353 1487h3M400 1554h3M194 1541h3M217 1516h3M224 1515h3M386 1579h3M226 1530h3M264 1510h3M400 1528h3M242 1521h3M232 1504h3M238 1529h3M249 1512h3M239 1561h3M212 1536h3M221 1540h3M209 1499h3M466 1483h3M239 1532h3M276 1517h3M280 1558h3M221 1498h3M216 1574h3M265 1499h3M168 1519h3M245 1495h3M243 1525h3M225 1554h3M228 1538h3M395 1493h3M228 1518h3M232 1534h3M228 1502h3M417 1604h3M251 1498h3M258 1555h3M249 1571h3M242 1525h3M237 1514h3M232 1493h3M234 1578h3M269 1517h3M430 1470h3M434 1551h3M252 1503h3M215 1529h3M236 1503h3M230 1512h3M244 1518h3M390 1499h3M193 1494h3M425 1471h3M234 1516h3M228 1520h3M237 1507h3M438 1543h3M395 1521h3M250 1506h3M238 1505h3M236 1520h3M223 1531h3M259 1495h3M243 1512h3M227 1528h3M229 1519h3M403 1512h3M453 1496h3M179 1560h3M246 1505h3M242 1525h3M386 1486h3M255 1513h3M221 1519h3M225 1524h3M199 1497h3M241 1516h3M227 1513h3M223 1555h3M251 1514h3M232 1511h3M231 1526h3M246 1527h3M244 1535h3M191 1537h3M258 1548h3M247 1522h3M205 1512h3M268 1517h3M220 1508h3M212 1520h3M249 1526h3M245 1504h3M217 1504h3M269 1458h3M403 1578h3M242 1514h3M207 1539h3M249 1498h3M261 1520h3M258 1558h3M247 1523h3M237 1539h3M245 1515h3M402 1529h3M418 1499h3M250 1494h3M231 1498h3M241 1524h3M387 1543h3M378 1519h3M262 1455h3M181 1540h3M392 1507h3M225 1532h3M234 1554h3M230 1523h3M241 1525h3M222 1498h3M429 1488h3M229 1530h3M228 1520h3M201 1516h3M433 1592h3M402 1513h3M406 1474h3M221 1527h3M218 1508h3M420 1536h3M226 1523h3M406 1544h3M240 1499h3M392 1502h3M217 1503h3M252 1520h3M382 1464h3M225 1520h3M205 1523h3M235 1503h3M240 1511h3M391 1513h3M435 1530h3M246 1533h3M410 1481h3M233 1510h3M283 1536h3M414 1492h3M215 1530h3M269 1509h3M247 1540h3M183 1496h3M179 1506h3M239 1509h3M418 1503h3M229 1535h3M193 1493h3M205 1541h3M252 1526h3M277 1508h3M245 1555h3M441 1591h3M205 1515h3M226 1522h3M238 1534h3M196 1495h3M221 1513h3M239 1533h3M179 1593h3M409 1535h3M192 1495h3M447 1507h3M260 1591h3M259 1507h3M405 1523h3M387 1518h3M261 1600h3M265 1510h3M231 1529h3M225 1498h3M193 1564h3M258 1503h3M241 1556h3M426 1455h3M291 1513h3M231 1518h3M232 1515h3M270 1509h3M239 1535h3M250 1507h3M395 1514h3M267 1542h3M262 1521h3M234 1527h3M229 1496h3M245 1571h3M248 1592h3M408 1516h3M227 1531h3M257 1510h3M197 1520h3M403 1579h3M222 1533h3M410 1574h3M345 1583h3M241 1513h3M218 1513h3M321 1521h3M201 1492h3M241 1550h3M467 1514h3M236 1520h3M254 1495h3M262 1502h3M265 1510h3M226 1519h3M263 1518h3M451 1518h3M210 1565h3M241 1548h3M410 1527h3M199 1520h3M233 1518h3M242 1552h3M251 1529h3M171 1550h3M235 1544h3M204 1495h3M291 1550h3M228 1516h3M243 1571h3M200 1577h3M229 1507h3M273 1592h3M238 1493h3M412 1499h3M223 1546h3M238 1526h3M235 1593h3M222 1500h3M214 1513h3M384 1514h3M249 1507h3M227 1495h3M225 1505h3M261 1503h3M201 1596h3M400 1512h3M230 1539h3M269 1539h3M453 1468h3M216 1516h3M220 1530h3M415 1564h3M249 1516h3M232 1494h3M223 1534h3M236 1521h3M273 1513h3M264 1531h3M262 1529h3M208 1530h3M207 1542h3M252 1513h3M208 1498h3M239 1530h3M247 1529h3M399 1516h3M225 1510h3M246 1529h3M423 1582h3M239 1540h3M228 1578h3M213 1521h3M220 1556h3M390 1542h3M230 1526h3M247 1495h3M213 1565h3M256 1516h3M240 1526h3M269 1529h3M206 1570h3M222 1536h3M256 1508h3M413 1502h3M201 1522h3M435 1512h3M224 1512h3M200 1511h3M254 1547h3M225 1510h3M422 1550h3M395 1549h3M262 1523h3M210 1517h3M226 1523h3M395 1569h3M406 1494h3M263 1498h3M438 1539h3M232 1515h3M423 1507h3M366 1538h3M392 1529h3M229 1507h3M396 1538h3M239 1522h3M408 1505h3M267 1511h3M425 1544h3M242 1514h3M233 1506h3M215 1510h3M434 1554h3M226 1558h3M228 1526h3M241 1538h3M227 1512h3M425 1459h3M230 1517h3M228 1519h3M413 1547h3M214 1513h3M246 1527h3M260 1530h3M384 1539h3M443 1528h3M242 1500h3M180 1502h3M285 1526h3M217 1505h3M249 1521h3M236 1521h3M398 1545h3M268 1586h3M246 1520h3M204 1614h3M283 1537h3M235 1531h3M233 1586h3M410 1472h3M219 1504h3M229 1512h3M239 1515h3M222 1510h3M429 1536h3M252 1497h3M238 1501h3M443 1538h3M229 1509h3M423 1518h3M223 1499h3M212 1541h3M417 1490h3M241 1499h3M202 1499h3M287 1571h3M405 1544h3M279 1530h3M225 1502h3M199 1525h3M252 1518h3M228 1520h3M204 1502h3M239 1538h3M238 1495h3M239 1479h3M409 1517h3M256 1501h3M210 1570h3M264 1556h3M254 1527h3M238 1502h3M233 1524h3M204 1497h3M219 1534h3M286 1493h3M394 1520h3M274 1516h3M390 1493h3M235 1508h3M208 1538h3M276 1522h3M221 1514h3M259 1523h3M414 1559h3M189 1529h3M239 1504h3M256 1518h3M256 1504h3M242 1522h3M221 1505h3M208 1578h3M412 1566h3M245 1510h3M257 1467h3M408 1536h3M200 1532h3M214 1507h3M208 1514h3M204 1529h3M412 1560h3M228 1512h3M226 1511h3M228 1536h3M210 1517h3M407 1531h3M200 1498h3M303 1508h3M222 1533h3M440 1578h3M275 1538h3M222 1530h3M260 1499h3M221 1497h3M224 1524h3M246 1509h3M202 1523h3M404 1520h3M224 1493h3M249 1528h3M416 1531h3M197 1496h3M223 1501h3M382 1522h3M236 1508h3M389 1524h3M260 1533h3M192 1411h3M186 1522h3M234 1579h3M231 1519h3M247 1526h3M228 1523h3M391 1550h3M253 1493h3M412 1525h3M429 1462h3M211 1530h3M400 1519h3M245 1499h3M276 1535h3M266 1519h3M237 1526h3M382 1445h3M420 1566h3M245 1533h3M247 1532h3M197 1572h3M381 1517h3M252 1520h3M394 1540h3M245 1514h3M239 1533h3M238 1510h3M210 1549h3M199 1513h3M201 1534h3M226 1505h3M250 1524h3M266 1528h3M176 1506h3M243 1503h3M233 1533h3M429 1436h3M425 1526h3M243 1557h3M259 1508h3M268 1515h3M254 1483h3M376 1556h3M373 1534h3M422 1523h3M230 1493h3M421 1463h3M192 1540h3M226 1528h3M235 1538h3M235 1525h3M246 1514h3M207 1522h3M417 1522h3M225 1509h3M267 1564h3M274 1543h3M228 1592h3M231 1521h3M258 1516h3M238 1526h3M246 1550h3M396 1505h3M223 1559h3M244 1511h3M444 1558h3M213 1505h3M210 1514h3M228 1573h3M229 1495h3M220 1532h3M293 1550h3M204 1512h3M228 1523h3M424 1554h3M447 1492h3M416 1528h3M229 1527h3M244 1526h3M254 1507h3M393 1498h3M264 1537h3M253 1613h3M260 1528h3M265 1577h3M238 1514h3M359 1481h3M244 1512h3M414 1573h3M302 1518h3M249 1533h3M435 1607h3M251 1567h3M205 1512h3M179 1522h3M254 1501h3M240 1534h3M249 1518h3M404 1569h3M241 1493h3M255 1523h3M396 1549h3M237 1520h3M242 1517h3M233 1520h3M191 1547h3M262 1452h3M410 1512h3M231 1524h3M224 1513h3M247 1510h3M237 1542h3M287 1523h3M272 1502h3M393 1526h3M398 1491h3M396 1515h3M398 1536h3M252 1502h3M216 1513h3M276 1517h3M214 1528h3M235 1516h3M210 1505h3M394 1505h3M279 1531h3M257 1505h3M213 1514h3M250 1526h3M416 1529h3M241 1529h3M250 1529h3M225 1549h3M254 1496h3M246 1513h3M240 1517h3M393 1509h3M390 1512h3M261 1498h3M406 1569h3M214 1492h3M236 1500h3M230 1534h3M245 1526h3M216 1516h3M243 1510h3M268 1520h3M248 1534h3M382 1563h3M247 1517h3M436 1495h3M427 1516h3M227 1545h3M243 1556h3M242 1572h3M250 1504h3M219 1506h3M231 1524h3M218 1495h3M227 1517h3M243 1550h3M245 1510h3M225 1521h3M178 1504h3M256 1507h3M399 1502h3M231 1508h3M231 1540h3M410 1460h3M394 1464h3M221 1528h3M191 1497h3M224 1508h3M259 1518h3M179 1544h3M253 1565h3M221 1509h3M250 1522h3M218 1515h3M420 1467h3M250 1531h3M219 1523h3M288 1465h3M186 1547h3M266 1510h3M428 1442h3M273 1518h3M239 1504h3M248 1513h3M252 1509h3M390 1576h3M262 1511h3M225 1519h3M401 1517h3M399 1525h3M436 1485h3M406 1515h3M259 1543h3M240 1523h3M195 1505h3M261 1516h3M411 1558h3M225 1544h3M237 1536h3M447 1568h3M260 1535h3M203 1518h3M238 1588h3M234 1572h3M249 1519h3M230 1525h3M226 1567h3M421 1510h3M213 1527h3M213 1504h3M220 1544h3M265 1514h3M213 1520h3M215 1510h3M266 1524h3M271 1580h3M419 1469h3M222 1525h3M244 1538h3M237 1526h3M193 1499h3M239 1507h3M274 1553h3" stroke="#000" stroke-opacity="0.5" stroke-width="3" fill="none"/>
<path d="M248 1501h3M220 1499h3M263 1522h3M217 1515h3M222 1532h3M256 1497h3M442 1588h3M222 1519h3M250 1504h3M233 1515h3M244 1537h3M189 1527h3M253 1516h3M198 1543h3M226 1526h3M229 1506h3M424 1518h3M253 1528h3M222 1551h3M286 1523h3M463 1449h3M236 1505h3M465 1585h3M277 1507h3M247 1508h3M192 1457h3M195 1517h3M238 1502h3M257 1510h3M187 1507h3M202 1531h3M418 1508h3M221 1525h3M249 1553h3M265 1531h3M204 1552h3M219 1512h3M247 1537h3M196 1499h3M183 1525h3M257 1517h3M234 1528h3M265 1538h3M239 1521h3M214 1511h3M233 1515h3M225 1522h3M228 1518h3M230 1508h3M287 1549h3M252 1494h3M265 1590h3M391 1531h3M226 1524h3M222 1532h3M266 1526h3M197 1507h3M411 1463h3M230 1603h3M187 1540h3M255 1517h3M369 1555h3M415 1540h3M245 1542h3M459 1452h3M186 1505h3M364 1543h3M201 1500h3M222 1551h3M204 1601h3M254 1525h3M245 1489h3M252 1530h3M192 1520h3M445 1538h3M267 1512h3M434 1562h3M218 1525h3M226 1515h3M228 1583h3M243 1507h3M242 1518h3M398 1502h3M247 1520h3M245 1526h3M259 1546h3M188 1511h3M238 1526h3M442 1553h3M250 1509h3M220 1554h3M420 1482h3M360 1539h3M214 1524h3M244 1594h3M226 1497h3M252 1549h3M239 1447h3M228 1493h3M173 1478h3M263 1455h3M420 1511h3M399 1531h3M229 1525h3M216 1525h3M234 1514h3M263 1498h3M290 1545h3M387 1552h3M419 1475h3M220 1546h3M244 1534h3M218 1506h3M210 1507h3M393 1537h3M227 1532h3M221 1534h3M224 1502h3M248 1513h3M228 1521h3M205 1524h3M408 1522h3M436 1602h3M267 1510h3M381 1531h3M442 1602h3M190 1512h3M216 1508h3M239 1529h3M243 1489h3M270 1602h3M276 1526h3M223 1524h3M214 1579h3M440 1512h3M227 1518h3M230 1539h3M255 1517h3M226 1496h3M200 1515h3M271 1501h3M235 1542h3M395 1491h3M280 1512h3M226 1512h3M207 1516h3M252 1529h3M221 1505h3M414 1519h3M393 1579h3M219 1506h3M218 1559h3M260 1506h3M388 1512h3M226 1517h3M404 1513h3M227 1519h3M445 1485h3M218 1520h3M254 1576h3M218 1518h3M226 1528h3M395 1499h3M220 1545h3M247 1517h3M235 1517h3M219 1499h3M255 1518h3M277 1526h3M402 1564h3M212 1524h3M238 1514h3M247 1494h3M224 1538h3M412 1502h3M393 1532h3M230 1507h3M256 1504h3M261 1529h3M245 1508h3M358 1518h3M218 1542h3M362 1510h3M386 1513h3M223 1498h3M254 1564h3M243 1504h3M228 1529h3M226 1524h3M397 1550h3M406 1542h3M218 1535h3M227 1522h3M398 1506h3M189 1544h3M225 1513h3M221 1582h3M243 1512h3M383 1533h3M204 1573h3M287 1526h3M225 1503h3M227 1520h3M409 1548h3M213 1551h3M427 1497h3M257 1533h3M411 1494h3M252 1520h3M233 1525h3M196 1514h3M228 1514h3M233 1545h3M241 1575h3M243 1511h3M280 1506h3M408 1504h3M395 1549h3M243 1506h3M248 1526h3M254 1562h3M216 1508h3M223 1504h3M268 1554h3M228 1543h3M175 1590h3M409 1570h3M263 1494h3M265 1526h3M262 1528h3M224 1525h3M412 1505h3M228 1529h3M223 1507h3M232 1507h3M249 1501h3M215 1525h3M391 1512h3M416 1559h3M234 1523h3M416 1548h3M211 1527h3M286 1518h3M414 1503h3M230 1512h3M411 1570h3M249 1533h3M233 1519h3M236 1524h3M201 1529h3M413 1535h3M235 1514h3M237 1512h3M256 1541h3M217 1549h3M246 1521h3M269 1486h3M421 1464h3M385 1553h3M223 1541h3M233 1535h3M255 1521h3M414 1469h3M254 1504h3M223 1494h3M230 1523h3M294 1578h3M203 1568h3M254 1499h3M462 1526h3M426 1572h3M200 1548h3M249 1505h3M220 1522h3M251 1504h3M268 1524h3M224 1498h3M402 1500h3M394 1518h3M247 1609h3M252 1519h3M236 1526h3M226 1545h3M243 1505h3M247 1521h3M266 1528h3M254 1523h3M240 1581h3M186 1514h3M247 1524h3M251 1500h3M396 1507h3M238 1512h3M231 1480h3M258 1570h3M233 1499h3M426 1521h3M228 1514h3M247 1498h3M247 1541h3M232 1506h3M392 1531h3M219 1542h3M400 1539h3M227 1536h3M224 1531h3M217 1585h3M182 1564h3M412 1456h3M257 1495h3M393 1526h3M269 1513h3M407 1546h3M349 1459h3M243 1506h3M242 1552h3M241 1523h3M253 1539h3M372 1528h3M231 1513h3M417 1533h3M237 1517h3M408 1518h3M193 1530h3M242 1492h3M230 1520h3M217 1524h3M416 1510h3M241 1497h3M236 1517h3M354 1526h3M403 1510h3M236 1516h3M240 1536h3M213 1614h3M425 1462h3M233 1534h3M283 1565h3M226 1558h3M251 1523h3M221 1512h3M245 1580h3M241 1514h3M401 1533h3M258 1521h3M415 1531h3M213 1499h3M240 1533h3M238 1514h3M250 1506h3M223 1512h3M217 1501h3M267 1506h3M229 1551h3M230 1508h3M229 1531h3M294 1571h3M248 1520h3M267 1544h3M240 1523h3M229 1514h3M259 1499h3M222 1511h3M449 1474h3M270 1521h3M213 1530h3M263 1571h3M206 1519h3M255 1503h3M228 1525h3M386 1515h3M403 1546h3M439 1502h3M216 1539h3M210 1499h3M246 1528h3M342 1525h3M220 1561h3M412 1550h3M232 1524h3M402 1553h3M421 1459h3M193 1507h3M411 1505h3M245 1581h3M253 1501h3M202 1510h3M222 1573h3M431 1541h3M229 1498h3M248 1510h3M215 1557h3M256 1470h3M238 1505h3M388 1544h3M228 1516h3M228 1530h3M214 1502h3M428 1510h3M286 1448h3M242 1523h3M229 1497h3M217 1565h3M266 1528h3M282 1544h3M212 1548h3M425 1534h3M225 1556h3M254 1532h3M229 1523h3M397 1542h3M232 1527h3M247 1509h3M408 1468h3M253 1497h3M255 1510h3M227 1526h3M252 1533h3M236 1525h3M273 1532h3M232 1561h3M224 1510h3M242 1528h3M202 1548h3M244 1503h3M234 1551h3M207 1509h3M246 1522h3M234 1507h3M229 1504h3M437 1475h3M252 1507h3M243 1495h3M207 1518h3M240 1505h3M418 1588h3M393 1479h3M229 1510h3M222 1493h3M251 1508h3M211 1535h3M278 1521h3M261 1508h3M277 1539h3M244 1505h3M400 1530h3M424 1531h3M280 1462h3M252 1520h3M218 1546h3M235 1526h3M231 1518h3M218 1509h3M203 1562h3M218 1504h3M232 1534h3M269 1527h3M417 1509h3M260 1494h3M217 1532h3M221 1572h3M255 1556h3M248 1524h3M418 1549h3M260 1550h3M262 1524h3M190 1513h3M210 1515h3M245 1544h3M267 1507h3M249 1517h3M250 1541h3M210 1568h3M405 1535h3M256 1558h3M225 1503h3M196 1521h3M401 1476h3M271 1555h3M262 1581h3M213 1510h3M426 1534h3M227 1519h3M252 1510h3M204 1519h3M247 1506h3M263 1500h3M278 1543h3M262 1497h3M237 1553h3M257 1533h3M199 1517h3M265 1554h3M217 1503h3M175 1535h3M185 1504h3M241 1525h3M470 1474h3M223 1513h3M387 1498h3M433 1494h3M434 1488h3M251 1517h3M255 1532h3M211 1522h3M257 1559h3M254 1492h3M172 1536h3M250 1547h3M242 1515h3M403 1516h3M217 1520h3M189 1572h3M376 1533h3M231 1506h3M389 1524h3M244 1521h3M253 1513h3M280 1537h3M398 1534h3M166 1515h3M211 1492h3M227 1525h3M242 1532h3M231 1508h3M208 1518h3M250 1503h3M403 1463h3M220 1503h3M232 1530h3M223 1551h3M361 1461h3M392 1524h3M242 1517h3M202 1494h3M266 1554h3M414 1497h3M205 1517h3M255 1540h3M268 1507h3M406 1586h3M237 1514h3M253 1503h3M239 1499h3M394 1490h3M225 1498h3M403 1511h3M216 1517h3M278 1510h3M377 1503h3M252 1508h3M203 1492h3M220 1503h3M220 1512h3M258 1543h3M241 1534h3M176 1565h3M242 1495h3M258 1533h3M234 1509h3M258 1528h3M366 1581h3M259 1534h3M222 1520h3M234 1501h3M408 1584h3M273 1540h3M196 1516h3M232 1530h3M384 1498h3M246 1521h3M223 1510h3M260 1517h3M211 1523h3M262 1511h3M232 1533h3M231 1554h3M205 1513h3M232 1546h3M384 1536h3M241 1519h3M403 1508h3M238 1498h3M258 1606h3M225 1510h3M392 1498h3M250 1525h3M437 1454h3M231 1509h3M213 1521h3M226 1519h3M269 1500h3M222 1496h3M227 1521h3M229 1559h3M254 1501h3M255 1506h3M196 1493h3M231 1511h3M209 1518h3M290 1477h3M390 1551h3M226 1524h3M427 1537h3M190 1553h3M202 1545h3M379 1492h3M234 1510h3M208 1522h3M406 1526h3M215 1516h3M234 1513h3M417 1471h3M257 1554h3M226 1522h3M213 1497h3M288 1517h3M259 1451h3M423 1531h3M204 1581h3M405 1483h3M265 1540h3M246 1546h3M241 1518h3M240 1525h3M214 1513h3M399 1531h3M397 1501h3M209 1506h3M245 1513h3M241 1550h3M424 1552h3M225 1559h3M217 1513h3M234 1515h3M428 1460h3M211 1528h3M286 1479h3M245 1537h3M404 1518h3M205 1529h3M223 1515h3M223 1512h3M252 1533h3M219 1507h3M243 1514h3M394 1529h3M224 1506h3M273 1534h3M272 1554h3M253 1543h3M381 1558h3M170 1523h3M444 1461h3M167 1580h3M214 1563h3M436 1521h3M253 1513h3M223 1495h3M278 1516h3M235 1519h3M240 1516h3M277 1578h3M430 1613h3M247 1492h3M266 1497h3M244 1464h3M218 1545h3M417 1532h3M206 1496h3M210 1500h3M257 1534h3M392 1472h3M231 1534h3M268 1533h3M406 1541h3M191 1520h3M236 1522h3M395 1461h3M212 1520h3M200 1518h3M382 1565h3M388 1533h3M253 1511h3M404 1523h3M392 1543h3M433 1613h3M243 1533h3M225 1498h3M188 1519h3M250 1528h3M246 1510h3M231 1510h3M419 1527h3M249 1495h3M238 1505h3M394 1514h3M250 1522h3M262 1510h3M213 1553h3M276 1520h3M194 1507h3M401 1498h3M423 1517h3M268 1520h3M401 1527h3M229 1500h3M207 1532h3M242 1517h3M273 1520h3M258 1519h3M230 1517h3M235 1504h3M206 1510h3M403 1525h3M408 1549h3M276 1538h3M249 1523h3M242 1523h3M260 1517h3M220 1504h3M226 1526h3M236 1534h3M265 1516h3M189 1505h3M237 1547h3M417 1493h3M252 1529h3M407 1473h3M398 1524h3M216 1512h3M396 1533h3M244 1504h3M415 1513h3M235 1516h3M208 1508h3M262 1522h3M223 1533h3M220 1518h3M220 1485h3M249 1508h3M233 1512h3M217 1557h3M222 1523h3M426 1458h3M242 1525h3M408 1561h3M378 1514h3M224 1528h3M397 1539h3M217 1506h3M400 1451h3M284 1493h3M380 1507h3M213 1534h3M391 1590h3M219 1577h3M419 1474h3M369 1531h3M242 1528h3M246 1540h3M240 1566h3M191 1536h3M226 1520h3M243 1511h3M216 1588h3M383 1562h3M270 1511h3M229 1512h3M182 1508h3M233 1505h3M234 1520h3M244 1507h3M232 1504h3M218 1521h3M197 1503h3M186 1496h3M239 1497h3M419 1531h3M232 1523h3M237 1567h3M233 1521h3M397 1491h3M231 1520h3M271 1513h3M379 1535h3M264 1516h3M205 1584h3M227 1523h3M249 1528h3M226 1538h3M427 1580h3M423 1490h3M221 1503h3M216 1514h3M204 1517h3M241 1593h3M232 1519h3M247 1509h3M239 1575h3M260 1508h3M388 1573h3M275 1516h3M253 1518h3M209 1519h3M234 1532h3M262 1531h3M211 1534h3M213 1540h3M406 1563h3M237 1501h3M184 1558h3M228 1493h3M393 1544h3M464 1535h3M274 1536h3M260 1519h3M406 1500h3M262 1522h3M213 1508h3M204 1541h3M259 1526h3M249 1506h3M236 1503h3M394 1513h3M414 1587h3M254 1513h3M202 1557h3M230 1530h3M179 1504h3M226 1578h3M214 1536h3M223 1598h3M220 1501h3M273 1529h3M224 1544h3M192 1540h3M256 1522h3M232 1532h3M388 1532h3M195 1514h3M170 1513h3M276 1502h3M419 1518h3M398 1520h3M222 1524h3M239 1505h3M217 1504h3M415 1496h3M190 1494h3M215 1516h3M272 1523h3M202 1504h3M214 1493h3M268 1523h3M282 1504h3M428 1587h3M384 1560h3M179 1535h3M269 1508h3M358 1532h3M225 1514h3M409 1533h3M241 1522h3M428 1548h3M244 1539h3M206 1526h3M184 1524h3M246 1504h3M240 1516h3M428 1522h3M193 1511h3M256 1505h3M207 1506h3M410 1517h3M235 1523h3M196 1512h3M237 1505h3M255 1513h3M284 1495h3M389 1585h3M246 1510h3M217 1533h3M231 1508h3M244 1514h3M456 1564h3M257 1505h3M174 1493h3M227 1514h3M227 1502h3M445 1552h3M227 1520h3M204 1509h3M427 1519h3M407 1520h3M216 1513h3M204 1508h3" stroke="#000" stroke-opacity="0.5" stroke-width="3" fill="none"/>
<path d="M400 1563h3M435 1504h3M278 1495h3M378 1612h3M250 1556h3M318 1610h3M219 1505h3M220 1541h3M190 1504h3M248 1513h3M410 1555h3M240 1518h3M222 1506h3M224 1518h3M263 1583h3M242 1511h3M234 1525h3M215 1513h3M257 1536h3M379 1511h3M207 1510h3M367 1575h3M228 1534h3M202 1571h3M206 1542h3M407 1498h3M256 1520h3M246 1508h3M268 1592h3M256 1515h3M230 1512h3M195 1551h3M275 1514h3M256 1506h3M266 1526h3M254 1497h3M236 1507h3M231 1521h3M231 1538h3M240 1529h3M414 1516h3M425 1558h3M226 1535h3M202 1501h3M255 1491h3M403 1509h3M436 1530h3M251 1512h3M257 1519h3M221 1514h3M387 1554h3M220 1511h3M222 1503h3M242 1511h3M410 1523h3M226 1555h3M295 1551h3M237 1545h3M390 1524h3M272 1578h3M219 1538h3M231 1529h3M231 1510h3M211 1535h3M224 1538h3M247 1556h3M274 1457h3M414 1584h3M257 1496h3M262 1552h3M407 1492h3M229 1544h3M221 1515h3M209 1508h3M227 1513h3M240 1525h3M406 1581h3M237 1538h3M237 1497h3M223 1550h3M264 1594h3M220 1528h3M372 1552h3M410 1482h3M268 1528h3M236 1525h3M418 1601h3M240 1534h3M208 1539h3M243 1499h3M246 1510h3M409 1532h3M218 1595h3M437 1527h3M274 1551h3M225 1524h3M243 1528h3M198 1515h3M222 1505h3M413 1541h3M214 1520h3M409 1494h3M447 1453h3M234 1517h3M288 1463h3M237 1529h3M224 1509h3M402 1538h3M220 1500h3M269 1464h3M226 1491h3M243 1506h3M241 1504h3M229 1522h3M210 1593h3M229 1604h3M223 1521h3M271 1512h3M413 1497h3M231 1515h3M262 1532h3M412 1493h3M225 1511h3M403 1517h3M277 1555h3M223 1539h3M232 1542h3M220 1499h3M216 1527h3M247 1515h3M234 1514h3M400 1529h3M248 1521h3M271 1510h3M248 1518h3M262 1544h3M416 1472h3M227 1520h3M239 1606h3M202 1508h3M241 1535h3M245 1523h3M230 1506h3M244 1541h3M187 1544h3M226 1519h3M251 1508h3M427 1512h3M242 1530h3M389 1506h3M256 1525h3M241 1551h3M199 1526h3M252 1506h3M263 1529h3M253 1533h3M224 1511h3M233 1542h3M245 1514h3M218 1586h3M226 1524h3M271 1525h3M246 1505h3M219 1530h3M230 1516h3M297 1507h3M226 1549h3M240 1544h3M229 1515h3M220 1525h3M234 1518h3M227 1513h3M248 1512h3M252 1551h3M397 1551h3M203 1593h3M378 1474h3M243 1542h3M404 1499h3M252 1519h3M257 1512h3M255 1549h3M251 1512h3M224 1496h3M236 1524h3M238 1509h3M260 1518h3M247 1525h3M199 1551h3M191 1501h3M313 1556h3M403 1522h3M425 1559h3M393 1529h3M424 1534h3M414 1509h3M241 1500h3M255 1515h3M239 1480h3M392 1543h3M262 1524h3M384 1524h3M240 1514h3M384 1538h3M269 1451h3M226 1526h3M238 1492h3M232 1520h3M399 1548h3M387 1486h3M204 1506h3M202 1510h3M249 1518h3M400 1524h3M248 1533h3M245 1531h3M410 1505h3M220 1517h3M260 1500h3M230 1586h3M367 1545h3M199 1503h3M252 1601h3M240 1521h3M228 1510h3M247 1498h3M385 1589h3M231 1499h3M231 1593h3M403 1462h3M221 1522h3M222 1518h3M259 1517h3M240 1525h3M231 1497h3M247 1511h3M169 1544h3M223 1496h3M261 1534h3M215 1510h3M227 1522h3M374 1511h3M240 1492h3M205 1511h3M231 1519h3M269 1495h3M230 1515h3M207 1507h3M211 1509h3M435 1545h3M442 1587h3M206 1518h3M221 1516h3M374 1553h3M262 1522h3M243 1551h3M249 1550h3M211 1527h3M231 1532h3M219 1550h3M418 1584h3M216 1513h3M400 1534h3M399 1517h3M386 1578h3M229 1574h3M243 1495h3M243 1534h3M285 1491h3M234 1511h3M256 1518h3M228 1518h3M243 1538h3M207 1515h3M237 1517h3M236 1555h3M224 1492h3M458 1484h3M416 1564h3M181 1524h3M261 1563h3M225 1503h3M247 1516h3M250 1515h3M306 1547h3M240 1539h3M262 1525h3M208 1502h3M254 1498h3M353 1543h3M210 1518h3M226 1538h3M235 1582h3M182 1501h3M225 1518h3M245 1561h3M246 1520h3M250 1608h3M216 1550h3M207 1515h3M392 1497h3M415 1461h3M253 1509h3M242 1515h3M183 1403h3M379 1515h3M234 1502h3M415 1487h3M270 1518h3M432 1511h3M274 1510h3M234 1495h3M266 1538h3M228 1518h3M232 1517h3M233 1518h3M242 1514h3M421 1486h3M417 1528h3M396 1543h3M262 1509h3M208 1501h3M220 1569h3M234 1496h3M264 1507h3M324 1566h3M206 1539h3M240 1512h3M220 1511h3M242 1555h3M403 1537h3M215 1548h3M242 1531h3M232 1516h3M220 1520h3M411 1513h3M379 1490h3M393 1505h3M397 1501h3M394 1529h3M294 1496h3M376 1517h3M262 1530h3M225 1514h3M441 1568h3M234 1558h3M190 1522h3M422 1462h3M236 1547h3M220 1508h3M249 1496h3M230 1514h3M465 1454h3M279 1560h3M358 1591h3M249 1511h3M249 1497h3M218 1506h3M235 1508h3M170 1517h3M221 1520h3M235 1500h3M255 1523h3M417 1520h3M324 1481h3M255 1502h3M397 1506h3M255 1514h3M249 1555h3M241 1520h3M248 1558h3M207 1526h3M254 1512h3M277 1516h3M228 1526h3M262 1568h3M413 1570h3M210 1551h3M226 1513h3M381 1510h3M278 1538h3M235 1531h3M245 1497h3M398 1529h3M244 1519h3M443 1577h3M232 1557h3M200 1539h3M265 1572h3M214 1540h3M173 1505h3M185 1520h3M408 1520h3M250 1588h3M192 1502h3M281 1526h3M258 1522h3M278 1560h3M205 1533h3M246 1496h3M206 1520h3M261 1508h3M224 1503h3M278 1516h3M228 1518h3M230 1573h3M215 1494h3M401 1552h3M231 1519h3M236 1497h3M246 1511h3M230 1493h3M231 1512h3M208 1527h3M239 1520h3M203 1515h3M250 1524h3M402 1470h3M253 1536h3M214 1531h3M377 1565h3M248 1549h3M249 1545h3M424 1503h3M234 1519h3M230 1523h3M233 1535h3M260 1515h3M205 1504h3M211 1535h3M403 1560h3M229 1548h3M248 1494h3M233 1546h3M406 1501h3M244 1517h3M193 1543h3M200 1585h3M414 1542h3M220 1526h3M215 1493h3M210 1528h3M268 1493h3M233 1544h3M361 1570h3M404 1505h3M254 1569h3M401 1518h3M404 1503h3M247 1510h3M233 1513h3M278 1502h3M377 1539h3M243 1531h3M255 1467h3M237 1525h3M403 1543h3M243 1524h3M231 1495h3M246 1496h3M256 1522h3M396 1518h3M250 1505h3M419 1535h3M238 1510h3M243 1581h3M196 1521h3M280 1502h3M457 1609h3M404 1548h3M259 1530h3M228 1508h3M220 1526h3M228 1520h3M259 1556h3M255 1511h3M275 1516h3M213 1510h3M226 1517h3M234 1579h3M405 1556h3M412 1510h3M256 1565h3M240 1497h3M232 1525h3M417 1526h3M408 1560h3M240 1510h3M214 1500h3M411 1520h3M243 1529h3M245 1515h3M253 1558h3M231 1515h3M384 1526h3M425 1529h3M223 1540h3M235 1614h3M204 1516h3M216 1550h3M245 1524h3M227 1532h3M223 1513h3M403 1531h3M276 1550h3M357 1524h3M245 1497h3M173 1509h3M241 1514h3M436 1470h3M206 1500h3M235 1519h3M223 1519h3M245 1525h3M435 1491h3M241 1509h3M225 1500h3M268 1495h3M226 1512h3M363 1586h3M225 1538h3M249 1511h3M233 1502h3M217 1511h3M284 1546h3M403 1504h3M251 1502h3M443 1499h3M237 1505h3M203 1504h3M252 1525h3M244 1452h3M257 1506h3M386 1500h3M202 1525h3M232 1516h3M396 1511h3M253 1512h3M410 1535h3M181 1505h3M249 1516h3M226 1509h3M191 1494h3M403 1527h3M246 1511h3M283 1545h3M249 1612h3M216 1516h3M210 1501h3M262 1555h3M200 1526h3M231 1522h3M251 1524h3M216 1522h3M257 1500h3M469 1574h3M245 1504h3M206 1516h3M228 1522h3M280 1528h3M234 1516h3M212 1518h3M416 1563h3M280 1553h3M396 1501h3M245 1497h3M231 1519h3M224 1496h3M248 1530h3M245 1525h3M216 1521h3M259 1528h3M181 1505h3M242 1526h3M199 1517h3M232 1502h3M266 1513h3M284 1558h3M273 1521h3M414 1523h3M231 1561h3M393 1517h3M397 1533h3M240 1506h3M229 1538h3M429 1473h3M401 1519h3M252 1594h3M269 1522h3M265 1540h3M218 1531h3M236 1542h3M407 1486h3M247 1563h3M271 1514h3M239 1531h3M207 1574h3M225 1509h3M258 1476h3M249 1500h3M289 1532h3M418 1527h3M237 1522h3M433 1543h3M195 1517h3M380 1526h3M246 1520h3M242 1531h3M207 1517h3M388 1529h3M225 1515h3M231 1513h3M222 1494h3M282 1525h3M205 1508h3M202 1515h3M275 1519h3M173 1524h3M245 1502h3M219 1507h3M229 1521h3M178 1573h3M366 1543h3M214 1514h3M244 1581h3M253 1538h3M195 1523h3M229 1507h3M214 1497h3M247 1515h3M395 1558h3M420 1529h3M260 1455h3M239 1517h3M258 1500h3M367 1511h3M453 1581h3M413 1524h3M235 1530h3M243 1531h3M210 1500h3M201 1526h3M248 1516h3M179 1503h3M422 1606h3M259 1534h3M238 1522h3M254 1529h3M253 1509h3M240 1540h3M269 1520h3M194 1507h3M236 1524h3M214 1501h3M402 1461h3M226 1533h3M405 1542h3M382 1540h3M239 1516h3M240 1516h3M249 1499h3M236 1538h3M364 1550h3M391 1520h3M415 1553h3M200 1515h3M228 1508h3M245 1554h3M196 1497h3M417 1471h3M202 1545h3M290 1492h3M233 1517h3M214 1497h3M262 1531h3M227 1535h3M234 1518h3M417 1583h3M395 1502h3M246 1523h3M221 1544h3M206 1521h3M222 1512h3M231 1509h3M204 1530h3M226 1515h3M255 1583h3M243 1556h3M400 1516h3M177 1584h3M234 1510h3M232 1522h3M229 1506h3M401 1538h3M227 1519h3M434 1522h3M257 1524h3M360 1530h3M235 1524h3M236 1504h3M243 1531h3M251 1527h3M416 1536h3M413 1495h3M259 1509h3M249 1493h3M227 1521h3M231 1499h3M281 1446h3M237 1567h3M232 1515h3M210 1503h3M243 1514h3M272 1526h3M216 1514h3M243 1527h3M183 1500h3M200 1521h3M216 1502h3M187 1515h3M226 1514h3M225 1514h3M260 1544h3M223 1527h3M194 1495h3M276 1517h3M276 1578h3M214 1520h3M209 1497h3M221 1508h3M250 1501h3M243 1498h3M218 1538h3M246 1551h3M223 1517h3M236 1513h3M208 1546h3M387 1595h3M236 1537h3M406 1474h3M238 1521h3M406 1465h3M418 1505h3M401 1523h3M239 1520h3M398 1532h3M219 1519h3M409 1458h3M256 1529h3M255 1515h3M229 1504h3M242 1524h3M415 1508h3M255 1518h3M217 1542h3M217 1535h3M211 1519h3M217 1502h3M199 1508h3M242 1505h3M209 1531h3M242 1545h3M256 1537h3M257 1537h3M407 1555h3M224 1515h3M264 1534h3M234 1514h3M239 1599h3M237 1506h3M200 1548h3M220 1575h3M248 1508h3M228 1539h3M236 1510h3M223 1534h3M245 1515h3M232 1526h3M387 1537h3M420 1419h3M241 1520h3M395 1510h3M394 1504h3M259 1518h3M280 1506h3M214 1534h3M253 1521h3M415 1524h3M218 1524h3M219 1499h3M236 1521h3M402 1504h3M196 1528h3M440 1463h3M255 1496h3M233 1512h3M250 1507h3M238 1546h3M231 1523h3M258 1506h3M204 1534h3M225 1507h3M239 1506h3M261 1517h3M234 1530h3M372 1571h3M238 1518h3M284 1577h3M409 1531h3M196 1525h3M255 1527h3M274 1506h3M248 1494h3M415 1526h3M215 1596h3M258 1540h3M216 1498h3M216 1524h3M242 1515h3M212 1565h3M219 1529h3M228 1509h3M397 1519h3M205 1499h3M441 1541h3M230 1501h3M259 1539h3M252 1518h3M228 1508h3M223 1594h3M224 1525h3M241 1507h3M226 1519h3M199 1534h3M278 1522h3M411 1547h3M250 1534h3M390 1562h3M411 1548h3M255 1500h3M393 1539h3M210 1562h3M208 1520h3M296 1516h3M266 1507h3M194 1525h3M219 1493h3M219 1523h3M250 1499h3M180 1579h3M230 1514h3M229 1506h3M267 1547h3M232 1520h3M230 1501h3M264 1521h3M410 1507h3M240 1497h3M430 1577h3M359 1518h3M235 1530h3M438 1588h3M238 1572h3M235 1544h3M227 1554h3M205 1518h3M206 1534h3M223 1509h3M379 1548h3M401 1528h3M213 1511h3M247 1518h3M222 1533h3M245 1521h3M209 1514h3M207 1514h3M231 1525h3M248 1535h3M229 1503h3M238 1532h3M243 1517h3M399 1517h3M421 1548h3M403 1449h3M283 1555h3M248 1508h3M246 1511h3M413 1501h3M267 1517h3M243 1525h3M248 1518h3M190 1578h3M248 1507h3M251 1523h3M224 1520h3M268 1556h3" stroke="#000" stroke-opacity="0.5" stroke-width="3" fill="none"/>
<path d="M268 1561h3M270 1516h3M228 1530h3M231 1508h3M401 1519h3M405 1527h3M372 1533h3M247 1522h3M374 1490h3M404 1528h3M403 1520h3M210 1533h3M211 1534h3M393 1521h3M244 1547h3M194 1565h3M236 1531h3M245 1516h3M230 1499h3M404 1578h3M245 1514h3M208 1520h3M239 1516h3M192 1519h3M208 1524h3M243 1505h3M408 1473h3M212 1507h3M389 1510h3M397 1518h3M188 1523h3M231 1524h3M378 1460h3M388 1535h3M433 1580h3M253 1520h3M191 1495h3M202 1497h3M209 1518h3M218 1506h3M224 1521h3M230 1506h3M229 1520h3M226 1556h3M247 1538h3M245 1503h3M404 1544h3M233 1509h3M211 1520h3M218 1505h3M229 1534h3M231 1510h3M261 1516h3M222 1524h3M266 1536h3M370 1562h3M419 1463h3M291 1602h3M260 1552h3M384 1512h3M406 1524h3M233 1516h3M395 1524h3M226 1526h3M409 1462h3M244 1519h3M227 1495h3M223 1505h3M262 1515h3M406 1490h3M379 1554h3M441 1473h3M250 1531h3M221 1526h3M183 1528h3M276 1513h3M230 1510h3M278 1576h3M245 1529h3M296 1545h3M241 1499h3M272 1591h3M247 1525h3M385 1526h3M236 1511h3M387 1519h3M382 1518h3M231 1520h3M269 1559h3M220 1542h3M247 1519h3M255 1515h3M235 1530h3M243 1571h3M184 1527h3M403 1567h3M266 1542h3M225 1508h3M211 1526h3M232 1540h3M223 1510h3M227 1560h3M427 1510h3M239 1556h3M253 1515h3M195 1524h3M231 1525h3M212 1522h3M237 1539h3M213 1520h3M227 1502h3M207 1561h3M246 1493h3M234 1513h3M399 1526h3M254 1535h3M264 1508h3M239 1531h3M242 1511h3M435 1456h3M245 1516h3M394 1504h3M226 1519h3M248 1543h3M232 1510h3M233 1498h3M275 1597h3M209 1544h3M270 1497h3M378 1577h3M229 1538h3M238 1507h3M232 1518h3M246 1494h3M412 1466h3M289 1485h3M198 1524h3M210 1512h3M251 1511h3M249 1470h3M217 1515h3M236 1512h3M168 1566h3M251 1510h3M228 1505h3M413 1575h3M225 1500h3M228 1527h3M257 1512h3M246 1530h3M433 1504h3M219 1551h3M276 1510h3M250 1519h3M245 1539h3M240 1535h3M266 1512h3M390 1448h3M218 1527h3M233 1521h3M243 1498h3M228 1521h3M240 1524h3M394 1544h3M382 1495h3M392 1527h3M403 1522h3M240 1527h3M249 1529h3M444 1512h3M265 1547h3M237 1514h3M440 1540h3M241 1515h3M400 1480h3M236 1492h3M266 1527h3M407 1513h3M186 1537h3M172 1514h3M410 1501h3M233 1500h3M201 1516h3M239 1507h3M257 1499h3M171 1561h3M394 1553h3M259 1528h3M208 1516h3M212 1516h3M222 1511h3M442 1515h3M410 1493h3M253 1511h3M251 1532h3M230 1515h3M239 1526h3M235 1500h3M264 1498h3M265 1511h3M252 1503h3M405 1565h3M258 1500h3M245 1499h3M230 1521h3M219 1511h3M209 1517h3M240 1508h3M245 1512h3M453 1538h3M233 1538h3M224 1527h3M424 1521h3M407 1509h3M231 1533h3M357 1519h3M278 1518h3M214 1502h3M231 1446h3M220 1546h3M222 1497h3M210 1523h3M222 1510h3M215 1505h3M225 1601h3M268 1547h3M381 1525h3M435 1552h3M261 1573h3M229 1558h3M244 1502h3M269 1574h3M408 1554h3M248 1528h3M385 1567h3M224 1511h3M233 1521h3M265 1515h3M403 1568h3M248 1527h3M240 1531h3M225 1549h3M255 1527h3M397 1510h3M392 1499h3M237 1517h3M214 1554h3M233 1499h3M285 1515h3M255 1517h3M267 1499h3M399 1530h3M255 1516h3M403 1468h3M218 1507h3M232 1532h3M229 1522h3M200 1513h3M228 1495h3M230 1520h3M393 1516h3M236 1516h3M204 1500h3M217 1504h3M394 1531h3M239 1521h3M268 1509h3M257 1510h3M380 1535h3M252 1545h3M200 1530h3M207 1541h3M254 1515h3M237 1505h3M229 1496h3M224 1508h3M419 1543h3M232 1514h3M229 1555h3M216 1530h3M440 1571h3M421 1472h3M251 1499h3M249 1517h3M227 1513h3M251 1538h3M219 1514h3M285 1573h3M217 1503h3M232 1505h3M227 1518h3M375 1531h3M402 1504h3M242 1506h3M212 1495h3M223 1609h3M228 1515h3M171 1499h3M224 1527h3M401 1526h3M182 1497h3M248 1535h3M243 1519h3M229 1528h3M431 1524h3M391 1526h3M246 1501h3M235 1495h3M202 1514h3M416 1495h3M390 1570h3M174 1516h3M226 1499h3M217 1537h3M244 1533h3M220 1505h3M406 1522h3M259 1533h3M261 1497h3M238 1520h3M361 1542h3M217 1533h3M451 1499h3M246 1530h3M426 1509h3M202 1539h3M199 1501h3M405 1509h3M282 1456h3M234 1535h3M263 1492h3M181 1506h3M203 1500h3M404 1587h3M253 1509h3M217 1516h3M243 1499h3M209 1529h3M254 1525h3M256 1509h3M239 1512h3M213 1527h3M266 1521h3M241 1559h3M219 1529h3M223 1526h3M246 1561h3M426 1495h3M417 1569h3M235 1520h3M415 1501h3M224 1515h3M250 1528h3M400 1468h3M251 1511h3M434 1547h3M260 1560h3M227 1571h3M278 1528h3M218 1520h3M272 1576h3M219 1527h3M414 1488h3M196 1495h3M228 1516h3M232 1526h3M427 1542h3M415 1541h3M272 1514h3M205 1494h3M247 1513h3M234 1516h3M227 1498h3M215 1510h3M196 1540h3M235 1504h3M235 1499h3M390 1555h3M238 1540h3M193 1546h3M412 1528h3M219 1533h3M299 1518h3M420 1511h3M267 1523h3M224 1526h3M208 1543h3M243 1526h3M271 1530h3M255 1501h3M420 1560h3M447 1519h3M421 1516h3M469 1580h3M403 1484h3M233 1515h3M221 1507h3M264 1530h3M245 1567h3M403 1452h3M235 1526h3M224 1584h3M218 1553h3M235 1600h3M270 1509h3M226 1507h3M219 1463h3M168 1533h3M223 1523h3M250 1556h3M253 1535h3M197 1525h3M233 1502h3M226 1524h3M261 1514h3M245 1551h3M215 1573h3M288 1495h3M413 1514h3M293 1573h3M222 1531h3M205 1515h3M244 1536h3M216 1522h3M217 1493h3M237 1525h3M396 1515h3M209 1495h3M256 1581h3M398 1508h3M246 1531h3M230 1517h3M252 1565h3M409 1461h3M238 1525h3M444 1518h3M310 1538h3M243 1504h3M226 1501h3M234 1518h3M251 1547h3M405 1512h3M215 1518h3M412 1490h3M410 1510h3M269 1506h3M232 1533h3M215 1504h3M246 1536h3M213 1498h3M222 1520h3M455 1525h3M244 1502h3M264 1497h3M286 1519h3M230 1518h3M211 1492h3M191 1521h3M237 1499h3M396 1523h3M224 1518h3M236 1587h3M211 1523h3M254 1507h3M281 1542h3M231 1497h3M191 1451h3M208 1510h3M211 1498h3M432 1528h3M420 1444h3M214 1519h3M224 1499h3M215 1517h3M411 1490h3M388 1553h3M234 1522h3M246 1529h3M193 1508h3M399 1537h3M199 1532h3M226 1557h3M380 1578h3M240 1519h3M202 1569h3M227 1511h3M244 1527h3M227 1502h3M216 1499h3M215 1538h3M236 1556h3M232 1520h3M182 1531h3M246 1520h3M224 1516h3M392 1540h3M256 1527h3M395 1528h3M222 1513h3M414 1565h3M181 1511h3M409 1512h3M405 1503h3M276 1516h3M246 1513h3M239 1517h3M431 1504h3M225 1510h3M250 1511h3M438 1552h3M254 1515h3M382 1521h3M427 1498h3M250 1525h3M241 1531h3M406 1513h3M186 1520h3M221 1516h3M257 1533h3M248 1501h3M218 1515h3M421 1537h3M235 1575h3M425 1453h3M399 1500h3M201 1529h3M230 1589h3M218 1499h3M195 1504h3M247 1531h3M200 1514h3M247 1516h3M401 1520h3M444 1505h3M238 1527h3M449 1585h3M391 1542h3M252 1513h3M238 1530h3M270 1517h3M194 1507h3M264 1525h3M396 1515h3M227 1526h3M250 1556h3M267 1547h3M243 1520h3M244 1494h3M259 1551h3M413 1549h3M232 1509h3M408 1533h3M269 1520h3M219 1513h3M393 1571h3M229 1516h3M255 1532h3M226 1610h3M403 1503h3M245 1527h3M447 1560h3M188 1588h3M253 1497h3M232 1510h3M384 1520h3M247 1509h3M204 1573h3M247 1549h3M243 1555h3M219 1530h3M259 1543h3M236 1505h3M246 1500h3M231 1496h3M228 1519h3M232 1538h3M255 1573h3M256 1514h3M446 1479h3M219 1524h3M226 1503h3M259 1503h3M218 1533h3M220 1503h3M415 1492h3M245 1613h3M238 1529h3M194 1554h3M184 1522h3M258 1535h3M238 1562h3M240 1512h3M224 1519h3M229 1506h3M252 1497h3M412 1508h3M399 1505h3M223 1527h3M239 1512h3M397 1555h3M408 1518h3M466 1515h3M219 1524h3M239 1512h3M238 1461h3M304 1518h3M261 1500h3M260 1500h3M240 1513h3M238 1522h3M220 1557h3M243 1519h3M273 1534h3M237 1502h3M274 1522h3M268 1504h3M251 1537h3M308 1503h3M393 1523h3M222 1525h3M222 1498h3M443 1554h3M429 1464h3M460 1588h3M285 1517h3M399 1545h3M239 1502h3M390 1541h3M269 1503h3M240 1525h3M402 1506h3M214 1564h3M236 1508h3M184 1532h3M253 1513h3M404 1493h3M215 1522h3M218 1511h3M393 1520h3M432 1554h3M220 1522h3M220 1523h3M229 1510h3M257 1498h3M398 1603h3M232 1518h3M249 1514h3M399 1460h3M277 1537h3M422 1555h3M415 1524h3M229 1500h3M228 1532h3M393 1518h3M241 1520h3M410 1554h3M433 1500h3M197 1544h3M231 1513h3M259 1494h3M209 1533h3M256 1512h3M225 1516h3M225 1515h3M211 1529h3M223 1528h3M265 1514h3M216 1520h3M232 1515h3M235 1518h3M228 1528h3M227 1526h3M253 1509h3M243 1508h3M445 1456h3M237 1537h3M222 1518h3M403 1540h3M212 1524h3M208 1575h3M213 1546h3M382 1574h3M225 1584h3M204 1522h3M231 1523h3M255 1528h3M235 1529h3M386 1509h3M236 1524h3M242 1550h3M410 1576h3M434 1560h3M179 1507h3M244 1492h3M413 1507h3M423 1530h3M241 1548h3M213 1533h3M299 1512h3M277 1595h3M242 1522h3M220 1499h3M251 1494h3M224 1505h3M409 1533h3M422 1462h3M200 1516h3M196 1517h3M412 1547h3M409 1520h3M199 1509h3M205 1551h3M229 1517h3M389 1501h3M349 1423h3M227 1519h3M232 1513h3M204 1569h3M381 1543h3M371 1493h3M214 1589h3M213 1506h3M232 1526h3M245 1527h3M220 1505h3M213 1543h3M227 1519h3M447 1499h3M231 1504h3M260 1502h3M403 1580h3M228 1504h3M246 1516h3M218 1514h3M240 1512h3M218 1522h3M246 1577h3M241 1497h3M410 1522h3M271 1548h3M415 1513h3M235 1507h3M270 1492h3M252 1496h3M247 1501h3M282 1521h3M378 1583h3M244 1496h3M248 1568h3M402 1499h3M400 1530h3M260 1590h3M232 1528h3M240 1515h3M225 1539h3M242 1496h3M210 1562h3M222 1508h3M213 1522h3M245 1509h3M216 1499h3M230 1563h3M182 1513h3M193 1591h3M231 1508h3M211 1572h3M242 1572h3M213 1579h3M212 1515h3M243 1522h3M407 1543h3M229 1522h3M251 1516h3M230 1515h3M260 1497h3M233 1560h3M228 1518h3M229 1535h3M445 1462h3M219 1569h3M227 1523h3M240 1518h3M212 1519h3M234 1510h3M423 1522h3M212 1497h3M429 1545h3M186 1511h3M249 1534h3M375 1449h3M207 1522h3M386 1576h3M414 1532h3M218 1524h3M418 1481h3M377 1476h3M234 1516h3M239 1513h3M230 1493h3M228 1502h3M246 1509h3M281 1522h3M240 1522h3M242 1536h3M252 1570h3M247 1525h3M412 1467h3M216 1555h3M404 1506h3M237 1493h3M200 1531h3M229 1518h3M225 1528h3M399 1554h3M253 1535h3M259 1521h3M240 1514h3M298 1516h3M255 1508h3M229 1510h3M218 1524h3M246 1523h3M243 1520h3M197 1526h3M228 1500h3M211 1535h3M417 1472h3M228 1502h3M413 1489h3M222 1524h3M260 1514h3M237 1501h3M207 1513h3M266 1512h3M401 1543h3M227 1520h3M393 1514h3M210 1543h3M242 1494h3M191 1556h3M180 1554h3M236 1523h3M238 1531h3M237 1530h3M223 1540h3M235 1509h3M210 1532h3M256 1512h3M375 1498h3M236 1592h3M225 1511h3M268 1540h3M435 1534h3M212 1522h3M259 1512h3M429 1473h3M234 1532h3M220 1533h3M258 1520h3M219 1512h3M199 1516h3M458 1479h3M231 1513h3M371 1537h3M386 1544h3M223 1540h3M238 1515h3M189 1520h3M181 1507h3M270 1550h3M229 1500h3M209 1532h3M442 1614h3M231 1538h3M263 1509h3M204 1523h3M237 1516h3M414 1530h3M206 1504h3M226 1510h3M232 1506h3M194 1520h3M226 1522h3M244 1517h3M227 1509h3M227 1528h3M241 1508h3M257 1508h3M255 1580h3M399 1585h3M365 1495h3M208 1524h3M383 1571h3M241 1498h3M244 1559h3M228 1524h3" stroke="#000" stroke-opacity="0.5" stroke-width="3" fill="none"/>
</g></g>
<g><g transform="scale(0.5)">
<path d="M568 1522h3M772 1486h3M584 1511h3M578 1536h3M537 1522h3M572 1525h3M547 1510h3M581 1517h3M753 1547h3M574 1512h3M587 1509h3M595 1507h3M571 1514h3M592 1518h3M596 1521h3M574 1503h3M554 1507h3M576 1506h3M630 1464h3M540 1515h3M577 1515h3M572 1512h3M581 1512h3M773 1516h3M733 1495h3M730 1509h3M736 1504h3M595 1495h3M574 1556h3M746 1539h3M621 1542h3M740 1468h3M603 1502h3M589 1538h3M545 1538h3M774 1490h3M750 1519h3M564 1512h3M639 1534h3M734 1482h3M584 1534h3M585 1504h3M600 1536h3M581 1503h3M567 1527h3M546 1529h3M589 1555h3M593 1569h3M603 1503h3M745 1525h3M582 1508h3M596 1523h3M567 1523h3M572 1567h3M761 1463h3M750 1513h3M575 1520h3M584 1519h3M569 1563h3M577 1534h3M619 1563h3M561 1582h3M780 1458h3M582 1522h3M604 1516h3M580 1518h3M554 1510h3M650 1498h3M760 1490h3M550 1542h3M602 1500h3M560 1504h3M587 1504h3M763 1525h3M601 1510h3M629 1528h3M751 1499h3M584 1513h3M565 1512h3M564 1519h3M581 1513h3M547 1524h3M573 1549h3M600 1513h3M581 1527h3M592 1498h3M749 1492h3M602 1528h3M577 1508h3M736 1519h3M647 1444h3M767 1484h3M757 1513h3M754 1527h3M579 1490h3M715 1492h3M742 1508h3M573 1495h3M590 1540h3M593 1528h3M594 1529h3M558 1499h3M582 1517h3M730 1521h3M576 1523h3M744 1511h3M578 1519h3M587 1506h3M560 1518h3M611 1470h3M552 1537h3M616 1533h3M574 1510h3M572 1509h3M539 1530h3M762 1493h3M669 1458h3M568 1539h3M598 1492h3M562 1566h3M558 1528h3M628 1537h3M542 1535h3M577 1550h3M566 1516h3M576 1566h3M734 1534h3M599 1503h3M554 1540h3M573 1502h3M722 1510h3M750 1452h3M618 1485h3M747 1503h3M574 1538h3M578 1516h3M595 1533h3M767 1546h3M758 1478h3M565 1495h3M751 1506h3M602 1529h3M584 1513h3M554 1548h3M594 1576h3M567 1499h3M566 1492h3M582 1545h3M756 1484h3M576 1523h3M717 1455h3M738 1518h3M556 1526h3M566 1513h3M592 1525h3M535 1546h3M594 1518h3M607 1501h3M570 1513h3M560 1517h3M712 1515h3M575 1515h3M585 1501h3M778 1519h3M570 1509h3M543 1508h3M566 1498h3M563 1594h3M545 1504h3M700 1470h3M744 1513h3M766 1468h3M772 1502h3M750 1500h3M578 1526h3M578 1527h3M575 1562h3M578 1531h3M725 1527h3M568 1511h3M583 1512h3M630 1453h3M577 1550h3M628 1503h3M570 1508h3M564 1532h3M730 1493h3M777 1564h3M584 1501h3M749 1484h3M763 1483h3M740 1536h3M571 1504h3M729 1515h3M574 1517h3M760 1508h3M597 1512h3M564 1504h3M583 1517h3M592 1598h3M560 1534h3M597 1544h3M567 1511h3M561 1507h3M582 1504h3M569 1508h3M743 1508h3M586 1497h3M750 1515h3M761 1492h3M763 1481h3M597 1509h3M571 1538h3M720 1516h3M739 1475h3M553 1517h3M564 1494h3M572 1499h3M600 1518h3M537 1515h3M626 1495h3M747 1520h3M540 1522h3M600 1548h3M577 1518h3M736 1513h3M530 1595h3M592 1516h3M555 1525h3M565 1498h3M557 1511h3M784 1513h3M595 1496h3M723 1475h3M744 1478h3M566 1504h3M755 1476h3M567 1554h3M740 1511h3M584 1507h3M756 1508h3M582 1500h3M716 1524h3M537 1580h3M588 1512h3M741 1526h3M742 1493h3M556 1553h3M591 1507h3M561 1508h3M756 1505h3M593 1514h3M584 1511h3M743 1543h3M618 1494h3M764 1520h3M531 1552h3M572 1543h3M578 1534h3M756 1477h3M541 1518h3M574 1502h3M557 1495h3M570 1522h3M552 1501h3M597 1598h3M611 1534h3M788 1510h3M625 1527h3M621 1500h3M572 1507h3M551 1518h3M734 1520h3M549 1512h3M580 1523h3M553 1524h3M729 1527h3M556 1531h3M729 1536h3M778 1521h3M583 1512h3M740 1482h3M581 1511h3M559 1513h3M668 1435h3M581 1541h3M596 1514h3M566 1513h3M736 1503h3M583 1515h3M615 1521h3M569 1516h3M798 1535h3M546 1600h3M541 1520h3M569 1514h3M524 1543h3M525 1513h3M572 1495h3M589 1435h3M580 1511h3M603 1506h3M583 1511h3M609 1543h3M608 1504h3M592 1509h3M747 1548h3M763 1541h3M572 1570h3M542 1498h3M752 1506h3M717 1519h3M552 1547h3M542 1524h3M569 1516h3M599 1519h3M597 1539h3M571 1517h3M720 1510h3M737 1510h3M537 1518h3M565 1531h3M776 1509h3M583 1518h3M532 1506h3M574 1518h3M697 1585h3M573 1516h3M607 1535h3M531 1505h3M637 1528h3M585 1516h3M595 1548h3M595 1522h3M726 1486h3M581 1522h3M763 1521h3M562 1526h3M573 1512h3M536 1500h3M747 1481h3M546 1513h3M714 1453h3M590 1551h3M624 1511h3M544 1537h3M543 1518h3M541 1502h3M788 1541h3M742 1466h3M621 1523h3M701 1467h3M529 1494h3M575 1514h3M609 1494h3M571 1538h3M743 1463h3M745 1486h3M582 1502h3M782 1523h3M575 1514h3M553 1520h3M577 1494h3M563 1562h3M575 1491h3M765 1513h3M620 1510h3M599 1489h3M557 1498h3M780 1447h3M585 1528h3M575 1491h3M599 1512h3M565 1522h3M567 1491h3M563 1491h3M554 1584h3M590 1525h3M586 1509h3M598 1540h3M556 1496h3M578 1504h3M611 1514h3M585 1500h3M608 1502h3M752 1503h3M642 1601h3M756 1528h3M574 1495h3M764 1538h3M568 1515h3M567 1520h3M585 1516h3M595 1490h3M571 1443h3M560 1522h3M560 1512h3M590 1509h3M550 1515h3M574 1517h3M629 1592h3M751 1513h3M740 1499h3M614 1505h3M574 1515h3M746 1495h3M598 1500h3M580 1505h3M598 1548h3M554 1509h3M586 1518h3M547 1509h3M591 1520h3M524 1541h3M555 1548h3M599 1498h3M727 1458h3M556 1527h3M595 1524h3M569 1537h3M722 1484h3M579 1519h3M743 1454h3M602 1556h3M590 1551h3M747 1504h3M738 1493h3M744 1492h3M569 1497h3M524 1538h3M544 1505h3M573 1530h3M635 1516h3M720 1528h3M561 1509h3M592 1529h3M597 1528h3M746 1491h3M767 1478h3M751 1476h3M638 1517h3M551 1511h3M538 1516h3M586 1514h3M610 1531h3M581 1496h3M753 1492h3M589 1508h3M589 1540h3M572 1521h3M772 1490h3M567 1527h3M556 1511h3M730 1489h3M724 1516h3M560 1512h3M768 1516h3M582 1570h3M740 1508h3M593 1514h3M576 1525h3M755 1467h3M600 1493h3M606 1564h3M581 1504h3M784 1513h3M764 1489h3M576 1492h3M566 1519h3M742 1537h3M556 1510h3M774 1539h3M555 1521h3M571 1508h3M625 1458h3M600 1512h3M570 1517h3M595 1525h3M754 1491h3M731 1545h3M565 1507h3M748 1469h3M770 1466h3M745 1497h3M575 1500h3M554 1534h3M604 1531h3M577 1501h3M572 1509h3M591 1502h3M774 1546h3M742 1474h3M601 1503h3M539 1508h3M651 1607h3M574 1513h3M556 1520h3M585 1538h3M570 1582h3M593 1510h3M604 1501h3M573 1555h3M534 1520h3M589 1524h3M750 1426h3M597 1549h3M765 1485h3M589 1502h3M591 1495h3M562 1506h3M598 1519h3M736 1544h3M594 1535h3M756 1479h3M546 1507h3M595 1539h3M547 1493h3M562 1493h3M747 1477h3M603 1532h3M564 1519h3M623 1445h3M631 1513h3M603 1522h3M584 1511h3M577 1512h3M579 1514h3M546 1507h3M565 1513h3M521 1577h3M622 1538h3M564 1551h3M555 1507h3M601 1547h3M761 1518h3M580 1522h3M576 1541h3M617 1494h3M568 1517h3M587 1511h3M591 1510h3M619 1504h3M565 1495h3M549 1521h3M558 1533h3M728 1509h3M749 1480h3M600 1537h3M585 1530h3M760 1498h3M610 1500h3M589 1505h3M713 1544h3M616 1508h3M599 1529h3M764 1527h3M580 1527h3M639 1533h3M589 1532h3M573 1459h3M607 1496h3M630 1550h3M571 1515h3M572 1519h3M569 1543h3M756 1492h3M606 1430h3M582 1511h3M617 1525h3M604 1532h3M562 1489h3M729 1477h3M583 1495h3M622 1552h3M568 1508h3M545 1516h3M581 1580h3M579 1518h3M732 1483h3M576 1514h3M577 1516h3M562 1508h3M745 1486h3M573 1513h3M721 1513h3M762 1538h3M563 1534h3M749 1486h3M757 1493h3M548 1504h3M584 1510h3M751 1508h3M586 1513h3M556 1513h3M771 1517h3M511 1503h3M595 1508h3M577 1534h3M595 1522h3M544 1504h3M539 1551h3M603 1497h3M565 1530h3M759 1514h3M577 1495h3M774 1534h3M744 1505h3M748 1529h3M572 1518h3M563 1513h3M592 1551h3M576 1506h3M513 1561h3M597 1512h3M540 1504h3M744 1504h3M522 1533h3M570 1507h3M760 1466h3M552 1518h3M573 1518h3M541 1512h3M577 1517h3M752 1512h3M579 1525h3M529 1542h3M588 1507h3M776 1476h3M561 1514h3M741 1491h3M752 1548h3M592 1516h3M569 1511h3M583 1476h3M718 1460h3M537 1513h3M522 1511h3M555 1512h3M530 1531h3M592 1509h3M579 1524h3M551 1509h3M589 1516h3M579 1509h3M775 1518h3M766 1507h3M580 1475h3M585 1511h3M573 1528h3M749 1519h3M567 1445h3M732 1474h3M755 1468h3M556 1527h3M581 1514h3M586 1503h3M558 1531h3M596 1528h3M586 1489h3M586 1508h3M603 1490h3M721 1500h3M763 1462h3M740 1462h3M560 1500h3M734 1527h3M569 1506h3M567 1521h3M746 1512h3M636 1491h3M760 1525h3M582 1504h3M565 1511h3M763 1464h3M573 1509h3M731 1483h3M605 1508h3M582 1537h3M737 1505h3M743 1489h3M563 1563h3M749 1563h3M760 1540h3M557 1507h3M578 1526h3M556 1544h3M585 1562h3M590 1527h3M568 1533h3M745 1469h3M580 1513h3M568 1506h3M599 1518h3M727 1537h3M581 1490h3M713 1455h3M588 1516h3M751 1494h3M556 1512h3M756 1478h3M571 1504h3M584 1495h3M568 1541h3M567 1515h3M557 1503h3M741 1491h3M566 1515h3M759 1493h3M612 1530h3M774 1498h3M622 1522h3M756 1511h3M738 1508h3M603 1508h3M567 1492h3M582 1492h3M745 1508h3M560 1501h3M544 1506h3M564 1525h3M757 1481h3M550 1525h3M547 1449h3M769 1472h3M598 1495h3M717 1519h3M589 1497h3M577 1520h3M732 1525h3M577 1516h3M563 1497h3M556 1590h3M590 1511h3M606 1532h3M592 1527h3M570 1510h3M568 1505h3M599 1551h3M555 1523h3M557 1490h3M591 1525h3M767 1520h3M586 1509h3M565 1510h3M584 1521h3M623 1523h3M561 1503h3M602 1547h3M768 1523h3M574 1511h3M738 1463h3M582 1507h3M579 1518h3M581 1507h3M737 1513h3M559 1522h3M541 1503h3M747 1524h3M545 1492h3M594 1504h3M570 1506h3M559 1511h3M773 1489h3M752 1510h3M587 1532h3M606 1548h3M745 1528h3M752 1483h3M586 1503h3M761 1497h3M554 1512h3M564 1513h3M510 1511h3M584 1520h3M752 1526h3M567 1517h3M589 1500h3M559 1596h3M574 1511h3M579 1518h3M749 1491h3M531 1540h3M617 1504h3M605 1503h3M737 1496h3M546 1512h3M521 1523h3M752 1504h3M580 1519h3M569 1509h3M578 1559h3M590 1559h3M743 1516h3M579 1514h3M596 1542h3M603 1532h3M607 1512h3M763 1478h3M769 1512h3M732 1491h3M732 1523h3M574 1495h3M757 1469h3M538 1526h3M757 1483h3M567 1522h3M590 1498h3M595 1502h3M542 1487h3M740 1543h3M594 1523h3M580 1525h3M728 1531h3M589 1507h3M585 1531h3M764 1532h3M588 1526h3M604 1503h3M728 1515h3M594 1502h3M662 1495h3M608 1512h3M548 1536h3M593 1521h3M763 1493h3M566 1501h3M742 1505h3M594 1512h3M551 1499h3M577 1516h3M559 1516h3M760 1499h3M571 1541h3M562 1533h3M547 1503h3M601 1500h3M570 1503h3M755 1513h3M570 1503h3M590 1538h3M567 1538h3M554 1510h3M560 1510h3M609 1526h3M558 1512h3M566 1517h3M735 1479h3M579 1495h3M759 1509h3M627 1448h3M759 1517h3M755 1472h3M768 1497h3M766 1515h3M598 1546h3M580 1542h3M557 1489h3M749 1557h3M719 1503h3M570 1506h3M742 1536h3M594 1515h3M742 1570h3M556 1541h3M588 1510h3M599 1520h3M508 1507h3M595 1519h3M597 1490h3M557 1520h3M571 1500h3M744 1484h3M537 1494h3M559 1528h3M731 1456h3M568 1504h3M737 1477h3M758 1584h3M554 1556h3M534 1560h3M556 1493h3M583 1532h3M742 1455h3M573 1504h3M561 1500h3M765 1551h3M611 1504h3M766 1484h3M771 1531h3M624 1492h3M587 1500h3M561 1558h3M580 1531h3M580 1498h3M744 1502h3M572 1524h3M566 1550h3M767 1494h3M756 1532h3M567 1521h3M743 1496h3M580 1516h3M573 1550h3M730 1479h3M755 1508h3M547 1537h3M532 1509h3M586 1492h3M752 1481h3M522 1492h3M580 1535h3M611 1515h3M557 1498h3M562 1501h3M624 1526h3M753 1499h3M613 1509h3M585 1508h3M565 1507h3M577 1563h3M754 1492h3M582 1495h3M570 1513h3M553 1493h3M591 1512h3M578 1515h3M776 1554h3M743 1484h3M548 1527h3M540 1586h3M740 1527h3M582 1535h3M595 1515h3M733 1490h3M730 1501h3M594 1512h3M573 1560h3M590 1506h3M558 1585h3" stroke="#000" stroke-opacity="0.5" stroke-width="3" fill="none"/>
<path d="M627 1538h3M561 1511h3M579 1491h3M589 1502h3M779 1525h3M552 1592h3M751 1516h3M571 1503h3M746 1520h3M745 1478h3M551 1507h3M739 1493h3M558 1501h3M686 1457h3M588 1560h3M617 1543h3M587 1506h3M766 1481h3M624 1500h3M756 1480h3M558 1507h3M746 1481h3M747 1512h3M599 1504h3M628 1516h3M517 1516h3M545 1510h3M606 1526h3M572 1523h3M772 1532h3M578 1503h3M582 1539h3M774 1556h3M590 1536h3M553 1492h3M508 1498h3M611 1570h3M596 1516h3M572 1516h3M573 1526h3M529 1530h3M615 1548h3M583 1583h3M570 1509h3M576 1511h3M578 1503h3M588 1498h3M558 1546h3M632 1520h3M582 1506h3M569 1438h3M604 1547h3M599 1522h3M761 1574h3M575 1579h3M558 1539h3M757 1487h3M745 1472h3M563 1511h3M756 1533h3M606 1504h3M599 1519h3M571 1507h3M578 1496h3M760 1532h3M565 1500h3M596 1516h3M558 1524h3M581 1520h3M552 1496h3M589 1490h3M595 1480h3M595 1601h3M552 1501h3M562 1508h3M546 1550h3M785 1509h3M760 1502h3M565 1513h3M564 1504h3M579 1549h3M546 1514h3M572 1506h3M747 1502h3M732 1499h3M614 1514h3M601 1505h3M799 1511h3M606 1491h3M560 1521h3M555 1575h3M600 1521h3M576 1504h3M582 1544h3M767 1481h3M628 1469h3M760 1545h3M726 1493h3M592 1515h3M578 1508h3M541 1507h3M585 1527h3M597 1497h3M744 1525h3M534 1509h3M585 1522h3M601 1507h3M576 1539h3M575 1563h3M530 1493h3M749 1510h3M593 1552h3M556 1501h3M583 1558h3M591 1499h3M572 1466h3M564 1597h3M588 1518h3M594 1521h3M576 1498h3M598 1505h3M746 1511h3M735 1500h3M740 1540h3M584 1491h3M598 1523h3M599 1502h3M742 1500h3M565 1568h3M551 1538h3M611 1575h3M546 1522h3M558 1499h3M761 1502h3M581 1565h3M591 1510h3M601 1500h3M554 1515h3M606 1516h3M637 1496h3M615 1471h3M728 1486h3M550 1441h3M555 1511h3M614 1503h3M766 1532h3M580 1580h3M759 1489h3M591 1530h3M729 1550h3M558 1513h3M595 1510h3M596 1505h3M597 1523h3M576 1533h3M589 1507h3M578 1520h3M753 1471h3M751 1478h3M566 1510h3M600 1511h3M771 1508h3M733 1517h3M582 1515h3M742 1468h3M591 1568h3M579 1515h3M555 1507h3M549 1506h3M549 1590h3M535 1525h3M766 1492h3M598 1501h3M581 1496h3M577 1501h3M743 1509h3M554 1508h3M734 1481h3M587 1489h3M747 1508h3M591 1524h3M563 1552h3M583 1516h3M581 1507h3M741 1475h3M585 1505h3M583 1610h3M532 1498h3M578 1513h3M588 1503h3M606 1540h3M574 1496h3M590 1574h3M601 1542h3M590 1549h3M587 1529h3M739 1509h3M762 1509h3M574 1524h3M597 1504h3M602 1514h3M563 1506h3M766 1498h3M725 1477h3M540 1513h3M581 1504h3M575 1543h3M564 1502h3M719 1531h3M749 1505h3M568 1522h3M565 1531h3M600 1497h3M570 1526h3M737 1536h3M765 1529h3M720 1507h3M777 1495h3M608 1517h3M743 1531h3M745 1525h3M763 1532h3M614 1523h3M592 1504h3M609 1482h3M591 1503h3M576 1533h3M583 1508h3M587 1579h3M588 1516h3M558 1588h3M599 1502h3M764 1511h3M638 1441h3M574 1518h3M582 1524h3M613 1513h3M741 1518h3M570 1497h3M538 1556h3M573 1518h3M594 1496h3M571 1504h3M612 1512h3M550 1552h3M578 1519h3M577 1514h3M747 1474h3M731 1532h3M611 1539h3M594 1509h3M590 1520h3M552 1508h3M630 1504h3M573 1519h3M754 1503h3M569 1507h3M559 1531h3M572 1499h3M566 1504h3M558 1532h3M725 1506h3M590 1501h3M529 1491h3M578 1547h3M738 1514h3M725 1507h3M569 1517h3M599 1502h3M786 1453h3M745 1544h3M740 1496h3M593 1523h3M586 1518h3M586 1525h3M753 1515h3M584 1504h3M530 1503h3M579 1526h3M611 1520h3M602 1511h3M731 1482h3M754 1509h3M583 1496h3M542 1598h3M595 1516h3M738 1550h3M598 1531h3M743 1492h3M560 1497h3M532 1510h3M587 1520h3M574 1539h3M603 1506h3M752 1506h3M580 1491h3M571 1521h3M607 1492h3M554 1550h3M589 1501h3M592 1502h3M578 1524h3M524 1502h3M744 1480h3M759 1487h3M596 1507h3M574 1598h3M567 1503h3M558 1501h3M529 1518h3M592 1519h3M558 1543h3M612 1497h3M773 1496h3M641 1576h3M603 1519h3M603 1506h3M572 1510h3M572 1575h3M592 1531h3M538 1510h3M590 1547h3M557 1512h3M738 1496h3M590 1523h3M574 1505h3M663 1573h3M525 1509h3M560 1555h3M588 1524h3M571 1510h3M582 1512h3M734 1512h3M555 1518h3M628 1501h3M570 1526h3M604 1519h3M606 1527h3M610 1591h3M621 1511h3M724 1485h3M587 1521h3M578 1495h3M733 1485h3M598 1503h3M581 1493h3M538 1514h3M572 1572h3M563 1527h3M593 1545h3M583 1493h3M584 1534h3M593 1489h3M604 1500h3M584 1513h3M572 1508h3M752 1494h3M632 1511h3M568 1513h3M582 1533h3M594 1536h3M556 1510h3M534 1499h3M587 1513h3M592 1505h3M577 1504h3M762 1538h3M622 1493h3M574 1517h3M559 1489h3M587 1532h3M570 1503h3M585 1523h3M622 1511h3M578 1538h3M568 1494h3M604 1518h3M595 1532h3M580 1530h3M545 1506h3M587 1528h3M604 1513h3M575 1511h3M592 1503h3M577 1512h3M585 1505h3M586 1509h3M588 1594h3M614 1507h3M746 1508h3M595 1552h3M590 1508h3M564 1526h3M601 1509h3M638 1509h3M600 1542h3M567 1504h3M630 1505h3M613 1555h3M600 1557h3M707 1495h3M744 1546h3M553 1585h3M779 1459h3M750 1503h3M570 1528h3M736 1478h3M750 1496h3M568 1516h3M558 1525h3M749 1493h3M755 1493h3M587 1511h3M743 1511h3M749 1489h3M550 1535h3M736 1483h3M574 1515h3M751 1466h3M567 1513h3M599 1495h3M748 1505h3M596 1532h3M630 1521h3M736 1496h3M752 1482h3M557 1520h3M589 1552h3M587 1511h3M740 1512h3M745 1486h3M587 1502h3M749 1479h3M623 1490h3M594 1424h3M775 1540h3M746 1479h3M561 1527h3M745 1517h3M593 1530h3M587 1518h3M572 1507h3M731 1564h3M765 1502h3M745 1511h3M560 1503h3M747 1507h3M744 1488h3M541 1524h3M766 1472h3M734 1546h3M608 1507h3M543 1551h3M601 1496h3M585 1562h3M779 1486h3M585 1556h3M604 1510h3M575 1573h3M585 1524h3M598 1559h3M595 1505h3M580 1523h3M602 1504h3M539 1511h3M640 1525h3M640 1446h3M612 1498h3M590 1533h3M569 1516h3M761 1463h3M568 1492h3M603 1541h3M748 1527h3M752 1519h3M534 1493h3M750 1480h3M744 1494h3M751 1504h3M548 1560h3M595 1526h3M603 1510h3M565 1490h3M769 1507h3M566 1521h3M740 1512h3M638 1501h3M615 1514h3M562 1503h3M556 1555h3M572 1498h3M737 1515h3M562 1520h3M563 1505h3M738 1522h3M756 1476h3M757 1478h3M567 1500h3M641 1454h3M568 1532h3M746 1498h3M641 1496h3M587 1503h3M771 1479h3M776 1496h3M754 1536h3M548 1510h3M755 1472h3M570 1531h3M572 1534h3M590 1510h3M609 1527h3M738 1530h3M545 1544h3M564 1557h3M762 1538h3M754 1484h3M564 1539h3M592 1496h3M586 1497h3M601 1528h3M573 1506h3M551 1541h3M583 1529h3M765 1539h3M569 1545h3M713 1483h3M758 1525h3M739 1486h3M569 1575h3M550 1517h3M557 1567h3M766 1513h3M573 1499h3M770 1482h3M785 1499h3M755 1495h3M564 1532h3M769 1499h3M553 1503h3M778 1463h3M595 1542h3M739 1524h3M754 1501h3M772 1490h3M774 1476h3M576 1506h3M777 1494h3M556 1505h3M543 1516h3M568 1531h3M711 1541h3M745 1472h3M588 1505h3M568 1503h3M744 1510h3M565 1524h3M584 1502h3M545 1585h3M547 1513h3M593 1540h3M780 1526h3M576 1534h3M604 1510h3M594 1546h3M596 1555h3M764 1506h3M728 1462h3M732 1558h3M706 1496h3M571 1503h3M608 1538h3M555 1517h3M577 1523h3M754 1506h3M563 1515h3M734 1550h3M769 1523h3M759 1523h3M520 1502h3M571 1534h3M573 1544h3M548 1498h3M557 1526h3M735 1483h3M557 1531h3M532 1568h3M578 1514h3M530 1543h3M758 1505h3M554 1509h3M712 1478h3M736 1572h3M579 1506h3M550 1515h3M579 1499h3M756 1502h3M731 1499h3M581 1493h3M655 1578h3M530 1493h3M726 1499h3M704 1504h3M776 1501h3M639 1608h3M763 1477h3M582 1530h3M721 1463h3M574 1510h3M557 1509h3M605 1498h3M601 1492h3M587 1502h3M577 1514h3M584 1550h3M755 1516h3M582 1554h3M605 1511h3M590 1526h3M590 1515h3M606 1501h3M759 1540h3M588 1505h3M539 1523h3M711 1487h3M582 1510h3M566 1520h3M564 1561h3M598 1519h3M657 1526h3M582 1501h3M593 1538h3M641 1611h3M632 1530h3M586 1532h3M747 1515h3M517 1506h3M742 1536h3M768 1514h3M573 1495h3M617 1575h3M532 1518h3M547 1490h3M593 1511h3M555 1500h3M649 1473h3M600 1528h3M589 1513h3M537 1530h3M754 1529h3M595 1537h3M577 1516h3M553 1526h3M584 1506h3M547 1558h3M635 1511h3M578 1519h3M571 1565h3M597 1509h3M609 1518h3M589 1511h3M575 1519h3M567 1539h3M575 1502h3M576 1548h3M579 1529h3M563 1516h3M585 1484h3M596 1530h3M759 1504h3M575 1520h3M608 1508h3M573 1504h3M736 1535h3M766 1507h3M608 1508h3M541 1559h3M575 1588h3M756 1576h3M575 1507h3M565 1505h3M606 1525h3M729 1458h3M569 1505h3M586 1515h3M589 1508h3M736 1502h3M588 1507h3M592 1530h3M573 1512h3M710 1489h3M567 1506h3M605 1545h3M560 1526h3M586 1458h3M569 1508h3M578 1494h3M547 1542h3M741 1500h3M595 1457h3M777 1426h3M744 1491h3M566 1537h3M560 1516h3M782 1516h3M590 1508h3M736 1517h3M597 1504h3M737 1486h3M612 1507h3M594 1510h3M559 1580h3M638 1520h3M531 1491h3M586 1522h3M547 1541h3M752 1467h3M744 1559h3M708 1517h3M747 1513h3M762 1530h3M597 1520h3M562 1516h3M561 1534h3M589 1584h3M587 1493h3M612 1526h3M526 1523h3M763 1492h3M775 1504h3M545 1508h3M617 1498h3M571 1506h3M762 1505h3M585 1494h3M570 1514h3M614 1535h3M734 1505h3M557 1514h3M580 1507h3M582 1513h3M595 1506h3M629 1534h3M571 1527h3M574 1513h3M743 1484h3M525 1543h3M611 1516h3M720 1479h3M556 1537h3M573 1572h3M598 1513h3M577 1519h3M551 1590h3M607 1513h3M542 1540h3M749 1486h3M580 1510h3M561 1504h3M618 1541h3M579 1539h3M596 1513h3M611 1540h3M606 1504h3M755 1561h3M566 1506h3M760 1490h3M571 1529h3M757 1485h3M566 1489h3M590 1502h3M573 1526h3M581 1518h3M535 1546h3M765 1488h3M754 1496h3M597 1557h3M643 1582h3M754 1455h3M605 1510h3M560 1558h3M596 1501h3M586 1542h3M624 1513h3M603 1514h3M752 1469h3M550 1506h3M740 1546h3M541 1519h3M545 1498h3M566 1517h3M624 1504h3M738 1514h3M579 1574h3M593 1513h3M595 1490h3M572 1500h3M588 1557h3M773 1512h3M533 1581h3M766 1452h3M535 1520h3M604 1494h3M578 1592h3M565 1523h3M749 1475h3M610 1537h3M567 1526h3M625 1489h3M595 1533h3M545 1511h3M587 1499h3M739 1499h3M600 1516h3M591 1519h3M538 1527h3M584 1516h3M570 1515h3M554 1530h3M606 1517h3M564 1557h3M765 1473h3M755 1501h3M742 1518h3M573 1503h3M606 1546h3M738 1474h3M596 1509h3M610 1506h3M579 1520h3M553 1545h3M592 1502h3M596 1593h3M559 1492h3M744 1538h3M556 1511h3M558 1571h3M719 1481h3M734 1406h3M601 1500h3M564 1519h3M554 1524h3M591 1498h3M774 1494h3M790 1490h3M610 1493h3M727 1488h3M576 1501h3M571 1542h3M591 1530h3M604 1511h3M742 1511h3M577 1509h3M562 1499h3M749 1530h3M743 1507h3M570 1504h3M573 1512h3M581 1490h3M598 1515h3M769 1549h3M544 1509h3M595 1497h3M588 1519h3M753 1539h3M771 1529h3M577 1508h3M614 1504h3M605 1444h3M634 1448h3M568 1491h3M591 1509h3M568 1532h3M587 1545h3M592 1511h3M560 1524h3M561 1567h3M586 1522h3M579 1519h3M729 1464h3M601 1564h3M582 1541h3M752 1502h3M567 1556h3M568 1501h3M558 1496h3M581 1506h3M557 1553h3M600 1501h3M561 1557h3M763 1493h3M582 1501h3M614 1515h3M564 1510h3M574 1513h3M751 1484h3M569 1508h3M568 1523h3M578 1507h3M764 1504h3M717 1535h3M597 1526h3M760 1506h3M737 1463h3M604 1512h3M593 1525h3M783 1487h3M564 1510h3M730 1510h3M752 1510h3M536 1471h3M780 1491h3M587 1490h3M729 1472h3M580 1507h3M558 1538h3M594 1501h3M565 1549h3M596 1513h3M565 1567h3M530 1542h3M564 1513h3M593 1510h3M792 1470h3M582 1494h3M754 1509h3M550 1510h3M598 1536h3M734 1554h3M577 1470h3M555 1526h3M596 1595h3M619 1534h3M589 1500h3M573 1540h3M567 1499h3M570 1515h3M562 1524h3M572 1508h3" stroke="#000" stroke-opacity="0.5" stroke-width="3" fill="none"/>
<path d="M740 1560h3M593 1519h3M566 1504h3M546 1519h3M576 1525h3M576 1545h3M657 1509h3M579 1518h3M597 1508h3M738 1541h3M545 1544h3M583 1531h3M623 1505h3M572 1494h3M589 1509h3M597 1524h3M587 1494h3M623 1539h3M563 1503h3M754 1490h3M630 1530h3M756 1535h3M604 1507h3M740 1512h3M579 1515h3M613 1521h3M603 1575h3M775 1520h3M564 1508h3M574 1513h3M575 1517h3M594 1520h3M566 1510h3M749 1485h3M715 1513h3M699 1578h3M589 1612h3M587 1490h3M603 1514h3M729 1476h3M569 1522h3M758 1464h3M568 1561h3M563 1570h3M783 1515h3M591 1523h3M766 1500h3M573 1543h3M762 1489h3M761 1513h3M801 1513h3M587 1512h3M583 1591h3M629 1528h3M573 1507h3M583 1490h3M643 1542h3M581 1501h3M569 1511h3M518 1510h3M580 1533h3M753 1473h3M786 1509h3M557 1490h3M580 1541h3M785 1517h3M574 1500h3M605 1511h3M763 1465h3M735 1562h3M786 1492h3M582 1536h3M581 1512h3M568 1502h3M545 1503h3M557 1500h3M728 1512h3M767 1481h3M582 1505h3M538 1524h3M543 1524h3M582 1603h3M562 1503h3M740 1469h3M757 1485h3M613 1547h3M575 1507h3M538 1508h3M646 1517h3M566 1580h3M733 1445h3M574 1530h3M766 1510h3M756 1520h3M581 1540h3M776 1509h3M562 1543h3M618 1515h3M579 1503h3M571 1596h3M746 1512h3M762 1474h3M579 1503h3M577 1525h3M754 1532h3M573 1524h3M606 1552h3M595 1526h3M754 1477h3M589 1505h3M616 1525h3M716 1492h3M775 1464h3M755 1473h3M737 1452h3M562 1522h3M563 1491h3M736 1528h3M749 1503h3M589 1503h3M582 1508h3M557 1500h3M611 1536h3M725 1516h3M607 1496h3M586 1514h3M589 1549h3M619 1490h3M568 1512h3M757 1503h3M584 1498h3M744 1549h3M542 1510h3M583 1521h3M767 1482h3M566 1513h3M573 1501h3M552 1561h3M765 1510h3M573 1512h3M570 1520h3M633 1458h3M579 1504h3M628 1502h3M769 1488h3M582 1491h3M703 1532h3M530 1519h3M566 1495h3M611 1500h3M741 1479h3M598 1507h3M587 1495h3M736 1517h3M753 1472h3M744 1525h3M556 1509h3M555 1522h3M751 1468h3M754 1447h3M562 1530h3M580 1500h3M574 1505h3M621 1530h3M577 1509h3M737 1504h3M741 1505h3M562 1499h3M750 1540h3M590 1495h3M580 1512h3M608 1454h3M744 1513h3M775 1481h3M594 1522h3M579 1531h3M537 1543h3M585 1520h3M565 1519h3M583 1506h3M549 1518h3M748 1463h3M555 1556h3M578 1539h3M542 1514h3M754 1502h3M554 1497h3M749 1503h3M590 1520h3M530 1463h3M543 1490h3M583 1542h3M549 1533h3M544 1524h3M566 1567h3M740 1536h3M751 1490h3M554 1500h3M744 1498h3M587 1451h3M608 1512h3M557 1515h3M573 1561h3M594 1512h3M581 1510h3M653 1545h3M757 1525h3M558 1514h3M515 1505h3M746 1520h3M764 1550h3M587 1504h3M565 1536h3M577 1507h3M734 1469h3M586 1513h3M582 1515h3M761 1512h3M768 1486h3M575 1511h3M741 1456h3M747 1481h3M757 1507h3M544 1516h3M588 1605h3M769 1512h3M586 1494h3M756 1517h3M581 1530h3M745 1513h3M586 1521h3M595 1507h3M583 1508h3M590 1516h3M714 1561h3M753 1507h3M749 1520h3M538 1584h3M634 1521h3M608 1549h3M755 1489h3M597 1518h3M566 1500h3M594 1574h3M580 1545h3M557 1560h3M565 1518h3M587 1512h3M749 1511h3M615 1442h3M535 1593h3M597 1523h3M538 1527h3M731 1492h3M610 1490h3M547 1509h3M751 1520h3M616 1535h3M561 1491h3M563 1506h3M569 1503h3M587 1533h3M719 1508h3M738 1541h3M768 1479h3M627 1544h3M792 1558h3M737 1478h3M557 1497h3M593 1572h3M567 1501h3M535 1518h3M524 1498h3M580 1537h3M568 1551h3M754 1497h3M533 1514h3M606 1511h3M629 1568h3M604 1491h3M602 1572h3M569 1506h3M545 1513h3M578 1494h3M575 1515h3M572 1506h3M587 1504h3M602 1540h3M562 1496h3M606 1512h3M582 1511h3M562 1530h3M767 1522h3M604 1515h3M584 1602h3M629 1511h3M574 1512h3M745 1510h3M553 1502h3M625 1547h3M563 1506h3M519 1509h3M582 1529h3M584 1519h3M571 1545h3M749 1546h3M627 1507h3M631 1466h3M595 1546h3M572 1525h3M740 1497h3M761 1519h3M732 1485h3M760 1462h3M583 1542h3M582 1494h3M738 1511h3M566 1534h3M577 1520h3M739 1484h3M581 1526h3M628 1530h3M556 1508h3M574 1501h3M777 1527h3M592 1513h3M570 1499h3M636 1537h3M636 1495h3M580 1513h3M592 1495h3M561 1560h3M645 1476h3M641 1461h3M755 1496h3M580 1552h3M579 1547h3M739 1542h3M600 1515h3M726 1450h3M741 1451h3M571 1568h3M754 1494h3M567 1503h3M571 1509h3M601 1520h3M722 1496h3M763 1511h3M577 1510h3M575 1508h3M572 1530h3M545 1558h3M590 1538h3M576 1516h3M593 1521h3M541 1516h3M622 1489h3M583 1537h3M794 1476h3M749 1517h3M598 1507h3M565 1494h3M569 1604h3M565 1515h3M616 1525h3M545 1520h3M560 1505h3M564 1497h3M615 1499h3M771 1469h3M591 1496h3M602 1531h3M758 1461h3M550 1504h3M772 1497h3M757 1513h3M567 1512h3M597 1511h3M585 1506h3M551 1510h3M753 1499h3M738 1499h3M545 1520h3M627 1500h3M737 1528h3M623 1565h3M568 1579h3M609 1502h3M577 1522h3M572 1571h3M606 1525h3M597 1526h3M744 1479h3M584 1589h3M567 1506h3M602 1515h3M546 1522h3M774 1493h3M638 1585h3M605 1501h3M768 1486h3M545 1506h3M605 1530h3M573 1505h3M749 1508h3M532 1538h3M587 1515h3M574 1534h3M555 1528h3M531 1551h3M577 1525h3M744 1515h3M548 1500h3M584 1498h3M756 1454h3M600 1510h3M595 1515h3M740 1506h3M608 1581h3M555 1514h3M569 1535h3M771 1522h3M586 1537h3M575 1517h3M528 1549h3M577 1508h3M604 1576h3M550 1501h3M592 1532h3M555 1490h3M743 1487h3M760 1491h3M570 1520h3M531 1586h3M584 1558h3M580 1521h3M602 1541h3M595 1496h3M581 1496h3M565 1539h3M571 1526h3M731 1512h3M577 1545h3M588 1517h3M587 1518h3M595 1511h3M616 1559h3M592 1551h3M591 1521h3M743 1539h3M755 1532h3M549 1564h3M577 1495h3M559 1497h3M735 1509h3M556 1519h3M764 1501h3M590 1522h3M577 1498h3M552 1531h3M736 1501h3M762 1468h3M730 1506h3M582 1574h3M566 1490h3M575 1515h3M568 1491h3M589 1562h3M585 1541h3M562 1507h3M559 1506h3M621 1442h3M762 1467h3M737 1564h3M510 1516h3M641 1526h3M624 1457h3M609 1541h3M542 1537h3M570 1503h3M607 1541h3M609 1531h3M562 1503h3M571 1511h3M575 1513h3M767 1504h3M555 1499h3M576 1513h3M619 1533h3M753 1527h3M578 1552h3M590 1551h3M766 1540h3M582 1512h3M631 1518h3M737 1520h3M770 1506h3M577 1506h3M738 1491h3M557 1495h3M566 1500h3M549 1519h3M749 1544h3M742 1515h3M566 1574h3M560 1588h3M568 1495h3M531 1509h3M587 1496h3M739 1481h3M586 1523h3M596 1510h3M609 1503h3M600 1505h3M751 1516h3M522 1552h3M742 1522h3M595 1514h3M595 1568h3M555 1515h3M747 1540h3M553 1525h3M733 1521h3M560 1517h3M616 1502h3M728 1497h3M571 1505h3M560 1517h3M559 1494h3M580 1489h3M569 1498h3M592 1545h3M788 1461h3M609 1513h3M592 1507h3M567 1493h3M588 1512h3M745 1483h3M572 1517h3M556 1493h3M718 1499h3M583 1506h3M563 1568h3M712 1529h3M581 1551h3M581 1512h3M753 1514h3M757 1510h3M612 1462h3M623 1522h3M578 1540h3M581 1571h3M574 1515h3M589 1523h3M764 1493h3M601 1587h3M579 1498h3M537 1513h3M635 1506h3M595 1571h3M756 1501h3M747 1483h3M585 1514h3M746 1529h3M765 1518h3M572 1515h3M558 1526h3M589 1511h3M709 1471h3M578 1491h3M571 1543h3M593 1554h3M575 1492h3M746 1490h3M752 1500h3M765 1458h3M751 1522h3M754 1518h3M770 1472h3M794 1504h3M594 1518h3M641 1585h3M556 1527h3M721 1516h3M581 1518h3M552 1545h3M740 1506h3M750 1491h3M741 1522h3M563 1594h3M573 1541h3M754 1502h3M524 1507h3M601 1494h3M640 1544h3M729 1504h3M557 1562h3M572 1505h3M602 1545h3M549 1497h3M576 1552h3M595 1501h3M738 1490h3M726 1530h3M578 1542h3M537 1524h3M759 1491h3M589 1509h3M577 1511h3M578 1515h3M762 1476h3M562 1527h3M571 1535h3M744 1526h3M615 1523h3M753 1476h3M575 1512h3M526 1568h3M582 1515h3M585 1492h3M573 1513h3M736 1555h3M574 1512h3M520 1508h3M598 1508h3M751 1562h3M754 1514h3M645 1427h3M532 1497h3M563 1511h3M745 1517h3M610 1545h3M735 1503h3M744 1485h3M556 1512h3M553 1526h3M570 1525h3M562 1490h3M606 1516h3M538 1581h3M628 1570h3M595 1489h3M737 1527h3M744 1491h3M573 1537h3M586 1501h3M569 1588h3M588 1512h3M566 1537h3M563 1555h3M748 1479h3M590 1523h3M577 1513h3M740 1527h3M742 1483h3M586 1545h3M598 1512h3M553 1545h3M592 1511h3M742 1490h3M578 1495h3M753 1507h3M623 1445h3M753 1478h3M617 1514h3M742 1495h3M764 1510h3M718 1543h3M553 1539h3M585 1508h3M592 1549h3M599 1508h3M591 1510h3M586 1517h3M576 1501h3M730 1491h3M773 1547h3M639 1495h3M757 1483h3M571 1585h3M581 1514h3M744 1497h3M589 1495h3M583 1517h3M563 1526h3M599 1511h3M543 1507h3M774 1479h3M775 1511h3M562 1522h3M568 1525h3M567 1506h3M588 1522h3M593 1504h3M535 1511h3M575 1492h3M594 1505h3M587 1530h3M558 1504h3M732 1473h3M551 1510h3M609 1491h3M739 1502h3M601 1499h3M576 1517h3M721 1511h3M567 1520h3M552 1542h3M755 1505h3M588 1525h3M756 1529h3M740 1522h3M553 1531h3M533 1513h3M574 1507h3M752 1536h3M591 1520h3M751 1502h3M598 1551h3M597 1528h3M581 1531h3M709 1511h3M769 1497h3M533 1531h3M568 1543h3M555 1513h3M588 1523h3M606 1528h3M773 1467h3M579 1510h3M738 1516h3M561 1546h3M606 1506h3M559 1515h3M578 1521h3M583 1523h3M596 1506h3M555 1414h3M774 1505h3M754 1487h3M580 1524h3M743 1532h3M586 1519h3M606 1534h3M600 1598h3M643 1501h3M640 1524h3M759 1509h3M742 1537h3M756 1490h3M604 1500h3M600 1511h3M589 1502h3M600 1505h3M592 1496h3M577 1521h3M627 1528h3M590 1514h3M583 1516h3M616 1491h3M592 1506h3M589 1529h3M601 1509h3M565 1531h3M587 1536h3M738 1481h3M615 1531h3M575 1515h3M760 1468h3M737 1483h3M580 1495h3M572 1525h3M573 1492h3M580 1507h3M571 1523h3M557 1511h3M714 1404h3M594 1524h3M789 1510h3M556 1516h3M567 1500h3M752 1504h3M612 1430h3M557 1509h3M615 1514h3M597 1533h3M523 1494h3M587 1509h3M542 1502h3M644 1519h3M564 1525h3M594 1516h3M572 1517h3M751 1476h3M575 1511h3M756 1505h3M611 1554h3M571 1541h3M589 1521h3M534 1491h3M578 1539h3M569 1495h3M556 1501h3M571 1527h3M550 1495h3M603 1496h3M770 1501h3M752 1502h3M777 1475h3M614 1491h3M596 1493h3M547 1518h3M560 1523h3M609 1512h3M736 1494h3M563 1504h3M756 1475h3M593 1511h3M555 1512h3M577 1492h3M583 1512h3M764 1499h3M578 1515h3M578 1514h3M574 1533h3M582 1525h3M581 1516h3M617 1504h3M550 1540h3M752 1453h3M616 1557h3M752 1500h3M603 1516h3M570 1497h3M756 1490h3M541 1492h3M748 1523h3M568 1527h3M779 1557h3M588 1540h3M559 1536h3M592 1536h3M739 1480h3M596 1526h3M723 1544h3M561 1519h3M575 1523h3M582 1529h3M597 1506h3M746 1499h3M570 1519h3M533 1550h3M569 1503h3M602 1526h3M605 1575h3M605 1450h3M622 1515h3M749 1500h3M575 1498h3M613 1509h3M579 1507h3M746 1516h3M652 1501h3M747 1487h3M763 1513h3M597 1513h3M589 1497h3M748 1531h3M580 1509h3M754 1482h3M565 1555h3M768 1527h3M579 1521h3M568 1538h3M566 1514h3M592 1509h3M604 1493h3M739 1509h3M641 1493h3M774 1485h3M718 1509h3M594 1516h3M600 1549h3M583 1507h3M537 1562h3M592 1506h3M771 1466h3M769 1524h3M555 1518h3M620 1455h3M747 1523h3M618 1558h3M583 1487h3M580 1492h3M606 1496h3M543 1493h3M761 1513h3M598 1513h3M642 1503h3M589 1567h3M552 1547h3M583 1512h3M563 1519h3M595 1516h3M559 1511h3M751 1481h3M569 1521h3M566 1527h3M588 1520h3M741 1520h3M583 1523h3M550 1530h3M750 1480h3M577 1509h3M528 1497h3M753 1487h3M609 1422h3M595 1576h3M569 1494h3M750 1501h3M737 1489h3M606 1559h3M612 1524h3M582 1536h3M596 1472h3M751 1501h3M556 1542h3M596 1516h3M587 1510h3M597 1509h3M745 1514h3M748 1502h3M602 1496h3M592 1576h3M573 1507h3M563 1517h3M573 1507h3M560 1533h3M747 1510h3" stroke="#000" stroke-opacity="0.5" stroke-width="3" fill="none"/>
<path d="M740 1481h3M614 1516h3M570 1540h3M713 1529h3M610 1530h3M600 1509h3M634 1490h3M775 1513h3M587 1501h3M560 1518h3M574 1458h3M603 1511h3M569 1523h3M748 1536h3M752 1497h3M536 1522h3M549 1505h3M760 1511h3M607 1504h3M571 1501h3M595 1509h3M565 1503h3M591 1495h3M577 1502h3M633 1493h3M745 1504h3M595 1502h3M603 1511h3M545 1531h3M598 1512h3M743 1499h3M561 1505h3M517 1545h3M566 1511h3M761 1536h3M585 1530h3M791 1506h3M759 1475h3M751 1477h3M547 1534h3M562 1509h3M564 1546h3M581 1511h3M557 1534h3M544 1512h3M557 1529h3M757 1520h3M596 1522h3M761 1501h3M656 1494h3M756 1514h3M726 1495h3M554 1501h3M761 1476h3M770 1512h3M561 1513h3M562 1557h3M553 1521h3M528 1540h3M586 1509h3M739 1477h3M590 1524h3M588 1517h3M766 1492h3M587 1501h3M750 1487h3M587 1547h3M563 1538h3M593 1510h3M771 1491h3M554 1505h3M568 1575h3M617 1478h3M588 1522h3M650 1497h3M573 1566h3M543 1516h3M556 1501h3M574 1519h3M759 1523h3M584 1516h3M570 1519h3M663 1517h3M601 1500h3M601 1523h3M594 1526h3M753 1527h3M603 1525h3M585 1514h3M558 1576h3M584 1499h3M585 1530h3M555 1509h3M789 1519h3M553 1501h3M550 1502h3M728 1539h3M713 1530h3M554 1494h3M704 1553h3M577 1498h3M600 1510h3M557 1518h3M600 1529h3M578 1513h3M588 1538h3M759 1494h3M758 1472h3M561 1519h3M563 1507h3M584 1507h3M560 1514h3M580 1545h3M726 1479h3M759 1528h3M559 1525h3M584 1503h3M745 1479h3M710 1538h3M573 1538h3M552 1515h3M580 1530h3M604 1474h3M749 1493h3M747 1466h3M750 1500h3M573 1519h3M566 1502h3M741 1510h3M570 1496h3M726 1512h3M613 1507h3M726 1482h3M542 1541h3M772 1455h3M746 1518h3M749 1514h3M616 1524h3M541 1497h3M585 1510h3M759 1513h3M733 1529h3M559 1496h3M579 1512h3M758 1498h3M510 1525h3M756 1507h3M766 1519h3M580 1493h3M763 1510h3M613 1516h3M741 1520h3M588 1510h3M757 1494h3M592 1543h3M781 1479h3M587 1498h3M595 1503h3M557 1517h3M586 1514h3M758 1539h3M734 1498h3M572 1496h3M560 1493h3M748 1472h3M721 1524h3M571 1497h3M619 1430h3M555 1507h3M571 1492h3M621 1500h3M583 1531h3M751 1496h3M603 1504h3M527 1493h3M533 1502h3M584 1508h3M756 1546h3M578 1518h3M739 1507h3M745 1498h3M551 1527h3M596 1548h3M539 1550h3M574 1528h3M527 1552h3M601 1493h3M554 1492h3M609 1504h3M543 1547h3M584 1523h3M565 1526h3M770 1546h3M541 1512h3M592 1501h3M614 1512h3M732 1535h3M559 1501h3M760 1525h3M550 1510h3M763 1536h3M564 1523h3M770 1492h3M728 1508h3M615 1509h3M620 1528h3M572 1509h3M528 1576h3M615 1497h3M590 1518h3M576 1507h3M756 1504h3M612 1522h3M545 1505h3M733 1553h3M739 1471h3M554 1514h3M609 1558h3M782 1534h3M566 1505h3M581 1507h3M741 1509h3M533 1500h3M600 1508h3M749 1529h3M576 1537h3M576 1504h3M591 1505h3M569 1516h3M564 1527h3M763 1495h3M558 1497h3M745 1484h3M574 1546h3M745 1504h3M580 1492h3M568 1523h3M582 1516h3M614 1499h3M583 1517h3M592 1510h3M581 1497h3M758 1512h3M573 1571h3M747 1478h3M768 1482h3M590 1541h3M754 1503h3M733 1498h3M558 1494h3M600 1547h3M607 1538h3M599 1568h3M610 1512h3M574 1536h3M773 1550h3M761 1502h3M576 1610h3M765 1517h3M747 1493h3M762 1544h3M566 1514h3M595 1512h3M569 1523h3M568 1491h3M770 1547h3M577 1513h3M585 1508h3M582 1524h3M585 1518h3M581 1501h3M766 1496h3M583 1503h3M561 1509h3M763 1473h3M574 1509h3M765 1526h3M564 1515h3M599 1502h3M602 1517h3M559 1497h3M594 1510h3M555 1588h3M738 1509h3M602 1574h3M772 1496h3M571 1532h3M607 1514h3M581 1584h3M549 1490h3M561 1512h3M748 1513h3M570 1503h3M749 1511h3M566 1543h3M567 1513h3M552 1541h3M565 1520h3M581 1510h3M593 1536h3M556 1506h3M581 1518h3M604 1505h3M564 1516h3M583 1502h3M587 1517h3M732 1515h3M599 1528h3M597 1513h3M610 1511h3M594 1517h3M554 1507h3M614 1516h3M597 1534h3M573 1499h3M577 1515h3M728 1475h3M585 1504h3M752 1534h3M567 1509h3M572 1611h3M726 1525h3M582 1494h3M555 1504h3M558 1491h3M559 1528h3M767 1501h3M575 1493h3M590 1519h3M566 1513h3M556 1531h3M557 1494h3M563 1506h3M562 1498h3M566 1508h3M757 1490h3M769 1491h3M614 1527h3M758 1485h3M575 1511h3M757 1485h3M760 1490h3M603 1495h3M750 1535h3M607 1545h3M605 1542h3M739 1520h3M600 1555h3M568 1498h3M581 1512h3M765 1505h3M562 1527h3M762 1517h3M575 1516h3M739 1509h3M546 1507h3M751 1509h3M591 1506h3M592 1512h3M599 1513h3M622 1501h3M759 1544h3M564 1515h3M566 1523h3M550 1508h3M573 1519h3M550 1505h3M718 1506h3M556 1550h3M594 1514h3M597 1550h3M578 1518h3M731 1487h3M751 1505h3M756 1558h3M755 1537h3M579 1502h3M741 1491h3M561 1502h3M764 1472h3M776 1514h3M728 1527h3M589 1522h3M587 1538h3M546 1533h3M759 1515h3M747 1510h3M582 1507h3M785 1520h3M713 1517h3M755 1525h3M555 1503h3M570 1529h3M748 1499h3M580 1496h3M539 1505h3M542 1507h3M573 1508h3M596 1551h3M575 1512h3M754 1543h3M597 1527h3M736 1544h3M568 1506h3M742 1490h3M556 1540h3M593 1496h3M639 1549h3M577 1508h3M565 1509h3M594 1499h3M743 1533h3M583 1497h3M765 1473h3M578 1507h3M718 1501h3M763 1527h3M751 1508h3M766 1449h3M584 1599h3M559 1517h3M536 1538h3M587 1529h3M569 1519h3M579 1501h3M768 1513h3M563 1498h3M765 1456h3M616 1516h3M550 1501h3M551 1515h3M594 1542h3M565 1508h3M730 1508h3M598 1524h3M580 1532h3M590 1537h3M729 1507h3M771 1484h3M592 1504h3M734 1501h3M784 1527h3M771 1501h3M768 1486h3M758 1523h3M738 1478h3M581 1516h3M595 1492h3M565 1512h3M730 1565h3M513 1491h3M741 1494h3M552 1498h3M593 1510h3M535 1520h3M588 1575h3M598 1518h3M518 1540h3M733 1560h3M771 1513h3M551 1503h3M640 1498h3M564 1497h3M588 1512h3M772 1489h3M576 1513h3M767 1518h3M553 1502h3M581 1519h3M562 1517h3M564 1532h3M764 1517h3M593 1508h3M608 1539h3M547 1551h3M752 1511h3M761 1475h3M548 1493h3M586 1505h3M573 1511h3M642 1457h3M777 1498h3M608 1554h3M765 1528h3M738 1506h3M574 1505h3M568 1512h3M570 1497h3M562 1507h3M551 1513h3M567 1555h3M567 1512h3M731 1534h3M544 1492h3M581 1501h3M555 1507h3M746 1520h3M765 1472h3M590 1501h3M746 1462h3M558 1495h3M778 1530h3M545 1511h3M575 1506h3M746 1492h3M556 1532h3M600 1501h3M575 1534h3M580 1523h3M598 1505h3M536 1527h3M751 1539h3M756 1474h3M752 1489h3M729 1482h3M589 1507h3M747 1476h3M595 1549h3M748 1552h3M621 1504h3M569 1509h3M575 1523h3M765 1491h3M770 1550h3M557 1511h3M551 1527h3M597 1512h3M573 1505h3M753 1546h3M589 1507h3M725 1526h3M513 1537h3M584 1526h3M560 1505h3M569 1499h3M593 1515h3M567 1494h3M763 1495h3M602 1498h3M593 1519h3M610 1513h3M602 1450h3M559 1536h3M586 1498h3M583 1542h3M579 1506h3M700 1517h3M599 1494h3M587 1521h3M785 1539h3M578 1500h3M700 1493h3M787 1504h3M586 1531h3M752 1503h3M543 1602h3M596 1494h3M735 1494h3M576 1499h3M737 1488h3M759 1521h3M615 1468h3M582 1518h3M748 1502h3M722 1513h3M614 1520h3M627 1525h3M564 1513h3M605 1515h3M607 1518h3M580 1580h3M716 1536h3M645 1479h3M564 1519h3M741 1525h3M761 1503h3M764 1492h3M591 1529h3M772 1560h3M637 1535h3M614 1493h3M582 1518h3M780 1513h3M746 1490h3M561 1522h3M570 1528h3M602 1532h3M604 1533h3M585 1508h3M585 1511h3M571 1525h3M579 1551h3M762 1516h3M569 1530h3M585 1514h3M586 1541h3M561 1506h3M593 1531h3M524 1526h3M741 1474h3M589 1497h3M632 1531h3M732 1503h3M593 1525h3M751 1499h3M566 1514h3M537 1511h3M582 1505h3M637 1514h3M574 1502h3M536 1521h3M546 1526h3M755 1503h3M636 1529h3M592 1465h3M768 1540h3M749 1489h3M774 1517h3M578 1519h3M759 1542h3M605 1500h3M758 1525h3M608 1524h3M570 1529h3M745 1530h3M575 1518h3M554 1525h3M585 1517h3M715 1518h3M753 1535h3M577 1502h3M566 1515h3M564 1444h3M576 1494h3M591 1537h3M566 1504h3M717 1486h3M606 1504h3M639 1520h3M571 1496h3M559 1563h3M571 1515h3M746 1543h3M543 1521h3M563 1448h3M599 1528h3M593 1520h3M592 1501h3M590 1509h3M626 1514h3M762 1523h3M747 1511h3M560 1502h3M577 1574h3M556 1507h3M754 1512h3M565 1532h3M572 1575h3M572 1495h3M751 1511h3M628 1450h3M567 1510h3M599 1512h3M710 1494h3M564 1515h3M574 1497h3M751 1494h3M752 1497h3M562 1508h3M569 1540h3M525 1530h3M606 1511h3M730 1509h3M568 1533h3M617 1526h3M587 1523h3M610 1516h3M574 1431h3M558 1514h3M558 1567h3M555 1531h3M712 1562h3M631 1517h3M572 1521h3M585 1522h3M770 1482h3M558 1516h3M755 1506h3M574 1510h3M587 1516h3M747 1555h3M626 1500h3M527 1580h3M584 1491h3M573 1584h3M586 1520h3M613 1530h3M591 1522h3M581 1527h3M723 1523h3M609 1577h3M572 1502h3M596 1585h3M579 1535h3M585 1523h3M581 1516h3M567 1506h3M767 1494h3M593 1504h3M535 1592h3M548 1522h3M613 1530h3M562 1527h3M589 1513h3M571 1526h3M553 1522h3M586 1491h3M771 1572h3M741 1563h3M609 1489h3M548 1533h3M756 1525h3M750 1518h3M566 1521h3M606 1496h3M575 1525h3M571 1530h3M615 1555h3M565 1510h3M742 1495h3M790 1545h3M739 1488h3M597 1515h3M573 1513h3M582 1523h3M758 1602h3M585 1535h3M758 1514h3M750 1509h3M575 1511h3M632 1551h3M549 1573h3M567 1511h3M774 1511h3M608 1511h3M748 1546h3M572 1508h3M543 1588h3M533 1602h3M534 1520h3M586 1557h3M565 1504h3M790 1537h3M766 1500h3M777 1494h3M745 1606h3M546 1561h3M580 1505h3M733 1486h3M727 1541h3M584 1516h3M578 1535h3M590 1494h3M591 1508h3M578 1503h3M575 1512h3M765 1486h3M588 1526h3M579 1527h3M744 1544h3M570 1522h3M532 1560h3M551 1531h3M747 1518h3M586 1523h3M590 1498h3M742 1529h3M587 1514h3M767 1491h3M745 1533h3M520 1514h3M584 1519h3M567 1515h3M587 1587h3M588 1506h3M533 1543h3M743 1523h3M599 1537h3M586 1578h3M556 1535h3M591 1500h3M544 1539h3M797 1517h3M561 1539h3M592 1506h3M763 1544h3M759 1509h3M756 1492h3M750 1517h3M743 1491h3M563 1503h3M728 1520h3M572 1555h3M571 1500h3M749 1543h3M531 1504h3M755 1512h3M747 1511h3M562 1524h3M587 1509h3M744 1519h3M596 1524h3M527 1514h3M729 1511h3M755 1504h3M758 1518h3M545 1535h3M586 1524h3M524 1507h3M550 1500h3M563 1518h3M567 1502h3M594 1506h3M570 1496h3M722 1512h3M554 1520h3M601 1554h3M600 1577h3M753 1481h3M578 1509h3M548 1508h3M514 1523h3M795 1562h3M750 1513h3M576 1520h3M565 1542h3M535 1505h3M612 1519h3M570 1562h3M584 1506h3M562 1559h3M752 1464h3M548 1535h3M614 1516h3M572 1506h3M558 1523h3M743 1521h3M551 1571h3M731 1540h3M573 1526h3M561 1557h3M721 1523h3M762 1520h3M559 1500h3M591 1506h3M579 1500h3M607 1505h3M594 1489h3M594 1507h3M586 1495h3M564 1511h3M566 1539h3M604 1519h3M555 1510h3M592 1518h3M595 1511h3M554 1501h3M553 1495h3M553 1534h3M596 1558h3M759 1514h3M582 1513h3M600 1539h3M580 1507h3M590 1496h3M575 1506h3M609 1507h3M571 1506h3M783 1517h3M745 1496h3M755 1523h3M759 1483h3M555 1545h3M547 1505h3M572 1503h3M603 1499h3M615 1507h3M725 1518h3M756 1470h3M576 1545h3M567 1501h3M571 1501h3M546 1526h3M748 1527h3M604 1537h3M588 1503h3M575 1502h3M577 1515h3M563 1503h3M619 1569h3M536 1515h3M616 1518h3M754 1491h3M556 1531h3M736 1495h3M795 1515h3M570 1407h3M644 1511h3M579 1527h3M753 1449h3M614 1502h3M561 1520h3M591 1574h3M578 1535h3M695 1528h3M529 1542h3M573 1554h3M583 1496h3M734 1548h3M583 1513h3M595 1541h3M575 1501h3M566 1528h3M591 1496h3M603 1581h3M585 1511h3M612 1498h3M556 1585h3M622 1522h3M600 1526h3M740 1484h3M601 1550h3M741 1499h3M579 1503h3M551 1543h3M596 1515h3M537 1515h3M591 1516h3" stroke="#000" stroke-opacity="0.5" stroke-width="3" fill="none"/>
</g></g>
<ellipse cx="156.5" cy="474.3" rx="40" ry="14" transform="rotate(-23 156.5 474.3)" fill="none" stroke="#000" stroke-width="2"/>
<ellipse cx="336.3" cy="470.8" rx="44.5" ry="14.5" transform="rotate(-19.2 336.3 470.8)" fill="none" stroke="#000" stroke-width="2"/>
</g>
</svg></body></html>
